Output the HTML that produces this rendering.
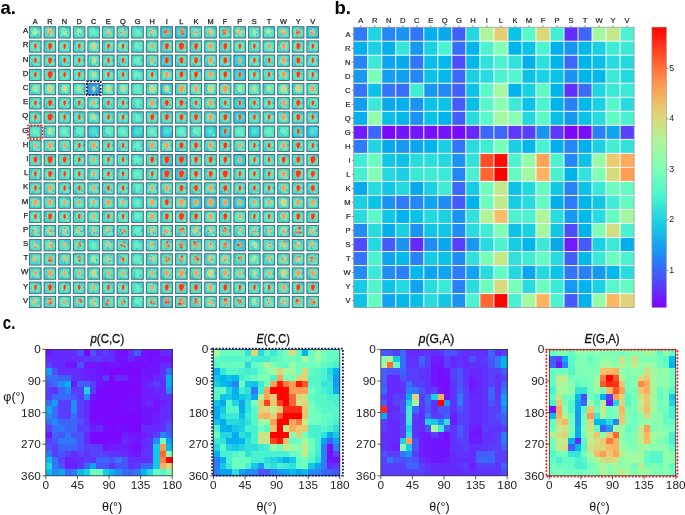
<!DOCTYPE html>
<html><head><meta charset="utf-8"><style>
html,body{margin:0;padding:0;background:#fff;width:685px;height:515px;overflow:hidden;font-family:"Liberation Sans",sans-serif;}
svg{display:block;will-change:transform;}
</style></head><body>
<svg width="685" height="515" viewBox="0 0 685 515">
<defs>
<radialGradient id="tg" cx="50%" cy="48%" r="62%">
<stop offset="0" stop-color="#78f2be"/><stop offset="0.45" stop-color="#60eac6"/><stop offset="0.78" stop-color="#48dcd2"/><stop offset="1" stop-color="#32c8e0"/></radialGradient>
<radialGradient id="tb" cx="50%" cy="48%" r="62%">
<stop offset="0" stop-color="#5ae6ca"/><stop offset="0.45" stop-color="#40d8d6"/><stop offset="0.75" stop-color="#2cc4e2"/><stop offset="1" stop-color="#20aaec"/></radialGradient>
<radialGradient id="tc" cx="50%" cy="48%" r="62%">
<stop offset="0" stop-color="#3cc0e8"/><stop offset="0.5" stop-color="#2aa0f0"/><stop offset="0.85" stop-color="#2490f0"/><stop offset="1" stop-color="#20a8ec"/></radialGradient>
<g id="s0"><ellipse cx="7.7" cy="1.9" rx="0.9" ry="1.0" fill="#22aaec" opacity="0.77"/><ellipse cx="3.3" cy="2.0" rx="0.8" ry="0.8" fill="#3ad0dc" opacity="0.60"/><ellipse cx="9.5" cy="2.3" rx="0.7" ry="1.2" fill="#22aaec" opacity="0.65"/><ellipse cx="5.2" cy="10.2" rx="0.5" ry="1.5" fill="#30c8e0" opacity="0.60"/><ellipse cx="2.2" cy="6.5" rx="0.7" ry="0.7" fill="#22aaec" opacity="0.65"/><ellipse cx="5.9" cy="9.7" rx="0.8" ry="0.8" fill="#28b8e8" opacity="0.69"/><ellipse cx="3.6" cy="6.5" rx="0.9" ry="1.5" fill="#84f4b6" opacity="0.55"/><ellipse cx="11.0" cy="2.3" rx="0.8" ry="1.4" fill="#28b8e8" opacity="0.78"/><ellipse cx="5.4" cy="10.1" rx="0.6" ry="1.2" fill="#30c8e0" opacity="0.57"/></g>
<g id="s1"><ellipse cx="9.2" cy="1.8" rx="0.6" ry="0.9" fill="#22aaec" opacity="0.47"/><ellipse cx="11.1" cy="8.8" rx="0.7" ry="1.0" fill="#30c8e0" opacity="0.46"/><ellipse cx="2.4" cy="1.7" rx="1.1" ry="0.7" fill="#28b8e8" opacity="0.59"/><ellipse cx="10.4" cy="5.8" rx="0.6" ry="1.0" fill="#30c8e0" opacity="0.76"/><ellipse cx="9.4" cy="9.1" rx="0.7" ry="1.0" fill="#30c8e0" opacity="0.69"/><ellipse cx="2.0" cy="2.6" rx="1.0" ry="0.6" fill="#3ad0dc" opacity="0.51"/><ellipse cx="9.8" cy="9.9" rx="1.0" ry="1.3" fill="#84f4b6" opacity="0.76"/><ellipse cx="9.0" cy="9.2" rx="1.1" ry="1.0" fill="#84f4b6" opacity="0.59"/><ellipse cx="3.1" cy="10.3" rx="0.9" ry="0.7" fill="#3ad0dc" opacity="0.47"/></g>
<g id="s2"><ellipse cx="1.2" cy="2.6" rx="0.6" ry="1.0" fill="#22aaec" opacity="0.47"/><ellipse cx="3.3" cy="4.7" rx="1.0" ry="1.6" fill="#3ad0dc" opacity="0.58"/><ellipse cx="2.4" cy="9.0" rx="1.3" ry="1.1" fill="#84f4b6" opacity="0.56"/><ellipse cx="2.6" cy="8.1" rx="1.1" ry="1.1" fill="#28b8e8" opacity="0.63"/><ellipse cx="3.3" cy="10.0" rx="0.8" ry="1.3" fill="#22aaec" opacity="0.72"/><ellipse cx="2.1" cy="9.0" rx="0.9" ry="1.5" fill="#30c8e0" opacity="0.72"/><ellipse cx="9.3" cy="10.3" rx="1.2" ry="1.4" fill="#84f4b6" opacity="0.71"/><ellipse cx="3.5" cy="6.0" rx="0.8" ry="0.6" fill="#22aaec" opacity="0.73"/><ellipse cx="9.3" cy="7.9" rx="0.8" ry="1.6" fill="#22aaec" opacity="0.53"/></g>
<g id="s3"><ellipse cx="3.5" cy="3.0" rx="0.7" ry="1.2" fill="#3ad0dc" opacity="0.74"/><ellipse cx="9.2" cy="2.0" rx="1.0" ry="1.5" fill="#28b8e8" opacity="0.62"/><ellipse cx="3.0" cy="8.5" rx="0.8" ry="1.4" fill="#84f4b6" opacity="0.61"/><ellipse cx="2.8" cy="10.3" rx="0.5" ry="1.2" fill="#84f4b6" opacity="0.73"/><ellipse cx="2.7" cy="8.8" rx="1.3" ry="1.3" fill="#30c8e0" opacity="0.50"/><ellipse cx="6.7" cy="1.4" rx="1.1" ry="1.3" fill="#22aaec" opacity="0.63"/><ellipse cx="10.5" cy="5.2" rx="1.2" ry="1.4" fill="#28b8e8" opacity="0.46"/><ellipse cx="3.3" cy="5.8" rx="1.1" ry="0.9" fill="#3ad0dc" opacity="0.60"/><ellipse cx="2.5" cy="9.6" rx="0.8" ry="1.1" fill="#3ad0dc" opacity="0.74"/></g>
<g id="s4"><ellipse cx="10.0" cy="2.4" rx="0.6" ry="1.1" fill="#84f4b6" opacity="0.72"/><ellipse cx="2.7" cy="2.5" rx="1.0" ry="0.7" fill="#22aaec" opacity="0.56"/><ellipse cx="9.0" cy="2.2" rx="0.9" ry="0.8" fill="#30c8e0" opacity="0.46"/><ellipse cx="2.2" cy="5.4" rx="0.5" ry="1.5" fill="#22aaec" opacity="0.61"/><ellipse cx="6.0" cy="9.9" rx="1.1" ry="1.5" fill="#30c8e0" opacity="0.77"/><ellipse cx="10.1" cy="3.1" rx="0.9" ry="1.0" fill="#84f4b6" opacity="0.60"/><ellipse cx="1.9" cy="3.4" rx="0.6" ry="1.3" fill="#22aaec" opacity="0.76"/><ellipse cx="2.7" cy="7.8" rx="1.0" ry="0.7" fill="#28b8e8" opacity="0.79"/><ellipse cx="3.4" cy="10.0" rx="0.8" ry="1.1" fill="#28b8e8" opacity="0.51"/></g>
<g id="s5"><ellipse cx="1.4" cy="6.3" rx="0.9" ry="0.6" fill="#30c8e0" opacity="0.63"/><ellipse cx="4.2" cy="10.0" rx="0.6" ry="1.5" fill="#28b8e8" opacity="0.79"/><ellipse cx="2.2" cy="3.6" rx="0.5" ry="1.4" fill="#30c8e0" opacity="0.71"/><ellipse cx="9.4" cy="9.0" rx="1.0" ry="1.5" fill="#84f4b6" opacity="0.50"/><ellipse cx="10.4" cy="6.4" rx="1.1" ry="0.7" fill="#22aaec" opacity="0.73"/><ellipse cx="3.0" cy="9.4" rx="0.7" ry="0.6" fill="#22aaec" opacity="0.73"/><ellipse cx="2.0" cy="9.1" rx="0.6" ry="1.5" fill="#84f4b6" opacity="0.45"/><ellipse cx="11.1" cy="5.0" rx="1.2" ry="1.2" fill="#22aaec" opacity="0.63"/><ellipse cx="3.6" cy="2.2" rx="0.6" ry="0.7" fill="#28b8e8" opacity="0.78"/></g>
<linearGradient id="cb" x1="0" y1="1" x2="0" y2="0">
<stop offset="0.0" stop-color="#8000ff"/>
<stop offset="0.1" stop-color="#4c4ffc"/>
<stop offset="0.2" stop-color="#1996f3"/>
<stop offset="0.3" stop-color="#19cee3"/>
<stop offset="0.4" stop-color="#4df3ce"/>
<stop offset="0.5" stop-color="#80ffb4"/>
<stop offset="0.6" stop-color="#b2f396"/>
<stop offset="0.7" stop-color="#e5ce74"/>
<stop offset="0.8" stop-color="#ff964f"/>
<stop offset="0.9" stop-color="#ff4f28"/>
<stop offset="1.0" stop-color="#ff0000"/>
</linearGradient></defs>
<rect width="685" height="515" fill="#fff"/>
<g>
<rect x="29.1" y="26.3" width="12.4" height="12.1" fill="url(#tg)"/>
<use href="#s0" x="29.1" y="26.3"/>
<ellipse cx="35.5" cy="32.05" rx="2.05" ry="3.5" fill="#b8ec98" opacity="0.55"/>
<ellipse cx="36.88" cy="33.49" rx="0.8" ry="0.96" fill="#e8cc7c"/>
<ellipse cx="35.55" cy="31.52" rx="0.95" ry="0.99" fill="#e8cc7c"/>
<ellipse cx="35.41" cy="32.52" rx="1" ry="1.08" fill="#b8ec98"/>
<ellipse cx="34.63" cy="33.48" rx="0.88" ry="0.96" fill="#b8ec98"/>
<circle cx="37.79" cy="35.14" r="0.6" fill="#2a78f0" opacity="0.8"/>
<circle cx="37.24" cy="34.62" r="0.6" fill="#2a78f0" opacity="0.8"/>
<rect x="43.7" y="26.3" width="12.4" height="12.1" fill="url(#tg)"/>
<use href="#s3" x="43.7" y="26.3"/>
<ellipse cx="50.1" cy="32.05" rx="2.75" ry="3.9" fill="#f0c078" opacity="0.55"/>
<ellipse cx="48.64" cy="34" rx="1.34" ry="0.96" fill="#ff9a5a"/>
<ellipse cx="50.08" cy="31.77" rx="1.27" ry="1.22" fill="#ff9a5a"/>
<ellipse cx="48.48" cy="29.41" rx="1.38" ry="1.05" fill="#f0c078"/>
<ellipse cx="51.15" cy="29.26" rx="1.15" ry="1.19" fill="#f0c078"/>
<circle cx="48.58" cy="34.9" r="0.6" fill="#2a78f0" opacity="0.8"/>
<circle cx="52.35" cy="29.05" r="0.6" fill="#2a78f0" opacity="0.8"/>
<rect x="58.3" y="26.3" width="12.4" height="12.1" fill="url(#tg)"/>
<use href="#s0" x="58.3" y="26.3"/>
<ellipse cx="64.7" cy="32.05" rx="2.05" ry="3.5" fill="#b8ec98" opacity="0.55"/>
<ellipse cx="66.52" cy="34.56" rx="0.65" ry="0.88" fill="#e8cc7c"/>
<ellipse cx="66.04" cy="33.37" rx="0.9" ry="0.99" fill="#e8cc7c"/>
<ellipse cx="65.12" cy="32.65" rx="0.87" ry="0.92" fill="#b8ec98"/>
<ellipse cx="64.42" cy="31.45" rx="0.92" ry="1.32" fill="#b8ec98"/>
<circle cx="67.22" cy="32.33" r="0.6" fill="#2a78f0" opacity="0.8"/>
<circle cx="64.39" cy="30.57" r="0.6" fill="#2a78f0" opacity="0.8"/>
<rect x="72.9" y="26.3" width="12.4" height="12.1" fill="url(#tg)"/>
<use href="#s3" x="72.9" y="26.3"/>
<ellipse cx="79.3" cy="32.05" rx="2.05" ry="3.5" fill="#b8ec98" opacity="0.55"/>
<ellipse cx="78.25" cy="32.3" rx="0.78" ry="1.13" fill="#e8cc7c"/>
<ellipse cx="79.8" cy="29.62" rx="0.63" ry="1.24" fill="#e8cc7c"/>
<ellipse cx="78.34" cy="30.56" rx="1.04" ry="1.07" fill="#b8ec98"/>
<ellipse cx="80.65" cy="31.92" rx="0.89" ry="0.91" fill="#b8ec98"/>
<circle cx="80.06" cy="34.41" r="0.6" fill="#2a78f0" opacity="0.8"/>
<circle cx="79.43" cy="33.59" r="0.6" fill="#2a78f0" opacity="0.8"/>
<rect x="87.5" y="26.3" width="12.4" height="12.1" fill="url(#tg)"/>
<use href="#s0" x="87.5" y="26.3"/>
<rect x="102.1" y="26.3" width="12.4" height="12.1" fill="url(#tg)"/>
<use href="#s3" x="102.1" y="26.3"/>
<ellipse cx="108.5" cy="32.05" rx="2.05" ry="3.5" fill="#f0c078" opacity="0.55"/>
<ellipse cx="108.99" cy="33.4" rx="0.95" ry="1.29" fill="#ff9a5a"/>
<ellipse cx="109.46" cy="34.42" rx="0.64" ry="1.06" fill="#ff9a5a"/>
<ellipse cx="110.27" cy="32.88" rx="1" ry="0.89" fill="#f0c078"/>
<ellipse cx="108.38" cy="30.63" rx="0.85" ry="1.12" fill="#f0c078"/>
<circle cx="105.77" cy="30.24" r="0.6" fill="#2a78f0" opacity="0.8"/>
<circle cx="107.27" cy="34.71" r="0.6" fill="#2a78f0" opacity="0.8"/>
<rect x="116.7" y="26.3" width="12.4" height="12.1" fill="url(#tg)"/>
<use href="#s0" x="116.7" y="26.3"/>
<ellipse cx="123.1" cy="32.05" rx="2.05" ry="3.5" fill="#f0c078" opacity="0.55"/>
<ellipse cx="124.27" cy="33.85" rx="0.83" ry="0.97" fill="#ff9a5a"/>
<ellipse cx="121.1" cy="32.96" rx="0.82" ry="1.2" fill="#ff9a5a"/>
<ellipse cx="122.59" cy="33.56" rx="0.74" ry="1.22" fill="#f0c078"/>
<ellipse cx="124.02" cy="31.57" rx="0.85" ry="1.17" fill="#f0c078"/>
<circle cx="121.38" cy="32.39" r="0.6" fill="#2a78f0" opacity="0.8"/>
<circle cx="124.81" cy="30.55" r="0.6" fill="#2a78f0" opacity="0.8"/>
<rect x="131.3" y="26.3" width="12.4" height="12.1" fill="url(#tg)"/>
<use href="#s3" x="131.3" y="26.3"/>
<rect x="145.9" y="26.3" width="12.4" height="12.1" fill="url(#tg)"/>
<use href="#s0" x="145.9" y="26.3"/>
<ellipse cx="152.3" cy="32.05" rx="2.05" ry="3.5" fill="#f0c078" opacity="0.55"/>
<ellipse cx="151.21" cy="34.64" rx="0.68" ry="1.18" fill="#ff9a5a"/>
<ellipse cx="150.64" cy="30.64" rx="1.04" ry="0.94" fill="#ff9a5a"/>
<ellipse cx="152.87" cy="31.82" rx="0.81" ry="1.08" fill="#f0c078"/>
<ellipse cx="151.07" cy="33.9" rx="0.66" ry="0.95" fill="#f0c078"/>
<circle cx="149.61" cy="30.56" r="0.6" fill="#2a78f0" opacity="0.8"/>
<circle cx="151.78" cy="34.62" r="0.6" fill="#2a78f0" opacity="0.8"/>
<rect x="160.5" y="26.3" width="12.4" height="12.1" fill="url(#tb)"/>
<use href="#s3" x="160.5" y="26.3"/>
<ellipse cx="166.9" cy="32.05" rx="2.75" ry="3.9" fill="#ff9050" opacity="0.55"/>
<ellipse cx="166.75" cy="31.34" rx="0.97" ry="1.26" fill="#ff3518"/>
<ellipse cx="164.93" cy="32.07" rx="1.42" ry="0.88" fill="#ff3518"/>
<ellipse cx="167.12" cy="32.7" rx="0.91" ry="1.02" fill="#ff9050"/>
<ellipse cx="167.71" cy="31.78" rx="1.32" ry="0.92" fill="#ff9050"/>
<circle cx="165.43" cy="29.56" r="0.6" fill="#2a78f0" opacity="0.8"/>
<circle cx="166.94" cy="34.76" r="0.6" fill="#2a78f0" opacity="0.8"/>
<rect x="175.1" y="26.3" width="12.4" height="12.1" fill="url(#tb)"/>
<use href="#s0" x="175.1" y="26.3"/>
<ellipse cx="181.5" cy="32.05" rx="2.75" ry="3.9" fill="#ff9050" opacity="0.55"/>
<ellipse cx="181.79" cy="31.65" rx="1.23" ry="0.94" fill="#ff3518"/>
<ellipse cx="182.75" cy="33.86" rx="1.27" ry="0.92" fill="#ff3518"/>
<ellipse cx="181.58" cy="31.09" rx="1.04" ry="1.3" fill="#ff9050"/>
<ellipse cx="183.49" cy="29.5" rx="1.4" ry="1.13" fill="#ff9050"/>
<circle cx="180.84" cy="30.67" r="0.6" fill="#2a78f0" opacity="0.8"/>
<circle cx="182.48" cy="31.77" r="0.6" fill="#2a78f0" opacity="0.8"/>
<rect x="189.7" y="26.3" width="12.4" height="12.1" fill="url(#tg)"/>
<use href="#s3" x="189.7" y="26.3"/>
<ellipse cx="196.1" cy="32.05" rx="2.05" ry="3.5" fill="#f0c078" opacity="0.55"/>
<ellipse cx="195.91" cy="32.38" rx="1.01" ry="1.06" fill="#ff9a5a"/>
<ellipse cx="196.13" cy="32.54" rx="0.7" ry="1.09" fill="#ff9a5a"/>
<ellipse cx="196.62" cy="33.69" rx="0.66" ry="0.99" fill="#f0c078"/>
<ellipse cx="194.46" cy="33.78" rx="0.91" ry="0.86" fill="#f0c078"/>
<circle cx="198.8" cy="35.02" r="0.6" fill="#2a78f0" opacity="0.8"/>
<circle cx="196.96" cy="32.79" r="0.6" fill="#2a78f0" opacity="0.8"/>
<rect x="204.3" y="26.3" width="12.4" height="12.1" fill="url(#tg)"/>
<use href="#s0" x="204.3" y="26.3"/>
<ellipse cx="210.7" cy="32.05" rx="2.75" ry="3.9" fill="#f0c078" opacity="0.55"/>
<ellipse cx="210.6" cy="32.93" rx="1.28" ry="0.91" fill="#ff9a5a"/>
<ellipse cx="208.74" cy="31.35" rx="1.05" ry="1.23" fill="#ff9a5a"/>
<ellipse cx="211.46" cy="32.62" rx="1.22" ry="1.16" fill="#f0c078"/>
<ellipse cx="209.28" cy="31.71" rx="0.98" ry="1.27" fill="#f0c078"/>
<circle cx="208.23" cy="34.09" r="0.6" fill="#2a78f0" opacity="0.8"/>
<circle cx="208.32" cy="33.25" r="0.6" fill="#2a78f0" opacity="0.8"/>
<rect x="218.9" y="26.3" width="12.4" height="12.1" fill="url(#tg)"/>
<use href="#s3" x="218.9" y="26.3"/>
<ellipse cx="225.3" cy="32.05" rx="2.75" ry="3.9" fill="#ff9050" opacity="0.55"/>
<ellipse cx="224.34" cy="33.09" rx="1.29" ry="1.25" fill="#ff3518"/>
<ellipse cx="224.04" cy="30.54" rx="0.98" ry="0.95" fill="#ff3518"/>
<ellipse cx="226.24" cy="29.98" rx="1.2" ry="0.94" fill="#ff9050"/>
<ellipse cx="224.48" cy="31.67" rx="1.38" ry="1.13" fill="#ff9050"/>
<circle cx="222.58" cy="30.62" r="0.6" fill="#2a78f0" opacity="0.8"/>
<circle cx="223.32" cy="34.43" r="0.6" fill="#2a78f0" opacity="0.8"/>
<rect x="233.5" y="26.3" width="12.4" height="12.1" fill="url(#tg)"/>
<use href="#s0" x="233.5" y="26.3"/>
<ellipse cx="239.9" cy="32.05" rx="2.75" ry="3.9" fill="#f0c078" opacity="0.55"/>
<ellipse cx="238.33" cy="33.18" rx="1.27" ry="1.29" fill="#ff9a5a"/>
<ellipse cx="238.98" cy="30.68" rx="1.32" ry="1.16" fill="#ff9a5a"/>
<ellipse cx="239.11" cy="33.08" rx="1.12" ry="1.21" fill="#f0c078"/>
<ellipse cx="238.37" cy="30.5" rx="1.42" ry="1.01" fill="#f0c078"/>
<circle cx="238.56" cy="34" r="0.6" fill="#2a78f0" opacity="0.8"/>
<circle cx="240.64" cy="29.81" r="0.6" fill="#2a78f0" opacity="0.8"/>
<rect x="248.1" y="26.3" width="12.4" height="12.1" fill="url(#tg)"/>
<use href="#s3" x="248.1" y="26.3"/>
<ellipse cx="254.5" cy="32.05" rx="2.05" ry="3.5" fill="#b8ec98" opacity="0.55"/>
<ellipse cx="256.36" cy="29.32" rx="0.93" ry="0.92" fill="#e8cc7c"/>
<ellipse cx="256.45" cy="29.34" rx="0.99" ry="1.17" fill="#e8cc7c"/>
<ellipse cx="255.93" cy="34.85" rx="0.72" ry="1" fill="#b8ec98"/>
<ellipse cx="255.33" cy="30.82" rx="0.73" ry="0.95" fill="#b8ec98"/>
<circle cx="256.5" cy="34.45" r="0.6" fill="#2a78f0" opacity="0.8"/>
<circle cx="256.17" cy="30.28" r="0.6" fill="#2a78f0" opacity="0.8"/>
<rect x="262.7" y="26.3" width="12.4" height="12.1" fill="url(#tg)"/>
<use href="#s0" x="262.7" y="26.3"/>
<ellipse cx="269.1" cy="32.05" rx="2.05" ry="3.5" fill="#b8ec98" opacity="0.55"/>
<ellipse cx="268.55" cy="31.94" rx="0.8" ry="1.05" fill="#e8cc7c"/>
<ellipse cx="268.74" cy="32.93" rx="0.73" ry="1.14" fill="#e8cc7c"/>
<ellipse cx="267.14" cy="30.94" rx="0.76" ry="0.91" fill="#b8ec98"/>
<ellipse cx="270.07" cy="30.99" rx="0.95" ry="1.3" fill="#b8ec98"/>
<circle cx="267.72" cy="34.57" r="0.6" fill="#2a78f0" opacity="0.8"/>
<circle cx="270.82" cy="33.12" r="0.6" fill="#2a78f0" opacity="0.8"/>
<rect x="277.3" y="26.3" width="12.4" height="12.1" fill="url(#tg)"/>
<use href="#s3" x="277.3" y="26.3"/>
<ellipse cx="283.7" cy="32.05" rx="2.75" ry="3.9" fill="#f0c078" opacity="0.55"/>
<ellipse cx="283.79" cy="33.77" rx="1.46" ry="0.98" fill="#ff9a5a"/>
<ellipse cx="284.76" cy="33.19" rx="1.28" ry="0.89" fill="#ff9a5a"/>
<ellipse cx="281.81" cy="31.4" rx="1.33" ry="0.96" fill="#f0c078"/>
<ellipse cx="283.71" cy="31.03" rx="1.39" ry="1.29" fill="#f0c078"/>
<circle cx="283.15" cy="35.24" r="0.6" fill="#2a78f0" opacity="0.8"/>
<circle cx="281.25" cy="34.05" r="0.6" fill="#2a78f0" opacity="0.8"/>
<rect x="291.9" y="26.3" width="12.4" height="12.1" fill="url(#tg)"/>
<use href="#s0" x="291.9" y="26.3"/>
<ellipse cx="298.3" cy="32.05" rx="2.75" ry="3.9" fill="#ff9050" opacity="0.55"/>
<ellipse cx="297.03" cy="32.95" rx="1.09" ry="0.94" fill="#ff3518"/>
<ellipse cx="298.26" cy="32.02" rx="1.17" ry="1.06" fill="#ff3518"/>
<ellipse cx="297.36" cy="30.67" rx="1.3" ry="1" fill="#ff9050"/>
<ellipse cx="299" cy="33.66" rx="1.4" ry="1.29" fill="#ff9050"/>
<circle cx="296.81" cy="30.37" r="0.6" fill="#2a78f0" opacity="0.8"/>
<circle cx="299.62" cy="32.53" r="0.6" fill="#2a78f0" opacity="0.8"/>
<rect x="306.5" y="26.3" width="12.4" height="12.1" fill="url(#tb)"/>
<use href="#s3" x="306.5" y="26.3"/>
<ellipse cx="312.9" cy="32.05" rx="2.75" ry="3.9" fill="#f0c078" opacity="0.55"/>
<ellipse cx="313.61" cy="33.65" rx="1.2" ry="1.09" fill="#ff9a5a"/>
<ellipse cx="312.47" cy="34.83" rx="1.06" ry="0.91" fill="#ff9a5a"/>
<ellipse cx="311.94" cy="30.71" rx="1.08" ry="0.97" fill="#f0c078"/>
<ellipse cx="311.33" cy="31.07" rx="1.07" ry="1.11" fill="#f0c078"/>
<circle cx="311.23" cy="29.3" r="0.6" fill="#2a78f0" opacity="0.8"/>
<circle cx="311.23" cy="32.32" r="0.6" fill="#2a78f0" opacity="0.8"/>
<rect x="29.1" y="40.49" width="12.4" height="12.1" fill="url(#tg)"/>
<use href="#s1" x="29.1" y="40.49"/>
<ellipse cx="35.5" cy="46.24" rx="1.85" ry="3.3" fill="#ff9050" opacity="0.7"/>
<ellipse cx="35.5" cy="45.59" rx="1.15" ry="1.95" fill="#ff3518"/>
<ellipse cx="35.3" cy="47.02" rx="0.8" ry="1.82" fill="#ff3518"/>
<rect x="43.7" y="40.49" width="12.4" height="12.1" fill="url(#tg)"/>
<use href="#s4" x="43.7" y="40.49"/>
<ellipse cx="50.1" cy="46.24" rx="2.55" ry="3.7" fill="#ff9050" opacity="0.7"/>
<ellipse cx="50.1" cy="45.49" rx="1.85" ry="2.25" fill="#ff3518"/>
<ellipse cx="49.9" cy="47.14" rx="1.29" ry="2.1" fill="#ff3518"/>
<rect x="58.3" y="40.49" width="12.4" height="12.1" fill="url(#tg)"/>
<use href="#s1" x="58.3" y="40.49"/>
<ellipse cx="64.7" cy="46.24" rx="1.85" ry="3.3" fill="#ff9050" opacity="0.7"/>
<ellipse cx="64.7" cy="45.59" rx="1.15" ry="1.95" fill="#ff3518"/>
<ellipse cx="64.5" cy="47.02" rx="0.8" ry="1.82" fill="#ff3518"/>
<rect x="72.9" y="40.49" width="12.4" height="12.1" fill="url(#tg)"/>
<use href="#s4" x="72.9" y="40.49"/>
<ellipse cx="79.3" cy="46.24" rx="1.85" ry="3.3" fill="#ff9050" opacity="0.7"/>
<ellipse cx="79.3" cy="45.59" rx="1.15" ry="1.95" fill="#ff3518"/>
<ellipse cx="79.1" cy="47.02" rx="0.8" ry="1.82" fill="#ff3518"/>
<rect x="87.5" y="40.49" width="12.4" height="12.1" fill="url(#tg)"/>
<use href="#s1" x="87.5" y="40.49"/>
<ellipse cx="93.9" cy="46.24" rx="2.55" ry="3.7" fill="#b8ec98" opacity="0.7"/>
<ellipse cx="93.9" cy="45.49" rx="1.85" ry="2.25" fill="#e8cc7c"/>
<ellipse cx="93.7" cy="47.14" rx="1.29" ry="2.1" fill="#e8cc7c"/>
<rect x="102.1" y="40.49" width="12.4" height="12.1" fill="url(#tg)"/>
<use href="#s4" x="102.1" y="40.49"/>
<ellipse cx="108.5" cy="46.24" rx="1.85" ry="3.3" fill="#ff9050" opacity="0.7"/>
<ellipse cx="108.5" cy="45.59" rx="1.15" ry="1.95" fill="#ff3518"/>
<ellipse cx="108.3" cy="47.02" rx="0.8" ry="1.82" fill="#ff3518"/>
<rect x="116.7" y="40.49" width="12.4" height="12.1" fill="url(#tg)"/>
<use href="#s1" x="116.7" y="40.49"/>
<ellipse cx="123.1" cy="46.24" rx="1.85" ry="3.3" fill="#ff9050" opacity="0.7"/>
<ellipse cx="123.1" cy="45.59" rx="1.15" ry="1.95" fill="#ff3518"/>
<ellipse cx="122.9" cy="47.02" rx="0.8" ry="1.82" fill="#ff3518"/>
<rect x="131.3" y="40.49" width="12.4" height="12.1" fill="url(#tg)"/>
<use href="#s4" x="131.3" y="40.49"/>
<rect x="145.9" y="40.49" width="12.4" height="12.1" fill="url(#tg)"/>
<use href="#s1" x="145.9" y="40.49"/>
<ellipse cx="152.3" cy="46.24" rx="1.85" ry="3.3" fill="#f0c078" opacity="0.7"/>
<ellipse cx="152.3" cy="45.59" rx="1.15" ry="1.95" fill="#ff9a5a"/>
<ellipse cx="152.1" cy="47.02" rx="0.8" ry="1.82" fill="#ff9a5a"/>
<rect x="160.5" y="40.49" width="12.4" height="12.1" fill="url(#tg)"/>
<use href="#s4" x="160.5" y="40.49"/>
<ellipse cx="166.9" cy="46.24" rx="2.55" ry="3.7" fill="#ff9050" opacity="0.7"/>
<ellipse cx="166.9" cy="45.49" rx="1.85" ry="2.25" fill="#ff3518"/>
<ellipse cx="166.7" cy="47.14" rx="1.29" ry="2.1" fill="#ff3518"/>
<rect x="175.1" y="40.49" width="12.4" height="12.1" fill="url(#tg)"/>
<use href="#s1" x="175.1" y="40.49"/>
<ellipse cx="181.5" cy="46.24" rx="3.15" ry="4.1" fill="#ff9050" opacity="0.7"/>
<ellipse cx="181.5" cy="45.39" rx="2.45" ry="2.55" fill="#ff3518"/>
<ellipse cx="181.3" cy="47.26" rx="1.72" ry="2.38" fill="#ff3518"/>
<rect x="189.7" y="40.49" width="12.4" height="12.1" fill="url(#tg)"/>
<use href="#s4" x="189.7" y="40.49"/>
<ellipse cx="196.1" cy="46.24" rx="2.55" ry="3.7" fill="#ff9050" opacity="0.7"/>
<ellipse cx="196.1" cy="45.49" rx="1.85" ry="2.25" fill="#ff3518"/>
<ellipse cx="195.9" cy="47.14" rx="1.29" ry="2.1" fill="#ff3518"/>
<rect x="204.3" y="40.49" width="12.4" height="12.1" fill="url(#tg)"/>
<use href="#s1" x="204.3" y="40.49"/>
<ellipse cx="210.7" cy="46.24" rx="2.55" ry="3.7" fill="#f0c078" opacity="0.7"/>
<ellipse cx="210.7" cy="45.49" rx="1.85" ry="2.25" fill="#ff9a5a"/>
<ellipse cx="210.5" cy="47.14" rx="1.29" ry="2.1" fill="#ff9a5a"/>
<rect x="218.9" y="40.49" width="12.4" height="12.1" fill="url(#tg)"/>
<use href="#s4" x="218.9" y="40.49"/>
<ellipse cx="225.3" cy="46.24" rx="2.55" ry="3.7" fill="#ff9050" opacity="0.7"/>
<ellipse cx="225.3" cy="45.49" rx="1.85" ry="2.25" fill="#ff3518"/>
<ellipse cx="225.1" cy="47.14" rx="1.29" ry="2.1" fill="#ff3518"/>
<rect x="233.5" y="40.49" width="12.4" height="12.1" fill="url(#tg)"/>
<use href="#s1" x="233.5" y="40.49"/>
<ellipse cx="239.9" cy="46.24" rx="1.85" ry="3.3" fill="#ff9050" opacity="0.7"/>
<ellipse cx="239.9" cy="45.59" rx="1.15" ry="1.95" fill="#ff3518"/>
<ellipse cx="239.7" cy="47.02" rx="0.8" ry="1.82" fill="#ff3518"/>
<rect x="248.1" y="40.49" width="12.4" height="12.1" fill="url(#tg)"/>
<use href="#s4" x="248.1" y="40.49"/>
<ellipse cx="254.5" cy="46.24" rx="1.85" ry="3.3" fill="#ff9050" opacity="0.7"/>
<ellipse cx="254.5" cy="45.59" rx="1.15" ry="1.95" fill="#ff3518"/>
<ellipse cx="254.3" cy="47.02" rx="0.8" ry="1.82" fill="#ff3518"/>
<rect x="262.7" y="40.49" width="12.4" height="12.1" fill="url(#tg)"/>
<use href="#s1" x="262.7" y="40.49"/>
<ellipse cx="269.1" cy="46.24" rx="1.85" ry="3.3" fill="#f0c078" opacity="0.7"/>
<ellipse cx="269.1" cy="45.59" rx="1.15" ry="1.95" fill="#ff9a5a"/>
<ellipse cx="268.9" cy="47.02" rx="0.8" ry="1.82" fill="#ff9a5a"/>
<rect x="277.3" y="40.49" width="12.4" height="12.1" fill="url(#tg)"/>
<use href="#s4" x="277.3" y="40.49"/>
<ellipse cx="283.7" cy="46.24" rx="2.55" ry="3.7" fill="#f0c078" opacity="0.7"/>
<ellipse cx="283.7" cy="45.49" rx="1.85" ry="2.25" fill="#ff9a5a"/>
<ellipse cx="283.5" cy="47.14" rx="1.29" ry="2.1" fill="#ff9a5a"/>
<rect x="291.9" y="40.49" width="12.4" height="12.1" fill="url(#tg)"/>
<use href="#s1" x="291.9" y="40.49"/>
<ellipse cx="298.3" cy="46.24" rx="2.55" ry="3.7" fill="#ff9050" opacity="0.7"/>
<ellipse cx="298.3" cy="45.49" rx="1.85" ry="2.25" fill="#ff3518"/>
<ellipse cx="298.1" cy="47.14" rx="1.29" ry="2.1" fill="#ff3518"/>
<rect x="306.5" y="40.49" width="12.4" height="12.1" fill="url(#tg)"/>
<use href="#s4" x="306.5" y="40.49"/>
<ellipse cx="312.9" cy="46.24" rx="1.85" ry="3.3" fill="#ff9050" opacity="0.7"/>
<ellipse cx="312.9" cy="45.59" rx="1.15" ry="1.95" fill="#ff3518"/>
<ellipse cx="312.7" cy="47.02" rx="0.8" ry="1.82" fill="#ff3518"/>
<rect x="29.1" y="54.68" width="12.4" height="12.1" fill="url(#tg)"/>
<use href="#s2" x="29.1" y="54.68"/>
<ellipse cx="35.5" cy="60.43" rx="1.85" ry="3.3" fill="#ff9050" opacity="0.7"/>
<ellipse cx="35.5" cy="59.78" rx="1.15" ry="1.95" fill="#ff3518"/>
<ellipse cx="35.3" cy="61.21" rx="0.8" ry="1.82" fill="#ff3518"/>
<rect x="43.7" y="54.68" width="12.4" height="12.1" fill="url(#tg)"/>
<use href="#s5" x="43.7" y="54.68"/>
<ellipse cx="50.1" cy="60.43" rx="2.55" ry="3.7" fill="#ff9050" opacity="0.7"/>
<ellipse cx="50.1" cy="59.68" rx="1.85" ry="2.25" fill="#ff3518"/>
<ellipse cx="49.9" cy="61.33" rx="1.29" ry="2.1" fill="#ff3518"/>
<rect x="58.3" y="54.68" width="12.4" height="12.1" fill="url(#tg)"/>
<use href="#s2" x="58.3" y="54.68"/>
<ellipse cx="64.7" cy="60.43" rx="1.85" ry="3.3" fill="#ff9050" opacity="0.7"/>
<ellipse cx="64.7" cy="59.78" rx="1.15" ry="1.95" fill="#ff3518"/>
<ellipse cx="64.5" cy="61.21" rx="0.8" ry="1.82" fill="#ff3518"/>
<rect x="72.9" y="54.68" width="12.4" height="12.1" fill="url(#tg)"/>
<use href="#s5" x="72.9" y="54.68"/>
<ellipse cx="79.3" cy="60.43" rx="1.85" ry="3.3" fill="#ff9050" opacity="0.7"/>
<ellipse cx="79.3" cy="59.78" rx="1.15" ry="1.95" fill="#ff3518"/>
<ellipse cx="79.1" cy="61.21" rx="0.8" ry="1.82" fill="#ff3518"/>
<rect x="87.5" y="54.68" width="12.4" height="12.1" fill="url(#tg)"/>
<use href="#s2" x="87.5" y="54.68"/>
<ellipse cx="93.9" cy="60.43" rx="1.85" ry="3.3" fill="#b8ec98" opacity="0.7"/>
<ellipse cx="93.9" cy="59.78" rx="1.15" ry="1.95" fill="#e8cc7c"/>
<ellipse cx="93.7" cy="61.21" rx="0.8" ry="1.82" fill="#e8cc7c"/>
<rect x="102.1" y="54.68" width="12.4" height="12.1" fill="url(#tg)"/>
<use href="#s5" x="102.1" y="54.68"/>
<ellipse cx="108.5" cy="60.43" rx="1.85" ry="3.3" fill="#ff9050" opacity="0.7"/>
<ellipse cx="108.5" cy="59.78" rx="1.15" ry="1.95" fill="#ff3518"/>
<ellipse cx="108.3" cy="61.21" rx="0.8" ry="1.82" fill="#ff3518"/>
<rect x="116.7" y="54.68" width="12.4" height="12.1" fill="url(#tg)"/>
<use href="#s2" x="116.7" y="54.68"/>
<ellipse cx="123.1" cy="60.43" rx="1.85" ry="3.3" fill="#ff9050" opacity="0.7"/>
<ellipse cx="123.1" cy="59.78" rx="1.15" ry="1.95" fill="#ff3518"/>
<ellipse cx="122.9" cy="61.21" rx="0.8" ry="1.82" fill="#ff3518"/>
<rect x="131.3" y="54.68" width="12.4" height="12.1" fill="url(#tg)"/>
<use href="#s5" x="131.3" y="54.68"/>
<rect x="145.9" y="54.68" width="12.4" height="12.1" fill="url(#tg)"/>
<use href="#s2" x="145.9" y="54.68"/>
<ellipse cx="152.3" cy="60.43" rx="1.85" ry="3.3" fill="#f0c078" opacity="0.7"/>
<ellipse cx="152.3" cy="59.78" rx="1.15" ry="1.95" fill="#ff9a5a"/>
<ellipse cx="152.1" cy="61.21" rx="0.8" ry="1.82" fill="#ff9a5a"/>
<rect x="160.5" y="54.68" width="12.4" height="12.1" fill="url(#tb)"/>
<use href="#s5" x="160.5" y="54.68"/>
<ellipse cx="166.9" cy="60.43" rx="2.55" ry="3.7" fill="#ff9050" opacity="0.7"/>
<ellipse cx="166.9" cy="59.68" rx="1.85" ry="2.25" fill="#ff3518"/>
<ellipse cx="166.7" cy="61.33" rx="1.29" ry="2.1" fill="#ff3518"/>
<rect x="175.1" y="54.68" width="12.4" height="12.1" fill="url(#tg)"/>
<use href="#s2" x="175.1" y="54.68"/>
<ellipse cx="181.5" cy="60.43" rx="2.55" ry="3.7" fill="#ff9050" opacity="0.7"/>
<ellipse cx="181.5" cy="59.68" rx="1.85" ry="2.25" fill="#ff3518"/>
<ellipse cx="181.3" cy="61.33" rx="1.29" ry="2.1" fill="#ff3518"/>
<rect x="189.7" y="54.68" width="12.4" height="12.1" fill="url(#tg)"/>
<use href="#s5" x="189.7" y="54.68"/>
<ellipse cx="196.1" cy="60.43" rx="2.55" ry="3.7" fill="#ff9050" opacity="0.7"/>
<ellipse cx="196.1" cy="59.68" rx="1.85" ry="2.25" fill="#ff3518"/>
<ellipse cx="195.9" cy="61.33" rx="1.29" ry="2.1" fill="#ff3518"/>
<rect x="204.3" y="54.68" width="12.4" height="12.1" fill="url(#tg)"/>
<use href="#s2" x="204.3" y="54.68"/>
<ellipse cx="210.7" cy="60.43" rx="2.55" ry="3.7" fill="#f0c078" opacity="0.7"/>
<ellipse cx="210.7" cy="59.68" rx="1.85" ry="2.25" fill="#ff9a5a"/>
<ellipse cx="210.5" cy="61.33" rx="1.29" ry="2.1" fill="#ff9a5a"/>
<rect x="218.9" y="54.68" width="12.4" height="12.1" fill="url(#tg)"/>
<use href="#s5" x="218.9" y="54.68"/>
<ellipse cx="225.3" cy="60.43" rx="2.55" ry="3.7" fill="#ff9050" opacity="0.7"/>
<ellipse cx="225.3" cy="59.68" rx="1.85" ry="2.25" fill="#ff3518"/>
<ellipse cx="225.1" cy="61.33" rx="1.29" ry="2.1" fill="#ff3518"/>
<rect x="233.5" y="54.68" width="12.4" height="12.1" fill="url(#tb)"/>
<use href="#s2" x="233.5" y="54.68"/>
<ellipse cx="239.9" cy="60.43" rx="1.85" ry="3.3" fill="#f0c078" opacity="0.7"/>
<ellipse cx="239.9" cy="59.78" rx="1.15" ry="1.95" fill="#ff9a5a"/>
<ellipse cx="239.7" cy="61.21" rx="0.8" ry="1.82" fill="#ff9a5a"/>
<rect x="248.1" y="54.68" width="12.4" height="12.1" fill="url(#tg)"/>
<use href="#s5" x="248.1" y="54.68"/>
<ellipse cx="254.5" cy="60.43" rx="1.85" ry="3.3" fill="#ff9050" opacity="0.7"/>
<ellipse cx="254.5" cy="59.78" rx="1.15" ry="1.95" fill="#ff3518"/>
<ellipse cx="254.3" cy="61.21" rx="0.8" ry="1.82" fill="#ff3518"/>
<rect x="262.7" y="54.68" width="12.4" height="12.1" fill="url(#tg)"/>
<use href="#s2" x="262.7" y="54.68"/>
<ellipse cx="269.1" cy="60.43" rx="1.85" ry="3.3" fill="#ff9050" opacity="0.7"/>
<ellipse cx="269.1" cy="59.78" rx="1.15" ry="1.95" fill="#ff3518"/>
<ellipse cx="268.9" cy="61.21" rx="0.8" ry="1.82" fill="#ff3518"/>
<rect x="277.3" y="54.68" width="12.4" height="12.1" fill="url(#tg)"/>
<use href="#s5" x="277.3" y="54.68"/>
<ellipse cx="283.7" cy="60.43" rx="2.55" ry="3.7" fill="#f0c078" opacity="0.7"/>
<ellipse cx="283.7" cy="59.68" rx="1.85" ry="2.25" fill="#ff9a5a"/>
<ellipse cx="283.5" cy="61.33" rx="1.29" ry="2.1" fill="#ff9a5a"/>
<rect x="291.9" y="54.68" width="12.4" height="12.1" fill="url(#tg)"/>
<use href="#s2" x="291.9" y="54.68"/>
<ellipse cx="298.3" cy="60.43" rx="2.55" ry="3.7" fill="#ff9050" opacity="0.7"/>
<ellipse cx="298.3" cy="59.68" rx="1.85" ry="2.25" fill="#ff3518"/>
<ellipse cx="298.1" cy="61.33" rx="1.29" ry="2.1" fill="#ff3518"/>
<rect x="306.5" y="54.68" width="12.4" height="12.1" fill="url(#tg)"/>
<use href="#s5" x="306.5" y="54.68"/>
<ellipse cx="312.9" cy="60.43" rx="1.85" ry="3.3" fill="#ff9050" opacity="0.7"/>
<ellipse cx="312.9" cy="59.78" rx="1.15" ry="1.95" fill="#ff3518"/>
<ellipse cx="312.7" cy="61.21" rx="0.8" ry="1.82" fill="#ff3518"/>
<rect x="29.1" y="68.87" width="12.4" height="12.1" fill="url(#tg)"/>
<use href="#s3" x="29.1" y="68.87"/>
<ellipse cx="35.5" cy="74.62" rx="1.85" ry="3.3" fill="#ff9050" opacity="0.7"/>
<ellipse cx="35.5" cy="73.97" rx="1.15" ry="1.95" fill="#ff3518"/>
<ellipse cx="35.3" cy="75.4" rx="0.8" ry="1.82" fill="#ff3518"/>
<rect x="43.7" y="68.87" width="12.4" height="12.1" fill="url(#tg)"/>
<use href="#s0" x="43.7" y="68.87"/>
<ellipse cx="50.1" cy="74.62" rx="3.15" ry="4.1" fill="#ff9050" opacity="0.7"/>
<ellipse cx="50.1" cy="73.77" rx="2.45" ry="2.55" fill="#ff3518"/>
<ellipse cx="49.9" cy="75.64" rx="1.72" ry="2.38" fill="#ff3518"/>
<rect x="58.3" y="68.87" width="12.4" height="12.1" fill="url(#tg)"/>
<use href="#s3" x="58.3" y="68.87"/>
<ellipse cx="64.7" cy="74.62" rx="1.85" ry="3.3" fill="#ff9050" opacity="0.7"/>
<ellipse cx="64.7" cy="73.97" rx="1.15" ry="1.95" fill="#ff3518"/>
<ellipse cx="64.5" cy="75.4" rx="0.8" ry="1.82" fill="#ff3518"/>
<rect x="72.9" y="68.87" width="12.4" height="12.1" fill="url(#tg)"/>
<use href="#s0" x="72.9" y="68.87"/>
<ellipse cx="79.3" cy="74.62" rx="1.85" ry="3.3" fill="#ff9050" opacity="0.7"/>
<ellipse cx="79.3" cy="73.97" rx="1.15" ry="1.95" fill="#ff3518"/>
<ellipse cx="79.1" cy="75.4" rx="0.8" ry="1.82" fill="#ff3518"/>
<rect x="87.5" y="68.87" width="12.4" height="12.1" fill="url(#tg)"/>
<use href="#s3" x="87.5" y="68.87"/>
<ellipse cx="93.9" cy="74.62" rx="1.85" ry="3.3" fill="#b8ec98" opacity="0.7"/>
<ellipse cx="93.9" cy="73.97" rx="1.15" ry="1.95" fill="#e8cc7c"/>
<ellipse cx="93.7" cy="75.4" rx="0.8" ry="1.82" fill="#e8cc7c"/>
<rect x="102.1" y="68.87" width="12.4" height="12.1" fill="url(#tg)"/>
<use href="#s0" x="102.1" y="68.87"/>
<ellipse cx="108.5" cy="74.62" rx="1.85" ry="3.3" fill="#ff9050" opacity="0.7"/>
<ellipse cx="108.5" cy="73.97" rx="1.15" ry="1.95" fill="#ff3518"/>
<ellipse cx="108.3" cy="75.4" rx="0.8" ry="1.82" fill="#ff3518"/>
<rect x="116.7" y="68.87" width="12.4" height="12.1" fill="url(#tg)"/>
<use href="#s3" x="116.7" y="68.87"/>
<ellipse cx="123.1" cy="74.62" rx="1.85" ry="3.3" fill="#ff9050" opacity="0.7"/>
<ellipse cx="123.1" cy="73.97" rx="1.15" ry="1.95" fill="#ff3518"/>
<ellipse cx="122.9" cy="75.4" rx="0.8" ry="1.82" fill="#ff3518"/>
<rect x="131.3" y="68.87" width="12.4" height="12.1" fill="url(#tg)"/>
<use href="#s0" x="131.3" y="68.87"/>
<rect x="145.9" y="68.87" width="12.4" height="12.1" fill="url(#tg)"/>
<use href="#s3" x="145.9" y="68.87"/>
<ellipse cx="152.3" cy="74.62" rx="1.85" ry="3.3" fill="#ff9050" opacity="0.7"/>
<ellipse cx="152.3" cy="73.97" rx="1.15" ry="1.95" fill="#ff3518"/>
<ellipse cx="152.1" cy="75.4" rx="0.8" ry="1.82" fill="#ff3518"/>
<rect x="160.5" y="68.87" width="12.4" height="12.1" fill="url(#tg)"/>
<use href="#s0" x="160.5" y="68.87"/>
<ellipse cx="166.9" cy="74.62" rx="2.55" ry="3.7" fill="#f0c078" opacity="0.7"/>
<ellipse cx="166.9" cy="73.87" rx="1.85" ry="2.25" fill="#ff9a5a"/>
<ellipse cx="166.7" cy="75.52" rx="1.29" ry="2.1" fill="#ff9a5a"/>
<rect x="175.1" y="68.87" width="12.4" height="12.1" fill="url(#tg)"/>
<use href="#s3" x="175.1" y="68.87"/>
<ellipse cx="181.5" cy="74.62" rx="2.55" ry="3.7" fill="#ff9050" opacity="0.7"/>
<ellipse cx="181.5" cy="73.87" rx="1.85" ry="2.25" fill="#ff3518"/>
<ellipse cx="181.3" cy="75.52" rx="1.29" ry="2.1" fill="#ff3518"/>
<rect x="189.7" y="68.87" width="12.4" height="12.1" fill="url(#tg)"/>
<use href="#s0" x="189.7" y="68.87"/>
<ellipse cx="196.1" cy="74.62" rx="2.55" ry="3.7" fill="#ff9050" opacity="0.7"/>
<ellipse cx="196.1" cy="73.87" rx="1.85" ry="2.25" fill="#ff3518"/>
<ellipse cx="195.9" cy="75.52" rx="1.29" ry="2.1" fill="#ff3518"/>
<rect x="204.3" y="68.87" width="12.4" height="12.1" fill="url(#tg)"/>
<use href="#s3" x="204.3" y="68.87"/>
<ellipse cx="210.7" cy="74.62" rx="2.55" ry="3.7" fill="#f0c078" opacity="0.7"/>
<ellipse cx="210.7" cy="73.87" rx="1.85" ry="2.25" fill="#ff9a5a"/>
<ellipse cx="210.5" cy="75.52" rx="1.29" ry="2.1" fill="#ff9a5a"/>
<rect x="218.9" y="68.87" width="12.4" height="12.1" fill="url(#tg)"/>
<use href="#s0" x="218.9" y="68.87"/>
<ellipse cx="225.3" cy="74.62" rx="2.55" ry="3.7" fill="#ff9050" opacity="0.7"/>
<ellipse cx="225.3" cy="73.87" rx="1.85" ry="2.25" fill="#ff3518"/>
<ellipse cx="225.1" cy="75.52" rx="1.29" ry="2.1" fill="#ff3518"/>
<rect x="233.5" y="68.87" width="12.4" height="12.1" fill="url(#tb)"/>
<use href="#s3" x="233.5" y="68.87"/>
<ellipse cx="239.9" cy="74.62" rx="1.85" ry="3.3" fill="#ff9050" opacity="0.7"/>
<ellipse cx="239.9" cy="73.97" rx="1.15" ry="1.95" fill="#ff3518"/>
<ellipse cx="239.7" cy="75.4" rx="0.8" ry="1.82" fill="#ff3518"/>
<rect x="248.1" y="68.87" width="12.4" height="12.1" fill="url(#tg)"/>
<use href="#s0" x="248.1" y="68.87"/>
<ellipse cx="254.5" cy="74.62" rx="1.85" ry="3.3" fill="#ff9050" opacity="0.7"/>
<ellipse cx="254.5" cy="73.97" rx="1.15" ry="1.95" fill="#ff3518"/>
<ellipse cx="254.3" cy="75.4" rx="0.8" ry="1.82" fill="#ff3518"/>
<rect x="262.7" y="68.87" width="12.4" height="12.1" fill="url(#tg)"/>
<use href="#s3" x="262.7" y="68.87"/>
<ellipse cx="269.1" cy="74.62" rx="1.85" ry="3.3" fill="#ff9050" opacity="0.7"/>
<ellipse cx="269.1" cy="73.97" rx="1.15" ry="1.95" fill="#ff3518"/>
<ellipse cx="268.9" cy="75.4" rx="0.8" ry="1.82" fill="#ff3518"/>
<rect x="277.3" y="68.87" width="12.4" height="12.1" fill="url(#tg)"/>
<use href="#s0" x="277.3" y="68.87"/>
<ellipse cx="283.7" cy="74.62" rx="2.55" ry="3.7" fill="#f0c078" opacity="0.7"/>
<ellipse cx="283.7" cy="73.87" rx="1.85" ry="2.25" fill="#ff9a5a"/>
<ellipse cx="283.5" cy="75.52" rx="1.29" ry="2.1" fill="#ff9a5a"/>
<rect x="291.9" y="68.87" width="12.4" height="12.1" fill="url(#tg)"/>
<use href="#s3" x="291.9" y="68.87"/>
<ellipse cx="298.3" cy="74.62" rx="2.55" ry="3.7" fill="#ff9050" opacity="0.7"/>
<ellipse cx="298.3" cy="73.87" rx="1.85" ry="2.25" fill="#ff3518"/>
<ellipse cx="298.1" cy="75.52" rx="1.29" ry="2.1" fill="#ff3518"/>
<rect x="306.5" y="68.87" width="12.4" height="12.1" fill="url(#tg)"/>
<use href="#s0" x="306.5" y="68.87"/>
<ellipse cx="312.9" cy="74.62" rx="1.85" ry="3.3" fill="#ff9050" opacity="0.7"/>
<ellipse cx="312.9" cy="73.97" rx="1.15" ry="1.95" fill="#ff3518"/>
<ellipse cx="312.7" cy="75.4" rx="0.8" ry="1.82" fill="#ff3518"/>
<rect x="29.1" y="83.06" width="12.4" height="12.1" fill="url(#tg)"/>
<use href="#s4" x="29.1" y="83.06"/>
<ellipse cx="35.5" cy="88.81" rx="1.85" ry="3.3" fill="#b8ec98" opacity="0.7"/>
<ellipse cx="35.5" cy="88.16" rx="1.15" ry="1.95" fill="#e8cc7c"/>
<ellipse cx="35.3" cy="89.59" rx="0.8" ry="1.82" fill="#e8cc7c"/>
<rect x="43.7" y="83.06" width="12.4" height="12.1" fill="url(#tg)"/>
<use href="#s1" x="43.7" y="83.06"/>
<ellipse cx="50.1" cy="88.81" rx="3.15" ry="4.1" fill="#b8ec98" opacity="0.7"/>
<ellipse cx="50.1" cy="87.96" rx="2.45" ry="2.55" fill="#e8cc7c"/>
<ellipse cx="49.9" cy="89.83" rx="1.72" ry="2.38" fill="#e8cc7c"/>
<rect x="58.3" y="83.06" width="12.4" height="12.1" fill="url(#tg)"/>
<use href="#s4" x="58.3" y="83.06"/>
<ellipse cx="64.7" cy="88.81" rx="2.55" ry="3.7" fill="#b8ec98" opacity="0.7"/>
<ellipse cx="64.7" cy="88.06" rx="1.85" ry="2.25" fill="#e8cc7c"/>
<ellipse cx="64.5" cy="89.71" rx="1.29" ry="2.1" fill="#e8cc7c"/>
<rect x="72.9" y="83.06" width="12.4" height="12.1" fill="url(#tg)"/>
<use href="#s1" x="72.9" y="83.06"/>
<ellipse cx="79.3" cy="88.81" rx="1.85" ry="3.3" fill="#b8ec98" opacity="0.7"/>
<ellipse cx="79.3" cy="88.16" rx="1.15" ry="1.95" fill="#e8cc7c"/>
<ellipse cx="79.1" cy="89.59" rx="0.8" ry="1.82" fill="#e8cc7c"/>
<rect x="87.5" y="83.06" width="12.4" height="12.1" fill="url(#tc)"/>
<use href="#s4" x="87.5" y="83.06"/>
<ellipse cx="93.9" cy="88.81" rx="1.6" ry="2.8" fill="#e0c878"/>
<rect x="102.1" y="83.06" width="12.4" height="12.1" fill="url(#tg)"/>
<use href="#s1" x="102.1" y="83.06"/>
<ellipse cx="108.5" cy="88.81" rx="2.55" ry="3.7" fill="#b8ec98" opacity="0.7"/>
<ellipse cx="108.5" cy="88.06" rx="1.85" ry="2.25" fill="#e8cc7c"/>
<ellipse cx="108.3" cy="89.71" rx="1.29" ry="2.1" fill="#e8cc7c"/>
<rect x="116.7" y="83.06" width="12.4" height="12.1" fill="url(#tg)"/>
<use href="#s4" x="116.7" y="83.06"/>
<ellipse cx="123.1" cy="88.81" rx="2.55" ry="3.7" fill="#b8ec98" opacity="0.7"/>
<ellipse cx="123.1" cy="88.06" rx="1.85" ry="2.25" fill="#e8cc7c"/>
<ellipse cx="122.9" cy="89.71" rx="1.29" ry="2.1" fill="#e8cc7c"/>
<rect x="131.3" y="83.06" width="12.4" height="12.1" fill="url(#tg)"/>
<use href="#s1" x="131.3" y="83.06"/>
<rect x="145.9" y="83.06" width="12.4" height="12.1" fill="url(#tg)"/>
<use href="#s4" x="145.9" y="83.06"/>
<ellipse cx="152.3" cy="88.81" rx="3.15" ry="4.1" fill="#b8ec98" opacity="0.7"/>
<ellipse cx="152.3" cy="87.96" rx="2.45" ry="2.55" fill="#e8cc7c"/>
<ellipse cx="152.1" cy="89.83" rx="1.72" ry="2.38" fill="#e8cc7c"/>
<rect x="160.5" y="83.06" width="12.4" height="12.1" fill="url(#tb)"/>
<use href="#s1" x="160.5" y="83.06"/>
<ellipse cx="166.9" cy="88.81" rx="2.55" ry="3.7" fill="#b8ec98" opacity="0.7"/>
<ellipse cx="166.9" cy="88.06" rx="1.85" ry="2.25" fill="#e8cc7c"/>
<ellipse cx="166.7" cy="89.71" rx="1.29" ry="2.1" fill="#e8cc7c"/>
<rect x="175.1" y="83.06" width="12.4" height="12.1" fill="url(#tg)"/>
<use href="#s4" x="175.1" y="83.06"/>
<ellipse cx="181.5" cy="88.81" rx="3.15" ry="4.1" fill="#f0c078" opacity="0.7"/>
<ellipse cx="181.5" cy="87.96" rx="2.45" ry="2.55" fill="#ff9a5a"/>
<ellipse cx="181.3" cy="89.83" rx="1.72" ry="2.38" fill="#ff9a5a"/>
<rect x="189.7" y="83.06" width="12.4" height="12.1" fill="url(#tg)"/>
<use href="#s1" x="189.7" y="83.06"/>
<ellipse cx="196.1" cy="88.81" rx="2.55" ry="3.7" fill="#f0c078" opacity="0.7"/>
<ellipse cx="196.1" cy="88.06" rx="1.85" ry="2.25" fill="#ff9a5a"/>
<ellipse cx="195.9" cy="89.71" rx="1.29" ry="2.1" fill="#ff9a5a"/>
<rect x="204.3" y="83.06" width="12.4" height="12.1" fill="url(#tg)"/>
<use href="#s4" x="204.3" y="83.06"/>
<ellipse cx="210.7" cy="88.81" rx="3.15" ry="4.1" fill="#b8ec98" opacity="0.7"/>
<ellipse cx="210.7" cy="87.96" rx="2.45" ry="2.55" fill="#e8cc7c"/>
<ellipse cx="210.5" cy="89.83" rx="1.72" ry="2.38" fill="#e8cc7c"/>
<rect x="218.9" y="83.06" width="12.4" height="12.1" fill="url(#tg)"/>
<use href="#s1" x="218.9" y="83.06"/>
<ellipse cx="225.3" cy="88.81" rx="3.15" ry="4.1" fill="#f0c078" opacity="0.7"/>
<ellipse cx="225.3" cy="87.96" rx="2.45" ry="2.55" fill="#ff9a5a"/>
<ellipse cx="225.1" cy="89.83" rx="1.72" ry="2.38" fill="#ff9a5a"/>
<rect x="233.5" y="83.06" width="12.4" height="12.1" fill="url(#tg)"/>
<use href="#s4" x="233.5" y="83.06"/>
<ellipse cx="239.9" cy="88.81" rx="1.85" ry="3.3" fill="#b8ec98" opacity="0.7"/>
<ellipse cx="239.9" cy="88.16" rx="1.15" ry="1.95" fill="#e8cc7c"/>
<ellipse cx="239.7" cy="89.59" rx="0.8" ry="1.82" fill="#e8cc7c"/>
<rect x="248.1" y="83.06" width="12.4" height="12.1" fill="url(#tg)"/>
<use href="#s1" x="248.1" y="83.06"/>
<ellipse cx="254.5" cy="88.81" rx="1.85" ry="3.3" fill="#b8ec98" opacity="0.7"/>
<ellipse cx="254.5" cy="88.16" rx="1.15" ry="1.95" fill="#e8cc7c"/>
<ellipse cx="254.3" cy="89.59" rx="0.8" ry="1.82" fill="#e8cc7c"/>
<rect x="262.7" y="83.06" width="12.4" height="12.1" fill="url(#tg)"/>
<use href="#s4" x="262.7" y="83.06"/>
<ellipse cx="269.1" cy="88.81" rx="1.85" ry="3.3" fill="#b8ec98" opacity="0.7"/>
<ellipse cx="269.1" cy="88.16" rx="1.15" ry="1.95" fill="#e8cc7c"/>
<ellipse cx="268.9" cy="89.59" rx="0.8" ry="1.82" fill="#e8cc7c"/>
<rect x="277.3" y="83.06" width="12.4" height="12.1" fill="url(#tg)"/>
<use href="#s1" x="277.3" y="83.06"/>
<ellipse cx="283.7" cy="88.81" rx="3.15" ry="4.1" fill="#b8ec98" opacity="0.7"/>
<ellipse cx="283.7" cy="87.96" rx="2.45" ry="2.55" fill="#e8cc7c"/>
<ellipse cx="283.5" cy="89.83" rx="1.72" ry="2.38" fill="#e8cc7c"/>
<rect x="291.9" y="83.06" width="12.4" height="12.1" fill="url(#tg)"/>
<use href="#s4" x="291.9" y="83.06"/>
<ellipse cx="298.3" cy="88.81" rx="3.15" ry="4.1" fill="#b8ec98" opacity="0.7"/>
<ellipse cx="298.3" cy="87.96" rx="2.45" ry="2.55" fill="#e8cc7c"/>
<ellipse cx="298.1" cy="89.83" rx="1.72" ry="2.38" fill="#e8cc7c"/>
<rect x="306.5" y="83.06" width="12.4" height="12.1" fill="url(#tg)"/>
<use href="#s1" x="306.5" y="83.06"/>
<ellipse cx="312.9" cy="88.81" rx="2.55" ry="3.7" fill="#f0c078" opacity="0.7"/>
<ellipse cx="312.9" cy="88.06" rx="1.85" ry="2.25" fill="#ff9a5a"/>
<ellipse cx="312.7" cy="89.71" rx="1.29" ry="2.1" fill="#ff9a5a"/>
<rect x="29.1" y="97.25" width="12.4" height="12.1" fill="url(#tg)"/>
<use href="#s5" x="29.1" y="97.25"/>
<ellipse cx="35.5" cy="103" rx="1.85" ry="3.3" fill="#ff9050" opacity="0.7"/>
<ellipse cx="35.5" cy="102.35" rx="1.15" ry="1.95" fill="#ff3518"/>
<ellipse cx="35.3" cy="103.78" rx="0.8" ry="1.82" fill="#ff3518"/>
<rect x="43.7" y="97.25" width="12.4" height="12.1" fill="url(#tg)"/>
<use href="#s2" x="43.7" y="97.25"/>
<ellipse cx="50.1" cy="103" rx="2.55" ry="3.7" fill="#ff9050" opacity="0.7"/>
<ellipse cx="50.1" cy="102.25" rx="1.85" ry="2.25" fill="#ff3518"/>
<ellipse cx="49.9" cy="103.9" rx="1.29" ry="2.1" fill="#ff3518"/>
<rect x="58.3" y="97.25" width="12.4" height="12.1" fill="url(#tg)"/>
<use href="#s5" x="58.3" y="97.25"/>
<ellipse cx="64.7" cy="103" rx="1.85" ry="3.3" fill="#ff9050" opacity="0.7"/>
<ellipse cx="64.7" cy="102.35" rx="1.15" ry="1.95" fill="#ff3518"/>
<ellipse cx="64.5" cy="103.78" rx="0.8" ry="1.82" fill="#ff3518"/>
<rect x="72.9" y="97.25" width="12.4" height="12.1" fill="url(#tg)"/>
<use href="#s2" x="72.9" y="97.25"/>
<ellipse cx="79.3" cy="103" rx="1.85" ry="3.3" fill="#ff9050" opacity="0.7"/>
<ellipse cx="79.3" cy="102.35" rx="1.15" ry="1.95" fill="#ff3518"/>
<ellipse cx="79.1" cy="103.78" rx="0.8" ry="1.82" fill="#ff3518"/>
<rect x="87.5" y="97.25" width="12.4" height="12.1" fill="url(#tg)"/>
<use href="#s5" x="87.5" y="97.25"/>
<ellipse cx="93.9" cy="103" rx="1.85" ry="3.3" fill="#f0c078" opacity="0.7"/>
<ellipse cx="93.9" cy="102.35" rx="1.15" ry="1.95" fill="#ff9a5a"/>
<ellipse cx="93.7" cy="103.78" rx="0.8" ry="1.82" fill="#ff9a5a"/>
<rect x="102.1" y="97.25" width="12.4" height="12.1" fill="url(#tg)"/>
<use href="#s2" x="102.1" y="97.25"/>
<ellipse cx="108.5" cy="103" rx="1.85" ry="3.3" fill="#ff9050" opacity="0.7"/>
<ellipse cx="108.5" cy="102.35" rx="1.15" ry="1.95" fill="#ff3518"/>
<ellipse cx="108.3" cy="103.78" rx="0.8" ry="1.82" fill="#ff3518"/>
<rect x="116.7" y="97.25" width="12.4" height="12.1" fill="url(#tg)"/>
<use href="#s5" x="116.7" y="97.25"/>
<ellipse cx="123.1" cy="103" rx="1.85" ry="3.3" fill="#ff9050" opacity="0.7"/>
<ellipse cx="123.1" cy="102.35" rx="1.15" ry="1.95" fill="#ff3518"/>
<ellipse cx="122.9" cy="103.78" rx="0.8" ry="1.82" fill="#ff3518"/>
<rect x="131.3" y="97.25" width="12.4" height="12.1" fill="url(#tg)"/>
<use href="#s2" x="131.3" y="97.25"/>
<rect x="145.9" y="97.25" width="12.4" height="12.1" fill="url(#tg)"/>
<use href="#s5" x="145.9" y="97.25"/>
<ellipse cx="152.3" cy="103" rx="2.55" ry="3.7" fill="#f0c078" opacity="0.7"/>
<ellipse cx="152.3" cy="102.25" rx="1.85" ry="2.25" fill="#ff9a5a"/>
<ellipse cx="152.1" cy="103.9" rx="1.29" ry="2.1" fill="#ff9a5a"/>
<rect x="160.5" y="97.25" width="12.4" height="12.1" fill="url(#tg)"/>
<use href="#s2" x="160.5" y="97.25"/>
<ellipse cx="166.9" cy="103" rx="2.55" ry="3.7" fill="#ff9050" opacity="0.7"/>
<ellipse cx="166.9" cy="102.25" rx="1.85" ry="2.25" fill="#ff3518"/>
<ellipse cx="166.7" cy="103.9" rx="1.29" ry="2.1" fill="#ff3518"/>
<rect x="175.1" y="97.25" width="12.4" height="12.1" fill="url(#tg)"/>
<use href="#s5" x="175.1" y="97.25"/>
<ellipse cx="181.5" cy="103" rx="2.55" ry="3.7" fill="#ff9050" opacity="0.7"/>
<ellipse cx="181.5" cy="102.25" rx="1.85" ry="2.25" fill="#ff3518"/>
<ellipse cx="181.3" cy="103.9" rx="1.29" ry="2.1" fill="#ff3518"/>
<rect x="189.7" y="97.25" width="12.4" height="12.1" fill="url(#tg)"/>
<use href="#s2" x="189.7" y="97.25"/>
<ellipse cx="196.1" cy="103" rx="1.85" ry="3.3" fill="#ff9050" opacity="0.7"/>
<ellipse cx="196.1" cy="102.35" rx="1.15" ry="1.95" fill="#ff3518"/>
<ellipse cx="195.9" cy="103.78" rx="0.8" ry="1.82" fill="#ff3518"/>
<rect x="204.3" y="97.25" width="12.4" height="12.1" fill="url(#tg)"/>
<use href="#s5" x="204.3" y="97.25"/>
<ellipse cx="210.7" cy="103" rx="2.55" ry="3.7" fill="#f0c078" opacity="0.7"/>
<ellipse cx="210.7" cy="102.25" rx="1.85" ry="2.25" fill="#ff9a5a"/>
<ellipse cx="210.5" cy="103.9" rx="1.29" ry="2.1" fill="#ff9a5a"/>
<rect x="218.9" y="97.25" width="12.4" height="12.1" fill="url(#tg)"/>
<use href="#s2" x="218.9" y="97.25"/>
<ellipse cx="225.3" cy="103" rx="1.85" ry="3.3" fill="#ff9050" opacity="0.7"/>
<ellipse cx="225.3" cy="102.35" rx="1.15" ry="1.95" fill="#ff3518"/>
<ellipse cx="225.1" cy="103.78" rx="0.8" ry="1.82" fill="#ff3518"/>
<rect x="233.5" y="97.25" width="12.4" height="12.1" fill="url(#tb)"/>
<use href="#s5" x="233.5" y="97.25"/>
<ellipse cx="239.9" cy="103" rx="1.85" ry="3.3" fill="#ff9050" opacity="0.7"/>
<ellipse cx="239.9" cy="102.35" rx="1.15" ry="1.95" fill="#ff3518"/>
<ellipse cx="239.7" cy="103.78" rx="0.8" ry="1.82" fill="#ff3518"/>
<rect x="248.1" y="97.25" width="12.4" height="12.1" fill="url(#tg)"/>
<use href="#s2" x="248.1" y="97.25"/>
<ellipse cx="254.5" cy="103" rx="1.85" ry="3.3" fill="#ff9050" opacity="0.7"/>
<ellipse cx="254.5" cy="102.35" rx="1.15" ry="1.95" fill="#ff3518"/>
<ellipse cx="254.3" cy="103.78" rx="0.8" ry="1.82" fill="#ff3518"/>
<rect x="262.7" y="97.25" width="12.4" height="12.1" fill="url(#tg)"/>
<use href="#s5" x="262.7" y="97.25"/>
<ellipse cx="269.1" cy="103" rx="1.85" ry="3.3" fill="#ff9050" opacity="0.7"/>
<ellipse cx="269.1" cy="102.35" rx="1.15" ry="1.95" fill="#ff3518"/>
<ellipse cx="268.9" cy="103.78" rx="0.8" ry="1.82" fill="#ff3518"/>
<rect x="277.3" y="97.25" width="12.4" height="12.1" fill="url(#tg)"/>
<use href="#s2" x="277.3" y="97.25"/>
<ellipse cx="283.7" cy="103" rx="2.55" ry="3.7" fill="#f0c078" opacity="0.7"/>
<ellipse cx="283.7" cy="102.25" rx="1.85" ry="2.25" fill="#ff9a5a"/>
<ellipse cx="283.5" cy="103.9" rx="1.29" ry="2.1" fill="#ff9a5a"/>
<rect x="291.9" y="97.25" width="12.4" height="12.1" fill="url(#tg)"/>
<use href="#s5" x="291.9" y="97.25"/>
<ellipse cx="298.3" cy="103" rx="2.55" ry="3.7" fill="#ff9050" opacity="0.7"/>
<ellipse cx="298.3" cy="102.25" rx="1.85" ry="2.25" fill="#ff3518"/>
<ellipse cx="298.1" cy="103.9" rx="1.29" ry="2.1" fill="#ff3518"/>
<rect x="306.5" y="97.25" width="12.4" height="12.1" fill="url(#tg)"/>
<use href="#s2" x="306.5" y="97.25"/>
<ellipse cx="312.9" cy="103" rx="1.85" ry="3.3" fill="#ff9050" opacity="0.7"/>
<ellipse cx="312.9" cy="102.35" rx="1.15" ry="1.95" fill="#ff3518"/>
<ellipse cx="312.7" cy="103.78" rx="0.8" ry="1.82" fill="#ff3518"/>
<rect x="29.1" y="111.44" width="12.4" height="12.1" fill="url(#tg)"/>
<use href="#s0" x="29.1" y="111.44"/>
<ellipse cx="35.5" cy="117.19" rx="1.85" ry="3.3" fill="#ff9050" opacity="0.7"/>
<ellipse cx="35.5" cy="116.54" rx="1.15" ry="1.95" fill="#ff3518"/>
<ellipse cx="35.3" cy="117.97" rx="0.8" ry="1.82" fill="#ff3518"/>
<rect x="43.7" y="111.44" width="12.4" height="12.1" fill="url(#tg)"/>
<use href="#s3" x="43.7" y="111.44"/>
<ellipse cx="50.1" cy="117.19" rx="3.15" ry="4.1" fill="#ff9050" opacity="0.7"/>
<ellipse cx="50.1" cy="116.34" rx="2.45" ry="2.55" fill="#ff3518"/>
<ellipse cx="49.9" cy="118.21" rx="1.72" ry="2.38" fill="#ff3518"/>
<rect x="58.3" y="111.44" width="12.4" height="12.1" fill="url(#tg)"/>
<use href="#s0" x="58.3" y="111.44"/>
<ellipse cx="64.7" cy="117.19" rx="1.85" ry="3.3" fill="#ff9050" opacity="0.7"/>
<ellipse cx="64.7" cy="116.54" rx="1.15" ry="1.95" fill="#ff3518"/>
<ellipse cx="64.5" cy="117.97" rx="0.8" ry="1.82" fill="#ff3518"/>
<rect x="72.9" y="111.44" width="12.4" height="12.1" fill="url(#tg)"/>
<use href="#s3" x="72.9" y="111.44"/>
<ellipse cx="79.3" cy="117.19" rx="1.85" ry="3.3" fill="#ff9050" opacity="0.7"/>
<ellipse cx="79.3" cy="116.54" rx="1.15" ry="1.95" fill="#ff3518"/>
<ellipse cx="79.1" cy="117.97" rx="0.8" ry="1.82" fill="#ff3518"/>
<rect x="87.5" y="111.44" width="12.4" height="12.1" fill="url(#tg)"/>
<use href="#s0" x="87.5" y="111.44"/>
<ellipse cx="93.9" cy="117.19" rx="1.85" ry="3.3" fill="#b8ec98" opacity="0.7"/>
<ellipse cx="93.9" cy="116.54" rx="1.15" ry="1.95" fill="#e8cc7c"/>
<ellipse cx="93.7" cy="117.97" rx="0.8" ry="1.82" fill="#e8cc7c"/>
<rect x="102.1" y="111.44" width="12.4" height="12.1" fill="url(#tg)"/>
<use href="#s3" x="102.1" y="111.44"/>
<ellipse cx="108.5" cy="117.19" rx="1.85" ry="3.3" fill="#ff9050" opacity="0.7"/>
<ellipse cx="108.5" cy="116.54" rx="1.15" ry="1.95" fill="#ff3518"/>
<ellipse cx="108.3" cy="117.97" rx="0.8" ry="1.82" fill="#ff3518"/>
<rect x="116.7" y="111.44" width="12.4" height="12.1" fill="url(#tg)"/>
<use href="#s0" x="116.7" y="111.44"/>
<ellipse cx="123.1" cy="117.19" rx="1.85" ry="3.3" fill="#ff9050" opacity="0.7"/>
<ellipse cx="123.1" cy="116.54" rx="1.15" ry="1.95" fill="#ff3518"/>
<ellipse cx="122.9" cy="117.97" rx="0.8" ry="1.82" fill="#ff3518"/>
<rect x="131.3" y="111.44" width="12.4" height="12.1" fill="url(#tg)"/>
<use href="#s3" x="131.3" y="111.44"/>
<rect x="145.9" y="111.44" width="12.4" height="12.1" fill="url(#tg)"/>
<use href="#s0" x="145.9" y="111.44"/>
<ellipse cx="152.3" cy="117.19" rx="2.55" ry="3.7" fill="#ff9050" opacity="0.7"/>
<ellipse cx="152.3" cy="116.44" rx="1.85" ry="2.25" fill="#ff3518"/>
<ellipse cx="152.1" cy="118.09" rx="1.29" ry="2.1" fill="#ff3518"/>
<rect x="160.5" y="111.44" width="12.4" height="12.1" fill="url(#tg)"/>
<use href="#s3" x="160.5" y="111.44"/>
<ellipse cx="166.9" cy="117.19" rx="2.55" ry="3.7" fill="#ff9050" opacity="0.7"/>
<ellipse cx="166.9" cy="116.44" rx="1.85" ry="2.25" fill="#ff3518"/>
<ellipse cx="166.7" cy="118.09" rx="1.29" ry="2.1" fill="#ff3518"/>
<rect x="175.1" y="111.44" width="12.4" height="12.1" fill="url(#tg)"/>
<use href="#s0" x="175.1" y="111.44"/>
<ellipse cx="181.5" cy="117.19" rx="2.55" ry="3.7" fill="#ff9050" opacity="0.7"/>
<ellipse cx="181.5" cy="116.44" rx="1.85" ry="2.25" fill="#ff3518"/>
<ellipse cx="181.3" cy="118.09" rx="1.29" ry="2.1" fill="#ff3518"/>
<rect x="189.7" y="111.44" width="12.4" height="12.1" fill="url(#tg)"/>
<use href="#s3" x="189.7" y="111.44"/>
<ellipse cx="196.1" cy="117.19" rx="2.55" ry="3.7" fill="#ff9050" opacity="0.7"/>
<ellipse cx="196.1" cy="116.44" rx="1.85" ry="2.25" fill="#ff3518"/>
<ellipse cx="195.9" cy="118.09" rx="1.29" ry="2.1" fill="#ff3518"/>
<rect x="204.3" y="111.44" width="12.4" height="12.1" fill="url(#tg)"/>
<use href="#s0" x="204.3" y="111.44"/>
<ellipse cx="210.7" cy="117.19" rx="2.55" ry="3.7" fill="#f0c078" opacity="0.7"/>
<ellipse cx="210.7" cy="116.44" rx="1.85" ry="2.25" fill="#ff9a5a"/>
<ellipse cx="210.5" cy="118.09" rx="1.29" ry="2.1" fill="#ff9a5a"/>
<rect x="218.9" y="111.44" width="12.4" height="12.1" fill="url(#tg)"/>
<use href="#s3" x="218.9" y="111.44"/>
<ellipse cx="225.3" cy="117.19" rx="2.55" ry="3.7" fill="#ff9050" opacity="0.7"/>
<ellipse cx="225.3" cy="116.44" rx="1.85" ry="2.25" fill="#ff3518"/>
<ellipse cx="225.1" cy="118.09" rx="1.29" ry="2.1" fill="#ff3518"/>
<rect x="233.5" y="111.44" width="12.4" height="12.1" fill="url(#tb)"/>
<use href="#s0" x="233.5" y="111.44"/>
<ellipse cx="239.9" cy="117.19" rx="1.85" ry="3.3" fill="#ff9050" opacity="0.7"/>
<ellipse cx="239.9" cy="116.54" rx="1.15" ry="1.95" fill="#ff3518"/>
<ellipse cx="239.7" cy="117.97" rx="0.8" ry="1.82" fill="#ff3518"/>
<rect x="248.1" y="111.44" width="12.4" height="12.1" fill="url(#tg)"/>
<use href="#s3" x="248.1" y="111.44"/>
<ellipse cx="254.5" cy="117.19" rx="1.85" ry="3.3" fill="#ff9050" opacity="0.7"/>
<ellipse cx="254.5" cy="116.54" rx="1.15" ry="1.95" fill="#ff3518"/>
<ellipse cx="254.3" cy="117.97" rx="0.8" ry="1.82" fill="#ff3518"/>
<rect x="262.7" y="111.44" width="12.4" height="12.1" fill="url(#tg)"/>
<use href="#s0" x="262.7" y="111.44"/>
<ellipse cx="269.1" cy="117.19" rx="1.85" ry="3.3" fill="#ff9050" opacity="0.7"/>
<ellipse cx="269.1" cy="116.54" rx="1.15" ry="1.95" fill="#ff3518"/>
<ellipse cx="268.9" cy="117.97" rx="0.8" ry="1.82" fill="#ff3518"/>
<rect x="277.3" y="111.44" width="12.4" height="12.1" fill="url(#tg)"/>
<use href="#s3" x="277.3" y="111.44"/>
<ellipse cx="283.7" cy="117.19" rx="2.55" ry="3.7" fill="#f0c078" opacity="0.7"/>
<ellipse cx="283.7" cy="116.44" rx="1.85" ry="2.25" fill="#ff9a5a"/>
<ellipse cx="283.5" cy="118.09" rx="1.29" ry="2.1" fill="#ff9a5a"/>
<rect x="291.9" y="111.44" width="12.4" height="12.1" fill="url(#tg)"/>
<use href="#s0" x="291.9" y="111.44"/>
<ellipse cx="298.3" cy="117.19" rx="2.55" ry="3.7" fill="#ff9050" opacity="0.7"/>
<ellipse cx="298.3" cy="116.44" rx="1.85" ry="2.25" fill="#ff3518"/>
<ellipse cx="298.1" cy="118.09" rx="1.29" ry="2.1" fill="#ff3518"/>
<rect x="306.5" y="111.44" width="12.4" height="12.1" fill="url(#tg)"/>
<use href="#s3" x="306.5" y="111.44"/>
<ellipse cx="312.9" cy="117.19" rx="1.85" ry="3.3" fill="#ff9050" opacity="0.7"/>
<ellipse cx="312.9" cy="116.54" rx="1.15" ry="1.95" fill="#ff3518"/>
<ellipse cx="312.7" cy="117.97" rx="0.8" ry="1.82" fill="#ff3518"/>
<rect x="29.1" y="125.63" width="12.4" height="12.1" fill="url(#tg)"/>
<use href="#s1" x="29.1" y="125.63"/>
<rect x="43.7" y="125.63" width="12.4" height="12.1" fill="url(#tg)"/>
<use href="#s4" x="43.7" y="125.63"/>
<ellipse cx="50.1" cy="131.38" rx="1.85" ry="3.3" fill="#b8ec98" opacity="0.7"/>
<ellipse cx="50.1" cy="130.73" rx="1.15" ry="1.95" fill="#e8cc7c"/>
<ellipse cx="49.9" cy="132.16" rx="0.8" ry="1.82" fill="#e8cc7c"/>
<rect x="58.3" y="125.63" width="12.4" height="12.1" fill="url(#tg)"/>
<use href="#s1" x="58.3" y="125.63"/>
<rect x="72.9" y="125.63" width="12.4" height="12.1" fill="url(#tg)"/>
<use href="#s4" x="72.9" y="125.63"/>
<rect x="87.5" y="125.63" width="12.4" height="12.1" fill="url(#tb)"/>
<use href="#s1" x="87.5" y="125.63"/>
<rect x="102.1" y="125.63" width="12.4" height="12.1" fill="url(#tg)"/>
<use href="#s4" x="102.1" y="125.63"/>
<rect x="116.7" y="125.63" width="12.4" height="12.1" fill="url(#tg)"/>
<use href="#s1" x="116.7" y="125.63"/>
<rect x="131.3" y="125.63" width="12.4" height="12.1" fill="url(#tb)"/>
<use href="#s4" x="131.3" y="125.63"/>
<rect x="145.9" y="125.63" width="12.4" height="12.1" fill="url(#tg)"/>
<use href="#s1" x="145.9" y="125.63"/>
<rect x="160.5" y="125.63" width="12.4" height="12.1" fill="url(#tb)"/>
<use href="#s4" x="160.5" y="125.63"/>
<rect x="175.1" y="125.63" width="12.4" height="12.1" fill="url(#tg)"/>
<use href="#s1" x="175.1" y="125.63"/>
<rect x="189.7" y="125.63" width="12.4" height="12.1" fill="url(#tg)"/>
<use href="#s4" x="189.7" y="125.63"/>
<rect x="204.3" y="125.63" width="12.4" height="12.1" fill="url(#tb)"/>
<use href="#s1" x="204.3" y="125.63"/>
<rect x="218.9" y="125.63" width="12.4" height="12.1" fill="url(#tb)"/>
<use href="#s4" x="218.9" y="125.63"/>
<ellipse cx="225.3" cy="131.38" rx="1.85" ry="3.3" fill="#ff9050" opacity="0.7"/>
<ellipse cx="225.3" cy="130.73" rx="1.15" ry="1.95" fill="#ff3518"/>
<ellipse cx="225.1" cy="132.16" rx="0.8" ry="1.82" fill="#ff3518"/>
<rect x="233.5" y="125.63" width="12.4" height="12.1" fill="url(#tg)"/>
<use href="#s1" x="233.5" y="125.63"/>
<rect x="248.1" y="125.63" width="12.4" height="12.1" fill="url(#tb)"/>
<use href="#s4" x="248.1" y="125.63"/>
<rect x="262.7" y="125.63" width="12.4" height="12.1" fill="url(#tg)"/>
<use href="#s1" x="262.7" y="125.63"/>
<rect x="277.3" y="125.63" width="12.4" height="12.1" fill="url(#tg)"/>
<use href="#s4" x="277.3" y="125.63"/>
<rect x="291.9" y="125.63" width="12.4" height="12.1" fill="url(#tb)"/>
<use href="#s1" x="291.9" y="125.63"/>
<ellipse cx="298.3" cy="131.38" rx="1.85" ry="3.3" fill="#ff9050" opacity="0.7"/>
<ellipse cx="298.3" cy="130.73" rx="1.15" ry="1.95" fill="#ff3518"/>
<ellipse cx="298.1" cy="132.16" rx="0.8" ry="1.82" fill="#ff3518"/>
<rect x="306.5" y="125.63" width="12.4" height="12.1" fill="url(#tb)"/>
<use href="#s4" x="306.5" y="125.63"/>
<rect x="29.1" y="139.82" width="12.4" height="12.1" fill="url(#tg)"/>
<use href="#s2" x="29.1" y="139.82"/>
<ellipse cx="35.5" cy="145.57" rx="1.85" ry="3.3" fill="#f0c078" opacity="0.7"/>
<ellipse cx="35.5" cy="144.92" rx="1.15" ry="1.95" fill="#ff9a5a"/>
<ellipse cx="35.3" cy="146.35" rx="0.8" ry="1.82" fill="#ff9a5a"/>
<rect x="43.7" y="139.82" width="12.4" height="12.1" fill="url(#tg)"/>
<use href="#s5" x="43.7" y="139.82"/>
<ellipse cx="50.1" cy="145.57" rx="2.55" ry="3.7" fill="#f0c078" opacity="0.7"/>
<ellipse cx="50.1" cy="144.82" rx="1.85" ry="2.25" fill="#ff9a5a"/>
<ellipse cx="49.9" cy="146.47" rx="1.29" ry="2.1" fill="#ff9a5a"/>
<rect x="58.3" y="139.82" width="12.4" height="12.1" fill="url(#tg)"/>
<use href="#s2" x="58.3" y="139.82"/>
<ellipse cx="64.7" cy="145.57" rx="1.85" ry="3.3" fill="#f0c078" opacity="0.7"/>
<ellipse cx="64.7" cy="144.92" rx="1.15" ry="1.95" fill="#ff9a5a"/>
<ellipse cx="64.5" cy="146.35" rx="0.8" ry="1.82" fill="#ff9a5a"/>
<rect x="72.9" y="139.82" width="12.4" height="12.1" fill="url(#tg)"/>
<use href="#s5" x="72.9" y="139.82"/>
<ellipse cx="79.3" cy="145.57" rx="1.85" ry="3.3" fill="#ff9050" opacity="0.7"/>
<ellipse cx="79.3" cy="144.92" rx="1.15" ry="1.95" fill="#ff3518"/>
<ellipse cx="79.1" cy="146.35" rx="0.8" ry="1.82" fill="#ff3518"/>
<rect x="87.5" y="139.82" width="12.4" height="12.1" fill="url(#tg)"/>
<use href="#s2" x="87.5" y="139.82"/>
<ellipse cx="93.9" cy="145.57" rx="2.55" ry="3.7" fill="#f0c078" opacity="0.7"/>
<ellipse cx="93.9" cy="144.82" rx="1.85" ry="2.25" fill="#ff9a5a"/>
<ellipse cx="93.7" cy="146.47" rx="1.29" ry="2.1" fill="#ff9a5a"/>
<rect x="102.1" y="139.82" width="12.4" height="12.1" fill="url(#tg)"/>
<use href="#s5" x="102.1" y="139.82"/>
<ellipse cx="108.5" cy="145.57" rx="1.85" ry="3.3" fill="#ff9050" opacity="0.7"/>
<ellipse cx="108.5" cy="144.92" rx="1.15" ry="1.95" fill="#ff3518"/>
<ellipse cx="108.3" cy="146.35" rx="0.8" ry="1.82" fill="#ff3518"/>
<rect x="116.7" y="139.82" width="12.4" height="12.1" fill="url(#tg)"/>
<use href="#s2" x="116.7" y="139.82"/>
<ellipse cx="123.1" cy="145.57" rx="1.85" ry="3.3" fill="#ff9050" opacity="0.7"/>
<ellipse cx="123.1" cy="144.92" rx="1.15" ry="1.95" fill="#ff3518"/>
<ellipse cx="122.9" cy="146.35" rx="0.8" ry="1.82" fill="#ff3518"/>
<rect x="131.3" y="139.82" width="12.4" height="12.1" fill="url(#tg)"/>
<use href="#s5" x="131.3" y="139.82"/>
<rect x="145.9" y="139.82" width="12.4" height="12.1" fill="url(#tg)"/>
<use href="#s2" x="145.9" y="139.82"/>
<ellipse cx="152.3" cy="145.57" rx="2.55" ry="3.7" fill="#f0c078" opacity="0.7"/>
<ellipse cx="152.3" cy="144.82" rx="1.85" ry="2.25" fill="#ff9a5a"/>
<ellipse cx="152.1" cy="146.47" rx="1.29" ry="2.1" fill="#ff9a5a"/>
<rect x="160.5" y="139.82" width="12.4" height="12.1" fill="url(#tg)"/>
<use href="#s5" x="160.5" y="139.82"/>
<ellipse cx="166.9" cy="145.57" rx="2.55" ry="3.7" fill="#f0c078" opacity="0.7"/>
<ellipse cx="166.9" cy="144.82" rx="1.85" ry="2.25" fill="#ff9a5a"/>
<ellipse cx="166.7" cy="146.47" rx="1.29" ry="2.1" fill="#ff9a5a"/>
<rect x="175.1" y="139.82" width="12.4" height="12.1" fill="url(#tg)"/>
<use href="#s2" x="175.1" y="139.82"/>
<ellipse cx="181.5" cy="145.57" rx="2.55" ry="3.7" fill="#ff9050" opacity="0.7"/>
<ellipse cx="181.5" cy="144.82" rx="1.85" ry="2.25" fill="#ff3518"/>
<ellipse cx="181.3" cy="146.47" rx="1.29" ry="2.1" fill="#ff3518"/>
<rect x="189.7" y="139.82" width="12.4" height="12.1" fill="url(#tg)"/>
<use href="#s5" x="189.7" y="139.82"/>
<ellipse cx="196.1" cy="145.57" rx="2.55" ry="3.7" fill="#ff9050" opacity="0.7"/>
<ellipse cx="196.1" cy="144.82" rx="1.85" ry="2.25" fill="#ff3518"/>
<ellipse cx="195.9" cy="146.47" rx="1.29" ry="2.1" fill="#ff3518"/>
<rect x="204.3" y="139.82" width="12.4" height="12.1" fill="url(#tg)"/>
<use href="#s2" x="204.3" y="139.82"/>
<ellipse cx="210.7" cy="145.57" rx="2.55" ry="3.7" fill="#f0c078" opacity="0.7"/>
<ellipse cx="210.7" cy="144.82" rx="1.85" ry="2.25" fill="#ff9a5a"/>
<ellipse cx="210.5" cy="146.47" rx="1.29" ry="2.1" fill="#ff9a5a"/>
<rect x="218.9" y="139.82" width="12.4" height="12.1" fill="url(#tg)"/>
<use href="#s5" x="218.9" y="139.82"/>
<ellipse cx="225.3" cy="145.57" rx="2.55" ry="3.7" fill="#ff9050" opacity="0.7"/>
<ellipse cx="225.3" cy="144.82" rx="1.85" ry="2.25" fill="#ff3518"/>
<ellipse cx="225.1" cy="146.47" rx="1.29" ry="2.1" fill="#ff3518"/>
<rect x="233.5" y="139.82" width="12.4" height="12.1" fill="url(#tg)"/>
<use href="#s2" x="233.5" y="139.82"/>
<ellipse cx="239.9" cy="145.57" rx="1.85" ry="3.3" fill="#f0c078" opacity="0.7"/>
<ellipse cx="239.9" cy="144.92" rx="1.15" ry="1.95" fill="#ff9a5a"/>
<ellipse cx="239.7" cy="146.35" rx="0.8" ry="1.82" fill="#ff9a5a"/>
<rect x="248.1" y="139.82" width="12.4" height="12.1" fill="url(#tg)"/>
<use href="#s5" x="248.1" y="139.82"/>
<ellipse cx="254.5" cy="145.57" rx="1.85" ry="3.3" fill="#ff9050" opacity="0.7"/>
<ellipse cx="254.5" cy="144.92" rx="1.15" ry="1.95" fill="#ff3518"/>
<ellipse cx="254.3" cy="146.35" rx="0.8" ry="1.82" fill="#ff3518"/>
<rect x="262.7" y="139.82" width="12.4" height="12.1" fill="url(#tg)"/>
<use href="#s2" x="262.7" y="139.82"/>
<ellipse cx="269.1" cy="145.57" rx="1.85" ry="3.3" fill="#ff9050" opacity="0.7"/>
<ellipse cx="269.1" cy="144.92" rx="1.15" ry="1.95" fill="#ff3518"/>
<ellipse cx="268.9" cy="146.35" rx="0.8" ry="1.82" fill="#ff3518"/>
<rect x="277.3" y="139.82" width="12.4" height="12.1" fill="url(#tg)"/>
<use href="#s5" x="277.3" y="139.82"/>
<ellipse cx="283.7" cy="145.57" rx="2.55" ry="3.7" fill="#f0c078" opacity="0.7"/>
<ellipse cx="283.7" cy="144.82" rx="1.85" ry="2.25" fill="#ff9a5a"/>
<ellipse cx="283.5" cy="146.47" rx="1.29" ry="2.1" fill="#ff9a5a"/>
<rect x="291.9" y="139.82" width="12.4" height="12.1" fill="url(#tg)"/>
<use href="#s2" x="291.9" y="139.82"/>
<ellipse cx="298.3" cy="145.57" rx="2.55" ry="3.7" fill="#ff9050" opacity="0.7"/>
<ellipse cx="298.3" cy="144.82" rx="1.85" ry="2.25" fill="#ff3518"/>
<ellipse cx="298.1" cy="146.47" rx="1.29" ry="2.1" fill="#ff3518"/>
<rect x="306.5" y="139.82" width="12.4" height="12.1" fill="url(#tg)"/>
<use href="#s5" x="306.5" y="139.82"/>
<ellipse cx="312.9" cy="145.57" rx="1.85" ry="3.3" fill="#ff9050" opacity="0.7"/>
<ellipse cx="312.9" cy="144.92" rx="1.15" ry="1.95" fill="#ff3518"/>
<ellipse cx="312.7" cy="146.35" rx="0.8" ry="1.82" fill="#ff3518"/>
<rect x="29.1" y="154.01" width="12.4" height="12.1" fill="url(#tg)"/>
<use href="#s3" x="29.1" y="154.01"/>
<ellipse cx="35.5" cy="159.76" rx="2.55" ry="3.7" fill="#ff9050" opacity="0.7"/>
<ellipse cx="35.5" cy="159.01" rx="1.85" ry="2.25" fill="#ff3518"/>
<ellipse cx="35.3" cy="160.66" rx="1.29" ry="2.1" fill="#ff3518"/>
<rect x="43.7" y="154.01" width="12.4" height="12.1" fill="url(#tg)"/>
<use href="#s0" x="43.7" y="154.01"/>
<ellipse cx="50.1" cy="159.76" rx="3.15" ry="4.1" fill="#ff9050" opacity="0.7"/>
<ellipse cx="50.1" cy="158.91" rx="2.45" ry="2.55" fill="#ff3518"/>
<ellipse cx="49.9" cy="160.78" rx="1.72" ry="2.38" fill="#ff3518"/>
<rect x="58.3" y="154.01" width="12.4" height="12.1" fill="url(#tg)"/>
<use href="#s3" x="58.3" y="154.01"/>
<ellipse cx="64.7" cy="159.76" rx="2.55" ry="3.7" fill="#ff9050" opacity="0.7"/>
<ellipse cx="64.7" cy="159.01" rx="1.85" ry="2.25" fill="#ff3518"/>
<ellipse cx="64.5" cy="160.66" rx="1.29" ry="2.1" fill="#ff3518"/>
<rect x="72.9" y="154.01" width="12.4" height="12.1" fill="url(#tg)"/>
<use href="#s0" x="72.9" y="154.01"/>
<ellipse cx="79.3" cy="159.76" rx="1.85" ry="3.3" fill="#ff9050" opacity="0.7"/>
<ellipse cx="79.3" cy="159.11" rx="1.15" ry="1.95" fill="#ff3518"/>
<ellipse cx="79.1" cy="160.54" rx="0.8" ry="1.82" fill="#ff3518"/>
<rect x="87.5" y="154.01" width="12.4" height="12.1" fill="url(#tg)"/>
<use href="#s3" x="87.5" y="154.01"/>
<ellipse cx="93.9" cy="159.76" rx="1.85" ry="3.3" fill="#f0c078" opacity="0.7"/>
<ellipse cx="93.9" cy="159.11" rx="1.15" ry="1.95" fill="#ff9a5a"/>
<ellipse cx="93.7" cy="160.54" rx="0.8" ry="1.82" fill="#ff9a5a"/>
<rect x="102.1" y="154.01" width="12.4" height="12.1" fill="url(#tg)"/>
<use href="#s0" x="102.1" y="154.01"/>
<ellipse cx="108.5" cy="159.76" rx="1.85" ry="3.3" fill="#ff9050" opacity="0.7"/>
<ellipse cx="108.5" cy="159.11" rx="1.15" ry="1.95" fill="#ff3518"/>
<ellipse cx="108.3" cy="160.54" rx="0.8" ry="1.82" fill="#ff3518"/>
<rect x="116.7" y="154.01" width="12.4" height="12.1" fill="url(#tg)"/>
<use href="#s3" x="116.7" y="154.01"/>
<ellipse cx="123.1" cy="159.76" rx="1.85" ry="3.3" fill="#ff9050" opacity="0.7"/>
<ellipse cx="123.1" cy="159.11" rx="1.15" ry="1.95" fill="#ff3518"/>
<ellipse cx="122.9" cy="160.54" rx="0.8" ry="1.82" fill="#ff3518"/>
<rect x="131.3" y="154.01" width="12.4" height="12.1" fill="url(#tg)"/>
<use href="#s0" x="131.3" y="154.01"/>
<rect x="145.9" y="154.01" width="12.4" height="12.1" fill="url(#tg)"/>
<use href="#s3" x="145.9" y="154.01"/>
<ellipse cx="152.3" cy="159.76" rx="2.55" ry="3.7" fill="#ff9050" opacity="0.7"/>
<ellipse cx="152.3" cy="159.01" rx="1.85" ry="2.25" fill="#ff3518"/>
<ellipse cx="152.1" cy="160.66" rx="1.29" ry="2.1" fill="#ff3518"/>
<rect x="160.5" y="154.01" width="12.4" height="12.1" fill="url(#tb)"/>
<use href="#s0" x="160.5" y="154.01"/>
<ellipse cx="166.9" cy="159.76" rx="3.15" ry="4.1" fill="#ff9050" opacity="0.7"/>
<ellipse cx="166.9" cy="158.91" rx="2.45" ry="2.55" fill="#ff3518"/>
<ellipse cx="166.7" cy="160.78" rx="1.72" ry="2.38" fill="#ff3518"/>
<rect x="175.1" y="154.01" width="12.4" height="12.1" fill="url(#tb)"/>
<use href="#s3" x="175.1" y="154.01"/>
<ellipse cx="181.5" cy="159.76" rx="3.15" ry="4.1" fill="#ff9050" opacity="0.7"/>
<ellipse cx="181.5" cy="158.91" rx="2.45" ry="2.55" fill="#ff3518"/>
<ellipse cx="181.3" cy="160.78" rx="1.72" ry="2.38" fill="#ff3518"/>
<rect x="189.7" y="154.01" width="12.4" height="12.1" fill="url(#tg)"/>
<use href="#s0" x="189.7" y="154.01"/>
<ellipse cx="196.1" cy="159.76" rx="2.55" ry="3.7" fill="#ff9050" opacity="0.7"/>
<ellipse cx="196.1" cy="159.01" rx="1.85" ry="2.25" fill="#ff3518"/>
<ellipse cx="195.9" cy="160.66" rx="1.29" ry="2.1" fill="#ff3518"/>
<rect x="204.3" y="154.01" width="12.4" height="12.1" fill="url(#tg)"/>
<use href="#s3" x="204.3" y="154.01"/>
<ellipse cx="210.7" cy="159.76" rx="2.55" ry="3.7" fill="#ff9050" opacity="0.7"/>
<ellipse cx="210.7" cy="159.01" rx="1.85" ry="2.25" fill="#ff3518"/>
<ellipse cx="210.5" cy="160.66" rx="1.29" ry="2.1" fill="#ff3518"/>
<rect x="218.9" y="154.01" width="12.4" height="12.1" fill="url(#tg)"/>
<use href="#s0" x="218.9" y="154.01"/>
<ellipse cx="225.3" cy="159.76" rx="2.55" ry="3.7" fill="#ff9050" opacity="0.7"/>
<ellipse cx="225.3" cy="159.01" rx="1.85" ry="2.25" fill="#ff3518"/>
<ellipse cx="225.1" cy="160.66" rx="1.29" ry="2.1" fill="#ff3518"/>
<rect x="233.5" y="154.01" width="12.4" height="12.1" fill="url(#tb)"/>
<use href="#s3" x="233.5" y="154.01"/>
<ellipse cx="239.9" cy="159.76" rx="1.85" ry="3.3" fill="#f0c078" opacity="0.7"/>
<ellipse cx="239.9" cy="159.11" rx="1.15" ry="1.95" fill="#ff9a5a"/>
<ellipse cx="239.7" cy="160.54" rx="0.8" ry="1.82" fill="#ff9a5a"/>
<rect x="248.1" y="154.01" width="12.4" height="12.1" fill="url(#tg)"/>
<use href="#s0" x="248.1" y="154.01"/>
<ellipse cx="254.5" cy="159.76" rx="1.85" ry="3.3" fill="#ff9050" opacity="0.7"/>
<ellipse cx="254.5" cy="159.11" rx="1.15" ry="1.95" fill="#ff3518"/>
<ellipse cx="254.3" cy="160.54" rx="0.8" ry="1.82" fill="#ff3518"/>
<rect x="262.7" y="154.01" width="12.4" height="12.1" fill="url(#tg)"/>
<use href="#s3" x="262.7" y="154.01"/>
<ellipse cx="269.1" cy="159.76" rx="1.85" ry="3.3" fill="#ff9050" opacity="0.7"/>
<ellipse cx="269.1" cy="159.11" rx="1.15" ry="1.95" fill="#ff3518"/>
<ellipse cx="268.9" cy="160.54" rx="0.8" ry="1.82" fill="#ff3518"/>
<rect x="277.3" y="154.01" width="12.4" height="12.1" fill="url(#tg)"/>
<use href="#s0" x="277.3" y="154.01"/>
<ellipse cx="283.7" cy="159.76" rx="2.55" ry="3.7" fill="#ff9050" opacity="0.7"/>
<ellipse cx="283.7" cy="159.01" rx="1.85" ry="2.25" fill="#ff3518"/>
<ellipse cx="283.5" cy="160.66" rx="1.29" ry="2.1" fill="#ff3518"/>
<rect x="291.9" y="154.01" width="12.4" height="12.1" fill="url(#tg)"/>
<use href="#s3" x="291.9" y="154.01"/>
<ellipse cx="298.3" cy="159.76" rx="2.55" ry="3.7" fill="#ff9050" opacity="0.7"/>
<ellipse cx="298.3" cy="159.01" rx="1.85" ry="2.25" fill="#ff3518"/>
<ellipse cx="298.1" cy="160.66" rx="1.29" ry="2.1" fill="#ff3518"/>
<rect x="306.5" y="154.01" width="12.4" height="12.1" fill="url(#tg)"/>
<use href="#s0" x="306.5" y="154.01"/>
<ellipse cx="312.9" cy="159.76" rx="3.15" ry="4.1" fill="#ff9050" opacity="0.7"/>
<ellipse cx="312.9" cy="158.91" rx="2.45" ry="2.55" fill="#ff3518"/>
<ellipse cx="312.7" cy="160.78" rx="1.72" ry="2.38" fill="#ff3518"/>
<rect x="29.1" y="168.2" width="12.4" height="12.1" fill="url(#tg)"/>
<use href="#s4" x="29.1" y="168.2"/>
<ellipse cx="35.5" cy="173.95" rx="1.85" ry="3.3" fill="#ff9050" opacity="0.7"/>
<ellipse cx="35.5" cy="173.3" rx="1.15" ry="1.95" fill="#ff3518"/>
<ellipse cx="35.3" cy="174.73" rx="0.8" ry="1.82" fill="#ff3518"/>
<rect x="43.7" y="168.2" width="12.4" height="12.1" fill="url(#tg)"/>
<use href="#s1" x="43.7" y="168.2"/>
<ellipse cx="50.1" cy="173.95" rx="2.55" ry="3.7" fill="#ff9050" opacity="0.7"/>
<ellipse cx="50.1" cy="173.2" rx="1.85" ry="2.25" fill="#ff3518"/>
<ellipse cx="49.9" cy="174.85" rx="1.29" ry="2.1" fill="#ff3518"/>
<rect x="58.3" y="168.2" width="12.4" height="12.1" fill="url(#tg)"/>
<use href="#s4" x="58.3" y="168.2"/>
<ellipse cx="64.7" cy="173.95" rx="1.85" ry="3.3" fill="#ff9050" opacity="0.7"/>
<ellipse cx="64.7" cy="173.3" rx="1.15" ry="1.95" fill="#ff3518"/>
<ellipse cx="64.5" cy="174.73" rx="0.8" ry="1.82" fill="#ff3518"/>
<rect x="72.9" y="168.2" width="12.4" height="12.1" fill="url(#tg)"/>
<use href="#s1" x="72.9" y="168.2"/>
<ellipse cx="79.3" cy="173.95" rx="1.85" ry="3.3" fill="#ff9050" opacity="0.7"/>
<ellipse cx="79.3" cy="173.3" rx="1.15" ry="1.95" fill="#ff3518"/>
<ellipse cx="79.1" cy="174.73" rx="0.8" ry="1.82" fill="#ff3518"/>
<rect x="87.5" y="168.2" width="12.4" height="12.1" fill="url(#tg)"/>
<use href="#s4" x="87.5" y="168.2"/>
<ellipse cx="93.9" cy="173.95" rx="1.85" ry="3.3" fill="#f0c078" opacity="0.7"/>
<ellipse cx="93.9" cy="173.3" rx="1.15" ry="1.95" fill="#ff9a5a"/>
<ellipse cx="93.7" cy="174.73" rx="0.8" ry="1.82" fill="#ff9a5a"/>
<rect x="102.1" y="168.2" width="12.4" height="12.1" fill="url(#tg)"/>
<use href="#s1" x="102.1" y="168.2"/>
<ellipse cx="108.5" cy="173.95" rx="1.85" ry="3.3" fill="#ff9050" opacity="0.7"/>
<ellipse cx="108.5" cy="173.3" rx="1.15" ry="1.95" fill="#ff3518"/>
<ellipse cx="108.3" cy="174.73" rx="0.8" ry="1.82" fill="#ff3518"/>
<rect x="116.7" y="168.2" width="12.4" height="12.1" fill="url(#tg)"/>
<use href="#s4" x="116.7" y="168.2"/>
<ellipse cx="123.1" cy="173.95" rx="1.85" ry="3.3" fill="#ff9050" opacity="0.7"/>
<ellipse cx="123.1" cy="173.3" rx="1.15" ry="1.95" fill="#ff3518"/>
<ellipse cx="122.9" cy="174.73" rx="0.8" ry="1.82" fill="#ff3518"/>
<rect x="131.3" y="168.2" width="12.4" height="12.1" fill="url(#tg)"/>
<use href="#s1" x="131.3" y="168.2"/>
<rect x="145.9" y="168.2" width="12.4" height="12.1" fill="url(#tg)"/>
<use href="#s4" x="145.9" y="168.2"/>
<ellipse cx="152.3" cy="173.95" rx="1.85" ry="3.3" fill="#ff9050" opacity="0.7"/>
<ellipse cx="152.3" cy="173.3" rx="1.15" ry="1.95" fill="#ff3518"/>
<ellipse cx="152.1" cy="174.73" rx="0.8" ry="1.82" fill="#ff3518"/>
<rect x="160.5" y="168.2" width="12.4" height="12.1" fill="url(#tb)"/>
<use href="#s1" x="160.5" y="168.2"/>
<ellipse cx="166.9" cy="173.95" rx="3.15" ry="4.1" fill="#ff9050" opacity="0.7"/>
<ellipse cx="166.9" cy="173.1" rx="2.45" ry="2.55" fill="#ff3518"/>
<ellipse cx="166.7" cy="174.97" rx="1.72" ry="2.38" fill="#ff3518"/>
<rect x="175.1" y="168.2" width="12.4" height="12.1" fill="url(#tb)"/>
<use href="#s4" x="175.1" y="168.2"/>
<ellipse cx="181.5" cy="173.95" rx="3.15" ry="4.1" fill="#ff9050" opacity="0.7"/>
<ellipse cx="181.5" cy="173.1" rx="2.45" ry="2.55" fill="#ff3518"/>
<ellipse cx="181.3" cy="174.97" rx="1.72" ry="2.38" fill="#ff3518"/>
<rect x="189.7" y="168.2" width="12.4" height="12.1" fill="url(#tg)"/>
<use href="#s1" x="189.7" y="168.2"/>
<ellipse cx="196.1" cy="173.95" rx="2.55" ry="3.7" fill="#ff9050" opacity="0.7"/>
<ellipse cx="196.1" cy="173.2" rx="1.85" ry="2.25" fill="#ff3518"/>
<ellipse cx="195.9" cy="174.85" rx="1.29" ry="2.1" fill="#ff3518"/>
<rect x="204.3" y="168.2" width="12.4" height="12.1" fill="url(#tg)"/>
<use href="#s4" x="204.3" y="168.2"/>
<ellipse cx="210.7" cy="173.95" rx="2.55" ry="3.7" fill="#ff9050" opacity="0.7"/>
<ellipse cx="210.7" cy="173.2" rx="1.85" ry="2.25" fill="#ff3518"/>
<ellipse cx="210.5" cy="174.85" rx="1.29" ry="2.1" fill="#ff3518"/>
<rect x="218.9" y="168.2" width="12.4" height="12.1" fill="url(#tg)"/>
<use href="#s1" x="218.9" y="168.2"/>
<ellipse cx="225.3" cy="173.95" rx="3.15" ry="4.1" fill="#ff9050" opacity="0.7"/>
<ellipse cx="225.3" cy="173.1" rx="2.45" ry="2.55" fill="#ff3518"/>
<ellipse cx="225.1" cy="174.97" rx="1.72" ry="2.38" fill="#ff3518"/>
<rect x="233.5" y="168.2" width="12.4" height="12.1" fill="url(#tg)"/>
<use href="#s4" x="233.5" y="168.2"/>
<ellipse cx="239.9" cy="173.95" rx="1.85" ry="3.3" fill="#ff9050" opacity="0.7"/>
<ellipse cx="239.9" cy="173.3" rx="1.15" ry="1.95" fill="#ff3518"/>
<ellipse cx="239.7" cy="174.73" rx="0.8" ry="1.82" fill="#ff3518"/>
<rect x="248.1" y="168.2" width="12.4" height="12.1" fill="url(#tg)"/>
<use href="#s1" x="248.1" y="168.2"/>
<ellipse cx="254.5" cy="173.95" rx="1.85" ry="3.3" fill="#ff9050" opacity="0.7"/>
<ellipse cx="254.5" cy="173.3" rx="1.15" ry="1.95" fill="#ff3518"/>
<ellipse cx="254.3" cy="174.73" rx="0.8" ry="1.82" fill="#ff3518"/>
<rect x="262.7" y="168.2" width="12.4" height="12.1" fill="url(#tg)"/>
<use href="#s4" x="262.7" y="168.2"/>
<ellipse cx="269.1" cy="173.95" rx="1.85" ry="3.3" fill="#ff9050" opacity="0.7"/>
<ellipse cx="269.1" cy="173.3" rx="1.15" ry="1.95" fill="#ff3518"/>
<ellipse cx="268.9" cy="174.73" rx="0.8" ry="1.82" fill="#ff3518"/>
<rect x="277.3" y="168.2" width="12.4" height="12.1" fill="url(#tg)"/>
<use href="#s1" x="277.3" y="168.2"/>
<ellipse cx="283.7" cy="173.95" rx="2.55" ry="3.7" fill="#f0c078" opacity="0.7"/>
<ellipse cx="283.7" cy="173.2" rx="1.85" ry="2.25" fill="#ff9a5a"/>
<ellipse cx="283.5" cy="174.85" rx="1.29" ry="2.1" fill="#ff9a5a"/>
<rect x="291.9" y="168.2" width="12.4" height="12.1" fill="url(#tg)"/>
<use href="#s4" x="291.9" y="168.2"/>
<ellipse cx="298.3" cy="173.95" rx="3.15" ry="4.1" fill="#ff9050" opacity="0.7"/>
<ellipse cx="298.3" cy="173.1" rx="2.45" ry="2.55" fill="#ff3518"/>
<ellipse cx="298.1" cy="174.97" rx="1.72" ry="2.38" fill="#ff3518"/>
<rect x="306.5" y="168.2" width="12.4" height="12.1" fill="url(#tg)"/>
<use href="#s1" x="306.5" y="168.2"/>
<ellipse cx="312.9" cy="173.95" rx="2.55" ry="3.7" fill="#ff9050" opacity="0.7"/>
<ellipse cx="312.9" cy="173.2" rx="1.85" ry="2.25" fill="#ff3518"/>
<ellipse cx="312.7" cy="174.85" rx="1.29" ry="2.1" fill="#ff3518"/>
<rect x="29.1" y="182.39" width="12.4" height="12.1" fill="url(#tg)"/>
<use href="#s5" x="29.1" y="182.39"/>
<ellipse cx="35.5" cy="188.14" rx="1.85" ry="3.3" fill="#ff9050" opacity="0.7"/>
<ellipse cx="35.5" cy="187.49" rx="1.15" ry="1.95" fill="#ff3518"/>
<ellipse cx="35.3" cy="188.92" rx="0.8" ry="1.82" fill="#ff3518"/>
<rect x="43.7" y="182.39" width="12.4" height="12.1" fill="url(#tg)"/>
<use href="#s2" x="43.7" y="182.39"/>
<ellipse cx="50.1" cy="188.14" rx="2.55" ry="3.7" fill="#f0c078" opacity="0.7"/>
<ellipse cx="50.1" cy="187.39" rx="1.85" ry="2.25" fill="#ff9a5a"/>
<ellipse cx="49.9" cy="189.04" rx="1.29" ry="2.1" fill="#ff9a5a"/>
<rect x="58.3" y="182.39" width="12.4" height="12.1" fill="url(#tg)"/>
<use href="#s5" x="58.3" y="182.39"/>
<ellipse cx="64.7" cy="188.14" rx="1.85" ry="3.3" fill="#ff9050" opacity="0.7"/>
<ellipse cx="64.7" cy="187.49" rx="1.15" ry="1.95" fill="#ff3518"/>
<ellipse cx="64.5" cy="188.92" rx="0.8" ry="1.82" fill="#ff3518"/>
<rect x="72.9" y="182.39" width="12.4" height="12.1" fill="url(#tg)"/>
<use href="#s2" x="72.9" y="182.39"/>
<ellipse cx="79.3" cy="188.14" rx="1.85" ry="3.3" fill="#ff9050" opacity="0.7"/>
<ellipse cx="79.3" cy="187.49" rx="1.15" ry="1.95" fill="#ff3518"/>
<ellipse cx="79.1" cy="188.92" rx="0.8" ry="1.82" fill="#ff3518"/>
<rect x="87.5" y="182.39" width="12.4" height="12.1" fill="url(#tg)"/>
<use href="#s5" x="87.5" y="182.39"/>
<ellipse cx="93.9" cy="188.14" rx="1.85" ry="3.3" fill="#f0c078" opacity="0.7"/>
<ellipse cx="93.9" cy="187.49" rx="1.15" ry="1.95" fill="#ff9a5a"/>
<ellipse cx="93.7" cy="188.92" rx="0.8" ry="1.82" fill="#ff9a5a"/>
<rect x="102.1" y="182.39" width="12.4" height="12.1" fill="url(#tg)"/>
<use href="#s2" x="102.1" y="182.39"/>
<ellipse cx="108.5" cy="188.14" rx="1.85" ry="3.3" fill="#ff9050" opacity="0.7"/>
<ellipse cx="108.5" cy="187.49" rx="1.15" ry="1.95" fill="#ff3518"/>
<ellipse cx="108.3" cy="188.92" rx="0.8" ry="1.82" fill="#ff3518"/>
<rect x="116.7" y="182.39" width="12.4" height="12.1" fill="url(#tg)"/>
<use href="#s5" x="116.7" y="182.39"/>
<ellipse cx="123.1" cy="188.14" rx="1.85" ry="3.3" fill="#ff9050" opacity="0.7"/>
<ellipse cx="123.1" cy="187.49" rx="1.15" ry="1.95" fill="#ff3518"/>
<ellipse cx="122.9" cy="188.92" rx="0.8" ry="1.82" fill="#ff3518"/>
<rect x="131.3" y="182.39" width="12.4" height="12.1" fill="url(#tg)"/>
<use href="#s2" x="131.3" y="182.39"/>
<rect x="145.9" y="182.39" width="12.4" height="12.1" fill="url(#tg)"/>
<use href="#s5" x="145.9" y="182.39"/>
<ellipse cx="152.3" cy="188.14" rx="1.85" ry="3.3" fill="#f0c078" opacity="0.7"/>
<ellipse cx="152.3" cy="187.49" rx="1.15" ry="1.95" fill="#ff9a5a"/>
<ellipse cx="152.1" cy="188.92" rx="0.8" ry="1.82" fill="#ff9a5a"/>
<rect x="160.5" y="182.39" width="12.4" height="12.1" fill="url(#tg)"/>
<use href="#s2" x="160.5" y="182.39"/>
<ellipse cx="166.9" cy="188.14" rx="2.55" ry="3.7" fill="#f0c078" opacity="0.7"/>
<ellipse cx="166.9" cy="187.39" rx="1.85" ry="2.25" fill="#ff9a5a"/>
<ellipse cx="166.7" cy="189.04" rx="1.29" ry="2.1" fill="#ff9a5a"/>
<rect x="175.1" y="182.39" width="12.4" height="12.1" fill="url(#tg)"/>
<use href="#s5" x="175.1" y="182.39"/>
<ellipse cx="181.5" cy="188.14" rx="2.55" ry="3.7" fill="#ff9050" opacity="0.7"/>
<ellipse cx="181.5" cy="187.39" rx="1.85" ry="2.25" fill="#ff3518"/>
<ellipse cx="181.3" cy="189.04" rx="1.29" ry="2.1" fill="#ff3518"/>
<rect x="189.7" y="182.39" width="12.4" height="12.1" fill="url(#tg)"/>
<use href="#s2" x="189.7" y="182.39"/>
<ellipse cx="196.1" cy="188.14" rx="2.55" ry="3.7" fill="#ff9050" opacity="0.7"/>
<ellipse cx="196.1" cy="187.39" rx="1.85" ry="2.25" fill="#ff3518"/>
<ellipse cx="195.9" cy="189.04" rx="1.29" ry="2.1" fill="#ff3518"/>
<rect x="204.3" y="182.39" width="12.4" height="12.1" fill="url(#tg)"/>
<use href="#s5" x="204.3" y="182.39"/>
<ellipse cx="210.7" cy="188.14" rx="2.55" ry="3.7" fill="#f0c078" opacity="0.7"/>
<ellipse cx="210.7" cy="187.39" rx="1.85" ry="2.25" fill="#ff9a5a"/>
<ellipse cx="210.5" cy="189.04" rx="1.29" ry="2.1" fill="#ff9a5a"/>
<rect x="218.9" y="182.39" width="12.4" height="12.1" fill="url(#tg)"/>
<use href="#s2" x="218.9" y="182.39"/>
<ellipse cx="225.3" cy="188.14" rx="2.55" ry="3.7" fill="#ff9050" opacity="0.7"/>
<ellipse cx="225.3" cy="187.39" rx="1.85" ry="2.25" fill="#ff3518"/>
<ellipse cx="225.1" cy="189.04" rx="1.29" ry="2.1" fill="#ff3518"/>
<rect x="233.5" y="182.39" width="12.4" height="12.1" fill="url(#tg)"/>
<use href="#s5" x="233.5" y="182.39"/>
<ellipse cx="239.9" cy="188.14" rx="1.85" ry="3.3" fill="#ff9050" opacity="0.7"/>
<ellipse cx="239.9" cy="187.49" rx="1.15" ry="1.95" fill="#ff3518"/>
<ellipse cx="239.7" cy="188.92" rx="0.8" ry="1.82" fill="#ff3518"/>
<rect x="248.1" y="182.39" width="12.4" height="12.1" fill="url(#tg)"/>
<use href="#s2" x="248.1" y="182.39"/>
<ellipse cx="254.5" cy="188.14" rx="1.85" ry="3.3" fill="#ff9050" opacity="0.7"/>
<ellipse cx="254.5" cy="187.49" rx="1.15" ry="1.95" fill="#ff3518"/>
<ellipse cx="254.3" cy="188.92" rx="0.8" ry="1.82" fill="#ff3518"/>
<rect x="262.7" y="182.39" width="12.4" height="12.1" fill="url(#tg)"/>
<use href="#s5" x="262.7" y="182.39"/>
<ellipse cx="269.1" cy="188.14" rx="1.85" ry="3.3" fill="#ff9050" opacity="0.7"/>
<ellipse cx="269.1" cy="187.49" rx="1.15" ry="1.95" fill="#ff3518"/>
<ellipse cx="268.9" cy="188.92" rx="0.8" ry="1.82" fill="#ff3518"/>
<rect x="277.3" y="182.39" width="12.4" height="12.1" fill="url(#tg)"/>
<use href="#s2" x="277.3" y="182.39"/>
<ellipse cx="283.7" cy="188.14" rx="2.55" ry="3.7" fill="#f0c078" opacity="0.7"/>
<ellipse cx="283.7" cy="187.39" rx="1.85" ry="2.25" fill="#ff9a5a"/>
<ellipse cx="283.5" cy="189.04" rx="1.29" ry="2.1" fill="#ff9a5a"/>
<rect x="291.9" y="182.39" width="12.4" height="12.1" fill="url(#tg)"/>
<use href="#s5" x="291.9" y="182.39"/>
<ellipse cx="298.3" cy="188.14" rx="2.55" ry="3.7" fill="#ff9050" opacity="0.7"/>
<ellipse cx="298.3" cy="187.39" rx="1.85" ry="2.25" fill="#ff3518"/>
<ellipse cx="298.1" cy="189.04" rx="1.29" ry="2.1" fill="#ff3518"/>
<rect x="306.5" y="182.39" width="12.4" height="12.1" fill="url(#tg)"/>
<use href="#s2" x="306.5" y="182.39"/>
<ellipse cx="312.9" cy="188.14" rx="2.55" ry="3.7" fill="#ff9050" opacity="0.7"/>
<ellipse cx="312.9" cy="187.39" rx="1.85" ry="2.25" fill="#ff3518"/>
<ellipse cx="312.7" cy="189.04" rx="1.29" ry="2.1" fill="#ff3518"/>
<rect x="29.1" y="196.58" width="12.4" height="12.1" fill="url(#tg)"/>
<use href="#s0" x="29.1" y="196.58"/>
<ellipse cx="35.5" cy="202.33" rx="2.55" ry="3.7" fill="#f0c078" opacity="0.7"/>
<ellipse cx="35.5" cy="201.58" rx="1.85" ry="2.25" fill="#ff9a5a"/>
<ellipse cx="35.3" cy="203.23" rx="1.29" ry="2.1" fill="#ff9a5a"/>
<rect x="43.7" y="196.58" width="12.4" height="12.1" fill="url(#tg)"/>
<use href="#s3" x="43.7" y="196.58"/>
<ellipse cx="50.1" cy="202.33" rx="2.55" ry="3.7" fill="#f0c078" opacity="0.7"/>
<ellipse cx="50.1" cy="201.58" rx="1.85" ry="2.25" fill="#ff9a5a"/>
<ellipse cx="49.9" cy="203.23" rx="1.29" ry="2.1" fill="#ff9a5a"/>
<rect x="58.3" y="196.58" width="12.4" height="12.1" fill="url(#tg)"/>
<use href="#s0" x="58.3" y="196.58"/>
<ellipse cx="64.7" cy="202.33" rx="1.85" ry="3.3" fill="#f0c078" opacity="0.7"/>
<ellipse cx="64.7" cy="201.68" rx="1.15" ry="1.95" fill="#ff9a5a"/>
<ellipse cx="64.5" cy="203.11" rx="0.8" ry="1.82" fill="#ff9a5a"/>
<rect x="72.9" y="196.58" width="12.4" height="12.1" fill="url(#tg)"/>
<use href="#s3" x="72.9" y="196.58"/>
<ellipse cx="79.3" cy="202.33" rx="1.85" ry="3.3" fill="#f0c078" opacity="0.7"/>
<ellipse cx="79.3" cy="201.68" rx="1.15" ry="1.95" fill="#ff9a5a"/>
<ellipse cx="79.1" cy="203.11" rx="0.8" ry="1.82" fill="#ff9a5a"/>
<rect x="87.5" y="196.58" width="12.4" height="12.1" fill="url(#tg)"/>
<use href="#s0" x="87.5" y="196.58"/>
<ellipse cx="93.9" cy="202.33" rx="1.85" ry="3.3" fill="#f0c078" opacity="0.7"/>
<ellipse cx="93.9" cy="201.68" rx="1.15" ry="1.95" fill="#ff9a5a"/>
<ellipse cx="93.7" cy="203.11" rx="0.8" ry="1.82" fill="#ff9a5a"/>
<rect x="102.1" y="196.58" width="12.4" height="12.1" fill="url(#tg)"/>
<use href="#s3" x="102.1" y="196.58"/>
<ellipse cx="108.5" cy="202.33" rx="2.55" ry="3.7" fill="#f0c078" opacity="0.7"/>
<ellipse cx="108.5" cy="201.58" rx="1.85" ry="2.25" fill="#ff9a5a"/>
<ellipse cx="108.3" cy="203.23" rx="1.29" ry="2.1" fill="#ff9a5a"/>
<rect x="116.7" y="196.58" width="12.4" height="12.1" fill="url(#tg)"/>
<use href="#s0" x="116.7" y="196.58"/>
<ellipse cx="123.1" cy="202.33" rx="1.85" ry="3.3" fill="#f0c078" opacity="0.7"/>
<ellipse cx="123.1" cy="201.68" rx="1.15" ry="1.95" fill="#ff9a5a"/>
<ellipse cx="122.9" cy="203.11" rx="0.8" ry="1.82" fill="#ff9a5a"/>
<rect x="131.3" y="196.58" width="12.4" height="12.1" fill="url(#tg)"/>
<use href="#s3" x="131.3" y="196.58"/>
<rect x="145.9" y="196.58" width="12.4" height="12.1" fill="url(#tg)"/>
<use href="#s0" x="145.9" y="196.58"/>
<ellipse cx="152.3" cy="202.33" rx="2.55" ry="3.7" fill="#f0c078" opacity="0.7"/>
<ellipse cx="152.3" cy="201.58" rx="1.85" ry="2.25" fill="#ff9a5a"/>
<ellipse cx="152.1" cy="203.23" rx="1.29" ry="2.1" fill="#ff9a5a"/>
<rect x="160.5" y="196.58" width="12.4" height="12.1" fill="url(#tg)"/>
<use href="#s3" x="160.5" y="196.58"/>
<ellipse cx="166.9" cy="202.33" rx="2.55" ry="3.7" fill="#ff9050" opacity="0.7"/>
<ellipse cx="166.9" cy="201.58" rx="1.85" ry="2.25" fill="#ff3518"/>
<ellipse cx="166.7" cy="203.23" rx="1.29" ry="2.1" fill="#ff3518"/>
<rect x="175.1" y="196.58" width="12.4" height="12.1" fill="url(#tg)"/>
<use href="#s0" x="175.1" y="196.58"/>
<ellipse cx="181.5" cy="202.33" rx="3.15" ry="4.1" fill="#f0c078" opacity="0.7"/>
<ellipse cx="181.5" cy="201.48" rx="2.45" ry="2.55" fill="#ff9a5a"/>
<ellipse cx="181.3" cy="203.35" rx="1.72" ry="2.38" fill="#ff9a5a"/>
<rect x="189.7" y="196.58" width="12.4" height="12.1" fill="url(#tb)"/>
<use href="#s3" x="189.7" y="196.58"/>
<ellipse cx="196.1" cy="202.33" rx="2.55" ry="3.7" fill="#f0c078" opacity="0.7"/>
<ellipse cx="196.1" cy="201.58" rx="1.85" ry="2.25" fill="#ff9a5a"/>
<ellipse cx="195.9" cy="203.23" rx="1.29" ry="2.1" fill="#ff9a5a"/>
<rect x="204.3" y="196.58" width="12.4" height="12.1" fill="url(#tb)"/>
<use href="#s0" x="204.3" y="196.58"/>
<ellipse cx="210.7" cy="202.33" rx="3.15" ry="4.1" fill="#f0c078" opacity="0.7"/>
<ellipse cx="210.7" cy="201.48" rx="2.45" ry="2.55" fill="#ff9a5a"/>
<ellipse cx="210.5" cy="203.35" rx="1.72" ry="2.38" fill="#ff9a5a"/>
<rect x="218.9" y="196.58" width="12.4" height="12.1" fill="url(#tb)"/>
<use href="#s3" x="218.9" y="196.58"/>
<ellipse cx="225.3" cy="202.33" rx="2.55" ry="3.7" fill="#f0c078" opacity="0.7"/>
<ellipse cx="225.3" cy="201.58" rx="1.85" ry="2.25" fill="#ff9a5a"/>
<ellipse cx="225.1" cy="203.23" rx="1.29" ry="2.1" fill="#ff9a5a"/>
<rect x="233.5" y="196.58" width="12.4" height="12.1" fill="url(#tb)"/>
<use href="#s0" x="233.5" y="196.58"/>
<ellipse cx="239.9" cy="202.33" rx="1.85" ry="3.3" fill="#f0c078" opacity="0.7"/>
<ellipse cx="239.9" cy="201.68" rx="1.15" ry="1.95" fill="#ff9a5a"/>
<ellipse cx="239.7" cy="203.11" rx="0.8" ry="1.82" fill="#ff9a5a"/>
<rect x="248.1" y="196.58" width="12.4" height="12.1" fill="url(#tg)"/>
<use href="#s3" x="248.1" y="196.58"/>
<ellipse cx="254.5" cy="202.33" rx="1.85" ry="3.3" fill="#f0c078" opacity="0.7"/>
<ellipse cx="254.5" cy="201.68" rx="1.15" ry="1.95" fill="#ff9a5a"/>
<ellipse cx="254.3" cy="203.11" rx="0.8" ry="1.82" fill="#ff9a5a"/>
<rect x="262.7" y="196.58" width="12.4" height="12.1" fill="url(#tg)"/>
<use href="#s0" x="262.7" y="196.58"/>
<ellipse cx="269.1" cy="202.33" rx="1.85" ry="3.3" fill="#f0c078" opacity="0.7"/>
<ellipse cx="269.1" cy="201.68" rx="1.15" ry="1.95" fill="#ff9a5a"/>
<ellipse cx="268.9" cy="203.11" rx="0.8" ry="1.82" fill="#ff9a5a"/>
<rect x="277.3" y="196.58" width="12.4" height="12.1" fill="url(#tg)"/>
<use href="#s3" x="277.3" y="196.58"/>
<ellipse cx="283.7" cy="202.33" rx="3.15" ry="4.1" fill="#b8ec98" opacity="0.7"/>
<ellipse cx="283.7" cy="201.48" rx="2.45" ry="2.55" fill="#e8cc7c"/>
<ellipse cx="283.5" cy="203.35" rx="1.72" ry="2.38" fill="#e8cc7c"/>
<rect x="291.9" y="196.58" width="12.4" height="12.1" fill="url(#tg)"/>
<use href="#s0" x="291.9" y="196.58"/>
<ellipse cx="298.3" cy="202.33" rx="2.55" ry="3.7" fill="#f0c078" opacity="0.7"/>
<ellipse cx="298.3" cy="201.58" rx="1.85" ry="2.25" fill="#ff9a5a"/>
<ellipse cx="298.1" cy="203.23" rx="1.29" ry="2.1" fill="#ff9a5a"/>
<rect x="306.5" y="196.58" width="12.4" height="12.1" fill="url(#tg)"/>
<use href="#s3" x="306.5" y="196.58"/>
<ellipse cx="312.9" cy="202.33" rx="2.55" ry="3.7" fill="#f0c078" opacity="0.7"/>
<ellipse cx="312.9" cy="201.58" rx="1.85" ry="2.25" fill="#ff9a5a"/>
<ellipse cx="312.7" cy="203.23" rx="1.29" ry="2.1" fill="#ff9a5a"/>
<rect x="29.1" y="210.77" width="12.4" height="12.1" fill="url(#tg)"/>
<use href="#s1" x="29.1" y="210.77"/>
<ellipse cx="35.5" cy="216.52" rx="1.85" ry="3.3" fill="#ff9050" opacity="0.7"/>
<ellipse cx="35.5" cy="215.87" rx="1.15" ry="1.95" fill="#ff3518"/>
<ellipse cx="35.3" cy="217.3" rx="0.8" ry="1.82" fill="#ff3518"/>
<rect x="43.7" y="210.77" width="12.4" height="12.1" fill="url(#tg)"/>
<use href="#s4" x="43.7" y="210.77"/>
<ellipse cx="50.1" cy="216.52" rx="2.55" ry="3.7" fill="#ff9050" opacity="0.7"/>
<ellipse cx="50.1" cy="215.77" rx="1.85" ry="2.25" fill="#ff3518"/>
<ellipse cx="49.9" cy="217.42" rx="1.29" ry="2.1" fill="#ff3518"/>
<rect x="58.3" y="210.77" width="12.4" height="12.1" fill="url(#tg)"/>
<use href="#s1" x="58.3" y="210.77"/>
<ellipse cx="64.7" cy="216.52" rx="1.85" ry="3.3" fill="#ff9050" opacity="0.7"/>
<ellipse cx="64.7" cy="215.87" rx="1.15" ry="1.95" fill="#ff3518"/>
<ellipse cx="64.5" cy="217.3" rx="0.8" ry="1.82" fill="#ff3518"/>
<rect x="72.9" y="210.77" width="12.4" height="12.1" fill="url(#tg)"/>
<use href="#s4" x="72.9" y="210.77"/>
<ellipse cx="79.3" cy="216.52" rx="1.85" ry="3.3" fill="#ff9050" opacity="0.7"/>
<ellipse cx="79.3" cy="215.87" rx="1.15" ry="1.95" fill="#ff3518"/>
<ellipse cx="79.1" cy="217.3" rx="0.8" ry="1.82" fill="#ff3518"/>
<rect x="87.5" y="210.77" width="12.4" height="12.1" fill="url(#tg)"/>
<use href="#s1" x="87.5" y="210.77"/>
<ellipse cx="93.9" cy="216.52" rx="1.85" ry="3.3" fill="#f0c078" opacity="0.7"/>
<ellipse cx="93.9" cy="215.87" rx="1.15" ry="1.95" fill="#ff9a5a"/>
<ellipse cx="93.7" cy="217.3" rx="0.8" ry="1.82" fill="#ff9a5a"/>
<rect x="102.1" y="210.77" width="12.4" height="12.1" fill="url(#tg)"/>
<use href="#s4" x="102.1" y="210.77"/>
<ellipse cx="108.5" cy="216.52" rx="1.85" ry="3.3" fill="#ff9050" opacity="0.7"/>
<ellipse cx="108.5" cy="215.87" rx="1.15" ry="1.95" fill="#ff3518"/>
<ellipse cx="108.3" cy="217.3" rx="0.8" ry="1.82" fill="#ff3518"/>
<rect x="116.7" y="210.77" width="12.4" height="12.1" fill="url(#tg)"/>
<use href="#s1" x="116.7" y="210.77"/>
<ellipse cx="123.1" cy="216.52" rx="1.85" ry="3.3" fill="#ff9050" opacity="0.7"/>
<ellipse cx="123.1" cy="215.87" rx="1.15" ry="1.95" fill="#ff3518"/>
<ellipse cx="122.9" cy="217.3" rx="0.8" ry="1.82" fill="#ff3518"/>
<rect x="131.3" y="210.77" width="12.4" height="12.1" fill="url(#tg)"/>
<use href="#s4" x="131.3" y="210.77"/>
<rect x="145.9" y="210.77" width="12.4" height="12.1" fill="url(#tg)"/>
<use href="#s1" x="145.9" y="210.77"/>
<ellipse cx="152.3" cy="216.52" rx="2.55" ry="3.7" fill="#f0c078" opacity="0.7"/>
<ellipse cx="152.3" cy="215.77" rx="1.85" ry="2.25" fill="#ff9a5a"/>
<ellipse cx="152.1" cy="217.42" rx="1.29" ry="2.1" fill="#ff9a5a"/>
<rect x="160.5" y="210.77" width="12.4" height="12.1" fill="url(#tg)"/>
<use href="#s4" x="160.5" y="210.77"/>
<ellipse cx="166.9" cy="216.52" rx="2.55" ry="3.7" fill="#ff9050" opacity="0.7"/>
<ellipse cx="166.9" cy="215.77" rx="1.85" ry="2.25" fill="#ff3518"/>
<ellipse cx="166.7" cy="217.42" rx="1.29" ry="2.1" fill="#ff3518"/>
<rect x="175.1" y="210.77" width="12.4" height="12.1" fill="url(#tg)"/>
<use href="#s1" x="175.1" y="210.77"/>
<ellipse cx="181.5" cy="216.52" rx="3.15" ry="4.1" fill="#ff9050" opacity="0.7"/>
<ellipse cx="181.5" cy="215.67" rx="2.45" ry="2.55" fill="#ff3518"/>
<ellipse cx="181.3" cy="217.54" rx="1.72" ry="2.38" fill="#ff3518"/>
<rect x="189.7" y="210.77" width="12.4" height="12.1" fill="url(#tg)"/>
<use href="#s4" x="189.7" y="210.77"/>
<ellipse cx="196.1" cy="216.52" rx="2.55" ry="3.7" fill="#ff9050" opacity="0.7"/>
<ellipse cx="196.1" cy="215.77" rx="1.85" ry="2.25" fill="#ff3518"/>
<ellipse cx="195.9" cy="217.42" rx="1.29" ry="2.1" fill="#ff3518"/>
<rect x="204.3" y="210.77" width="12.4" height="12.1" fill="url(#tg)"/>
<use href="#s1" x="204.3" y="210.77"/>
<ellipse cx="210.7" cy="216.52" rx="2.55" ry="3.7" fill="#f0c078" opacity="0.7"/>
<ellipse cx="210.7" cy="215.77" rx="1.85" ry="2.25" fill="#ff9a5a"/>
<ellipse cx="210.5" cy="217.42" rx="1.29" ry="2.1" fill="#ff9a5a"/>
<rect x="218.9" y="210.77" width="12.4" height="12.1" fill="url(#tg)"/>
<use href="#s4" x="218.9" y="210.77"/>
<ellipse cx="225.3" cy="216.52" rx="2.55" ry="3.7" fill="#ff9050" opacity="0.7"/>
<ellipse cx="225.3" cy="215.77" rx="1.85" ry="2.25" fill="#ff3518"/>
<ellipse cx="225.1" cy="217.42" rx="1.29" ry="2.1" fill="#ff3518"/>
<rect x="233.5" y="210.77" width="12.4" height="12.1" fill="url(#tg)"/>
<use href="#s1" x="233.5" y="210.77"/>
<ellipse cx="239.9" cy="216.52" rx="1.85" ry="3.3" fill="#f0c078" opacity="0.7"/>
<ellipse cx="239.9" cy="215.87" rx="1.15" ry="1.95" fill="#ff9a5a"/>
<ellipse cx="239.7" cy="217.3" rx="0.8" ry="1.82" fill="#ff9a5a"/>
<rect x="248.1" y="210.77" width="12.4" height="12.1" fill="url(#tg)"/>
<use href="#s4" x="248.1" y="210.77"/>
<ellipse cx="254.5" cy="216.52" rx="1.85" ry="3.3" fill="#ff9050" opacity="0.7"/>
<ellipse cx="254.5" cy="215.87" rx="1.15" ry="1.95" fill="#ff3518"/>
<ellipse cx="254.3" cy="217.3" rx="0.8" ry="1.82" fill="#ff3518"/>
<rect x="262.7" y="210.77" width="12.4" height="12.1" fill="url(#tg)"/>
<use href="#s1" x="262.7" y="210.77"/>
<ellipse cx="269.1" cy="216.52" rx="1.85" ry="3.3" fill="#ff9050" opacity="0.7"/>
<ellipse cx="269.1" cy="215.87" rx="1.15" ry="1.95" fill="#ff3518"/>
<ellipse cx="268.9" cy="217.3" rx="0.8" ry="1.82" fill="#ff3518"/>
<rect x="277.3" y="210.77" width="12.4" height="12.1" fill="url(#tg)"/>
<use href="#s4" x="277.3" y="210.77"/>
<ellipse cx="283.7" cy="216.52" rx="2.55" ry="3.7" fill="#f0c078" opacity="0.7"/>
<ellipse cx="283.7" cy="215.77" rx="1.85" ry="2.25" fill="#ff9a5a"/>
<ellipse cx="283.5" cy="217.42" rx="1.29" ry="2.1" fill="#ff9a5a"/>
<rect x="291.9" y="210.77" width="12.4" height="12.1" fill="url(#tg)"/>
<use href="#s1" x="291.9" y="210.77"/>
<ellipse cx="298.3" cy="216.52" rx="2.55" ry="3.7" fill="#ff9050" opacity="0.7"/>
<ellipse cx="298.3" cy="215.77" rx="1.85" ry="2.25" fill="#ff3518"/>
<ellipse cx="298.1" cy="217.42" rx="1.29" ry="2.1" fill="#ff3518"/>
<rect x="306.5" y="210.77" width="12.4" height="12.1" fill="url(#tg)"/>
<use href="#s4" x="306.5" y="210.77"/>
<ellipse cx="312.9" cy="216.52" rx="2.55" ry="3.7" fill="#ff9050" opacity="0.7"/>
<ellipse cx="312.9" cy="215.77" rx="1.85" ry="2.25" fill="#ff3518"/>
<ellipse cx="312.7" cy="217.42" rx="1.29" ry="2.1" fill="#ff3518"/>
<rect x="29.1" y="224.96" width="12.4" height="12.1" fill="url(#tg)"/>
<use href="#s2" x="29.1" y="224.96"/>
<ellipse cx="35.5" cy="230.71" rx="2.05" ry="3.5" fill="#f0c078" opacity="0.55"/>
<ellipse cx="34.16" cy="231.01" rx="0.98" ry="1.24" fill="#ff9a5a"/>
<ellipse cx="34.44" cy="232.28" rx="0.94" ry="1.12" fill="#ff9a5a"/>
<ellipse cx="35.19" cy="231.41" rx="0.65" ry="1.15" fill="#f0c078"/>
<ellipse cx="34.46" cy="231.23" rx="0.79" ry="0.95" fill="#f0c078"/>
<circle cx="33.83" cy="230.59" r="0.6" fill="#2a78f0" opacity="0.8"/>
<circle cx="38.25" cy="228.42" r="0.6" fill="#2a78f0" opacity="0.8"/>
<rect x="43.7" y="224.96" width="12.4" height="12.1" fill="url(#tg)"/>
<use href="#s5" x="43.7" y="224.96"/>
<ellipse cx="50.1" cy="230.71" rx="2.75" ry="3.9" fill="#f0c078" opacity="0.55"/>
<ellipse cx="51.03" cy="230.38" rx="0.91" ry="0.92" fill="#ff9a5a"/>
<ellipse cx="49.8" cy="231.1" rx="0.99" ry="0.97" fill="#ff9a5a"/>
<ellipse cx="50.05" cy="232.89" rx="1.1" ry="0.97" fill="#f0c078"/>
<ellipse cx="51.43" cy="232.72" rx="0.95" ry="0.95" fill="#f0c078"/>
<circle cx="51.63" cy="230.89" r="0.6" fill="#2a78f0" opacity="0.8"/>
<circle cx="50.92" cy="230.27" r="0.6" fill="#2a78f0" opacity="0.8"/>
<rect x="58.3" y="224.96" width="12.4" height="12.1" fill="url(#tg)"/>
<use href="#s2" x="58.3" y="224.96"/>
<ellipse cx="64.7" cy="230.71" rx="2.05" ry="3.5" fill="#f0c078" opacity="0.55"/>
<ellipse cx="65.17" cy="228.04" rx="0.64" ry="1.01" fill="#ff9a5a"/>
<ellipse cx="65.78" cy="232.66" rx="0.73" ry="0.96" fill="#ff9a5a"/>
<ellipse cx="65.04" cy="231.68" rx="0.67" ry="0.92" fill="#f0c078"/>
<ellipse cx="63.47" cy="232.61" rx="0.98" ry="1.04" fill="#f0c078"/>
<circle cx="67.48" cy="231.57" r="0.6" fill="#2a78f0" opacity="0.8"/>
<circle cx="64.46" cy="228.58" r="0.6" fill="#2a78f0" opacity="0.8"/>
<rect x="72.9" y="224.96" width="12.4" height="12.1" fill="url(#tg)"/>
<use href="#s5" x="72.9" y="224.96"/>
<ellipse cx="79.3" cy="230.71" rx="2.05" ry="3.5" fill="#f0c078" opacity="0.55"/>
<ellipse cx="78.57" cy="228.68" rx="0.93" ry="1.03" fill="#ff9a5a"/>
<ellipse cx="78.53" cy="229.56" rx="0.9" ry="1.24" fill="#ff9a5a"/>
<ellipse cx="77.92" cy="231.44" rx="1.03" ry="1.11" fill="#f0c078"/>
<ellipse cx="79.42" cy="228.1" rx="0.65" ry="1.24" fill="#f0c078"/>
<circle cx="80.64" cy="230.95" r="0.6" fill="#2a78f0" opacity="0.8"/>
<circle cx="81.56" cy="231.67" r="0.6" fill="#2a78f0" opacity="0.8"/>
<rect x="87.5" y="224.96" width="12.4" height="12.1" fill="url(#tg)"/>
<use href="#s2" x="87.5" y="224.96"/>
<ellipse cx="93.9" cy="230.71" rx="2.05" ry="3.5" fill="#f0c078" opacity="0.55"/>
<ellipse cx="95.02" cy="228.78" rx="0.74" ry="1.14" fill="#ff9a5a"/>
<ellipse cx="95.37" cy="232.3" rx="0.7" ry="0.87" fill="#ff9a5a"/>
<ellipse cx="94.83" cy="232.82" rx="0.67" ry="0.98" fill="#f0c078"/>
<ellipse cx="93.63" cy="230.7" rx="0.65" ry="1.03" fill="#f0c078"/>
<circle cx="94.34" cy="233.37" r="0.6" fill="#2a78f0" opacity="0.8"/>
<circle cx="94.01" cy="232.44" r="0.6" fill="#2a78f0" opacity="0.8"/>
<rect x="102.1" y="224.96" width="12.4" height="12.1" fill="url(#tg)"/>
<use href="#s5" x="102.1" y="224.96"/>
<ellipse cx="108.5" cy="230.71" rx="2.05" ry="3.5" fill="#f0c078" opacity="0.55"/>
<ellipse cx="108.19" cy="229.26" rx="0.72" ry="1.23" fill="#ff9a5a"/>
<ellipse cx="107.3" cy="229.78" rx="0.74" ry="0.85" fill="#ff9a5a"/>
<ellipse cx="106.74" cy="229.6" rx="0.75" ry="1.2" fill="#f0c078"/>
<ellipse cx="107.02" cy="228.48" rx="1" ry="1.29" fill="#f0c078"/>
<circle cx="107.79" cy="232.38" r="0.6" fill="#2a78f0" opacity="0.8"/>
<circle cx="109.35" cy="231.66" r="0.6" fill="#2a78f0" opacity="0.8"/>
<rect x="116.7" y="224.96" width="12.4" height="12.1" fill="url(#tg)"/>
<use href="#s2" x="116.7" y="224.96"/>
<ellipse cx="123.1" cy="230.71" rx="2.05" ry="3.5" fill="#ff9050" opacity="0.55"/>
<ellipse cx="124.82" cy="230.89" rx="0.82" ry="1.07" fill="#ff3518"/>
<ellipse cx="122.36" cy="233.26" rx="0.65" ry="1.28" fill="#ff3518"/>
<ellipse cx="123.74" cy="231.59" rx="0.99" ry="1.03" fill="#ff9050"/>
<ellipse cx="123.92" cy="230.95" rx="0.81" ry="1.16" fill="#ff9050"/>
<circle cx="120.85" cy="230.56" r="0.6" fill="#2a78f0" opacity="0.8"/>
<circle cx="120.37" cy="229.65" r="0.6" fill="#2a78f0" opacity="0.8"/>
<rect x="131.3" y="224.96" width="12.4" height="12.1" fill="url(#tg)"/>
<use href="#s5" x="131.3" y="224.96"/>
<rect x="145.9" y="224.96" width="12.4" height="12.1" fill="url(#tg)"/>
<use href="#s2" x="145.9" y="224.96"/>
<ellipse cx="152.3" cy="230.71" rx="2.75" ry="3.9" fill="#f0c078" opacity="0.55"/>
<ellipse cx="152.24" cy="228.54" rx="1.09" ry="0.89" fill="#ff9a5a"/>
<ellipse cx="152.85" cy="230.88" rx="1" ry="0.94" fill="#ff9a5a"/>
<ellipse cx="153.16" cy="233.21" rx="1.08" ry="0.85" fill="#f0c078"/>
<ellipse cx="151.66" cy="231.08" rx="1.36" ry="0.99" fill="#f0c078"/>
<circle cx="153.59" cy="232.53" r="0.6" fill="#2a78f0" opacity="0.8"/>
<circle cx="153.56" cy="233.13" r="0.6" fill="#2a78f0" opacity="0.8"/>
<rect x="160.5" y="224.96" width="12.4" height="12.1" fill="url(#tg)"/>
<use href="#s5" x="160.5" y="224.96"/>
<ellipse cx="166.9" cy="230.71" rx="2.75" ry="3.9" fill="#f0c078" opacity="0.55"/>
<ellipse cx="165.05" cy="231.68" rx="1.22" ry="1.08" fill="#ff9a5a"/>
<ellipse cx="166.98" cy="231.66" rx="1.44" ry="1.1" fill="#ff9a5a"/>
<ellipse cx="166.27" cy="233.39" rx="1.11" ry="1.23" fill="#f0c078"/>
<ellipse cx="168.6" cy="232.33" rx="1.27" ry="1.07" fill="#f0c078"/>
<circle cx="165.22" cy="230.32" r="0.6" fill="#2a78f0" opacity="0.8"/>
<circle cx="166.28" cy="232.56" r="0.6" fill="#2a78f0" opacity="0.8"/>
<rect x="175.1" y="224.96" width="12.4" height="12.1" fill="url(#tg)"/>
<use href="#s2" x="175.1" y="224.96"/>
<ellipse cx="181.5" cy="230.71" rx="2.75" ry="3.9" fill="#ff9050" opacity="0.55"/>
<ellipse cx="180.68" cy="229.88" rx="1.37" ry="1.1" fill="#ff3518"/>
<ellipse cx="182.41" cy="229.04" rx="1.34" ry="1.23" fill="#ff3518"/>
<ellipse cx="181.2" cy="228.6" rx="1.07" ry="1.2" fill="#ff9050"/>
<ellipse cx="181.06" cy="230.64" rx="0.93" ry="1.25" fill="#ff9050"/>
<circle cx="180.53" cy="232.99" r="0.6" fill="#2a78f0" opacity="0.8"/>
<circle cx="179.19" cy="233.88" r="0.6" fill="#2a78f0" opacity="0.8"/>
<rect x="189.7" y="224.96" width="12.4" height="12.1" fill="url(#tg)"/>
<use href="#s5" x="189.7" y="224.96"/>
<ellipse cx="196.1" cy="230.71" rx="2.75" ry="3.9" fill="#f0c078" opacity="0.55"/>
<ellipse cx="197.16" cy="231.45" rx="1.17" ry="0.92" fill="#ff9a5a"/>
<ellipse cx="195.13" cy="228.32" rx="1.42" ry="0.89" fill="#ff9a5a"/>
<ellipse cx="197.1" cy="229.23" rx="0.96" ry="1.18" fill="#f0c078"/>
<ellipse cx="197.16" cy="231.66" rx="0.92" ry="1.16" fill="#f0c078"/>
<circle cx="198.74" cy="229.84" r="0.6" fill="#2a78f0" opacity="0.8"/>
<circle cx="197.28" cy="233.13" r="0.6" fill="#2a78f0" opacity="0.8"/>
<rect x="204.3" y="224.96" width="12.4" height="12.1" fill="url(#tg)"/>
<use href="#s2" x="204.3" y="224.96"/>
<ellipse cx="210.7" cy="230.71" rx="2.05" ry="3.5" fill="#f0c078" opacity="0.55"/>
<ellipse cx="212" cy="228.07" rx="0.89" ry="1.28" fill="#ff9a5a"/>
<ellipse cx="209.26" cy="228.65" rx="0.77" ry="1.07" fill="#ff9a5a"/>
<ellipse cx="209.35" cy="229.02" rx="0.92" ry="1.12" fill="#f0c078"/>
<ellipse cx="210.38" cy="231.26" rx="0.89" ry="1.12" fill="#f0c078"/>
<circle cx="210.12" cy="233.49" r="0.6" fill="#2a78f0" opacity="0.8"/>
<circle cx="208.62" cy="231.37" r="0.6" fill="#2a78f0" opacity="0.8"/>
<rect x="218.9" y="224.96" width="12.4" height="12.1" fill="url(#tg)"/>
<use href="#s5" x="218.9" y="224.96"/>
<ellipse cx="225.3" cy="230.71" rx="2.75" ry="3.9" fill="#ff9050" opacity="0.55"/>
<ellipse cx="225.13" cy="228.48" rx="1.15" ry="0.99" fill="#ff3518"/>
<ellipse cx="224.43" cy="230.12" rx="1.24" ry="1.29" fill="#ff3518"/>
<ellipse cx="225.41" cy="229.54" rx="0.91" ry="0.92" fill="#ff9050"/>
<ellipse cx="224.36" cy="229.94" rx="1.16" ry="1.14" fill="#ff9050"/>
<circle cx="222.73" cy="230.97" r="0.6" fill="#2a78f0" opacity="0.8"/>
<circle cx="225.98" cy="229.8" r="0.6" fill="#2a78f0" opacity="0.8"/>
<rect x="233.5" y="224.96" width="12.4" height="12.1" fill="url(#tg)"/>
<use href="#s2" x="233.5" y="224.96"/>
<ellipse cx="239.9" cy="230.71" rx="2.05" ry="3.5" fill="#f0c078" opacity="0.55"/>
<ellipse cx="241.28" cy="231.66" rx="0.66" ry="0.88" fill="#ff9a5a"/>
<ellipse cx="240.88" cy="229.21" rx="0.94" ry="1.27" fill="#ff9a5a"/>
<ellipse cx="239.29" cy="228.27" rx="0.78" ry="1.22" fill="#f0c078"/>
<ellipse cx="240.59" cy="229.37" rx="0.63" ry="1.14" fill="#f0c078"/>
<circle cx="238.8" cy="229.86" r="0.6" fill="#2a78f0" opacity="0.8"/>
<circle cx="239.78" cy="227.51" r="0.6" fill="#2a78f0" opacity="0.8"/>
<rect x="248.1" y="224.96" width="12.4" height="12.1" fill="url(#tg)"/>
<use href="#s5" x="248.1" y="224.96"/>
<ellipse cx="254.5" cy="230.71" rx="2.05" ry="3.5" fill="#f0c078" opacity="0.55"/>
<ellipse cx="255.91" cy="232.77" rx="0.9" ry="1.15" fill="#ff9a5a"/>
<ellipse cx="253.78" cy="231.72" rx="0.95" ry="0.93" fill="#ff9a5a"/>
<ellipse cx="256.15" cy="233.35" rx="0.72" ry="1.03" fill="#f0c078"/>
<ellipse cx="255.08" cy="229.35" rx="0.72" ry="1.04" fill="#f0c078"/>
<circle cx="254.95" cy="231.18" r="0.6" fill="#2a78f0" opacity="0.8"/>
<circle cx="252.75" cy="231.77" r="0.6" fill="#2a78f0" opacity="0.8"/>
<rect x="262.7" y="224.96" width="12.4" height="12.1" fill="url(#tg)"/>
<use href="#s2" x="262.7" y="224.96"/>
<ellipse cx="269.1" cy="230.71" rx="2.05" ry="3.5" fill="#f0c078" opacity="0.55"/>
<ellipse cx="267.48" cy="231.91" rx="0.81" ry="1.29" fill="#ff9a5a"/>
<ellipse cx="269.49" cy="230.04" rx="0.87" ry="0.88" fill="#ff9a5a"/>
<ellipse cx="270.22" cy="228.18" rx="1.04" ry="1.04" fill="#f0c078"/>
<ellipse cx="270.94" cy="231.43" rx="0.67" ry="0.93" fill="#f0c078"/>
<circle cx="266.6" cy="228.56" r="0.6" fill="#2a78f0" opacity="0.8"/>
<circle cx="270.84" cy="228.74" r="0.6" fill="#2a78f0" opacity="0.8"/>
<rect x="277.3" y="224.96" width="12.4" height="12.1" fill="url(#tg)"/>
<use href="#s5" x="277.3" y="224.96"/>
<ellipse cx="283.7" cy="230.71" rx="2.75" ry="3.9" fill="#f0c078" opacity="0.55"/>
<ellipse cx="282.95" cy="231.89" rx="1.3" ry="0.88" fill="#ff9a5a"/>
<ellipse cx="284.59" cy="231.43" rx="1.42" ry="1.28" fill="#ff9a5a"/>
<ellipse cx="284.58" cy="229.68" rx="1.15" ry="1.31" fill="#f0c078"/>
<ellipse cx="285.24" cy="232.08" rx="1.29" ry="1.23" fill="#f0c078"/>
<circle cx="283.56" cy="231.12" r="0.6" fill="#2a78f0" opacity="0.8"/>
<circle cx="285.92" cy="232.26" r="0.6" fill="#2a78f0" opacity="0.8"/>
<rect x="291.9" y="224.96" width="12.4" height="12.1" fill="url(#tg)"/>
<use href="#s2" x="291.9" y="224.96"/>
<ellipse cx="298.3" cy="230.71" rx="2.75" ry="3.9" fill="#ff9050" opacity="0.55"/>
<ellipse cx="299.42" cy="228.01" rx="1.27" ry="1.17" fill="#ff3518"/>
<ellipse cx="299.98" cy="232.51" rx="1.1" ry="0.92" fill="#ff3518"/>
<ellipse cx="296.64" cy="232.69" rx="1.39" ry="1.28" fill="#ff9050"/>
<ellipse cx="296.93" cy="231.96" rx="1.03" ry="1.06" fill="#ff9050"/>
<circle cx="297.23" cy="232.39" r="0.6" fill="#2a78f0" opacity="0.8"/>
<circle cx="300.84" cy="228.19" r="0.6" fill="#2a78f0" opacity="0.8"/>
<rect x="306.5" y="224.96" width="12.4" height="12.1" fill="url(#tg)"/>
<use href="#s5" x="306.5" y="224.96"/>
<ellipse cx="312.9" cy="230.71" rx="2.75" ry="3.9" fill="#f0c078" opacity="0.55"/>
<ellipse cx="313.19" cy="232.7" rx="0.9" ry="0.92" fill="#ff9a5a"/>
<ellipse cx="310.94" cy="230.57" rx="0.9" ry="1.01" fill="#ff9a5a"/>
<ellipse cx="311.48" cy="231.98" rx="1.05" ry="1.22" fill="#f0c078"/>
<ellipse cx="314.59" cy="231.86" rx="0.93" ry="1.17" fill="#f0c078"/>
<circle cx="311.86" cy="227.99" r="0.6" fill="#2a78f0" opacity="0.8"/>
<circle cx="315.68" cy="231.12" r="0.6" fill="#2a78f0" opacity="0.8"/>
<rect x="29.1" y="239.15" width="12.4" height="12.1" fill="url(#tg)"/>
<use href="#s3" x="29.1" y="239.15"/>
<ellipse cx="35.5" cy="244.9" rx="2.05" ry="3.5" fill="#f0c078" opacity="0.55"/>
<ellipse cx="34.74" cy="246.64" rx="0.76" ry="1" fill="#ff9a5a"/>
<ellipse cx="36.57" cy="247.41" rx="0.97" ry="1.22" fill="#ff9a5a"/>
<ellipse cx="36.55" cy="247.06" rx="0.78" ry="0.91" fill="#f0c078"/>
<ellipse cx="34.61" cy="242.53" rx="0.83" ry="0.96" fill="#f0c078"/>
<circle cx="35.23" cy="247.56" r="0.6" fill="#2a78f0" opacity="0.8"/>
<circle cx="36.42" cy="242.86" r="0.6" fill="#2a78f0" opacity="0.8"/>
<rect x="43.7" y="239.15" width="12.4" height="12.1" fill="url(#tg)"/>
<use href="#s0" x="43.7" y="239.15"/>
<ellipse cx="50.1" cy="244.9" rx="2.75" ry="3.9" fill="#f0c078" opacity="0.55"/>
<ellipse cx="50.66" cy="244.48" rx="0.92" ry="1.13" fill="#ff9a5a"/>
<ellipse cx="51.68" cy="246.25" rx="1.37" ry="0.99" fill="#ff9a5a"/>
<ellipse cx="50.86" cy="243.56" rx="0.89" ry="0.96" fill="#f0c078"/>
<ellipse cx="49.55" cy="243.45" rx="1.22" ry="0.93" fill="#f0c078"/>
<circle cx="52.43" cy="244.76" r="0.6" fill="#2a78f0" opacity="0.8"/>
<circle cx="52.56" cy="248.03" r="0.6" fill="#2a78f0" opacity="0.8"/>
<rect x="58.3" y="239.15" width="12.4" height="12.1" fill="url(#tg)"/>
<use href="#s3" x="58.3" y="239.15"/>
<ellipse cx="64.7" cy="244.9" rx="2.05" ry="3.5" fill="#f0c078" opacity="0.55"/>
<ellipse cx="63.38" cy="245.43" rx="0.73" ry="1.05" fill="#ff9a5a"/>
<ellipse cx="66.14" cy="245.17" rx="0.87" ry="1.29" fill="#ff9a5a"/>
<ellipse cx="63.93" cy="245.96" rx="0.82" ry="0.94" fill="#f0c078"/>
<ellipse cx="64.46" cy="244.95" rx="0.7" ry="1.02" fill="#f0c078"/>
<circle cx="67.28" cy="242.71" r="0.6" fill="#2a78f0" opacity="0.8"/>
<circle cx="64.12" cy="247.81" r="0.6" fill="#2a78f0" opacity="0.8"/>
<rect x="72.9" y="239.15" width="12.4" height="12.1" fill="url(#tg)"/>
<use href="#s0" x="72.9" y="239.15"/>
<ellipse cx="79.3" cy="244.9" rx="2.05" ry="3.5" fill="#ff9050" opacity="0.55"/>
<ellipse cx="79.16" cy="242.82" rx="0.7" ry="0.89" fill="#ff3518"/>
<ellipse cx="80.22" cy="245.36" rx="0.91" ry="0.94" fill="#ff3518"/>
<ellipse cx="81.27" cy="242.67" rx="0.81" ry="0.92" fill="#ff9050"/>
<ellipse cx="79.84" cy="243.56" rx="0.74" ry="0.96" fill="#ff9050"/>
<circle cx="78.01" cy="247.03" r="0.6" fill="#2a78f0" opacity="0.8"/>
<circle cx="80.02" cy="244" r="0.6" fill="#2a78f0" opacity="0.8"/>
<rect x="87.5" y="239.15" width="12.4" height="12.1" fill="url(#tg)"/>
<use href="#s3" x="87.5" y="239.15"/>
<rect x="102.1" y="239.15" width="12.4" height="12.1" fill="url(#tg)"/>
<use href="#s0" x="102.1" y="239.15"/>
<ellipse cx="108.5" cy="244.9" rx="2.05" ry="3.5" fill="#f0c078" opacity="0.55"/>
<ellipse cx="106.98" cy="242.54" rx="0.86" ry="1.08" fill="#ff9a5a"/>
<ellipse cx="107.95" cy="246.11" rx="0.69" ry="1.02" fill="#ff9a5a"/>
<ellipse cx="109.6" cy="242.18" rx="1.03" ry="1.03" fill="#f0c078"/>
<ellipse cx="107.85" cy="242.53" rx="0.81" ry="0.9" fill="#f0c078"/>
<circle cx="107.95" cy="247.63" r="0.6" fill="#2a78f0" opacity="0.8"/>
<circle cx="110.54" cy="241.86" r="0.6" fill="#2a78f0" opacity="0.8"/>
<rect x="116.7" y="239.15" width="12.4" height="12.1" fill="url(#tg)"/>
<use href="#s3" x="116.7" y="239.15"/>
<ellipse cx="123.1" cy="244.9" rx="2.05" ry="3.5" fill="#ff9050" opacity="0.55"/>
<ellipse cx="121.82" cy="245.34" rx="1.01" ry="0.89" fill="#ff3518"/>
<ellipse cx="124.54" cy="246.59" rx="0.88" ry="1.03" fill="#ff3518"/>
<ellipse cx="123.15" cy="242.36" rx="0.98" ry="1.21" fill="#ff9050"/>
<ellipse cx="124.19" cy="244.39" rx="0.92" ry="1.02" fill="#ff9050"/>
<circle cx="120.4" cy="245.08" r="0.6" fill="#2a78f0" opacity="0.8"/>
<circle cx="124.53" cy="242.4" r="0.6" fill="#2a78f0" opacity="0.8"/>
<rect x="131.3" y="239.15" width="12.4" height="12.1" fill="url(#tg)"/>
<use href="#s0" x="131.3" y="239.15"/>
<rect x="145.9" y="239.15" width="12.4" height="12.1" fill="url(#tg)"/>
<use href="#s3" x="145.9" y="239.15"/>
<ellipse cx="152.3" cy="244.9" rx="2.05" ry="3.5" fill="#f0c078" opacity="0.55"/>
<ellipse cx="151.53" cy="245.07" rx="0.7" ry="1.02" fill="#ff9a5a"/>
<ellipse cx="154.19" cy="243.5" rx="1.02" ry="1.23" fill="#ff9a5a"/>
<ellipse cx="150.44" cy="245.14" rx="0.64" ry="0.9" fill="#f0c078"/>
<ellipse cx="151.8" cy="242.68" rx="0.9" ry="1.26" fill="#f0c078"/>
<circle cx="154.55" cy="246.62" r="0.6" fill="#2a78f0" opacity="0.8"/>
<circle cx="153.14" cy="244.4" r="0.6" fill="#2a78f0" opacity="0.8"/>
<rect x="160.5" y="239.15" width="12.4" height="12.1" fill="url(#tg)"/>
<use href="#s0" x="160.5" y="239.15"/>
<ellipse cx="166.9" cy="244.9" rx="2.75" ry="3.9" fill="#ff9050" opacity="0.55"/>
<ellipse cx="168.42" cy="246.24" rx="0.97" ry="0.88" fill="#ff3518"/>
<ellipse cx="167.39" cy="242.21" rx="1.06" ry="1.12" fill="#ff3518"/>
<ellipse cx="168.29" cy="242.27" rx="0.94" ry="1.12" fill="#ff9050"/>
<ellipse cx="168.88" cy="243.41" rx="0.91" ry="0.97" fill="#ff9050"/>
<circle cx="167.33" cy="242.16" r="0.6" fill="#2a78f0" opacity="0.8"/>
<circle cx="166.44" cy="243.98" r="0.6" fill="#2a78f0" opacity="0.8"/>
<rect x="175.1" y="239.15" width="12.4" height="12.1" fill="url(#tg)"/>
<use href="#s3" x="175.1" y="239.15"/>
<ellipse cx="181.5" cy="244.9" rx="2.75" ry="3.9" fill="#ff9050" opacity="0.55"/>
<ellipse cx="181.09" cy="244.27" rx="1.29" ry="0.9" fill="#ff3518"/>
<ellipse cx="181.25" cy="247.38" rx="0.96" ry="1.28" fill="#ff3518"/>
<ellipse cx="181.01" cy="243.5" rx="1.32" ry="1.04" fill="#ff9050"/>
<ellipse cx="181.13" cy="242.22" rx="0.92" ry="1.25" fill="#ff9050"/>
<circle cx="179.89" cy="245.42" r="0.6" fill="#2a78f0" opacity="0.8"/>
<circle cx="182.07" cy="245.74" r="0.6" fill="#2a78f0" opacity="0.8"/>
<rect x="189.7" y="239.15" width="12.4" height="12.1" fill="url(#tg)"/>
<use href="#s0" x="189.7" y="239.15"/>
<ellipse cx="196.1" cy="244.9" rx="2.75" ry="3.9" fill="#ff9050" opacity="0.55"/>
<ellipse cx="194.83" cy="244.3" rx="1.45" ry="0.86" fill="#ff3518"/>
<ellipse cx="194.39" cy="242.13" rx="1.17" ry="1.07" fill="#ff3518"/>
<ellipse cx="194.24" cy="243.98" rx="1.19" ry="0.96" fill="#ff9050"/>
<ellipse cx="196.56" cy="243.79" rx="1.43" ry="0.94" fill="#ff9050"/>
<circle cx="194.64" cy="243.08" r="0.6" fill="#2a78f0" opacity="0.8"/>
<circle cx="196.69" cy="241.97" r="0.6" fill="#2a78f0" opacity="0.8"/>
<rect x="204.3" y="239.15" width="12.4" height="12.1" fill="url(#tg)"/>
<use href="#s3" x="204.3" y="239.15"/>
<ellipse cx="210.7" cy="244.9" rx="2.75" ry="3.9" fill="#f0c078" opacity="0.55"/>
<ellipse cx="210.59" cy="242.96" rx="1.25" ry="0.92" fill="#ff9a5a"/>
<ellipse cx="210.04" cy="246.32" rx="1.25" ry="0.9" fill="#ff9a5a"/>
<ellipse cx="210.7" cy="246.04" rx="1.46" ry="1.04" fill="#f0c078"/>
<ellipse cx="209.55" cy="244.07" rx="1.2" ry="1.3" fill="#f0c078"/>
<circle cx="210.25" cy="243.62" r="0.6" fill="#2a78f0" opacity="0.8"/>
<circle cx="210.73" cy="244.62" r="0.6" fill="#2a78f0" opacity="0.8"/>
<rect x="218.9" y="239.15" width="12.4" height="12.1" fill="url(#tg)"/>
<use href="#s0" x="218.9" y="239.15"/>
<ellipse cx="225.3" cy="244.9" rx="2.75" ry="3.9" fill="#ff9050" opacity="0.55"/>
<ellipse cx="225.48" cy="243.77" rx="0.95" ry="1" fill="#ff3518"/>
<ellipse cx="225.53" cy="246.35" rx="1.12" ry="1.23" fill="#ff3518"/>
<ellipse cx="225.91" cy="246.15" rx="1.37" ry="1.1" fill="#ff9050"/>
<ellipse cx="224.67" cy="245.58" rx="1.09" ry="0.97" fill="#ff9050"/>
<circle cx="222.96" cy="247.58" r="0.6" fill="#2a78f0" opacity="0.8"/>
<circle cx="223.94" cy="244.37" r="0.6" fill="#2a78f0" opacity="0.8"/>
<rect x="233.5" y="239.15" width="12.4" height="12.1" fill="url(#tb)"/>
<use href="#s3" x="233.5" y="239.15"/>
<ellipse cx="239.9" cy="244.9" rx="2.05" ry="3.5" fill="#ff9050" opacity="0.55"/>
<ellipse cx="237.9" cy="245.15" rx="0.75" ry="1.1" fill="#ff3518"/>
<ellipse cx="238.64" cy="245.05" rx="0.99" ry="1.06" fill="#ff3518"/>
<ellipse cx="241.28" cy="245.51" rx="0.91" ry="1.16" fill="#ff9050"/>
<ellipse cx="241" cy="242.6" rx="0.87" ry="1.05" fill="#ff9050"/>
<circle cx="242.12" cy="243.51" r="0.6" fill="#2a78f0" opacity="0.8"/>
<circle cx="241.63" cy="247.33" r="0.6" fill="#2a78f0" opacity="0.8"/>
<rect x="248.1" y="239.15" width="12.4" height="12.1" fill="url(#tg)"/>
<use href="#s0" x="248.1" y="239.15"/>
<ellipse cx="254.5" cy="244.9" rx="2.05" ry="3.5" fill="#b8ec98" opacity="0.55"/>
<ellipse cx="255.73" cy="246.19" rx="0.76" ry="1.09" fill="#e8cc7c"/>
<ellipse cx="256.24" cy="245.6" rx="0.77" ry="1.03" fill="#e8cc7c"/>
<ellipse cx="252.61" cy="246.78" rx="0.8" ry="1.27" fill="#b8ec98"/>
<ellipse cx="253.67" cy="243.52" rx="1.01" ry="1.31" fill="#b8ec98"/>
<circle cx="252.29" cy="247.65" r="0.6" fill="#2a78f0" opacity="0.8"/>
<circle cx="252.94" cy="246.39" r="0.6" fill="#2a78f0" opacity="0.8"/>
<rect x="262.7" y="239.15" width="12.4" height="12.1" fill="url(#tg)"/>
<use href="#s3" x="262.7" y="239.15"/>
<ellipse cx="269.1" cy="244.9" rx="2.05" ry="3.5" fill="#f0c078" opacity="0.55"/>
<ellipse cx="268.02" cy="243.15" rx="0.82" ry="1.16" fill="#ff9a5a"/>
<ellipse cx="270.47" cy="246.13" rx="0.99" ry="0.88" fill="#ff9a5a"/>
<ellipse cx="267.48" cy="244.48" rx="0.65" ry="1.24" fill="#f0c078"/>
<ellipse cx="269.25" cy="247.56" rx="0.94" ry="1.3" fill="#f0c078"/>
<circle cx="269.54" cy="246.51" r="0.6" fill="#2a78f0" opacity="0.8"/>
<circle cx="269.76" cy="243.43" r="0.6" fill="#2a78f0" opacity="0.8"/>
<rect x="277.3" y="239.15" width="12.4" height="12.1" fill="url(#tg)"/>
<use href="#s0" x="277.3" y="239.15"/>
<ellipse cx="283.7" cy="244.9" rx="2.75" ry="3.9" fill="#f0c078" opacity="0.55"/>
<ellipse cx="283.29" cy="242.23" rx="1.41" ry="1.11" fill="#ff9a5a"/>
<ellipse cx="285.31" cy="242.82" rx="1.32" ry="0.94" fill="#ff9a5a"/>
<ellipse cx="283.69" cy="245.68" rx="0.9" ry="0.87" fill="#f0c078"/>
<ellipse cx="283.66" cy="246.43" rx="0.93" ry="1.19" fill="#f0c078"/>
<circle cx="282.01" cy="247.24" r="0.6" fill="#2a78f0" opacity="0.8"/>
<circle cx="283.98" cy="241.77" r="0.6" fill="#2a78f0" opacity="0.8"/>
<rect x="291.9" y="239.15" width="12.4" height="12.1" fill="url(#tg)"/>
<use href="#s3" x="291.9" y="239.15"/>
<ellipse cx="298.3" cy="244.9" rx="2.75" ry="3.9" fill="#f0c078" opacity="0.55"/>
<ellipse cx="297.11" cy="246.22" rx="1.03" ry="1.18" fill="#ff9a5a"/>
<ellipse cx="296.87" cy="245.47" rx="1.23" ry="0.99" fill="#ff9a5a"/>
<ellipse cx="297.09" cy="246.35" rx="0.98" ry="0.89" fill="#f0c078"/>
<ellipse cx="297.71" cy="242.2" rx="1.23" ry="1.2" fill="#f0c078"/>
<circle cx="295.96" cy="242.93" r="0.6" fill="#2a78f0" opacity="0.8"/>
<circle cx="299.84" cy="246.2" r="0.6" fill="#2a78f0" opacity="0.8"/>
<rect x="306.5" y="239.15" width="12.4" height="12.1" fill="url(#tg)"/>
<use href="#s0" x="306.5" y="239.15"/>
<ellipse cx="312.9" cy="244.9" rx="2.05" ry="3.5" fill="#f0c078" opacity="0.55"/>
<ellipse cx="311.9" cy="246.46" rx="0.89" ry="1.29" fill="#ff9a5a"/>
<ellipse cx="311.04" cy="242.4" rx="0.78" ry="1.28" fill="#ff9a5a"/>
<ellipse cx="314.66" cy="245.23" rx="0.69" ry="0.91" fill="#f0c078"/>
<ellipse cx="313.11" cy="243.17" rx="0.9" ry="0.93" fill="#f0c078"/>
<circle cx="311.45" cy="246.86" r="0.6" fill="#2a78f0" opacity="0.8"/>
<circle cx="313.87" cy="245.33" r="0.6" fill="#2a78f0" opacity="0.8"/>
<rect x="29.1" y="253.34" width="12.4" height="12.1" fill="url(#tg)"/>
<use href="#s4" x="29.1" y="253.34"/>
<ellipse cx="35.5" cy="259.09" rx="2.05" ry="3.5" fill="#f0c078" opacity="0.55"/>
<ellipse cx="33.56" cy="259.3" rx="0.93" ry="1.2" fill="#ff9a5a"/>
<ellipse cx="35.69" cy="260.91" rx="0.8" ry="1.04" fill="#ff9a5a"/>
<ellipse cx="33.93" cy="259.61" rx="0.74" ry="1.21" fill="#f0c078"/>
<ellipse cx="34.79" cy="256.54" rx="1.01" ry="0.95" fill="#f0c078"/>
<circle cx="37.11" cy="259.58" r="0.6" fill="#2a78f0" opacity="0.8"/>
<circle cx="37.17" cy="262.18" r="0.6" fill="#2a78f0" opacity="0.8"/>
<rect x="43.7" y="253.34" width="12.4" height="12.1" fill="url(#tg)"/>
<use href="#s1" x="43.7" y="253.34"/>
<ellipse cx="50.1" cy="259.09" rx="2.75" ry="3.9" fill="#ff9050" opacity="0.55"/>
<ellipse cx="49.67" cy="260.6" rx="1.38" ry="1.22" fill="#ff3518"/>
<ellipse cx="51.01" cy="260.97" rx="1.46" ry="0.97" fill="#ff3518"/>
<ellipse cx="51.32" cy="257.93" rx="1.36" ry="1.09" fill="#ff9050"/>
<ellipse cx="50.58" cy="261.53" rx="1.17" ry="0.98" fill="#ff9050"/>
<circle cx="48.6" cy="260.5" r="0.6" fill="#2a78f0" opacity="0.8"/>
<circle cx="49.25" cy="258.28" r="0.6" fill="#2a78f0" opacity="0.8"/>
<rect x="58.3" y="253.34" width="12.4" height="12.1" fill="url(#tg)"/>
<use href="#s4" x="58.3" y="253.34"/>
<ellipse cx="64.7" cy="259.09" rx="2.05" ry="3.5" fill="#f0c078" opacity="0.55"/>
<ellipse cx="65.93" cy="258.02" rx="0.9" ry="0.86" fill="#ff9a5a"/>
<ellipse cx="64.33" cy="259.73" rx="0.91" ry="1.22" fill="#ff9a5a"/>
<ellipse cx="64.77" cy="259.24" rx="0.71" ry="1.01" fill="#f0c078"/>
<ellipse cx="66.53" cy="258.5" rx="0.76" ry="0.97" fill="#f0c078"/>
<circle cx="64.54" cy="261.88" r="0.6" fill="#2a78f0" opacity="0.8"/>
<circle cx="62.21" cy="260.88" r="0.6" fill="#2a78f0" opacity="0.8"/>
<rect x="72.9" y="253.34" width="12.4" height="12.1" fill="url(#tg)"/>
<use href="#s1" x="72.9" y="253.34"/>
<ellipse cx="79.3" cy="259.09" rx="2.05" ry="3.5" fill="#ff9050" opacity="0.55"/>
<ellipse cx="79.37" cy="256.59" rx="1.02" ry="0.84" fill="#ff3518"/>
<ellipse cx="79.64" cy="260.69" rx="0.77" ry="0.94" fill="#ff3518"/>
<ellipse cx="81.06" cy="258.38" rx="0.87" ry="0.87" fill="#ff9050"/>
<ellipse cx="79" cy="256.72" rx="0.64" ry="1.09" fill="#ff9050"/>
<circle cx="77.69" cy="257.36" r="0.6" fill="#2a78f0" opacity="0.8"/>
<circle cx="79.8" cy="259.62" r="0.6" fill="#2a78f0" opacity="0.8"/>
<rect x="87.5" y="253.34" width="12.4" height="12.1" fill="url(#tg)"/>
<use href="#s4" x="87.5" y="253.34"/>
<ellipse cx="93.9" cy="259.09" rx="2.05" ry="3.5" fill="#b8ec98" opacity="0.55"/>
<ellipse cx="92" cy="260.65" rx="0.82" ry="0.94" fill="#e8cc7c"/>
<ellipse cx="93.11" cy="259.38" rx="0.78" ry="1.3" fill="#e8cc7c"/>
<ellipse cx="92.94" cy="257.52" rx="0.88" ry="1.2" fill="#b8ec98"/>
<ellipse cx="95.74" cy="261.35" rx="0.8" ry="0.96" fill="#b8ec98"/>
<circle cx="96.49" cy="259.96" r="0.6" fill="#2a78f0" opacity="0.8"/>
<circle cx="96.43" cy="260.14" r="0.6" fill="#2a78f0" opacity="0.8"/>
<rect x="102.1" y="253.34" width="12.4" height="12.1" fill="url(#tg)"/>
<use href="#s1" x="102.1" y="253.34"/>
<ellipse cx="108.5" cy="259.09" rx="2.05" ry="3.5" fill="#f0c078" opacity="0.55"/>
<ellipse cx="107.04" cy="258.59" rx="0.72" ry="1.27" fill="#ff9a5a"/>
<ellipse cx="108.85" cy="261.47" rx="0.92" ry="1.19" fill="#ff9a5a"/>
<ellipse cx="109.24" cy="260.17" rx="0.75" ry="0.98" fill="#f0c078"/>
<ellipse cx="107.87" cy="258.05" rx="0.8" ry="1.15" fill="#f0c078"/>
<circle cx="109.57" cy="260.58" r="0.6" fill="#2a78f0" opacity="0.8"/>
<circle cx="109.69" cy="257.47" r="0.6" fill="#2a78f0" opacity="0.8"/>
<rect x="116.7" y="253.34" width="12.4" height="12.1" fill="url(#tg)"/>
<use href="#s4" x="116.7" y="253.34"/>
<ellipse cx="123.1" cy="259.09" rx="2.05" ry="3.5" fill="#ff9050" opacity="0.55"/>
<ellipse cx="123.16" cy="258.75" rx="0.94" ry="0.93" fill="#ff3518"/>
<ellipse cx="123.14" cy="260.53" rx="0.72" ry="1.31" fill="#ff3518"/>
<ellipse cx="121.26" cy="259.72" rx="0.85" ry="0.95" fill="#ff9050"/>
<ellipse cx="123.01" cy="261.64" rx="1" ry="0.99" fill="#ff9050"/>
<circle cx="120.8" cy="257.64" r="0.6" fill="#2a78f0" opacity="0.8"/>
<circle cx="121.31" cy="256.85" r="0.6" fill="#2a78f0" opacity="0.8"/>
<rect x="131.3" y="253.34" width="12.4" height="12.1" fill="url(#tg)"/>
<use href="#s1" x="131.3" y="253.34"/>
<rect x="145.9" y="253.34" width="12.4" height="12.1" fill="url(#tg)"/>
<use href="#s4" x="145.9" y="253.34"/>
<ellipse cx="152.3" cy="259.09" rx="2.05" ry="3.5" fill="#f0c078" opacity="0.55"/>
<ellipse cx="151.02" cy="259.66" rx="0.85" ry="0.93" fill="#ff9a5a"/>
<ellipse cx="151.59" cy="260.47" rx="0.8" ry="0.95" fill="#ff9a5a"/>
<ellipse cx="153.99" cy="256.48" rx="0.78" ry="1.24" fill="#f0c078"/>
<ellipse cx="152.78" cy="260.34" rx="0.64" ry="0.86" fill="#f0c078"/>
<circle cx="151.36" cy="256.53" r="0.6" fill="#2a78f0" opacity="0.8"/>
<circle cx="150.34" cy="261.36" r="0.6" fill="#2a78f0" opacity="0.8"/>
<rect x="160.5" y="253.34" width="12.4" height="12.1" fill="url(#tg)"/>
<use href="#s1" x="160.5" y="253.34"/>
<ellipse cx="166.9" cy="259.09" rx="2.75" ry="3.9" fill="#ff9050" opacity="0.55"/>
<ellipse cx="168.78" cy="258.73" rx="1.04" ry="0.92" fill="#ff3518"/>
<ellipse cx="167.06" cy="260.74" rx="1.24" ry="1.29" fill="#ff3518"/>
<ellipse cx="167.46" cy="259.09" rx="0.93" ry="1.25" fill="#ff9050"/>
<ellipse cx="167.37" cy="261.07" rx="1.25" ry="0.92" fill="#ff9050"/>
<circle cx="164.35" cy="257.23" r="0.6" fill="#2a78f0" opacity="0.8"/>
<circle cx="166.2" cy="257.1" r="0.6" fill="#2a78f0" opacity="0.8"/>
<rect x="175.1" y="253.34" width="12.4" height="12.1" fill="url(#tg)"/>
<use href="#s4" x="175.1" y="253.34"/>
<ellipse cx="181.5" cy="259.09" rx="2.75" ry="3.9" fill="#ff9050" opacity="0.55"/>
<ellipse cx="180.67" cy="259.85" rx="0.96" ry="1.29" fill="#ff3518"/>
<ellipse cx="182.07" cy="256.6" rx="0.9" ry="1.32" fill="#ff3518"/>
<ellipse cx="180.77" cy="259.46" rx="1.17" ry="0.98" fill="#ff9050"/>
<ellipse cx="180.42" cy="260.12" rx="1.3" ry="1.18" fill="#ff9050"/>
<circle cx="180.21" cy="261.37" r="0.6" fill="#2a78f0" opacity="0.8"/>
<circle cx="181.96" cy="260.81" r="0.6" fill="#2a78f0" opacity="0.8"/>
<rect x="189.7" y="253.34" width="12.4" height="12.1" fill="url(#tg)"/>
<use href="#s1" x="189.7" y="253.34"/>
<ellipse cx="196.1" cy="259.09" rx="2.75" ry="3.9" fill="#ff9050" opacity="0.55"/>
<ellipse cx="197.88" cy="259.46" rx="1.05" ry="1.13" fill="#ff3518"/>
<ellipse cx="196.86" cy="257.8" rx="1.3" ry="1.31" fill="#ff3518"/>
<ellipse cx="197.36" cy="256.94" rx="1.24" ry="1.29" fill="#ff9050"/>
<ellipse cx="195.15" cy="256.69" rx="0.91" ry="0.94" fill="#ff9050"/>
<circle cx="193.84" cy="259.62" r="0.6" fill="#2a78f0" opacity="0.8"/>
<circle cx="195.73" cy="256.69" r="0.6" fill="#2a78f0" opacity="0.8"/>
<rect x="204.3" y="253.34" width="12.4" height="12.1" fill="url(#tg)"/>
<use href="#s4" x="204.3" y="253.34"/>
<ellipse cx="210.7" cy="259.09" rx="2.75" ry="3.9" fill="#f0c078" opacity="0.55"/>
<ellipse cx="209.3" cy="260.81" rx="0.99" ry="1.28" fill="#ff9a5a"/>
<ellipse cx="208.79" cy="256.58" rx="1.42" ry="1.09" fill="#ff9a5a"/>
<ellipse cx="209.27" cy="256.49" rx="1.18" ry="1.25" fill="#f0c078"/>
<ellipse cx="209.28" cy="259.87" rx="1.15" ry="1.04" fill="#f0c078"/>
<circle cx="212.61" cy="259.03" r="0.6" fill="#2a78f0" opacity="0.8"/>
<circle cx="211.49" cy="259.95" r="0.6" fill="#2a78f0" opacity="0.8"/>
<rect x="218.9" y="253.34" width="12.4" height="12.1" fill="url(#tg)"/>
<use href="#s1" x="218.9" y="253.34"/>
<ellipse cx="225.3" cy="259.09" rx="2.75" ry="3.9" fill="#f0c078" opacity="0.55"/>
<ellipse cx="224.65" cy="256.65" rx="1.11" ry="1.13" fill="#ff9a5a"/>
<ellipse cx="223.93" cy="261.25" rx="1.33" ry="1" fill="#ff9a5a"/>
<ellipse cx="223.83" cy="258.09" rx="1.48" ry="1.31" fill="#f0c078"/>
<ellipse cx="226.52" cy="257.29" rx="1.36" ry="0.9" fill="#f0c078"/>
<circle cx="225.75" cy="259.3" r="0.6" fill="#2a78f0" opacity="0.8"/>
<circle cx="224.51" cy="260.03" r="0.6" fill="#2a78f0" opacity="0.8"/>
<rect x="233.5" y="253.34" width="12.4" height="12.1" fill="url(#tg)"/>
<use href="#s4" x="233.5" y="253.34"/>
<ellipse cx="239.9" cy="259.09" rx="2.05" ry="3.5" fill="#ff9050" opacity="0.55"/>
<ellipse cx="238.71" cy="257.67" rx="0.92" ry="0.95" fill="#ff3518"/>
<ellipse cx="240.2" cy="257.69" rx="0.7" ry="0.93" fill="#ff3518"/>
<ellipse cx="241.71" cy="257.09" rx="0.94" ry="1.16" fill="#ff9050"/>
<ellipse cx="239.99" cy="258.77" rx="0.9" ry="1.21" fill="#ff9050"/>
<circle cx="239.31" cy="258.82" r="0.6" fill="#2a78f0" opacity="0.8"/>
<circle cx="241.92" cy="260.32" r="0.6" fill="#2a78f0" opacity="0.8"/>
<rect x="248.1" y="253.34" width="12.4" height="12.1" fill="url(#tg)"/>
<use href="#s1" x="248.1" y="253.34"/>
<ellipse cx="254.5" cy="259.09" rx="2.05" ry="3.5" fill="#b8ec98" opacity="0.55"/>
<ellipse cx="253.91" cy="260.43" rx="0.84" ry="0.97" fill="#e8cc7c"/>
<ellipse cx="252.6" cy="261.04" rx="0.92" ry="1.09" fill="#e8cc7c"/>
<ellipse cx="253.15" cy="258.46" rx="0.71" ry="0.93" fill="#b8ec98"/>
<ellipse cx="255.81" cy="256.81" rx="0.81" ry="1.32" fill="#b8ec98"/>
<circle cx="254.81" cy="262.2" r="0.6" fill="#2a78f0" opacity="0.8"/>
<circle cx="255.98" cy="260.49" r="0.6" fill="#2a78f0" opacity="0.8"/>
<rect x="262.7" y="253.34" width="12.4" height="12.1" fill="url(#tg)"/>
<use href="#s4" x="262.7" y="253.34"/>
<ellipse cx="269.1" cy="259.09" rx="2.05" ry="3.5" fill="#f0c078" opacity="0.55"/>
<ellipse cx="269.35" cy="257.05" rx="0.86" ry="0.92" fill="#ff9a5a"/>
<ellipse cx="268.36" cy="258.13" rx="0.81" ry="1.18" fill="#ff9a5a"/>
<ellipse cx="270.81" cy="257.34" rx="0.82" ry="1.03" fill="#f0c078"/>
<ellipse cx="268.98" cy="259.54" rx="0.85" ry="1.17" fill="#f0c078"/>
<circle cx="271.76" cy="259.67" r="0.6" fill="#2a78f0" opacity="0.8"/>
<circle cx="267.57" cy="260.43" r="0.6" fill="#2a78f0" opacity="0.8"/>
<rect x="277.3" y="253.34" width="12.4" height="12.1" fill="url(#tg)"/>
<use href="#s1" x="277.3" y="253.34"/>
<ellipse cx="283.7" cy="259.09" rx="2.75" ry="3.9" fill="#f0c078" opacity="0.55"/>
<ellipse cx="285.07" cy="260.09" rx="1.03" ry="1.22" fill="#ff9a5a"/>
<ellipse cx="282.68" cy="259.98" rx="1.41" ry="0.94" fill="#ff9a5a"/>
<ellipse cx="284.59" cy="260.03" rx="1.44" ry="0.92" fill="#f0c078"/>
<ellipse cx="285.18" cy="259.29" rx="1.2" ry="0.98" fill="#f0c078"/>
<circle cx="281.91" cy="257.67" r="0.6" fill="#2a78f0" opacity="0.8"/>
<circle cx="282.68" cy="259.39" r="0.6" fill="#2a78f0" opacity="0.8"/>
<rect x="291.9" y="253.34" width="12.4" height="12.1" fill="url(#tg)"/>
<use href="#s4" x="291.9" y="253.34"/>
<ellipse cx="298.3" cy="259.09" rx="2.75" ry="3.9" fill="#f0c078" opacity="0.55"/>
<ellipse cx="299.07" cy="256.74" rx="1.44" ry="1.11" fill="#ff9a5a"/>
<ellipse cx="296.74" cy="258.37" rx="1.31" ry="1.2" fill="#ff9a5a"/>
<ellipse cx="296.99" cy="260.63" rx="1.31" ry="1.01" fill="#f0c078"/>
<ellipse cx="298.57" cy="258.99" rx="1.27" ry="1.16" fill="#f0c078"/>
<circle cx="300.2" cy="256.56" r="0.6" fill="#2a78f0" opacity="0.8"/>
<circle cx="297.54" cy="256.91" r="0.6" fill="#2a78f0" opacity="0.8"/>
<rect x="306.5" y="253.34" width="12.4" height="12.1" fill="url(#tg)"/>
<use href="#s1" x="306.5" y="253.34"/>
<ellipse cx="312.9" cy="259.09" rx="2.05" ry="3.5" fill="#ff9050" opacity="0.55"/>
<ellipse cx="311.1" cy="257.95" rx="0.87" ry="1.09" fill="#ff3518"/>
<ellipse cx="311.29" cy="260.64" rx="1.02" ry="0.84" fill="#ff3518"/>
<ellipse cx="311.51" cy="259.44" rx="0.66" ry="1.29" fill="#ff9050"/>
<ellipse cx="312.77" cy="257.07" rx="0.97" ry="1.14" fill="#ff9050"/>
<circle cx="312.53" cy="258.4" r="0.6" fill="#2a78f0" opacity="0.8"/>
<circle cx="315.16" cy="257.7" r="0.6" fill="#2a78f0" opacity="0.8"/>
<rect x="29.1" y="267.53" width="12.4" height="12.1" fill="url(#tg)"/>
<use href="#s5" x="29.1" y="267.53"/>
<ellipse cx="35.5" cy="273.28" rx="1.85" ry="3.3" fill="#f0c078" opacity="0.7"/>
<ellipse cx="35.5" cy="272.63" rx="1.15" ry="1.95" fill="#ff9a5a"/>
<ellipse cx="35.3" cy="274.06" rx="0.8" ry="1.82" fill="#ff9a5a"/>
<rect x="43.7" y="267.53" width="12.4" height="12.1" fill="url(#tg)"/>
<use href="#s2" x="43.7" y="267.53"/>
<ellipse cx="50.1" cy="273.28" rx="2.55" ry="3.7" fill="#f0c078" opacity="0.7"/>
<ellipse cx="50.1" cy="272.53" rx="1.85" ry="2.25" fill="#ff9a5a"/>
<ellipse cx="49.9" cy="274.18" rx="1.29" ry="2.1" fill="#ff9a5a"/>
<rect x="58.3" y="267.53" width="12.4" height="12.1" fill="url(#tg)"/>
<use href="#s5" x="58.3" y="267.53"/>
<ellipse cx="64.7" cy="273.28" rx="1.85" ry="3.3" fill="#f0c078" opacity="0.7"/>
<ellipse cx="64.7" cy="272.63" rx="1.15" ry="1.95" fill="#ff9a5a"/>
<ellipse cx="64.5" cy="274.06" rx="0.8" ry="1.82" fill="#ff9a5a"/>
<rect x="72.9" y="267.53" width="12.4" height="12.1" fill="url(#tg)"/>
<use href="#s2" x="72.9" y="267.53"/>
<ellipse cx="79.3" cy="273.28" rx="1.85" ry="3.3" fill="#f0c078" opacity="0.7"/>
<ellipse cx="79.3" cy="272.63" rx="1.15" ry="1.95" fill="#ff9a5a"/>
<ellipse cx="79.1" cy="274.06" rx="0.8" ry="1.82" fill="#ff9a5a"/>
<rect x="87.5" y="267.53" width="12.4" height="12.1" fill="url(#tg)"/>
<use href="#s5" x="87.5" y="267.53"/>
<ellipse cx="93.9" cy="273.28" rx="2.55" ry="3.7" fill="#b8ec98" opacity="0.7"/>
<ellipse cx="93.9" cy="272.53" rx="1.85" ry="2.25" fill="#e8cc7c"/>
<ellipse cx="93.7" cy="274.18" rx="1.29" ry="2.1" fill="#e8cc7c"/>
<rect x="102.1" y="267.53" width="12.4" height="12.1" fill="url(#tg)"/>
<use href="#s2" x="102.1" y="267.53"/>
<ellipse cx="108.5" cy="273.28" rx="1.85" ry="3.3" fill="#f0c078" opacity="0.7"/>
<ellipse cx="108.5" cy="272.63" rx="1.15" ry="1.95" fill="#ff9a5a"/>
<ellipse cx="108.3" cy="274.06" rx="0.8" ry="1.82" fill="#ff9a5a"/>
<rect x="116.7" y="267.53" width="12.4" height="12.1" fill="url(#tg)"/>
<use href="#s5" x="116.7" y="267.53"/>
<ellipse cx="123.1" cy="273.28" rx="1.85" ry="3.3" fill="#f0c078" opacity="0.7"/>
<ellipse cx="123.1" cy="272.63" rx="1.15" ry="1.95" fill="#ff9a5a"/>
<ellipse cx="122.9" cy="274.06" rx="0.8" ry="1.82" fill="#ff9a5a"/>
<rect x="131.3" y="267.53" width="12.4" height="12.1" fill="url(#tg)"/>
<use href="#s2" x="131.3" y="267.53"/>
<rect x="145.9" y="267.53" width="12.4" height="12.1" fill="url(#tg)"/>
<use href="#s5" x="145.9" y="267.53"/>
<ellipse cx="152.3" cy="273.28" rx="1.85" ry="3.3" fill="#f0c078" opacity="0.7"/>
<ellipse cx="152.3" cy="272.63" rx="1.15" ry="1.95" fill="#ff9a5a"/>
<ellipse cx="152.1" cy="274.06" rx="0.8" ry="1.82" fill="#ff9a5a"/>
<rect x="160.5" y="267.53" width="12.4" height="12.1" fill="url(#tg)"/>
<use href="#s2" x="160.5" y="267.53"/>
<ellipse cx="166.9" cy="273.28" rx="2.55" ry="3.7" fill="#f0c078" opacity="0.7"/>
<ellipse cx="166.9" cy="272.53" rx="1.85" ry="2.25" fill="#ff9a5a"/>
<ellipse cx="166.7" cy="274.18" rx="1.29" ry="2.1" fill="#ff9a5a"/>
<rect x="175.1" y="267.53" width="12.4" height="12.1" fill="url(#tg)"/>
<use href="#s5" x="175.1" y="267.53"/>
<ellipse cx="181.5" cy="273.28" rx="3.15" ry="4.1" fill="#f0c078" opacity="0.7"/>
<ellipse cx="181.5" cy="272.43" rx="2.45" ry="2.55" fill="#ff9a5a"/>
<ellipse cx="181.3" cy="274.3" rx="1.72" ry="2.38" fill="#ff9a5a"/>
<rect x="189.7" y="267.53" width="12.4" height="12.1" fill="url(#tg)"/>
<use href="#s2" x="189.7" y="267.53"/>
<ellipse cx="196.1" cy="273.28" rx="2.55" ry="3.7" fill="#f0c078" opacity="0.7"/>
<ellipse cx="196.1" cy="272.53" rx="1.85" ry="2.25" fill="#ff9a5a"/>
<ellipse cx="195.9" cy="274.18" rx="1.29" ry="2.1" fill="#ff9a5a"/>
<rect x="204.3" y="267.53" width="12.4" height="12.1" fill="url(#tg)"/>
<use href="#s5" x="204.3" y="267.53"/>
<ellipse cx="210.7" cy="273.28" rx="3.15" ry="4.1" fill="#b8ec98" opacity="0.7"/>
<ellipse cx="210.7" cy="272.43" rx="2.45" ry="2.55" fill="#e8cc7c"/>
<ellipse cx="210.5" cy="274.3" rx="1.72" ry="2.38" fill="#e8cc7c"/>
<rect x="218.9" y="267.53" width="12.4" height="12.1" fill="url(#tg)"/>
<use href="#s2" x="218.9" y="267.53"/>
<ellipse cx="225.3" cy="273.28" rx="2.55" ry="3.7" fill="#f0c078" opacity="0.7"/>
<ellipse cx="225.3" cy="272.53" rx="1.85" ry="2.25" fill="#ff9a5a"/>
<ellipse cx="225.1" cy="274.18" rx="1.29" ry="2.1" fill="#ff9a5a"/>
<rect x="233.5" y="267.53" width="12.4" height="12.1" fill="url(#tg)"/>
<use href="#s5" x="233.5" y="267.53"/>
<ellipse cx="239.9" cy="273.28" rx="1.85" ry="3.3" fill="#f0c078" opacity="0.7"/>
<ellipse cx="239.9" cy="272.63" rx="1.15" ry="1.95" fill="#ff9a5a"/>
<ellipse cx="239.7" cy="274.06" rx="0.8" ry="1.82" fill="#ff9a5a"/>
<rect x="248.1" y="267.53" width="12.4" height="12.1" fill="url(#tg)"/>
<use href="#s2" x="248.1" y="267.53"/>
<ellipse cx="254.5" cy="273.28" rx="1.85" ry="3.3" fill="#b8ec98" opacity="0.7"/>
<ellipse cx="254.5" cy="272.63" rx="1.15" ry="1.95" fill="#e8cc7c"/>
<ellipse cx="254.3" cy="274.06" rx="0.8" ry="1.82" fill="#e8cc7c"/>
<rect x="262.7" y="267.53" width="12.4" height="12.1" fill="url(#tg)"/>
<use href="#s5" x="262.7" y="267.53"/>
<ellipse cx="269.1" cy="273.28" rx="1.85" ry="3.3" fill="#f0c078" opacity="0.7"/>
<ellipse cx="269.1" cy="272.63" rx="1.15" ry="1.95" fill="#ff9a5a"/>
<ellipse cx="268.9" cy="274.06" rx="0.8" ry="1.82" fill="#ff9a5a"/>
<rect x="277.3" y="267.53" width="12.4" height="12.1" fill="url(#tg)"/>
<use href="#s2" x="277.3" y="267.53"/>
<ellipse cx="283.7" cy="273.28" rx="3.15" ry="4.1" fill="#b8ec98" opacity="0.7"/>
<ellipse cx="283.7" cy="272.43" rx="2.45" ry="2.55" fill="#e8cc7c"/>
<ellipse cx="283.5" cy="274.3" rx="1.72" ry="2.38" fill="#e8cc7c"/>
<rect x="291.9" y="267.53" width="12.4" height="12.1" fill="url(#tg)"/>
<use href="#s5" x="291.9" y="267.53"/>
<ellipse cx="298.3" cy="273.28" rx="2.55" ry="3.7" fill="#f0c078" opacity="0.7"/>
<ellipse cx="298.3" cy="272.53" rx="1.85" ry="2.25" fill="#ff9a5a"/>
<ellipse cx="298.1" cy="274.18" rx="1.29" ry="2.1" fill="#ff9a5a"/>
<rect x="306.5" y="267.53" width="12.4" height="12.1" fill="url(#tg)"/>
<use href="#s2" x="306.5" y="267.53"/>
<ellipse cx="312.9" cy="273.28" rx="2.55" ry="3.7" fill="#f0c078" opacity="0.7"/>
<ellipse cx="312.9" cy="272.53" rx="1.85" ry="2.25" fill="#ff9a5a"/>
<ellipse cx="312.7" cy="274.18" rx="1.29" ry="2.1" fill="#ff9a5a"/>
<rect x="29.1" y="281.72" width="12.4" height="12.1" fill="url(#tg)"/>
<use href="#s0" x="29.1" y="281.72"/>
<ellipse cx="35.5" cy="287.47" rx="1.85" ry="3.3" fill="#ff9050" opacity="0.7"/>
<ellipse cx="35.5" cy="286.82" rx="1.15" ry="1.95" fill="#ff3518"/>
<ellipse cx="35.3" cy="288.25" rx="0.8" ry="1.82" fill="#ff3518"/>
<rect x="43.7" y="281.72" width="12.4" height="12.1" fill="url(#tg)"/>
<use href="#s3" x="43.7" y="281.72"/>
<ellipse cx="50.1" cy="287.47" rx="2.55" ry="3.7" fill="#ff9050" opacity="0.7"/>
<ellipse cx="50.1" cy="286.72" rx="1.85" ry="2.25" fill="#ff3518"/>
<ellipse cx="49.9" cy="288.37" rx="1.29" ry="2.1" fill="#ff3518"/>
<rect x="58.3" y="281.72" width="12.4" height="12.1" fill="url(#tg)"/>
<use href="#s0" x="58.3" y="281.72"/>
<ellipse cx="64.7" cy="287.47" rx="1.85" ry="3.3" fill="#ff9050" opacity="0.7"/>
<ellipse cx="64.7" cy="286.82" rx="1.15" ry="1.95" fill="#ff3518"/>
<ellipse cx="64.5" cy="288.25" rx="0.8" ry="1.82" fill="#ff3518"/>
<rect x="72.9" y="281.72" width="12.4" height="12.1" fill="url(#tg)"/>
<use href="#s3" x="72.9" y="281.72"/>
<ellipse cx="79.3" cy="287.47" rx="1.85" ry="3.3" fill="#ff9050" opacity="0.7"/>
<ellipse cx="79.3" cy="286.82" rx="1.15" ry="1.95" fill="#ff3518"/>
<ellipse cx="79.1" cy="288.25" rx="0.8" ry="1.82" fill="#ff3518"/>
<rect x="87.5" y="281.72" width="12.4" height="12.1" fill="url(#tg)"/>
<use href="#s0" x="87.5" y="281.72"/>
<ellipse cx="93.9" cy="287.47" rx="1.85" ry="3.3" fill="#f0c078" opacity="0.7"/>
<ellipse cx="93.9" cy="286.82" rx="1.15" ry="1.95" fill="#ff9a5a"/>
<ellipse cx="93.7" cy="288.25" rx="0.8" ry="1.82" fill="#ff9a5a"/>
<rect x="102.1" y="281.72" width="12.4" height="12.1" fill="url(#tg)"/>
<use href="#s3" x="102.1" y="281.72"/>
<ellipse cx="108.5" cy="287.47" rx="1.85" ry="3.3" fill="#ff9050" opacity="0.7"/>
<ellipse cx="108.5" cy="286.82" rx="1.15" ry="1.95" fill="#ff3518"/>
<ellipse cx="108.3" cy="288.25" rx="0.8" ry="1.82" fill="#ff3518"/>
<rect x="116.7" y="281.72" width="12.4" height="12.1" fill="url(#tg)"/>
<use href="#s0" x="116.7" y="281.72"/>
<ellipse cx="123.1" cy="287.47" rx="1.85" ry="3.3" fill="#ff9050" opacity="0.7"/>
<ellipse cx="123.1" cy="286.82" rx="1.15" ry="1.95" fill="#ff3518"/>
<ellipse cx="122.9" cy="288.25" rx="0.8" ry="1.82" fill="#ff3518"/>
<rect x="131.3" y="281.72" width="12.4" height="12.1" fill="url(#tg)"/>
<use href="#s3" x="131.3" y="281.72"/>
<rect x="145.9" y="281.72" width="12.4" height="12.1" fill="url(#tg)"/>
<use href="#s0" x="145.9" y="281.72"/>
<ellipse cx="152.3" cy="287.47" rx="1.85" ry="3.3" fill="#f0c078" opacity="0.7"/>
<ellipse cx="152.3" cy="286.82" rx="1.15" ry="1.95" fill="#ff9a5a"/>
<ellipse cx="152.1" cy="288.25" rx="0.8" ry="1.82" fill="#ff9a5a"/>
<rect x="160.5" y="281.72" width="12.4" height="12.1" fill="url(#tg)"/>
<use href="#s3" x="160.5" y="281.72"/>
<ellipse cx="166.9" cy="287.47" rx="2.55" ry="3.7" fill="#ff9050" opacity="0.7"/>
<ellipse cx="166.9" cy="286.72" rx="1.85" ry="2.25" fill="#ff3518"/>
<ellipse cx="166.7" cy="288.37" rx="1.29" ry="2.1" fill="#ff3518"/>
<rect x="175.1" y="281.72" width="12.4" height="12.1" fill="url(#tg)"/>
<use href="#s0" x="175.1" y="281.72"/>
<ellipse cx="181.5" cy="287.47" rx="3.15" ry="4.1" fill="#ff9050" opacity="0.7"/>
<ellipse cx="181.5" cy="286.62" rx="2.45" ry="2.55" fill="#ff3518"/>
<ellipse cx="181.3" cy="288.49" rx="1.72" ry="2.38" fill="#ff3518"/>
<rect x="189.7" y="281.72" width="12.4" height="12.1" fill="url(#tg)"/>
<use href="#s3" x="189.7" y="281.72"/>
<ellipse cx="196.1" cy="287.47" rx="2.55" ry="3.7" fill="#ff9050" opacity="0.7"/>
<ellipse cx="196.1" cy="286.72" rx="1.85" ry="2.25" fill="#ff3518"/>
<ellipse cx="195.9" cy="288.37" rx="1.29" ry="2.1" fill="#ff3518"/>
<rect x="204.3" y="281.72" width="12.4" height="12.1" fill="url(#tg)"/>
<use href="#s0" x="204.3" y="281.72"/>
<ellipse cx="210.7" cy="287.47" rx="2.55" ry="3.7" fill="#f0c078" opacity="0.7"/>
<ellipse cx="210.7" cy="286.72" rx="1.85" ry="2.25" fill="#ff9a5a"/>
<ellipse cx="210.5" cy="288.37" rx="1.29" ry="2.1" fill="#ff9a5a"/>
<rect x="218.9" y="281.72" width="12.4" height="12.1" fill="url(#tg)"/>
<use href="#s3" x="218.9" y="281.72"/>
<ellipse cx="225.3" cy="287.47" rx="2.55" ry="3.7" fill="#ff9050" opacity="0.7"/>
<ellipse cx="225.3" cy="286.72" rx="1.85" ry="2.25" fill="#ff3518"/>
<ellipse cx="225.1" cy="288.37" rx="1.29" ry="2.1" fill="#ff3518"/>
<rect x="233.5" y="281.72" width="12.4" height="12.1" fill="url(#tg)"/>
<use href="#s0" x="233.5" y="281.72"/>
<ellipse cx="239.9" cy="287.47" rx="1.85" ry="3.3" fill="#ff9050" opacity="0.7"/>
<ellipse cx="239.9" cy="286.82" rx="1.15" ry="1.95" fill="#ff3518"/>
<ellipse cx="239.7" cy="288.25" rx="0.8" ry="1.82" fill="#ff3518"/>
<rect x="248.1" y="281.72" width="12.4" height="12.1" fill="url(#tg)"/>
<use href="#s3" x="248.1" y="281.72"/>
<ellipse cx="254.5" cy="287.47" rx="1.85" ry="3.3" fill="#ff9050" opacity="0.7"/>
<ellipse cx="254.5" cy="286.82" rx="1.15" ry="1.95" fill="#ff3518"/>
<ellipse cx="254.3" cy="288.25" rx="0.8" ry="1.82" fill="#ff3518"/>
<rect x="262.7" y="281.72" width="12.4" height="12.1" fill="url(#tg)"/>
<use href="#s0" x="262.7" y="281.72"/>
<ellipse cx="269.1" cy="287.47" rx="1.85" ry="3.3" fill="#ff9050" opacity="0.7"/>
<ellipse cx="269.1" cy="286.82" rx="1.15" ry="1.95" fill="#ff3518"/>
<ellipse cx="268.9" cy="288.25" rx="0.8" ry="1.82" fill="#ff3518"/>
<rect x="277.3" y="281.72" width="12.4" height="12.1" fill="url(#tg)"/>
<use href="#s3" x="277.3" y="281.72"/>
<ellipse cx="283.7" cy="287.47" rx="2.55" ry="3.7" fill="#f0c078" opacity="0.7"/>
<ellipse cx="283.7" cy="286.72" rx="1.85" ry="2.25" fill="#ff9a5a"/>
<ellipse cx="283.5" cy="288.37" rx="1.29" ry="2.1" fill="#ff9a5a"/>
<rect x="291.9" y="281.72" width="12.4" height="12.1" fill="url(#tg)"/>
<use href="#s0" x="291.9" y="281.72"/>
<ellipse cx="298.3" cy="287.47" rx="2.55" ry="3.7" fill="#ff9050" opacity="0.7"/>
<ellipse cx="298.3" cy="286.72" rx="1.85" ry="2.25" fill="#ff3518"/>
<ellipse cx="298.1" cy="288.37" rx="1.29" ry="2.1" fill="#ff3518"/>
<rect x="306.5" y="281.72" width="12.4" height="12.1" fill="url(#tg)"/>
<use href="#s3" x="306.5" y="281.72"/>
<ellipse cx="312.9" cy="287.47" rx="2.55" ry="3.7" fill="#ff9050" opacity="0.7"/>
<ellipse cx="312.9" cy="286.72" rx="1.85" ry="2.25" fill="#ff3518"/>
<ellipse cx="312.7" cy="288.37" rx="1.29" ry="2.1" fill="#ff3518"/>
<rect x="29.1" y="295.91" width="12.4" height="12.1" fill="url(#tg)"/>
<use href="#s1" x="29.1" y="295.91"/>
<ellipse cx="35.5" cy="301.66" rx="2.05" ry="3.5" fill="#f0c078" opacity="0.55"/>
<ellipse cx="33.68" cy="299.6" rx="0.71" ry="1.23" fill="#ff9a5a"/>
<ellipse cx="35.47" cy="303.71" rx="0.92" ry="1.31" fill="#ff9a5a"/>
<ellipse cx="33.99" cy="300.76" rx="0.73" ry="1.26" fill="#f0c078"/>
<ellipse cx="33.63" cy="301.88" rx="0.9" ry="1.02" fill="#f0c078"/>
<circle cx="38.12" cy="303.88" r="0.6" fill="#2a78f0" opacity="0.8"/>
<circle cx="38.09" cy="302.5" r="0.6" fill="#2a78f0" opacity="0.8"/>
<rect x="43.7" y="295.91" width="12.4" height="12.1" fill="url(#tg)"/>
<use href="#s4" x="43.7" y="295.91"/>
<ellipse cx="50.1" cy="301.66" rx="2.75" ry="3.9" fill="#ff9050" opacity="0.55"/>
<ellipse cx="50.2" cy="299.43" rx="1.08" ry="1.15" fill="#ff3518"/>
<ellipse cx="50.8" cy="302.83" rx="1.11" ry="1.14" fill="#ff3518"/>
<ellipse cx="50.36" cy="300.56" rx="1.44" ry="1.08" fill="#ff9050"/>
<ellipse cx="48.7" cy="303.4" rx="1.19" ry="0.97" fill="#ff9050"/>
<circle cx="48.33" cy="298.54" r="0.6" fill="#2a78f0" opacity="0.8"/>
<circle cx="49.15" cy="304.44" r="0.6" fill="#2a78f0" opacity="0.8"/>
<rect x="58.3" y="295.91" width="12.4" height="12.1" fill="url(#tg)"/>
<use href="#s1" x="58.3" y="295.91"/>
<ellipse cx="64.7" cy="301.66" rx="2.05" ry="3.5" fill="#f0c078" opacity="0.55"/>
<ellipse cx="62.82" cy="301.63" rx="0.95" ry="0.94" fill="#ff9a5a"/>
<ellipse cx="63.19" cy="302.4" rx="0.85" ry="0.98" fill="#ff9a5a"/>
<ellipse cx="65.17" cy="302.48" rx="0.73" ry="1.11" fill="#f0c078"/>
<ellipse cx="65.1" cy="301.03" rx="0.94" ry="0.97" fill="#f0c078"/>
<circle cx="66.17" cy="300.72" r="0.6" fill="#2a78f0" opacity="0.8"/>
<circle cx="64.97" cy="302.81" r="0.6" fill="#2a78f0" opacity="0.8"/>
<rect x="72.9" y="295.91" width="12.4" height="12.1" fill="url(#tg)"/>
<use href="#s4" x="72.9" y="295.91"/>
<ellipse cx="79.3" cy="301.66" rx="2.05" ry="3.5" fill="#ff9050" opacity="0.55"/>
<ellipse cx="80.07" cy="299.88" rx="0.75" ry="1.26" fill="#ff3518"/>
<ellipse cx="81.26" cy="301.39" rx="0.95" ry="1.28" fill="#ff3518"/>
<ellipse cx="80.15" cy="301.33" rx="0.63" ry="0.93" fill="#ff9050"/>
<ellipse cx="78.76" cy="299.3" rx="0.96" ry="1.27" fill="#ff9050"/>
<circle cx="78.49" cy="299.67" r="0.6" fill="#2a78f0" opacity="0.8"/>
<circle cx="80.73" cy="301" r="0.6" fill="#2a78f0" opacity="0.8"/>
<rect x="87.5" y="295.91" width="12.4" height="12.1" fill="url(#tg)"/>
<use href="#s1" x="87.5" y="295.91"/>
<ellipse cx="93.9" cy="301.66" rx="2.05" ry="3.5" fill="#f0c078" opacity="0.55"/>
<ellipse cx="93.83" cy="299.59" rx="0.89" ry="0.92" fill="#ff9a5a"/>
<ellipse cx="93.12" cy="304.22" rx="0.68" ry="1.28" fill="#ff9a5a"/>
<ellipse cx="94.75" cy="304.39" rx="0.93" ry="1.14" fill="#f0c078"/>
<ellipse cx="94.1" cy="299.12" rx="0.8" ry="0.87" fill="#f0c078"/>
<circle cx="91.98" cy="298.53" r="0.6" fill="#2a78f0" opacity="0.8"/>
<circle cx="95.09" cy="301.33" r="0.6" fill="#2a78f0" opacity="0.8"/>
<rect x="102.1" y="295.91" width="12.4" height="12.1" fill="url(#tg)"/>
<use href="#s4" x="102.1" y="295.91"/>
<ellipse cx="108.5" cy="301.66" rx="2.05" ry="3.5" fill="#ff9050" opacity="0.55"/>
<ellipse cx="106.92" cy="302.66" rx="0.62" ry="1.23" fill="#ff3518"/>
<ellipse cx="106.67" cy="304.32" rx="0.93" ry="1.23" fill="#ff3518"/>
<ellipse cx="107.82" cy="301.76" rx="0.7" ry="0.99" fill="#ff9050"/>
<ellipse cx="106.69" cy="300.6" rx="0.79" ry="1.32" fill="#ff9050"/>
<circle cx="108.54" cy="300.31" r="0.6" fill="#2a78f0" opacity="0.8"/>
<circle cx="107.25" cy="300.21" r="0.6" fill="#2a78f0" opacity="0.8"/>
<rect x="116.7" y="295.91" width="12.4" height="12.1" fill="url(#tg)"/>
<use href="#s1" x="116.7" y="295.91"/>
<ellipse cx="123.1" cy="301.66" rx="2.05" ry="3.5" fill="#ff9050" opacity="0.55"/>
<ellipse cx="121.96" cy="303.93" rx="0.76" ry="1.24" fill="#ff3518"/>
<ellipse cx="124.4" cy="302.06" rx="0.96" ry="0.98" fill="#ff3518"/>
<ellipse cx="122.04" cy="303.63" rx="0.69" ry="0.98" fill="#ff9050"/>
<ellipse cx="121.3" cy="300.52" rx="0.88" ry="0.88" fill="#ff9050"/>
<circle cx="124.1" cy="299.93" r="0.6" fill="#2a78f0" opacity="0.8"/>
<circle cx="124.95" cy="301.45" r="0.6" fill="#2a78f0" opacity="0.8"/>
<rect x="131.3" y="295.91" width="12.4" height="12.1" fill="url(#tg)"/>
<use href="#s4" x="131.3" y="295.91"/>
<rect x="145.9" y="295.91" width="12.4" height="12.1" fill="url(#tg)"/>
<use href="#s1" x="145.9" y="295.91"/>
<ellipse cx="152.3" cy="301.66" rx="2.05" ry="3.5" fill="#ff9050" opacity="0.55"/>
<ellipse cx="151.14" cy="302.49" rx="0.86" ry="1.25" fill="#ff3518"/>
<ellipse cx="153.96" cy="303.66" rx="0.72" ry="1.1" fill="#ff3518"/>
<ellipse cx="153.16" cy="302.21" rx="1" ry="0.92" fill="#ff9050"/>
<ellipse cx="151.19" cy="299.36" rx="0.97" ry="1.27" fill="#ff9050"/>
<circle cx="153.26" cy="303.6" r="0.6" fill="#2a78f0" opacity="0.8"/>
<circle cx="150.58" cy="301.3" r="0.6" fill="#2a78f0" opacity="0.8"/>
<rect x="160.5" y="295.91" width="12.4" height="12.1" fill="url(#tb)"/>
<use href="#s4" x="160.5" y="295.91"/>
<ellipse cx="166.9" cy="301.66" rx="3.35" ry="4.3" fill="#ff9050" opacity="0.55"/>
<ellipse cx="165.98" cy="302.54" rx="1.31" ry="0.98" fill="#ff3518"/>
<ellipse cx="168.3" cy="302.19" rx="1.49" ry="0.85" fill="#ff3518"/>
<ellipse cx="165.71" cy="299.02" rx="1.65" ry="1.24" fill="#ff9050"/>
<ellipse cx="167.07" cy="300.43" rx="1.63" ry="1.24" fill="#ff9050"/>
<circle cx="168.43" cy="302.81" r="0.6" fill="#2a78f0" opacity="0.8"/>
<circle cx="166.21" cy="300.7" r="0.6" fill="#2a78f0" opacity="0.8"/>
<rect x="175.1" y="295.91" width="12.4" height="12.1" fill="url(#tg)"/>
<use href="#s1" x="175.1" y="295.91"/>
<ellipse cx="181.5" cy="301.66" rx="3.35" ry="4.3" fill="#ff9050" opacity="0.55"/>
<ellipse cx="179.75" cy="303.95" rx="1.75" ry="1.15" fill="#ff3518"/>
<ellipse cx="180.4" cy="300.04" rx="1.58" ry="0.96" fill="#ff3518"/>
<ellipse cx="183.45" cy="302.02" rx="1.2" ry="0.96" fill="#ff9050"/>
<ellipse cx="180.05" cy="300.43" rx="1.87" ry="0.96" fill="#ff9050"/>
<circle cx="180.75" cy="302.31" r="0.6" fill="#2a78f0" opacity="0.8"/>
<circle cx="183.89" cy="303.57" r="0.6" fill="#2a78f0" opacity="0.8"/>
<rect x="189.7" y="295.91" width="12.4" height="12.1" fill="url(#tg)"/>
<use href="#s4" x="189.7" y="295.91"/>
<ellipse cx="196.1" cy="301.66" rx="2.75" ry="3.9" fill="#ff9050" opacity="0.55"/>
<ellipse cx="195.5" cy="301.67" rx="1.04" ry="0.93" fill="#ff3518"/>
<ellipse cx="195.71" cy="299.39" rx="0.94" ry="1.29" fill="#ff3518"/>
<ellipse cx="197.6" cy="303.19" rx="1.01" ry="1.19" fill="#ff9050"/>
<ellipse cx="194.86" cy="302.62" rx="0.96" ry="0.84" fill="#ff9050"/>
<circle cx="194.83" cy="303.14" r="0.6" fill="#2a78f0" opacity="0.8"/>
<circle cx="196.72" cy="302.09" r="0.6" fill="#2a78f0" opacity="0.8"/>
<rect x="204.3" y="295.91" width="12.4" height="12.1" fill="url(#tg)"/>
<use href="#s1" x="204.3" y="295.91"/>
<ellipse cx="210.7" cy="301.66" rx="2.75" ry="3.9" fill="#f0c078" opacity="0.55"/>
<ellipse cx="208.89" cy="302.06" rx="1.27" ry="0.87" fill="#ff9a5a"/>
<ellipse cx="212.3" cy="302.67" rx="0.98" ry="1.27" fill="#ff9a5a"/>
<ellipse cx="210.67" cy="304.05" rx="1.46" ry="0.88" fill="#f0c078"/>
<ellipse cx="210.93" cy="303.7" rx="0.94" ry="1.05" fill="#f0c078"/>
<circle cx="211.27" cy="300.01" r="0.6" fill="#2a78f0" opacity="0.8"/>
<circle cx="213.45" cy="300.66" r="0.6" fill="#2a78f0" opacity="0.8"/>
<rect x="218.9" y="295.91" width="12.4" height="12.1" fill="url(#tg)"/>
<use href="#s4" x="218.9" y="295.91"/>
<ellipse cx="225.3" cy="301.66" rx="2.75" ry="3.9" fill="#ff9050" opacity="0.55"/>
<ellipse cx="225.31" cy="299.74" rx="1.06" ry="1.26" fill="#ff3518"/>
<ellipse cx="225.5" cy="299.69" rx="1.44" ry="1.08" fill="#ff3518"/>
<ellipse cx="226.6" cy="300.88" rx="1.36" ry="1.15" fill="#ff9050"/>
<ellipse cx="226.25" cy="303.8" rx="1.36" ry="1.06" fill="#ff9050"/>
<circle cx="226.16" cy="300.62" r="0.6" fill="#2a78f0" opacity="0.8"/>
<circle cx="224.2" cy="299.83" r="0.6" fill="#2a78f0" opacity="0.8"/>
<rect x="233.5" y="295.91" width="12.4" height="12.1" fill="url(#tg)"/>
<use href="#s1" x="233.5" y="295.91"/>
<ellipse cx="239.9" cy="301.66" rx="2.05" ry="3.5" fill="#ff9050" opacity="0.55"/>
<ellipse cx="237.93" cy="300.22" rx="0.76" ry="1.18" fill="#ff3518"/>
<ellipse cx="240.3" cy="301.56" rx="0.9" ry="1.27" fill="#ff3518"/>
<ellipse cx="238" cy="301.66" rx="0.74" ry="1" fill="#ff9050"/>
<ellipse cx="241.47" cy="299.84" rx="0.69" ry="0.89" fill="#ff9050"/>
<circle cx="242.24" cy="304.15" r="0.6" fill="#2a78f0" opacity="0.8"/>
<circle cx="239.03" cy="303.57" r="0.6" fill="#2a78f0" opacity="0.8"/>
<rect x="248.1" y="295.91" width="12.4" height="12.1" fill="url(#tg)"/>
<use href="#s4" x="248.1" y="295.91"/>
<ellipse cx="254.5" cy="301.66" rx="2.05" ry="3.5" fill="#b8ec98" opacity="0.55"/>
<ellipse cx="254.56" cy="300.69" rx="0.79" ry="1.12" fill="#e8cc7c"/>
<ellipse cx="256.36" cy="303.16" rx="0.69" ry="1.24" fill="#e8cc7c"/>
<ellipse cx="256.39" cy="301.61" rx="0.69" ry="1.19" fill="#b8ec98"/>
<ellipse cx="253.1" cy="299.56" rx="0.86" ry="0.93" fill="#b8ec98"/>
<circle cx="257.2" cy="300.3" r="0.6" fill="#2a78f0" opacity="0.8"/>
<circle cx="256.47" cy="302.16" r="0.6" fill="#2a78f0" opacity="0.8"/>
<rect x="262.7" y="295.91" width="12.4" height="12.1" fill="url(#tg)"/>
<use href="#s1" x="262.7" y="295.91"/>
<ellipse cx="269.1" cy="301.66" rx="2.05" ry="3.5" fill="#f0c078" opacity="0.55"/>
<ellipse cx="267.29" cy="303.99" rx="1.04" ry="0.88" fill="#ff9a5a"/>
<ellipse cx="269.87" cy="299.81" rx="0.94" ry="1.17" fill="#ff9a5a"/>
<ellipse cx="267.41" cy="303.28" rx="0.68" ry="1.16" fill="#f0c078"/>
<ellipse cx="269.41" cy="299.07" rx="0.81" ry="0.89" fill="#f0c078"/>
<circle cx="267.55" cy="300.39" r="0.6" fill="#2a78f0" opacity="0.8"/>
<circle cx="268.66" cy="303.17" r="0.6" fill="#2a78f0" opacity="0.8"/>
<rect x="277.3" y="295.91" width="12.4" height="12.1" fill="url(#tg)"/>
<use href="#s4" x="277.3" y="295.91"/>
<ellipse cx="283.7" cy="301.66" rx="2.75" ry="3.9" fill="#f0c078" opacity="0.55"/>
<ellipse cx="282.62" cy="303.75" rx="1.29" ry="0.92" fill="#ff9a5a"/>
<ellipse cx="281.76" cy="302.86" rx="1.38" ry="0.9" fill="#ff9a5a"/>
<ellipse cx="284.99" cy="301.77" rx="1.08" ry="1.25" fill="#f0c078"/>
<ellipse cx="284.43" cy="299.19" rx="1.42" ry="1.19" fill="#f0c078"/>
<circle cx="283.34" cy="300.39" r="0.6" fill="#2a78f0" opacity="0.8"/>
<circle cx="286.08" cy="301.52" r="0.6" fill="#2a78f0" opacity="0.8"/>
<rect x="291.9" y="295.91" width="12.4" height="12.1" fill="url(#tg)"/>
<use href="#s1" x="291.9" y="295.91"/>
<ellipse cx="298.3" cy="301.66" rx="2.75" ry="3.9" fill="#ff9050" opacity="0.55"/>
<ellipse cx="296.59" cy="299.96" rx="1.05" ry="0.99" fill="#ff3518"/>
<ellipse cx="297.59" cy="300.73" rx="1.02" ry="1.04" fill="#ff3518"/>
<ellipse cx="299.61" cy="300.53" rx="1.12" ry="1.01" fill="#ff9050"/>
<ellipse cx="296.72" cy="302.96" rx="1.21" ry="1.13" fill="#ff9050"/>
<circle cx="295.85" cy="301.9" r="0.6" fill="#2a78f0" opacity="0.8"/>
<circle cx="296.45" cy="301.3" r="0.6" fill="#2a78f0" opacity="0.8"/>
<rect x="306.5" y="295.91" width="12.4" height="12.1" fill="url(#tg)"/>
<use href="#s4" x="306.5" y="295.91"/>
<ellipse cx="312.9" cy="301.66" rx="2.75" ry="3.9" fill="#ff9050" opacity="0.55"/>
<ellipse cx="312.25" cy="303.77" rx="0.94" ry="0.93" fill="#ff3518"/>
<ellipse cx="314.03" cy="302.37" rx="1.18" ry="1.13" fill="#ff3518"/>
<ellipse cx="311.79" cy="299.93" rx="1.32" ry="1.03" fill="#ff9050"/>
<ellipse cx="311.97" cy="303.5" rx="1.44" ry="1.07" fill="#ff9050"/>
<circle cx="311.71" cy="300.86" r="0.6" fill="#2a78f0" opacity="0.8"/>
<circle cx="310.57" cy="298.82" r="0.6" fill="#2a78f0" opacity="0.8"/>
</g>
<g fill="none" stroke="#566464" stroke-width="0.85"><rect x="29.52" y="26.72" width="11.56" height="11.26"/><rect x="44.12" y="26.72" width="11.56" height="11.26"/><rect x="58.72" y="26.72" width="11.56" height="11.26"/><rect x="73.32" y="26.72" width="11.56" height="11.26"/><rect x="87.92" y="26.72" width="11.56" height="11.26"/><rect x="102.52" y="26.72" width="11.56" height="11.26"/><rect x="117.12" y="26.72" width="11.56" height="11.26"/><rect x="131.72" y="26.72" width="11.56" height="11.26"/><rect x="146.32" y="26.72" width="11.56" height="11.26"/><rect x="160.92" y="26.72" width="11.56" height="11.26"/><rect x="175.52" y="26.72" width="11.56" height="11.26"/><rect x="190.12" y="26.72" width="11.56" height="11.26"/><rect x="204.72" y="26.72" width="11.56" height="11.26"/><rect x="219.32" y="26.72" width="11.56" height="11.26"/><rect x="233.92" y="26.72" width="11.56" height="11.26"/><rect x="248.52" y="26.72" width="11.56" height="11.26"/><rect x="263.12" y="26.72" width="11.56" height="11.26"/><rect x="277.72" y="26.72" width="11.56" height="11.26"/><rect x="292.32" y="26.72" width="11.56" height="11.26"/><rect x="306.92" y="26.72" width="11.56" height="11.26"/><rect x="29.52" y="40.91" width="11.56" height="11.26"/><rect x="44.12" y="40.91" width="11.56" height="11.26"/><rect x="58.72" y="40.91" width="11.56" height="11.26"/><rect x="73.32" y="40.91" width="11.56" height="11.26"/><rect x="87.92" y="40.91" width="11.56" height="11.26"/><rect x="102.52" y="40.91" width="11.56" height="11.26"/><rect x="117.12" y="40.91" width="11.56" height="11.26"/><rect x="131.72" y="40.91" width="11.56" height="11.26"/><rect x="146.32" y="40.91" width="11.56" height="11.26"/><rect x="160.92" y="40.91" width="11.56" height="11.26"/><rect x="175.52" y="40.91" width="11.56" height="11.26"/><rect x="190.12" y="40.91" width="11.56" height="11.26"/><rect x="204.72" y="40.91" width="11.56" height="11.26"/><rect x="219.32" y="40.91" width="11.56" height="11.26"/><rect x="233.92" y="40.91" width="11.56" height="11.26"/><rect x="248.52" y="40.91" width="11.56" height="11.26"/><rect x="263.12" y="40.91" width="11.56" height="11.26"/><rect x="277.72" y="40.91" width="11.56" height="11.26"/><rect x="292.32" y="40.91" width="11.56" height="11.26"/><rect x="306.92" y="40.91" width="11.56" height="11.26"/><rect x="29.52" y="55.1" width="11.56" height="11.26"/><rect x="44.12" y="55.1" width="11.56" height="11.26"/><rect x="58.72" y="55.1" width="11.56" height="11.26"/><rect x="73.32" y="55.1" width="11.56" height="11.26"/><rect x="87.92" y="55.1" width="11.56" height="11.26"/><rect x="102.52" y="55.1" width="11.56" height="11.26"/><rect x="117.12" y="55.1" width="11.56" height="11.26"/><rect x="131.72" y="55.1" width="11.56" height="11.26"/><rect x="146.32" y="55.1" width="11.56" height="11.26"/><rect x="160.92" y="55.1" width="11.56" height="11.26"/><rect x="175.52" y="55.1" width="11.56" height="11.26"/><rect x="190.12" y="55.1" width="11.56" height="11.26"/><rect x="204.72" y="55.1" width="11.56" height="11.26"/><rect x="219.32" y="55.1" width="11.56" height="11.26"/><rect x="233.92" y="55.1" width="11.56" height="11.26"/><rect x="248.52" y="55.1" width="11.56" height="11.26"/><rect x="263.12" y="55.1" width="11.56" height="11.26"/><rect x="277.72" y="55.1" width="11.56" height="11.26"/><rect x="292.32" y="55.1" width="11.56" height="11.26"/><rect x="306.92" y="55.1" width="11.56" height="11.26"/><rect x="29.52" y="69.29" width="11.56" height="11.26"/><rect x="44.12" y="69.29" width="11.56" height="11.26"/><rect x="58.72" y="69.29" width="11.56" height="11.26"/><rect x="73.32" y="69.29" width="11.56" height="11.26"/><rect x="87.92" y="69.29" width="11.56" height="11.26"/><rect x="102.52" y="69.29" width="11.56" height="11.26"/><rect x="117.12" y="69.29" width="11.56" height="11.26"/><rect x="131.72" y="69.29" width="11.56" height="11.26"/><rect x="146.32" y="69.29" width="11.56" height="11.26"/><rect x="160.92" y="69.29" width="11.56" height="11.26"/><rect x="175.52" y="69.29" width="11.56" height="11.26"/><rect x="190.12" y="69.29" width="11.56" height="11.26"/><rect x="204.72" y="69.29" width="11.56" height="11.26"/><rect x="219.32" y="69.29" width="11.56" height="11.26"/><rect x="233.92" y="69.29" width="11.56" height="11.26"/><rect x="248.52" y="69.29" width="11.56" height="11.26"/><rect x="263.12" y="69.29" width="11.56" height="11.26"/><rect x="277.72" y="69.29" width="11.56" height="11.26"/><rect x="292.32" y="69.29" width="11.56" height="11.26"/><rect x="306.92" y="69.29" width="11.56" height="11.26"/><rect x="29.52" y="83.48" width="11.56" height="11.26"/><rect x="44.12" y="83.48" width="11.56" height="11.26"/><rect x="58.72" y="83.48" width="11.56" height="11.26"/><rect x="73.32" y="83.48" width="11.56" height="11.26"/><rect x="87.92" y="83.48" width="11.56" height="11.26"/><rect x="102.52" y="83.48" width="11.56" height="11.26"/><rect x="117.12" y="83.48" width="11.56" height="11.26"/><rect x="131.72" y="83.48" width="11.56" height="11.26"/><rect x="146.32" y="83.48" width="11.56" height="11.26"/><rect x="160.92" y="83.48" width="11.56" height="11.26"/><rect x="175.52" y="83.48" width="11.56" height="11.26"/><rect x="190.12" y="83.48" width="11.56" height="11.26"/><rect x="204.72" y="83.48" width="11.56" height="11.26"/><rect x="219.32" y="83.48" width="11.56" height="11.26"/><rect x="233.92" y="83.48" width="11.56" height="11.26"/><rect x="248.52" y="83.48" width="11.56" height="11.26"/><rect x="263.12" y="83.48" width="11.56" height="11.26"/><rect x="277.72" y="83.48" width="11.56" height="11.26"/><rect x="292.32" y="83.48" width="11.56" height="11.26"/><rect x="306.92" y="83.48" width="11.56" height="11.26"/><rect x="29.52" y="97.67" width="11.56" height="11.26"/><rect x="44.12" y="97.67" width="11.56" height="11.26"/><rect x="58.72" y="97.67" width="11.56" height="11.26"/><rect x="73.32" y="97.67" width="11.56" height="11.26"/><rect x="87.92" y="97.67" width="11.56" height="11.26"/><rect x="102.52" y="97.67" width="11.56" height="11.26"/><rect x="117.12" y="97.67" width="11.56" height="11.26"/><rect x="131.72" y="97.67" width="11.56" height="11.26"/><rect x="146.32" y="97.67" width="11.56" height="11.26"/><rect x="160.92" y="97.67" width="11.56" height="11.26"/><rect x="175.52" y="97.67" width="11.56" height="11.26"/><rect x="190.12" y="97.67" width="11.56" height="11.26"/><rect x="204.72" y="97.67" width="11.56" height="11.26"/><rect x="219.32" y="97.67" width="11.56" height="11.26"/><rect x="233.92" y="97.67" width="11.56" height="11.26"/><rect x="248.52" y="97.67" width="11.56" height="11.26"/><rect x="263.12" y="97.67" width="11.56" height="11.26"/><rect x="277.72" y="97.67" width="11.56" height="11.26"/><rect x="292.32" y="97.67" width="11.56" height="11.26"/><rect x="306.92" y="97.67" width="11.56" height="11.26"/><rect x="29.52" y="111.86" width="11.56" height="11.26"/><rect x="44.12" y="111.86" width="11.56" height="11.26"/><rect x="58.72" y="111.86" width="11.56" height="11.26"/><rect x="73.32" y="111.86" width="11.56" height="11.26"/><rect x="87.92" y="111.86" width="11.56" height="11.26"/><rect x="102.52" y="111.86" width="11.56" height="11.26"/><rect x="117.12" y="111.86" width="11.56" height="11.26"/><rect x="131.72" y="111.86" width="11.56" height="11.26"/><rect x="146.32" y="111.86" width="11.56" height="11.26"/><rect x="160.92" y="111.86" width="11.56" height="11.26"/><rect x="175.52" y="111.86" width="11.56" height="11.26"/><rect x="190.12" y="111.86" width="11.56" height="11.26"/><rect x="204.72" y="111.86" width="11.56" height="11.26"/><rect x="219.32" y="111.86" width="11.56" height="11.26"/><rect x="233.92" y="111.86" width="11.56" height="11.26"/><rect x="248.52" y="111.86" width="11.56" height="11.26"/><rect x="263.12" y="111.86" width="11.56" height="11.26"/><rect x="277.72" y="111.86" width="11.56" height="11.26"/><rect x="292.32" y="111.86" width="11.56" height="11.26"/><rect x="306.92" y="111.86" width="11.56" height="11.26"/><rect x="29.52" y="126.05" width="11.56" height="11.26"/><rect x="44.12" y="126.05" width="11.56" height="11.26"/><rect x="58.72" y="126.05" width="11.56" height="11.26"/><rect x="73.32" y="126.05" width="11.56" height="11.26"/><rect x="87.92" y="126.05" width="11.56" height="11.26"/><rect x="102.52" y="126.05" width="11.56" height="11.26"/><rect x="117.12" y="126.05" width="11.56" height="11.26"/><rect x="131.72" y="126.05" width="11.56" height="11.26"/><rect x="146.32" y="126.05" width="11.56" height="11.26"/><rect x="160.92" y="126.05" width="11.56" height="11.26"/><rect x="175.52" y="126.05" width="11.56" height="11.26"/><rect x="190.12" y="126.05" width="11.56" height="11.26"/><rect x="204.72" y="126.05" width="11.56" height="11.26"/><rect x="219.32" y="126.05" width="11.56" height="11.26"/><rect x="233.92" y="126.05" width="11.56" height="11.26"/><rect x="248.52" y="126.05" width="11.56" height="11.26"/><rect x="263.12" y="126.05" width="11.56" height="11.26"/><rect x="277.72" y="126.05" width="11.56" height="11.26"/><rect x="292.32" y="126.05" width="11.56" height="11.26"/><rect x="306.92" y="126.05" width="11.56" height="11.26"/><rect x="29.52" y="140.24" width="11.56" height="11.26"/><rect x="44.12" y="140.24" width="11.56" height="11.26"/><rect x="58.72" y="140.24" width="11.56" height="11.26"/><rect x="73.32" y="140.24" width="11.56" height="11.26"/><rect x="87.92" y="140.24" width="11.56" height="11.26"/><rect x="102.52" y="140.24" width="11.56" height="11.26"/><rect x="117.12" y="140.24" width="11.56" height="11.26"/><rect x="131.72" y="140.24" width="11.56" height="11.26"/><rect x="146.32" y="140.24" width="11.56" height="11.26"/><rect x="160.92" y="140.24" width="11.56" height="11.26"/><rect x="175.52" y="140.24" width="11.56" height="11.26"/><rect x="190.12" y="140.24" width="11.56" height="11.26"/><rect x="204.72" y="140.24" width="11.56" height="11.26"/><rect x="219.32" y="140.24" width="11.56" height="11.26"/><rect x="233.92" y="140.24" width="11.56" height="11.26"/><rect x="248.52" y="140.24" width="11.56" height="11.26"/><rect x="263.12" y="140.24" width="11.56" height="11.26"/><rect x="277.72" y="140.24" width="11.56" height="11.26"/><rect x="292.32" y="140.24" width="11.56" height="11.26"/><rect x="306.92" y="140.24" width="11.56" height="11.26"/><rect x="29.52" y="154.43" width="11.56" height="11.26"/><rect x="44.12" y="154.43" width="11.56" height="11.26"/><rect x="58.72" y="154.43" width="11.56" height="11.26"/><rect x="73.32" y="154.43" width="11.56" height="11.26"/><rect x="87.92" y="154.43" width="11.56" height="11.26"/><rect x="102.52" y="154.43" width="11.56" height="11.26"/><rect x="117.12" y="154.43" width="11.56" height="11.26"/><rect x="131.72" y="154.43" width="11.56" height="11.26"/><rect x="146.32" y="154.43" width="11.56" height="11.26"/><rect x="160.92" y="154.43" width="11.56" height="11.26"/><rect x="175.52" y="154.43" width="11.56" height="11.26"/><rect x="190.12" y="154.43" width="11.56" height="11.26"/><rect x="204.72" y="154.43" width="11.56" height="11.26"/><rect x="219.32" y="154.43" width="11.56" height="11.26"/><rect x="233.92" y="154.43" width="11.56" height="11.26"/><rect x="248.52" y="154.43" width="11.56" height="11.26"/><rect x="263.12" y="154.43" width="11.56" height="11.26"/><rect x="277.72" y="154.43" width="11.56" height="11.26"/><rect x="292.32" y="154.43" width="11.56" height="11.26"/><rect x="306.92" y="154.43" width="11.56" height="11.26"/><rect x="29.52" y="168.62" width="11.56" height="11.26"/><rect x="44.12" y="168.62" width="11.56" height="11.26"/><rect x="58.72" y="168.62" width="11.56" height="11.26"/><rect x="73.32" y="168.62" width="11.56" height="11.26"/><rect x="87.92" y="168.62" width="11.56" height="11.26"/><rect x="102.52" y="168.62" width="11.56" height="11.26"/><rect x="117.12" y="168.62" width="11.56" height="11.26"/><rect x="131.72" y="168.62" width="11.56" height="11.26"/><rect x="146.32" y="168.62" width="11.56" height="11.26"/><rect x="160.92" y="168.62" width="11.56" height="11.26"/><rect x="175.52" y="168.62" width="11.56" height="11.26"/><rect x="190.12" y="168.62" width="11.56" height="11.26"/><rect x="204.72" y="168.62" width="11.56" height="11.26"/><rect x="219.32" y="168.62" width="11.56" height="11.26"/><rect x="233.92" y="168.62" width="11.56" height="11.26"/><rect x="248.52" y="168.62" width="11.56" height="11.26"/><rect x="263.12" y="168.62" width="11.56" height="11.26"/><rect x="277.72" y="168.62" width="11.56" height="11.26"/><rect x="292.32" y="168.62" width="11.56" height="11.26"/><rect x="306.92" y="168.62" width="11.56" height="11.26"/><rect x="29.52" y="182.81" width="11.56" height="11.26"/><rect x="44.12" y="182.81" width="11.56" height="11.26"/><rect x="58.72" y="182.81" width="11.56" height="11.26"/><rect x="73.32" y="182.81" width="11.56" height="11.26"/><rect x="87.92" y="182.81" width="11.56" height="11.26"/><rect x="102.52" y="182.81" width="11.56" height="11.26"/><rect x="117.12" y="182.81" width="11.56" height="11.26"/><rect x="131.72" y="182.81" width="11.56" height="11.26"/><rect x="146.32" y="182.81" width="11.56" height="11.26"/><rect x="160.92" y="182.81" width="11.56" height="11.26"/><rect x="175.52" y="182.81" width="11.56" height="11.26"/><rect x="190.12" y="182.81" width="11.56" height="11.26"/><rect x="204.72" y="182.81" width="11.56" height="11.26"/><rect x="219.32" y="182.81" width="11.56" height="11.26"/><rect x="233.92" y="182.81" width="11.56" height="11.26"/><rect x="248.52" y="182.81" width="11.56" height="11.26"/><rect x="263.12" y="182.81" width="11.56" height="11.26"/><rect x="277.72" y="182.81" width="11.56" height="11.26"/><rect x="292.32" y="182.81" width="11.56" height="11.26"/><rect x="306.92" y="182.81" width="11.56" height="11.26"/><rect x="29.52" y="197" width="11.56" height="11.26"/><rect x="44.12" y="197" width="11.56" height="11.26"/><rect x="58.72" y="197" width="11.56" height="11.26"/><rect x="73.32" y="197" width="11.56" height="11.26"/><rect x="87.92" y="197" width="11.56" height="11.26"/><rect x="102.52" y="197" width="11.56" height="11.26"/><rect x="117.12" y="197" width="11.56" height="11.26"/><rect x="131.72" y="197" width="11.56" height="11.26"/><rect x="146.32" y="197" width="11.56" height="11.26"/><rect x="160.92" y="197" width="11.56" height="11.26"/><rect x="175.52" y="197" width="11.56" height="11.26"/><rect x="190.12" y="197" width="11.56" height="11.26"/><rect x="204.72" y="197" width="11.56" height="11.26"/><rect x="219.32" y="197" width="11.56" height="11.26"/><rect x="233.92" y="197" width="11.56" height="11.26"/><rect x="248.52" y="197" width="11.56" height="11.26"/><rect x="263.12" y="197" width="11.56" height="11.26"/><rect x="277.72" y="197" width="11.56" height="11.26"/><rect x="292.32" y="197" width="11.56" height="11.26"/><rect x="306.92" y="197" width="11.56" height="11.26"/><rect x="29.52" y="211.19" width="11.56" height="11.26"/><rect x="44.12" y="211.19" width="11.56" height="11.26"/><rect x="58.72" y="211.19" width="11.56" height="11.26"/><rect x="73.32" y="211.19" width="11.56" height="11.26"/><rect x="87.92" y="211.19" width="11.56" height="11.26"/><rect x="102.52" y="211.19" width="11.56" height="11.26"/><rect x="117.12" y="211.19" width="11.56" height="11.26"/><rect x="131.72" y="211.19" width="11.56" height="11.26"/><rect x="146.32" y="211.19" width="11.56" height="11.26"/><rect x="160.92" y="211.19" width="11.56" height="11.26"/><rect x="175.52" y="211.19" width="11.56" height="11.26"/><rect x="190.12" y="211.19" width="11.56" height="11.26"/><rect x="204.72" y="211.19" width="11.56" height="11.26"/><rect x="219.32" y="211.19" width="11.56" height="11.26"/><rect x="233.92" y="211.19" width="11.56" height="11.26"/><rect x="248.52" y="211.19" width="11.56" height="11.26"/><rect x="263.12" y="211.19" width="11.56" height="11.26"/><rect x="277.72" y="211.19" width="11.56" height="11.26"/><rect x="292.32" y="211.19" width="11.56" height="11.26"/><rect x="306.92" y="211.19" width="11.56" height="11.26"/><rect x="29.52" y="225.38" width="11.56" height="11.26"/><rect x="44.12" y="225.38" width="11.56" height="11.26"/><rect x="58.72" y="225.38" width="11.56" height="11.26"/><rect x="73.32" y="225.38" width="11.56" height="11.26"/><rect x="87.92" y="225.38" width="11.56" height="11.26"/><rect x="102.52" y="225.38" width="11.56" height="11.26"/><rect x="117.12" y="225.38" width="11.56" height="11.26"/><rect x="131.72" y="225.38" width="11.56" height="11.26"/><rect x="146.32" y="225.38" width="11.56" height="11.26"/><rect x="160.92" y="225.38" width="11.56" height="11.26"/><rect x="175.52" y="225.38" width="11.56" height="11.26"/><rect x="190.12" y="225.38" width="11.56" height="11.26"/><rect x="204.72" y="225.38" width="11.56" height="11.26"/><rect x="219.32" y="225.38" width="11.56" height="11.26"/><rect x="233.92" y="225.38" width="11.56" height="11.26"/><rect x="248.52" y="225.38" width="11.56" height="11.26"/><rect x="263.12" y="225.38" width="11.56" height="11.26"/><rect x="277.72" y="225.38" width="11.56" height="11.26"/><rect x="292.32" y="225.38" width="11.56" height="11.26"/><rect x="306.92" y="225.38" width="11.56" height="11.26"/><rect x="29.52" y="239.57" width="11.56" height="11.26"/><rect x="44.12" y="239.57" width="11.56" height="11.26"/><rect x="58.72" y="239.57" width="11.56" height="11.26"/><rect x="73.32" y="239.57" width="11.56" height="11.26"/><rect x="87.92" y="239.57" width="11.56" height="11.26"/><rect x="102.52" y="239.57" width="11.56" height="11.26"/><rect x="117.12" y="239.57" width="11.56" height="11.26"/><rect x="131.72" y="239.57" width="11.56" height="11.26"/><rect x="146.32" y="239.57" width="11.56" height="11.26"/><rect x="160.92" y="239.57" width="11.56" height="11.26"/><rect x="175.52" y="239.57" width="11.56" height="11.26"/><rect x="190.12" y="239.57" width="11.56" height="11.26"/><rect x="204.72" y="239.57" width="11.56" height="11.26"/><rect x="219.32" y="239.57" width="11.56" height="11.26"/><rect x="233.92" y="239.57" width="11.56" height="11.26"/><rect x="248.52" y="239.57" width="11.56" height="11.26"/><rect x="263.12" y="239.57" width="11.56" height="11.26"/><rect x="277.72" y="239.57" width="11.56" height="11.26"/><rect x="292.32" y="239.57" width="11.56" height="11.26"/><rect x="306.92" y="239.57" width="11.56" height="11.26"/><rect x="29.52" y="253.76" width="11.56" height="11.26"/><rect x="44.12" y="253.76" width="11.56" height="11.26"/><rect x="58.72" y="253.76" width="11.56" height="11.26"/><rect x="73.32" y="253.76" width="11.56" height="11.26"/><rect x="87.92" y="253.76" width="11.56" height="11.26"/><rect x="102.52" y="253.76" width="11.56" height="11.26"/><rect x="117.12" y="253.76" width="11.56" height="11.26"/><rect x="131.72" y="253.76" width="11.56" height="11.26"/><rect x="146.32" y="253.76" width="11.56" height="11.26"/><rect x="160.92" y="253.76" width="11.56" height="11.26"/><rect x="175.52" y="253.76" width="11.56" height="11.26"/><rect x="190.12" y="253.76" width="11.56" height="11.26"/><rect x="204.72" y="253.76" width="11.56" height="11.26"/><rect x="219.32" y="253.76" width="11.56" height="11.26"/><rect x="233.92" y="253.76" width="11.56" height="11.26"/><rect x="248.52" y="253.76" width="11.56" height="11.26"/><rect x="263.12" y="253.76" width="11.56" height="11.26"/><rect x="277.72" y="253.76" width="11.56" height="11.26"/><rect x="292.32" y="253.76" width="11.56" height="11.26"/><rect x="306.92" y="253.76" width="11.56" height="11.26"/><rect x="29.52" y="267.95" width="11.56" height="11.26"/><rect x="44.12" y="267.95" width="11.56" height="11.26"/><rect x="58.72" y="267.95" width="11.56" height="11.26"/><rect x="73.32" y="267.95" width="11.56" height="11.26"/><rect x="87.92" y="267.95" width="11.56" height="11.26"/><rect x="102.52" y="267.95" width="11.56" height="11.26"/><rect x="117.12" y="267.95" width="11.56" height="11.26"/><rect x="131.72" y="267.95" width="11.56" height="11.26"/><rect x="146.32" y="267.95" width="11.56" height="11.26"/><rect x="160.92" y="267.95" width="11.56" height="11.26"/><rect x="175.52" y="267.95" width="11.56" height="11.26"/><rect x="190.12" y="267.95" width="11.56" height="11.26"/><rect x="204.72" y="267.95" width="11.56" height="11.26"/><rect x="219.32" y="267.95" width="11.56" height="11.26"/><rect x="233.92" y="267.95" width="11.56" height="11.26"/><rect x="248.52" y="267.95" width="11.56" height="11.26"/><rect x="263.12" y="267.95" width="11.56" height="11.26"/><rect x="277.72" y="267.95" width="11.56" height="11.26"/><rect x="292.32" y="267.95" width="11.56" height="11.26"/><rect x="306.92" y="267.95" width="11.56" height="11.26"/><rect x="29.52" y="282.14" width="11.56" height="11.26"/><rect x="44.12" y="282.14" width="11.56" height="11.26"/><rect x="58.72" y="282.14" width="11.56" height="11.26"/><rect x="73.32" y="282.14" width="11.56" height="11.26"/><rect x="87.92" y="282.14" width="11.56" height="11.26"/><rect x="102.52" y="282.14" width="11.56" height="11.26"/><rect x="117.12" y="282.14" width="11.56" height="11.26"/><rect x="131.72" y="282.14" width="11.56" height="11.26"/><rect x="146.32" y="282.14" width="11.56" height="11.26"/><rect x="160.92" y="282.14" width="11.56" height="11.26"/><rect x="175.52" y="282.14" width="11.56" height="11.26"/><rect x="190.12" y="282.14" width="11.56" height="11.26"/><rect x="204.72" y="282.14" width="11.56" height="11.26"/><rect x="219.32" y="282.14" width="11.56" height="11.26"/><rect x="233.92" y="282.14" width="11.56" height="11.26"/><rect x="248.52" y="282.14" width="11.56" height="11.26"/><rect x="263.12" y="282.14" width="11.56" height="11.26"/><rect x="277.72" y="282.14" width="11.56" height="11.26"/><rect x="292.32" y="282.14" width="11.56" height="11.26"/><rect x="306.92" y="282.14" width="11.56" height="11.26"/><rect x="29.52" y="296.33" width="11.56" height="11.26"/><rect x="44.12" y="296.33" width="11.56" height="11.26"/><rect x="58.72" y="296.33" width="11.56" height="11.26"/><rect x="73.32" y="296.33" width="11.56" height="11.26"/><rect x="87.92" y="296.33" width="11.56" height="11.26"/><rect x="102.52" y="296.33" width="11.56" height="11.26"/><rect x="117.12" y="296.33" width="11.56" height="11.26"/><rect x="131.72" y="296.33" width="11.56" height="11.26"/><rect x="146.32" y="296.33" width="11.56" height="11.26"/><rect x="160.92" y="296.33" width="11.56" height="11.26"/><rect x="175.52" y="296.33" width="11.56" height="11.26"/><rect x="190.12" y="296.33" width="11.56" height="11.26"/><rect x="204.72" y="296.33" width="11.56" height="11.26"/><rect x="219.32" y="296.33" width="11.56" height="11.26"/><rect x="233.92" y="296.33" width="11.56" height="11.26"/><rect x="248.52" y="296.33" width="11.56" height="11.26"/><rect x="263.12" y="296.33" width="11.56" height="11.26"/><rect x="277.72" y="296.33" width="11.56" height="11.26"/><rect x="292.32" y="296.33" width="11.56" height="11.26"/><rect x="306.92" y="296.33" width="11.56" height="11.26"/></g>
<g font-family="Liberation Sans" font-size="7.4" fill="#222" stroke="#222" stroke-width="0.25" text-anchor="middle">
<text x="35.3" y="23.9">A</text>
<text x="49.9" y="23.9">R</text>
<text x="64.5" y="23.9">N</text>
<text x="79.1" y="23.9">D</text>
<text x="93.7" y="23.9">C</text>
<text x="108.3" y="23.9">E</text>
<text x="122.9" y="23.9">Q</text>
<text x="137.5" y="23.9">G</text>
<text x="152.1" y="23.9">H</text>
<text x="166.7" y="23.9">I</text>
<text x="181.3" y="23.9">L</text>
<text x="195.9" y="23.9">K</text>
<text x="210.5" y="23.9">M</text>
<text x="225.1" y="23.9">F</text>
<text x="239.7" y="23.9">P</text>
<text x="254.3" y="23.9">S</text>
<text x="268.9" y="23.9">T</text>
<text x="283.5" y="23.9">W</text>
<text x="298.1" y="23.9">Y</text>
<text x="312.7" y="23.9">V</text>
</g>
<g font-family="Liberation Sans" font-size="7.8" fill="#222" stroke="#222" stroke-width="0.25" text-anchor="end">
<text x="28.3" y="33.25">A</text>
<text x="28.3" y="47.44">R</text>
<text x="28.3" y="61.63">N</text>
<text x="28.3" y="75.82">D</text>
<text x="28.3" y="90.01">C</text>
<text x="28.3" y="104.2">E</text>
<text x="28.3" y="118.39">Q</text>
<text x="28.3" y="132.58">G</text>
<text x="28.3" y="146.77">H</text>
<text x="28.3" y="160.96">I</text>
<text x="28.3" y="175.15">L</text>
<text x="28.3" y="189.34">K</text>
<text x="28.3" y="203.53">M</text>
<text x="28.3" y="217.72">F</text>
<text x="28.3" y="231.91">P</text>
<text x="28.3" y="246.1">S</text>
<text x="28.3" y="260.29">T</text>
<text x="28.3" y="274.48">W</text>
<text x="28.3" y="288.67">Y</text>
<text x="28.3" y="302.86">V</text>
</g>
<rect x="86.9" y="81.3" width="13.8" height="13.5" fill="none" stroke="#0d1a5c" stroke-width="1.8" stroke-dasharray="1.8 1.6"/>
<rect x="28.1" y="125.4" width="14.3" height="13.5" fill="none" stroke="#ff1010" stroke-width="1.8" stroke-dasharray="0.1 3.2" stroke-linecap="round"/>
<g>
<rect x="353.7" y="27.2" width="14.1" height="14.1" fill="#2e7af7"/>
<rect x="367.72" y="27.2" width="14.1" height="14.1" fill="#20d4e1"/>
<rect x="381.74" y="27.2" width="14.1" height="14.1" fill="#2587f5"/>
<rect x="395.76" y="27.2" width="14.1" height="14.1" fill="#1c93f3"/>
<rect x="409.78" y="27.2" width="14.1" height="14.1" fill="#3374f8"/>
<rect x="423.8" y="27.2" width="14.1" height="14.1" fill="#05afed"/>
<rect x="437.82" y="27.2" width="14.1" height="14.1" fill="#0aa9ee"/>
<rect x="451.84" y="27.2" width="14.1" height="14.1" fill="#4160fa"/>
<rect x="465.86" y="27.2" width="14.1" height="14.1" fill="#24d8df"/>
<rect x="479.88" y="27.2" width="14.1" height="14.1" fill="#aef599"/>
<rect x="493.9" y="27.2" width="14.1" height="14.1" fill="#e5cf74"/>
<rect x="507.92" y="27.2" width="14.1" height="14.1" fill="#0dc2e7"/>
<rect x="521.94" y="27.2" width="14.1" height="14.1" fill="#5bf9c7"/>
<rect x="535.96" y="27.2" width="14.1" height="14.1" fill="#dbd77b"/>
<rect x="549.98" y="27.2" width="14.1" height="14.1" fill="#44eed2"/>
<rect x="564" y="27.2" width="14.1" height="14.1" fill="#6130fe"/>
<rect x="578.02" y="27.2" width="14.1" height="14.1" fill="#3c67fa"/>
<rect x="592.04" y="27.2" width="14.1" height="14.1" fill="#a4f89f"/>
<rect x="606.06" y="27.2" width="14.1" height="14.1" fill="#c4e88a"/>
<rect x="620.08" y="27.2" width="14.1" height="14.1" fill="#4df3ce"/>
<rect x="353.7" y="41.22" width="14.1" height="14.1" fill="#05afed"/>
<rect x="367.72" y="41.22" width="14.1" height="14.1" fill="#1bd0e3"/>
<rect x="381.74" y="41.22" width="14.1" height="14.1" fill="#05afed"/>
<rect x="395.76" y="41.22" width="14.1" height="14.1" fill="#36e6d8"/>
<rect x="409.78" y="41.22" width="14.1" height="14.1" fill="#1799f2"/>
<rect x="423.8" y="41.22" width="14.1" height="14.1" fill="#1bd0e3"/>
<rect x="437.82" y="41.22" width="14.1" height="14.1" fill="#4df3ce"/>
<rect x="451.84" y="41.22" width="14.1" height="14.1" fill="#376df9"/>
<rect x="465.86" y="41.22" width="14.1" height="14.1" fill="#01b4ec"/>
<rect x="479.88" y="41.22" width="14.1" height="14.1" fill="#4df3ce"/>
<rect x="493.9" y="41.22" width="14.1" height="14.1" fill="#84ffb2"/>
<rect x="507.92" y="41.22" width="14.1" height="14.1" fill="#01b4ec"/>
<rect x="521.94" y="41.22" width="14.1" height="14.1" fill="#0dc2e7"/>
<rect x="535.96" y="41.22" width="14.1" height="14.1" fill="#4df3ce"/>
<rect x="549.98" y="41.22" width="14.1" height="14.1" fill="#05afed"/>
<rect x="564" y="41.22" width="14.1" height="14.1" fill="#1c93f3"/>
<rect x="578.02" y="41.22" width="14.1" height="14.1" fill="#04b9ea"/>
<rect x="592.04" y="41.22" width="14.1" height="14.1" fill="#1bd0e3"/>
<rect x="606.06" y="41.22" width="14.1" height="14.1" fill="#40ecd4"/>
<rect x="620.08" y="41.22" width="14.1" height="14.1" fill="#3be9d6"/>
<rect x="353.7" y="55.24" width="14.1" height="14.1" fill="#2587f5"/>
<rect x="367.72" y="55.24" width="14.1" height="14.1" fill="#3be9d6"/>
<rect x="381.74" y="55.24" width="14.1" height="14.1" fill="#0ea4f0"/>
<rect x="395.76" y="55.24" width="14.1" height="14.1" fill="#0aa9ee"/>
<rect x="409.78" y="55.24" width="14.1" height="14.1" fill="#3374f8"/>
<rect x="423.8" y="55.24" width="14.1" height="14.1" fill="#09bee9"/>
<rect x="437.82" y="55.24" width="14.1" height="14.1" fill="#04b9ea"/>
<rect x="451.84" y="55.24" width="14.1" height="14.1" fill="#4e4cfc"/>
<rect x="465.86" y="55.24" width="14.1" height="14.1" fill="#04b9ea"/>
<rect x="479.88" y="55.24" width="14.1" height="14.1" fill="#32e2da"/>
<rect x="493.9" y="55.24" width="14.1" height="14.1" fill="#4df3ce"/>
<rect x="507.92" y="55.24" width="14.1" height="14.1" fill="#32e2da"/>
<rect x="521.94" y="55.24" width="14.1" height="14.1" fill="#05afed"/>
<rect x="535.96" y="55.24" width="14.1" height="14.1" fill="#2ddfdc"/>
<rect x="549.98" y="55.24" width="14.1" height="14.1" fill="#01b4ec"/>
<rect x="564" y="55.24" width="14.1" height="14.1" fill="#3c67fa"/>
<rect x="578.02" y="55.24" width="14.1" height="14.1" fill="#01b4ec"/>
<rect x="592.04" y="55.24" width="14.1" height="14.1" fill="#09bee9"/>
<rect x="606.06" y="55.24" width="14.1" height="14.1" fill="#29dbde"/>
<rect x="620.08" y="55.24" width="14.1" height="14.1" fill="#24d8df"/>
<rect x="353.7" y="69.26" width="14.1" height="14.1" fill="#1799f2"/>
<rect x="367.72" y="69.26" width="14.1" height="14.1" fill="#7bffb7"/>
<rect x="381.74" y="69.26" width="14.1" height="14.1" fill="#139ef1"/>
<rect x="395.76" y="69.26" width="14.1" height="14.1" fill="#139ef1"/>
<rect x="409.78" y="69.26" width="14.1" height="14.1" fill="#2587f5"/>
<rect x="423.8" y="69.26" width="14.1" height="14.1" fill="#0dc2e7"/>
<rect x="437.82" y="69.26" width="14.1" height="14.1" fill="#04b9ea"/>
<rect x="451.84" y="69.26" width="14.1" height="14.1" fill="#3c67fa"/>
<rect x="465.86" y="69.26" width="14.1" height="14.1" fill="#1bd0e3"/>
<rect x="479.88" y="69.26" width="14.1" height="14.1" fill="#29dbde"/>
<rect x="493.9" y="69.26" width="14.1" height="14.1" fill="#4df3ce"/>
<rect x="507.92" y="69.26" width="14.1" height="14.1" fill="#52f5cc"/>
<rect x="521.94" y="69.26" width="14.1" height="14.1" fill="#0dc2e7"/>
<rect x="535.96" y="69.26" width="14.1" height="14.1" fill="#1bd0e3"/>
<rect x="549.98" y="69.26" width="14.1" height="14.1" fill="#0dc2e7"/>
<rect x="564" y="69.26" width="14.1" height="14.1" fill="#1c93f3"/>
<rect x="578.02" y="69.26" width="14.1" height="14.1" fill="#01b4ec"/>
<rect x="592.04" y="69.26" width="14.1" height="14.1" fill="#04b9ea"/>
<rect x="606.06" y="69.26" width="14.1" height="14.1" fill="#3be9d6"/>
<rect x="620.08" y="69.26" width="14.1" height="14.1" fill="#24d8df"/>
<rect x="353.7" y="83.28" width="14.1" height="14.1" fill="#3374f8"/>
<rect x="367.72" y="83.28" width="14.1" height="14.1" fill="#0dc2e7"/>
<rect x="381.74" y="83.28" width="14.1" height="14.1" fill="#3374f8"/>
<rect x="395.76" y="83.28" width="14.1" height="14.1" fill="#376df9"/>
<rect x="409.78" y="83.28" width="14.1" height="14.1" fill="#44eed2"/>
<rect x="423.8" y="83.28" width="14.1" height="14.1" fill="#1799f2"/>
<rect x="437.82" y="83.28" width="14.1" height="14.1" fill="#2587f5"/>
<rect x="451.84" y="83.28" width="14.1" height="14.1" fill="#4160fa"/>
<rect x="465.86" y="83.28" width="14.1" height="14.1" fill="#0dc2e7"/>
<rect x="479.88" y="83.28" width="14.1" height="14.1" fill="#5bf9c7"/>
<rect x="493.9" y="83.28" width="14.1" height="14.1" fill="#a4f89f"/>
<rect x="507.92" y="83.28" width="14.1" height="14.1" fill="#01b4ec"/>
<rect x="521.94" y="83.28" width="14.1" height="14.1" fill="#1bd0e3"/>
<rect x="535.96" y="83.28" width="14.1" height="14.1" fill="#60fac5"/>
<rect x="549.98" y="83.28" width="14.1" height="14.1" fill="#01b4ec"/>
<rect x="564" y="83.28" width="14.1" height="14.1" fill="#6130fe"/>
<rect x="578.02" y="83.28" width="14.1" height="14.1" fill="#376df9"/>
<rect x="592.04" y="83.28" width="14.1" height="14.1" fill="#20d4e1"/>
<rect x="606.06" y="83.28" width="14.1" height="14.1" fill="#3be9d6"/>
<rect x="620.08" y="83.28" width="14.1" height="14.1" fill="#3be9d6"/>
<rect x="353.7" y="97.3" width="14.1" height="14.1" fill="#139ef1"/>
<rect x="367.72" y="97.3" width="14.1" height="14.1" fill="#3be9d6"/>
<rect x="381.74" y="97.3" width="14.1" height="14.1" fill="#0aa9ee"/>
<rect x="395.76" y="97.3" width="14.1" height="14.1" fill="#05afed"/>
<rect x="409.78" y="97.3" width="14.1" height="14.1" fill="#1c93f3"/>
<rect x="423.8" y="97.3" width="14.1" height="14.1" fill="#0dc2e7"/>
<rect x="437.82" y="97.3" width="14.1" height="14.1" fill="#0dc2e7"/>
<rect x="451.84" y="97.3" width="14.1" height="14.1" fill="#455afb"/>
<rect x="465.86" y="97.3" width="14.1" height="14.1" fill="#09bee9"/>
<rect x="479.88" y="97.3" width="14.1" height="14.1" fill="#57f7ca"/>
<rect x="493.9" y="97.3" width="14.1" height="14.1" fill="#89ffaf"/>
<rect x="507.92" y="97.3" width="14.1" height="14.1" fill="#3be9d6"/>
<rect x="521.94" y="97.3" width="14.1" height="14.1" fill="#0dc2e7"/>
<rect x="535.96" y="97.3" width="14.1" height="14.1" fill="#4df3ce"/>
<rect x="549.98" y="97.3" width="14.1" height="14.1" fill="#01b4ec"/>
<rect x="564" y="97.3" width="14.1" height="14.1" fill="#2a81f6"/>
<rect x="578.02" y="97.3" width="14.1" height="14.1" fill="#04b9ea"/>
<rect x="592.04" y="97.3" width="14.1" height="14.1" fill="#1bd0e3"/>
<rect x="606.06" y="97.3" width="14.1" height="14.1" fill="#57f7ca"/>
<rect x="620.08" y="97.3" width="14.1" height="14.1" fill="#29dbde"/>
<rect x="353.7" y="111.32" width="14.1" height="14.1" fill="#05afed"/>
<rect x="367.72" y="111.32" width="14.1" height="14.1" fill="#92fdaa"/>
<rect x="381.74" y="111.32" width="14.1" height="14.1" fill="#09bee9"/>
<rect x="395.76" y="111.32" width="14.1" height="14.1" fill="#04b9ea"/>
<rect x="409.78" y="111.32" width="14.1" height="14.1" fill="#1c93f3"/>
<rect x="423.8" y="111.32" width="14.1" height="14.1" fill="#0dc2e7"/>
<rect x="437.82" y="111.32" width="14.1" height="14.1" fill="#01b4ec"/>
<rect x="451.84" y="111.32" width="14.1" height="14.1" fill="#4160fa"/>
<rect x="465.86" y="111.32" width="14.1" height="14.1" fill="#29dbde"/>
<rect x="479.88" y="111.32" width="14.1" height="14.1" fill="#5bf9c7"/>
<rect x="493.9" y="111.32" width="14.1" height="14.1" fill="#a4f89f"/>
<rect x="507.92" y="111.32" width="14.1" height="14.1" fill="#89ffaf"/>
<rect x="521.94" y="111.32" width="14.1" height="14.1" fill="#24d8df"/>
<rect x="535.96" y="111.32" width="14.1" height="14.1" fill="#5bf9c7"/>
<rect x="549.98" y="111.32" width="14.1" height="14.1" fill="#09bee9"/>
<rect x="564" y="111.32" width="14.1" height="14.1" fill="#1799f2"/>
<rect x="578.02" y="111.32" width="14.1" height="14.1" fill="#0dc2e7"/>
<rect x="592.04" y="111.32" width="14.1" height="14.1" fill="#29dbde"/>
<rect x="606.06" y="111.32" width="14.1" height="14.1" fill="#60fac5"/>
<rect x="620.08" y="111.32" width="14.1" height="14.1" fill="#49f1d0"/>
<rect x="353.7" y="125.34" width="14.1" height="14.1" fill="#6e1bff"/>
<rect x="367.72" y="125.34" width="14.1" height="14.1" fill="#3c67fa"/>
<rect x="381.74" y="125.34" width="14.1" height="14.1" fill="#7c05ff"/>
<rect x="395.76" y="125.34" width="14.1" height="14.1" fill="#7314ff"/>
<rect x="409.78" y="125.34" width="14.1" height="14.1" fill="#7116ff"/>
<rect x="423.8" y="125.34" width="14.1" height="14.1" fill="#7511ff"/>
<rect x="437.82" y="125.34" width="14.1" height="14.1" fill="#7314ff"/>
<rect x="451.84" y="125.34" width="14.1" height="14.1" fill="#7909ff"/>
<rect x="465.86" y="125.34" width="14.1" height="14.1" fill="#6529fe"/>
<rect x="479.88" y="125.34" width="14.1" height="14.1" fill="#3c67fa"/>
<rect x="493.9" y="125.34" width="14.1" height="14.1" fill="#3c67fa"/>
<rect x="507.92" y="125.34" width="14.1" height="14.1" fill="#5c37fd"/>
<rect x="521.94" y="125.34" width="14.1" height="14.1" fill="#583efd"/>
<rect x="535.96" y="125.34" width="14.1" height="14.1" fill="#1c93f3"/>
<rect x="549.98" y="125.34" width="14.1" height="14.1" fill="#5c37fd"/>
<rect x="564" y="125.34" width="14.1" height="14.1" fill="#7c05ff"/>
<rect x="578.02" y="125.34" width="14.1" height="14.1" fill="#770eff"/>
<rect x="592.04" y="125.34" width="14.1" height="14.1" fill="#2a81f6"/>
<rect x="606.06" y="125.34" width="14.1" height="14.1" fill="#0ea4f0"/>
<rect x="620.08" y="125.34" width="14.1" height="14.1" fill="#5641fd"/>
<rect x="353.7" y="139.36" width="14.1" height="14.1" fill="#2e7af7"/>
<rect x="367.72" y="139.36" width="14.1" height="14.1" fill="#20d4e1"/>
<rect x="381.74" y="139.36" width="14.1" height="14.1" fill="#0aa9ee"/>
<rect x="395.76" y="139.36" width="14.1" height="14.1" fill="#1799f2"/>
<rect x="409.78" y="139.36" width="14.1" height="14.1" fill="#0ea4f0"/>
<rect x="423.8" y="139.36" width="14.1" height="14.1" fill="#01b4ec"/>
<rect x="437.82" y="139.36" width="14.1" height="14.1" fill="#1bd0e3"/>
<rect x="451.84" y="139.36" width="14.1" height="14.1" fill="#3374f8"/>
<rect x="465.86" y="139.36" width="14.1" height="14.1" fill="#29dbde"/>
<rect x="479.88" y="139.36" width="14.1" height="14.1" fill="#40ecd4"/>
<rect x="493.9" y="139.36" width="14.1" height="14.1" fill="#77ffb9"/>
<rect x="507.92" y="139.36" width="14.1" height="14.1" fill="#1bd0e3"/>
<rect x="521.94" y="139.36" width="14.1" height="14.1" fill="#04b9ea"/>
<rect x="535.96" y="139.36" width="14.1" height="14.1" fill="#49f1d0"/>
<rect x="549.98" y="139.36" width="14.1" height="14.1" fill="#05afed"/>
<rect x="564" y="139.36" width="14.1" height="14.1" fill="#2587f5"/>
<rect x="578.02" y="139.36" width="14.1" height="14.1" fill="#05afed"/>
<rect x="592.04" y="139.36" width="14.1" height="14.1" fill="#1bd0e3"/>
<rect x="606.06" y="139.36" width="14.1" height="14.1" fill="#44eed2"/>
<rect x="620.08" y="139.36" width="14.1" height="14.1" fill="#32e2da"/>
<rect x="353.7" y="153.38" width="14.1" height="14.1" fill="#40ecd4"/>
<rect x="367.72" y="153.38" width="14.1" height="14.1" fill="#69fdc0"/>
<rect x="381.74" y="153.38" width="14.1" height="14.1" fill="#12c7e6"/>
<rect x="395.76" y="153.38" width="14.1" height="14.1" fill="#0dc2e7"/>
<rect x="409.78" y="153.38" width="14.1" height="14.1" fill="#29dbde"/>
<rect x="423.8" y="153.38" width="14.1" height="14.1" fill="#2ddfdc"/>
<rect x="437.82" y="153.38" width="14.1" height="14.1" fill="#24d8df"/>
<rect x="451.84" y="153.38" width="14.1" height="14.1" fill="#1c93f3"/>
<rect x="465.86" y="153.38" width="14.1" height="14.1" fill="#32e2da"/>
<rect x="479.88" y="153.38" width="14.1" height="14.1" fill="#ff4b26"/>
<rect x="493.9" y="153.38" width="14.1" height="14.1" fill="#ff0c06"/>
<rect x="507.92" y="153.38" width="14.1" height="14.1" fill="#4df3ce"/>
<rect x="521.94" y="153.38" width="14.1" height="14.1" fill="#97fca7"/>
<rect x="535.96" y="153.38" width="14.1" height="14.1" fill="#ffa357"/>
<rect x="549.98" y="153.38" width="14.1" height="14.1" fill="#4df3ce"/>
<rect x="564" y="153.38" width="14.1" height="14.1" fill="#2587f5"/>
<rect x="578.02" y="153.38" width="14.1" height="14.1" fill="#0dc2e7"/>
<rect x="592.04" y="153.38" width="14.1" height="14.1" fill="#97fca7"/>
<rect x="606.06" y="153.38" width="14.1" height="14.1" fill="#e9cb71"/>
<rect x="620.08" y="153.38" width="14.1" height="14.1" fill="#ffa95a"/>
<rect x="353.7" y="167.4" width="14.1" height="14.1" fill="#49f1d0"/>
<rect x="367.72" y="167.4" width="14.1" height="14.1" fill="#80ffb4"/>
<rect x="381.74" y="167.4" width="14.1" height="14.1" fill="#24d8df"/>
<rect x="395.76" y="167.4" width="14.1" height="14.1" fill="#1bd0e3"/>
<rect x="409.78" y="167.4" width="14.1" height="14.1" fill="#3be9d6"/>
<rect x="423.8" y="167.4" width="14.1" height="14.1" fill="#40ecd4"/>
<rect x="437.82" y="167.4" width="14.1" height="14.1" fill="#3be9d6"/>
<rect x="451.84" y="167.4" width="14.1" height="14.1" fill="#2587f5"/>
<rect x="465.86" y="167.4" width="14.1" height="14.1" fill="#49f1d0"/>
<rect x="479.88" y="167.4" width="14.1" height="14.1" fill="#ff6634"/>
<rect x="493.9" y="167.4" width="14.1" height="14.1" fill="#ff0101"/>
<rect x="507.92" y="167.4" width="14.1" height="14.1" fill="#64fbc3"/>
<rect x="521.94" y="167.4" width="14.1" height="14.1" fill="#a4f89f"/>
<rect x="535.96" y="167.4" width="14.1" height="14.1" fill="#ffb361"/>
<rect x="549.98" y="167.4" width="14.1" height="14.1" fill="#49f1d0"/>
<rect x="564" y="167.4" width="14.1" height="14.1" fill="#01b4ec"/>
<rect x="578.02" y="167.4" width="14.1" height="14.1" fill="#32e2da"/>
<rect x="592.04" y="167.4" width="14.1" height="14.1" fill="#80ffb4"/>
<rect x="606.06" y="167.4" width="14.1" height="14.1" fill="#d7db7e"/>
<rect x="620.08" y="167.4" width="14.1" height="14.1" fill="#ff9e53"/>
<rect x="353.7" y="181.42" width="14.1" height="14.1" fill="#0aa9ee"/>
<rect x="367.72" y="181.42" width="14.1" height="14.1" fill="#29dbde"/>
<rect x="381.74" y="181.42" width="14.1" height="14.1" fill="#12c7e6"/>
<rect x="395.76" y="181.42" width="14.1" height="14.1" fill="#24d8df"/>
<rect x="409.78" y="181.42" width="14.1" height="14.1" fill="#0aa9ee"/>
<rect x="423.8" y="181.42" width="14.1" height="14.1" fill="#1bd0e3"/>
<rect x="437.82" y="181.42" width="14.1" height="14.1" fill="#40ecd4"/>
<rect x="451.84" y="181.42" width="14.1" height="14.1" fill="#3c67fa"/>
<rect x="465.86" y="181.42" width="14.1" height="14.1" fill="#16cbe4"/>
<rect x="479.88" y="181.42" width="14.1" height="14.1" fill="#6dfdbe"/>
<rect x="493.9" y="181.42" width="14.1" height="14.1" fill="#c0eb8d"/>
<rect x="507.92" y="181.42" width="14.1" height="14.1" fill="#0dc2e7"/>
<rect x="521.94" y="181.42" width="14.1" height="14.1" fill="#24d8df"/>
<rect x="535.96" y="181.42" width="14.1" height="14.1" fill="#64fbc3"/>
<rect x="549.98" y="181.42" width="14.1" height="14.1" fill="#12c7e6"/>
<rect x="564" y="181.42" width="14.1" height="14.1" fill="#2a81f6"/>
<rect x="578.02" y="181.42" width="14.1" height="14.1" fill="#0dc2e7"/>
<rect x="592.04" y="181.42" width="14.1" height="14.1" fill="#3be9d6"/>
<rect x="606.06" y="181.42" width="14.1" height="14.1" fill="#6dfdbe"/>
<rect x="620.08" y="181.42" width="14.1" height="14.1" fill="#64fbc3"/>
<rect x="353.7" y="195.44" width="14.1" height="14.1" fill="#1bd0e3"/>
<rect x="367.72" y="195.44" width="14.1" height="14.1" fill="#0dc2e7"/>
<rect x="381.74" y="195.44" width="14.1" height="14.1" fill="#1c93f3"/>
<rect x="395.76" y="195.44" width="14.1" height="14.1" fill="#2e7af7"/>
<rect x="409.78" y="195.44" width="14.1" height="14.1" fill="#2587f5"/>
<rect x="423.8" y="195.44" width="14.1" height="14.1" fill="#0ea4f0"/>
<rect x="437.82" y="195.44" width="14.1" height="14.1" fill="#218df4"/>
<rect x="451.84" y="195.44" width="14.1" height="14.1" fill="#455afb"/>
<rect x="465.86" y="195.44" width="14.1" height="14.1" fill="#01b4ec"/>
<rect x="479.88" y="195.44" width="14.1" height="14.1" fill="#6dfdbe"/>
<rect x="493.9" y="195.44" width="14.1" height="14.1" fill="#c0eb8d"/>
<rect x="507.92" y="195.44" width="14.1" height="14.1" fill="#16cbe4"/>
<rect x="521.94" y="195.44" width="14.1" height="14.1" fill="#29dbde"/>
<rect x="535.96" y="195.44" width="14.1" height="14.1" fill="#64fbc3"/>
<rect x="549.98" y="195.44" width="14.1" height="14.1" fill="#05afed"/>
<rect x="564" y="195.44" width="14.1" height="14.1" fill="#2e7af7"/>
<rect x="578.02" y="195.44" width="14.1" height="14.1" fill="#01b4ec"/>
<rect x="592.04" y="195.44" width="14.1" height="14.1" fill="#12c7e6"/>
<rect x="606.06" y="195.44" width="14.1" height="14.1" fill="#40ecd4"/>
<rect x="620.08" y="195.44" width="14.1" height="14.1" fill="#64fbc3"/>
<rect x="353.7" y="209.46" width="14.1" height="14.1" fill="#29dbde"/>
<rect x="367.72" y="209.46" width="14.1" height="14.1" fill="#5bf9c7"/>
<rect x="381.74" y="209.46" width="14.1" height="14.1" fill="#12c7e6"/>
<rect x="395.76" y="209.46" width="14.1" height="14.1" fill="#01b4ec"/>
<rect x="409.78" y="209.46" width="14.1" height="14.1" fill="#0dc2e7"/>
<rect x="423.8" y="209.46" width="14.1" height="14.1" fill="#24d8df"/>
<rect x="437.82" y="209.46" width="14.1" height="14.1" fill="#1bd0e3"/>
<rect x="451.84" y="209.46" width="14.1" height="14.1" fill="#1c93f3"/>
<rect x="465.86" y="209.46" width="14.1" height="14.1" fill="#32e2da"/>
<rect x="479.88" y="209.46" width="14.1" height="14.1" fill="#b2f396"/>
<rect x="493.9" y="209.46" width="14.1" height="14.1" fill="#f7bd67"/>
<rect x="507.92" y="209.46" width="14.1" height="14.1" fill="#4df3ce"/>
<rect x="521.94" y="209.46" width="14.1" height="14.1" fill="#4df3ce"/>
<rect x="535.96" y="209.46" width="14.1" height="14.1" fill="#aef599"/>
<rect x="549.98" y="209.46" width="14.1" height="14.1" fill="#29dbde"/>
<rect x="564" y="209.46" width="14.1" height="14.1" fill="#1799f2"/>
<rect x="578.02" y="209.46" width="14.1" height="14.1" fill="#04b9ea"/>
<rect x="592.04" y="209.46" width="14.1" height="14.1" fill="#29dbde"/>
<rect x="606.06" y="209.46" width="14.1" height="14.1" fill="#64fbc3"/>
<rect x="620.08" y="209.46" width="14.1" height="14.1" fill="#a4f89f"/>
<rect x="353.7" y="223.48" width="14.1" height="14.1" fill="#218df4"/>
<rect x="367.72" y="223.48" width="14.1" height="14.1" fill="#29dbde"/>
<rect x="381.74" y="223.48" width="14.1" height="14.1" fill="#05afed"/>
<rect x="395.76" y="223.48" width="14.1" height="14.1" fill="#1bd0e3"/>
<rect x="409.78" y="223.48" width="14.1" height="14.1" fill="#1c93f3"/>
<rect x="423.8" y="223.48" width="14.1" height="14.1" fill="#12c7e6"/>
<rect x="437.82" y="223.48" width="14.1" height="14.1" fill="#12c7e6"/>
<rect x="451.84" y="223.48" width="14.1" height="14.1" fill="#218df4"/>
<rect x="465.86" y="223.48" width="14.1" height="14.1" fill="#29dbde"/>
<rect x="479.88" y="223.48" width="14.1" height="14.1" fill="#40ecd4"/>
<rect x="493.9" y="223.48" width="14.1" height="14.1" fill="#80ffb4"/>
<rect x="507.92" y="223.48" width="14.1" height="14.1" fill="#0dc2e7"/>
<rect x="521.94" y="223.48" width="14.1" height="14.1" fill="#1bd0e3"/>
<rect x="535.96" y="223.48" width="14.1" height="14.1" fill="#a4f89f"/>
<rect x="549.98" y="223.48" width="14.1" height="14.1" fill="#12c7e6"/>
<rect x="564" y="223.48" width="14.1" height="14.1" fill="#4e4cfc"/>
<rect x="578.02" y="223.48" width="14.1" height="14.1" fill="#01b4ec"/>
<rect x="592.04" y="223.48" width="14.1" height="14.1" fill="#80ffb4"/>
<rect x="606.06" y="223.48" width="14.1" height="14.1" fill="#d2df81"/>
<rect x="620.08" y="223.48" width="14.1" height="14.1" fill="#49f1d0"/>
<rect x="353.7" y="237.5" width="14.1" height="14.1" fill="#4e4cfc"/>
<rect x="367.72" y="237.5" width="14.1" height="14.1" fill="#24d8df"/>
<rect x="381.74" y="237.5" width="14.1" height="14.1" fill="#455afb"/>
<rect x="395.76" y="237.5" width="14.1" height="14.1" fill="#1c93f3"/>
<rect x="409.78" y="237.5" width="14.1" height="14.1" fill="#6529fe"/>
<rect x="423.8" y="237.5" width="14.1" height="14.1" fill="#218df4"/>
<rect x="437.82" y="237.5" width="14.1" height="14.1" fill="#0aa9ee"/>
<rect x="451.84" y="237.5" width="14.1" height="14.1" fill="#583efd"/>
<rect x="465.86" y="237.5" width="14.1" height="14.1" fill="#1799f2"/>
<rect x="479.88" y="237.5" width="14.1" height="14.1" fill="#29dbde"/>
<rect x="493.9" y="237.5" width="14.1" height="14.1" fill="#4df3ce"/>
<rect x="507.92" y="237.5" width="14.1" height="14.1" fill="#16cbe4"/>
<rect x="521.94" y="237.5" width="14.1" height="14.1" fill="#01b4ec"/>
<rect x="535.96" y="237.5" width="14.1" height="14.1" fill="#3be9d6"/>
<rect x="549.98" y="237.5" width="14.1" height="14.1" fill="#0aa9ee"/>
<rect x="564" y="237.5" width="14.1" height="14.1" fill="#6e1bff"/>
<rect x="578.02" y="237.5" width="14.1" height="14.1" fill="#455afb"/>
<rect x="592.04" y="237.5" width="14.1" height="14.1" fill="#1bd0e3"/>
<rect x="606.06" y="237.5" width="14.1" height="14.1" fill="#3be9d6"/>
<rect x="620.08" y="237.5" width="14.1" height="14.1" fill="#05afed"/>
<rect x="353.7" y="251.52" width="14.1" height="14.1" fill="#3374f8"/>
<rect x="367.72" y="251.52" width="14.1" height="14.1" fill="#4df3ce"/>
<rect x="381.74" y="251.52" width="14.1" height="14.1" fill="#0ea4f0"/>
<rect x="395.76" y="251.52" width="14.1" height="14.1" fill="#04b9ea"/>
<rect x="409.78" y="251.52" width="14.1" height="14.1" fill="#2a81f6"/>
<rect x="423.8" y="251.52" width="14.1" height="14.1" fill="#16cbe4"/>
<rect x="437.82" y="251.52" width="14.1" height="14.1" fill="#0dc2e7"/>
<rect x="451.84" y="251.52" width="14.1" height="14.1" fill="#218df4"/>
<rect x="465.86" y="251.52" width="14.1" height="14.1" fill="#32e2da"/>
<rect x="479.88" y="251.52" width="14.1" height="14.1" fill="#77ffb9"/>
<rect x="493.9" y="251.52" width="14.1" height="14.1" fill="#c4e88a"/>
<rect x="507.92" y="251.52" width="14.1" height="14.1" fill="#32e2da"/>
<rect x="521.94" y="251.52" width="14.1" height="14.1" fill="#40ecd4"/>
<rect x="535.96" y="251.52" width="14.1" height="14.1" fill="#64fbc3"/>
<rect x="549.98" y="251.52" width="14.1" height="14.1" fill="#29dbde"/>
<rect x="564" y="251.52" width="14.1" height="14.1" fill="#4160fa"/>
<rect x="578.02" y="251.52" width="14.1" height="14.1" fill="#04b9ea"/>
<rect x="592.04" y="251.52" width="14.1" height="14.1" fill="#3be9d6"/>
<rect x="606.06" y="251.52" width="14.1" height="14.1" fill="#6dfdbe"/>
<rect x="620.08" y="251.52" width="14.1" height="14.1" fill="#4df3ce"/>
<rect x="353.7" y="265.54" width="14.1" height="14.1" fill="#218df4"/>
<rect x="367.72" y="265.54" width="14.1" height="14.1" fill="#3be9d6"/>
<rect x="381.74" y="265.54" width="14.1" height="14.1" fill="#218df4"/>
<rect x="395.76" y="265.54" width="14.1" height="14.1" fill="#2a81f6"/>
<rect x="409.78" y="265.54" width="14.1" height="14.1" fill="#04b9ea"/>
<rect x="423.8" y="265.54" width="14.1" height="14.1" fill="#0ea4f0"/>
<rect x="437.82" y="265.54" width="14.1" height="14.1" fill="#0ea4f0"/>
<rect x="451.84" y="265.54" width="14.1" height="14.1" fill="#2e7af7"/>
<rect x="465.86" y="265.54" width="14.1" height="14.1" fill="#0ea4f0"/>
<rect x="479.88" y="265.54" width="14.1" height="14.1" fill="#29dbde"/>
<rect x="493.9" y="265.54" width="14.1" height="14.1" fill="#64fbc3"/>
<rect x="507.92" y="265.54" width="14.1" height="14.1" fill="#24d8df"/>
<rect x="521.94" y="265.54" width="14.1" height="14.1" fill="#0ea4f0"/>
<rect x="535.96" y="265.54" width="14.1" height="14.1" fill="#24d8df"/>
<rect x="549.98" y="265.54" width="14.1" height="14.1" fill="#0dc2e7"/>
<rect x="564" y="265.54" width="14.1" height="14.1" fill="#3374f8"/>
<rect x="578.02" y="265.54" width="14.1" height="14.1" fill="#2a81f6"/>
<rect x="592.04" y="265.54" width="14.1" height="14.1" fill="#1799f2"/>
<rect x="606.06" y="265.54" width="14.1" height="14.1" fill="#04b9ea"/>
<rect x="620.08" y="265.54" width="14.1" height="14.1" fill="#29dbde"/>
<rect x="353.7" y="279.56" width="14.1" height="14.1" fill="#16cbe4"/>
<rect x="367.72" y="279.56" width="14.1" height="14.1" fill="#52f5cc"/>
<rect x="381.74" y="279.56" width="14.1" height="14.1" fill="#0dc2e7"/>
<rect x="395.76" y="279.56" width="14.1" height="14.1" fill="#24d8df"/>
<rect x="409.78" y="279.56" width="14.1" height="14.1" fill="#0ea4f0"/>
<rect x="423.8" y="279.56" width="14.1" height="14.1" fill="#29dbde"/>
<rect x="437.82" y="279.56" width="14.1" height="14.1" fill="#3be9d6"/>
<rect x="451.84" y="279.56" width="14.1" height="14.1" fill="#2a81f6"/>
<rect x="465.86" y="279.56" width="14.1" height="14.1" fill="#29dbde"/>
<rect x="479.88" y="279.56" width="14.1" height="14.1" fill="#6dfdbe"/>
<rect x="493.9" y="279.56" width="14.1" height="14.1" fill="#d7db7e"/>
<rect x="507.92" y="279.56" width="14.1" height="14.1" fill="#77ffb9"/>
<rect x="521.94" y="279.56" width="14.1" height="14.1" fill="#29dbde"/>
<rect x="535.96" y="279.56" width="14.1" height="14.1" fill="#6dfdbe"/>
<rect x="549.98" y="279.56" width="14.1" height="14.1" fill="#3be9d6"/>
<rect x="564" y="279.56" width="14.1" height="14.1" fill="#1799f2"/>
<rect x="578.02" y="279.56" width="14.1" height="14.1" fill="#01b4ec"/>
<rect x="592.04" y="279.56" width="14.1" height="14.1" fill="#1bd0e3"/>
<rect x="606.06" y="279.56" width="14.1" height="14.1" fill="#57f7ca"/>
<rect x="620.08" y="279.56" width="14.1" height="14.1" fill="#64fbc3"/>
<rect x="353.7" y="293.58" width="14.1" height="14.1" fill="#0dc2e7"/>
<rect x="367.72" y="293.58" width="14.1" height="14.1" fill="#64fbc3"/>
<rect x="381.74" y="293.58" width="14.1" height="14.1" fill="#0ea4f0"/>
<rect x="395.76" y="293.58" width="14.1" height="14.1" fill="#04b9ea"/>
<rect x="409.78" y="293.58" width="14.1" height="14.1" fill="#09bee9"/>
<rect x="423.8" y="293.58" width="14.1" height="14.1" fill="#29dbde"/>
<rect x="437.82" y="293.58" width="14.1" height="14.1" fill="#12c7e6"/>
<rect x="451.84" y="293.58" width="14.1" height="14.1" fill="#1c93f3"/>
<rect x="465.86" y="293.58" width="14.1" height="14.1" fill="#4df3ce"/>
<rect x="479.88" y="293.58" width="14.1" height="14.1" fill="#ff6634"/>
<rect x="493.9" y="293.58" width="14.1" height="14.1" fill="#ff0402"/>
<rect x="507.92" y="293.58" width="14.1" height="14.1" fill="#49f1d0"/>
<rect x="521.94" y="293.58" width="14.1" height="14.1" fill="#a4f89f"/>
<rect x="535.96" y="293.58" width="14.1" height="14.1" fill="#ffb361"/>
<rect x="549.98" y="293.58" width="14.1" height="14.1" fill="#4df3ce"/>
<rect x="564" y="293.58" width="14.1" height="14.1" fill="#455afb"/>
<rect x="578.02" y="293.58" width="14.1" height="14.1" fill="#05afed"/>
<rect x="592.04" y="293.58" width="14.1" height="14.1" fill="#97fca7"/>
<rect x="606.06" y="293.58" width="14.1" height="14.1" fill="#fbb864"/>
<rect x="620.08" y="293.58" width="14.1" height="14.1" fill="#e0d378"/>
</g>
<g stroke="#fff" stroke-width="1" opacity="0.95">
<line x1="367.72" y1="27.2" x2="367.72" y2="307.6"/>
<line x1="353.7" y1="41.22" x2="634.1" y2="41.22"/>
<line x1="381.74" y1="27.2" x2="381.74" y2="307.6"/>
<line x1="353.7" y1="55.24" x2="634.1" y2="55.24"/>
<line x1="395.76" y1="27.2" x2="395.76" y2="307.6"/>
<line x1="353.7" y1="69.26" x2="634.1" y2="69.26"/>
<line x1="409.78" y1="27.2" x2="409.78" y2="307.6"/>
<line x1="353.7" y1="83.28" x2="634.1" y2="83.28"/>
<line x1="423.8" y1="27.2" x2="423.8" y2="307.6"/>
<line x1="353.7" y1="97.3" x2="634.1" y2="97.3"/>
<line x1="437.82" y1="27.2" x2="437.82" y2="307.6"/>
<line x1="353.7" y1="111.32" x2="634.1" y2="111.32"/>
<line x1="451.84" y1="27.2" x2="451.84" y2="307.6"/>
<line x1="353.7" y1="125.34" x2="634.1" y2="125.34"/>
<line x1="465.86" y1="27.2" x2="465.86" y2="307.6"/>
<line x1="353.7" y1="139.36" x2="634.1" y2="139.36"/>
<line x1="479.88" y1="27.2" x2="479.88" y2="307.6"/>
<line x1="353.7" y1="153.38" x2="634.1" y2="153.38"/>
<line x1="493.9" y1="27.2" x2="493.9" y2="307.6"/>
<line x1="353.7" y1="167.4" x2="634.1" y2="167.4"/>
<line x1="507.92" y1="27.2" x2="507.92" y2="307.6"/>
<line x1="353.7" y1="181.42" x2="634.1" y2="181.42"/>
<line x1="521.94" y1="27.2" x2="521.94" y2="307.6"/>
<line x1="353.7" y1="195.44" x2="634.1" y2="195.44"/>
<line x1="535.96" y1="27.2" x2="535.96" y2="307.6"/>
<line x1="353.7" y1="209.46" x2="634.1" y2="209.46"/>
<line x1="549.98" y1="27.2" x2="549.98" y2="307.6"/>
<line x1="353.7" y1="223.48" x2="634.1" y2="223.48"/>
<line x1="564" y1="27.2" x2="564" y2="307.6"/>
<line x1="353.7" y1="237.5" x2="634.1" y2="237.5"/>
<line x1="578.02" y1="27.2" x2="578.02" y2="307.6"/>
<line x1="353.7" y1="251.52" x2="634.1" y2="251.52"/>
<line x1="592.04" y1="27.2" x2="592.04" y2="307.6"/>
<line x1="353.7" y1="265.54" x2="634.1" y2="265.54"/>
<line x1="606.06" y1="27.2" x2="606.06" y2="307.6"/>
<line x1="353.7" y1="279.56" x2="634.1" y2="279.56"/>
<line x1="620.08" y1="27.2" x2="620.08" y2="307.6"/>
<line x1="353.7" y1="293.58" x2="634.1" y2="293.58"/>
</g>
<rect x="353.7" y="27.2" width="280.4" height="280.4" fill="none" stroke="#999" stroke-width="0.7"/>
<g stroke="#555" stroke-width="0.6">
<line x1="360.71" y1="25.2" x2="360.71" y2="27.2"/>
<line x1="351.7" y1="34.21" x2="353.7" y2="34.21"/>
<line x1="374.73" y1="25.2" x2="374.73" y2="27.2"/>
<line x1="351.7" y1="48.23" x2="353.7" y2="48.23"/>
<line x1="388.75" y1="25.2" x2="388.75" y2="27.2"/>
<line x1="351.7" y1="62.25" x2="353.7" y2="62.25"/>
<line x1="402.77" y1="25.2" x2="402.77" y2="27.2"/>
<line x1="351.7" y1="76.27" x2="353.7" y2="76.27"/>
<line x1="416.79" y1="25.2" x2="416.79" y2="27.2"/>
<line x1="351.7" y1="90.29" x2="353.7" y2="90.29"/>
<line x1="430.81" y1="25.2" x2="430.81" y2="27.2"/>
<line x1="351.7" y1="104.31" x2="353.7" y2="104.31"/>
<line x1="444.83" y1="25.2" x2="444.83" y2="27.2"/>
<line x1="351.7" y1="118.33" x2="353.7" y2="118.33"/>
<line x1="458.85" y1="25.2" x2="458.85" y2="27.2"/>
<line x1="351.7" y1="132.35" x2="353.7" y2="132.35"/>
<line x1="472.87" y1="25.2" x2="472.87" y2="27.2"/>
<line x1="351.7" y1="146.37" x2="353.7" y2="146.37"/>
<line x1="486.89" y1="25.2" x2="486.89" y2="27.2"/>
<line x1="351.7" y1="160.39" x2="353.7" y2="160.39"/>
<line x1="500.91" y1="25.2" x2="500.91" y2="27.2"/>
<line x1="351.7" y1="174.41" x2="353.7" y2="174.41"/>
<line x1="514.93" y1="25.2" x2="514.93" y2="27.2"/>
<line x1="351.7" y1="188.43" x2="353.7" y2="188.43"/>
<line x1="528.95" y1="25.2" x2="528.95" y2="27.2"/>
<line x1="351.7" y1="202.45" x2="353.7" y2="202.45"/>
<line x1="542.97" y1="25.2" x2="542.97" y2="27.2"/>
<line x1="351.7" y1="216.47" x2="353.7" y2="216.47"/>
<line x1="556.99" y1="25.2" x2="556.99" y2="27.2"/>
<line x1="351.7" y1="230.49" x2="353.7" y2="230.49"/>
<line x1="571.01" y1="25.2" x2="571.01" y2="27.2"/>
<line x1="351.7" y1="244.51" x2="353.7" y2="244.51"/>
<line x1="585.03" y1="25.2" x2="585.03" y2="27.2"/>
<line x1="351.7" y1="258.53" x2="353.7" y2="258.53"/>
<line x1="599.05" y1="25.2" x2="599.05" y2="27.2"/>
<line x1="351.7" y1="272.55" x2="353.7" y2="272.55"/>
<line x1="613.07" y1="25.2" x2="613.07" y2="27.2"/>
<line x1="351.7" y1="286.57" x2="353.7" y2="286.57"/>
<line x1="627.09" y1="25.2" x2="627.09" y2="27.2"/>
<line x1="351.7" y1="300.59" x2="353.7" y2="300.59"/>
</g>
<g font-family="Liberation Sans" font-size="7.6" fill="#222" stroke="#222" stroke-width="0.2" text-anchor="middle">
<text x="360.71" y="22.9">A</text>
<text x="374.73" y="22.9">R</text>
<text x="388.75" y="22.9">N</text>
<text x="402.77" y="22.9">D</text>
<text x="416.79" y="22.9">C</text>
<text x="430.81" y="22.9">E</text>
<text x="444.83" y="22.9">Q</text>
<text x="458.85" y="22.9">G</text>
<text x="472.87" y="22.9">H</text>
<text x="486.89" y="22.9">I</text>
<text x="500.91" y="22.9">L</text>
<text x="514.93" y="22.9">K</text>
<text x="528.95" y="22.9">M</text>
<text x="542.97" y="22.9">F</text>
<text x="556.99" y="22.9">P</text>
<text x="571.01" y="22.9">S</text>
<text x="585.03" y="22.9">T</text>
<text x="599.05" y="22.9">W</text>
<text x="613.07" y="22.9">Y</text>
<text x="627.09" y="22.9">V</text>
</g>
<g font-family="Liberation Sans" font-size="7.6" fill="#222" stroke="#222" stroke-width="0.2" text-anchor="end">
<text x="350.6" y="36.81">A</text>
<text x="350.6" y="50.83">R</text>
<text x="350.6" y="64.85">N</text>
<text x="350.6" y="78.87">D</text>
<text x="350.6" y="92.89">C</text>
<text x="350.6" y="106.91">E</text>
<text x="350.6" y="120.93">Q</text>
<text x="350.6" y="134.95">G</text>
<text x="350.6" y="148.97">H</text>
<text x="350.6" y="162.99">I</text>
<text x="350.6" y="177.01">L</text>
<text x="350.6" y="191.03">K</text>
<text x="350.6" y="205.05">M</text>
<text x="350.6" y="219.07">F</text>
<text x="350.6" y="233.09">P</text>
<text x="350.6" y="247.11">S</text>
<text x="350.6" y="261.13">T</text>
<text x="350.6" y="275.15">W</text>
<text x="350.6" y="289.17">Y</text>
<text x="350.6" y="303.19">V</text>
</g>
<rect x="651.9" y="27.1" width="14.6" height="280.4" fill="url(#cb)" stroke="#999" stroke-width="0.6"/>
<g font-family="Liberation Sans" font-size="8.8" fill="#222">
<line x1="666.5" y1="270.4" x2="668.5" y2="270.4" stroke="#555" stroke-width="0.6"/>
<text x="669.2" y="272.6">1</text>
<line x1="666.5" y1="219.9" x2="668.5" y2="219.9" stroke="#555" stroke-width="0.6"/>
<text x="669.2" y="222.1">2</text>
<line x1="666.5" y1="169.4" x2="668.5" y2="169.4" stroke="#555" stroke-width="0.6"/>
<text x="669.2" y="171.6">3</text>
<line x1="666.5" y1="118.9" x2="668.5" y2="118.9" stroke="#555" stroke-width="0.6"/>
<text x="669.2" y="121.1">4</text>
<line x1="666.5" y1="68.4" x2="668.5" y2="68.4" stroke="#555" stroke-width="0.6"/>
<text x="669.2" y="70.6">5</text>
</g>
<g shape-rendering="crispEdges">
<rect x="45.8" y="349.4" width="6.72" height="6.72" fill="#7215ff"/>
<rect x="52.12" y="349.4" width="6.72" height="6.72" fill="#652afe"/>
<rect x="58.44" y="349.4" width="6.72" height="6.72" fill="#652afe"/>
<rect x="64.76" y="349.4" width="6.72" height="6.72" fill="#652afe"/>
<rect x="71.08" y="349.4" width="6.72" height="6.72" fill="#652afe"/>
<rect x="77.4" y="349.4" width="6.72" height="6.72" fill="#4a53fc"/>
<rect x="83.72" y="349.4" width="6.72" height="6.72" fill="#8000ff"/>
<rect x="90.04" y="349.4" width="6.72" height="6.72" fill="#4a53fc"/>
<rect x="96.36" y="349.4" width="6.72" height="6.72" fill="#652afe"/>
<rect x="102.68" y="349.4" width="6.72" height="6.72" fill="#573ffd"/>
<rect x="109" y="349.4" width="6.72" height="6.72" fill="#652afe"/>
<rect x="115.32" y="349.4" width="6.72" height="6.72" fill="#7215ff"/>
<rect x="121.64" y="349.4" width="6.72" height="6.72" fill="#770dff"/>
<rect x="127.96" y="349.4" width="6.72" height="6.72" fill="#652afe"/>
<rect x="134.28" y="349.4" width="6.72" height="6.72" fill="#425ffa"/>
<rect x="140.6" y="349.4" width="6.72" height="6.72" fill="#7215ff"/>
<rect x="146.92" y="349.4" width="6.72" height="6.72" fill="#770dff"/>
<rect x="153.24" y="349.4" width="6.72" height="6.72" fill="#770dff"/>
<rect x="159.56" y="349.4" width="6.72" height="6.72" fill="#652afe"/>
<rect x="165.88" y="349.4" width="6.72" height="6.72" fill="#652afe"/>
<rect x="45.8" y="355.72" width="6.72" height="6.72" fill="#652afe"/>
<rect x="52.12" y="355.72" width="6.72" height="6.72" fill="#652afe"/>
<rect x="58.44" y="355.72" width="6.72" height="6.72" fill="#652afe"/>
<rect x="64.76" y="355.72" width="6.72" height="6.72" fill="#652afe"/>
<rect x="71.08" y="355.72" width="6.72" height="6.72" fill="#652afe"/>
<rect x="77.4" y="355.72" width="6.72" height="6.72" fill="#652afe"/>
<rect x="83.72" y="355.72" width="6.72" height="6.72" fill="#5d36fe"/>
<rect x="90.04" y="355.72" width="6.72" height="6.72" fill="#5d36fe"/>
<rect x="96.36" y="355.72" width="6.72" height="6.72" fill="#573ffd"/>
<rect x="102.68" y="355.72" width="6.72" height="6.72" fill="#652afe"/>
<rect x="109" y="355.72" width="6.72" height="6.72" fill="#5f32fe"/>
<rect x="115.32" y="355.72" width="6.72" height="6.72" fill="#7215ff"/>
<rect x="121.64" y="355.72" width="6.72" height="6.72" fill="#7215ff"/>
<rect x="127.96" y="355.72" width="6.72" height="6.72" fill="#652afe"/>
<rect x="134.28" y="355.72" width="6.72" height="6.72" fill="#7215ff"/>
<rect x="140.6" y="355.72" width="6.72" height="6.72" fill="#7215ff"/>
<rect x="146.92" y="355.72" width="6.72" height="6.72" fill="#770dff"/>
<rect x="153.24" y="355.72" width="6.72" height="6.72" fill="#7215ff"/>
<rect x="159.56" y="355.72" width="6.72" height="6.72" fill="#7215ff"/>
<rect x="165.88" y="355.72" width="6.72" height="6.72" fill="#7215ff"/>
<rect x="45.8" y="362.04" width="6.72" height="6.72" fill="#573ffd"/>
<rect x="52.12" y="362.04" width="6.72" height="6.72" fill="#652afe"/>
<rect x="58.44" y="362.04" width="6.72" height="6.72" fill="#652afe"/>
<rect x="64.76" y="362.04" width="6.72" height="6.72" fill="#7215ff"/>
<rect x="71.08" y="362.04" width="6.72" height="6.72" fill="#7215ff"/>
<rect x="77.4" y="362.04" width="6.72" height="6.72" fill="#4a53fc"/>
<rect x="83.72" y="362.04" width="6.72" height="6.72" fill="#7215ff"/>
<rect x="90.04" y="362.04" width="6.72" height="6.72" fill="#7215ff"/>
<rect x="96.36" y="362.04" width="6.72" height="6.72" fill="#7215ff"/>
<rect x="102.68" y="362.04" width="6.72" height="6.72" fill="#770dff"/>
<rect x="109" y="362.04" width="6.72" height="6.72" fill="#7215ff"/>
<rect x="115.32" y="362.04" width="6.72" height="6.72" fill="#7215ff"/>
<rect x="121.64" y="362.04" width="6.72" height="6.72" fill="#770dff"/>
<rect x="127.96" y="362.04" width="6.72" height="6.72" fill="#770dff"/>
<rect x="134.28" y="362.04" width="6.72" height="6.72" fill="#770dff"/>
<rect x="140.6" y="362.04" width="6.72" height="6.72" fill="#770dff"/>
<rect x="146.92" y="362.04" width="6.72" height="6.72" fill="#7215ff"/>
<rect x="153.24" y="362.04" width="6.72" height="6.72" fill="#7215ff"/>
<rect x="159.56" y="362.04" width="6.72" height="6.72" fill="#652afe"/>
<rect x="165.88" y="362.04" width="6.72" height="6.72" fill="#652afe"/>
<rect x="45.8" y="368.36" width="6.72" height="6.72" fill="#149df1"/>
<rect x="52.12" y="368.36" width="6.72" height="6.72" fill="#4a53fc"/>
<rect x="58.44" y="368.36" width="6.72" height="6.72" fill="#652afe"/>
<rect x="64.76" y="368.36" width="6.72" height="6.72" fill="#652afe"/>
<rect x="71.08" y="368.36" width="6.72" height="6.72" fill="#652afe"/>
<rect x="77.4" y="368.36" width="6.72" height="6.72" fill="#652afe"/>
<rect x="83.72" y="368.36" width="6.72" height="6.72" fill="#6d1dff"/>
<rect x="90.04" y="368.36" width="6.72" height="6.72" fill="#6d1dff"/>
<rect x="96.36" y="368.36" width="6.72" height="6.72" fill="#7215ff"/>
<rect x="102.68" y="368.36" width="6.72" height="6.72" fill="#770dff"/>
<rect x="109" y="368.36" width="6.72" height="6.72" fill="#7a08ff"/>
<rect x="115.32" y="368.36" width="6.72" height="6.72" fill="#7a08ff"/>
<rect x="121.64" y="368.36" width="6.72" height="6.72" fill="#7a08ff"/>
<rect x="127.96" y="368.36" width="6.72" height="6.72" fill="#7a08ff"/>
<rect x="134.28" y="368.36" width="6.72" height="6.72" fill="#7a08ff"/>
<rect x="140.6" y="368.36" width="6.72" height="6.72" fill="#7215ff"/>
<rect x="146.92" y="368.36" width="6.72" height="6.72" fill="#7215ff"/>
<rect x="153.24" y="368.36" width="6.72" height="6.72" fill="#7215ff"/>
<rect x="159.56" y="368.36" width="6.72" height="6.72" fill="#5f32fe"/>
<rect x="165.88" y="368.36" width="6.72" height="6.72" fill="#376ef9"/>
<rect x="45.8" y="374.68" width="6.72" height="6.72" fill="#376ef9"/>
<rect x="52.12" y="374.68" width="6.72" height="6.72" fill="#376ef9"/>
<rect x="58.44" y="374.68" width="6.72" height="6.72" fill="#3c66fa"/>
<rect x="64.76" y="374.68" width="6.72" height="6.72" fill="#3c66fa"/>
<rect x="71.08" y="374.68" width="6.72" height="6.72" fill="#5f32fe"/>
<rect x="77.4" y="374.68" width="6.72" height="6.72" fill="#652afe"/>
<rect x="83.72" y="374.68" width="6.72" height="6.72" fill="#6a22fe"/>
<rect x="90.04" y="374.68" width="6.72" height="6.72" fill="#6d1dff"/>
<rect x="96.36" y="374.68" width="6.72" height="6.72" fill="#7215ff"/>
<rect x="102.68" y="374.68" width="6.72" height="6.72" fill="#573ffd"/>
<rect x="109" y="374.68" width="6.72" height="6.72" fill="#770dff"/>
<rect x="115.32" y="374.68" width="6.72" height="6.72" fill="#652afe"/>
<rect x="121.64" y="374.68" width="6.72" height="6.72" fill="#652afe"/>
<rect x="127.96" y="374.68" width="6.72" height="6.72" fill="#770dff"/>
<rect x="134.28" y="374.68" width="6.72" height="6.72" fill="#7a08ff"/>
<rect x="140.6" y="374.68" width="6.72" height="6.72" fill="#6d1dff"/>
<rect x="146.92" y="374.68" width="6.72" height="6.72" fill="#7215ff"/>
<rect x="153.24" y="374.68" width="6.72" height="6.72" fill="#652afe"/>
<rect x="159.56" y="374.68" width="6.72" height="6.72" fill="#5d36fe"/>
<rect x="165.88" y="374.68" width="6.72" height="6.72" fill="#07adee"/>
<rect x="45.8" y="381" width="6.72" height="6.72" fill="#4a53fc"/>
<rect x="52.12" y="381" width="6.72" height="6.72" fill="#376ef9"/>
<rect x="58.44" y="381" width="6.72" height="6.72" fill="#228bf4"/>
<rect x="64.76" y="381" width="6.72" height="6.72" fill="#01b3ec"/>
<rect x="71.08" y="381" width="6.72" height="6.72" fill="#7215ff"/>
<rect x="77.4" y="381" width="6.72" height="6.72" fill="#425ffa"/>
<rect x="83.72" y="381" width="6.72" height="6.72" fill="#425ffa"/>
<rect x="90.04" y="381" width="6.72" height="6.72" fill="#573ffd"/>
<rect x="96.36" y="381" width="6.72" height="6.72" fill="#7215ff"/>
<rect x="102.68" y="381" width="6.72" height="6.72" fill="#770dff"/>
<rect x="109" y="381" width="6.72" height="6.72" fill="#7a08ff"/>
<rect x="115.32" y="381" width="6.72" height="6.72" fill="#7a08ff"/>
<rect x="121.64" y="381" width="6.72" height="6.72" fill="#7a08ff"/>
<rect x="127.96" y="381" width="6.72" height="6.72" fill="#7a08ff"/>
<rect x="134.28" y="381" width="6.72" height="6.72" fill="#7a08ff"/>
<rect x="140.6" y="381" width="6.72" height="6.72" fill="#6d1dff"/>
<rect x="146.92" y="381" width="6.72" height="6.72" fill="#652afe"/>
<rect x="153.24" y="381" width="6.72" height="6.72" fill="#573ffd"/>
<rect x="159.56" y="381" width="6.72" height="6.72" fill="#652afe"/>
<rect x="165.88" y="381" width="6.72" height="6.72" fill="#07adee"/>
<rect x="45.8" y="387.32" width="6.72" height="6.72" fill="#573ffd"/>
<rect x="52.12" y="387.32" width="6.72" height="6.72" fill="#5f32fe"/>
<rect x="58.44" y="387.32" width="6.72" height="6.72" fill="#3c66fa"/>
<rect x="64.76" y="387.32" width="6.72" height="6.72" fill="#2784f6"/>
<rect x="71.08" y="387.32" width="6.72" height="6.72" fill="#573ffd"/>
<rect x="77.4" y="387.32" width="6.72" height="6.72" fill="#573ffd"/>
<rect x="83.72" y="387.32" width="6.72" height="6.72" fill="#22d5e0"/>
<rect x="90.04" y="387.32" width="6.72" height="6.72" fill="#573ffd"/>
<rect x="96.36" y="387.32" width="6.72" height="6.72" fill="#770dff"/>
<rect x="102.68" y="387.32" width="6.72" height="6.72" fill="#7a08ff"/>
<rect x="109" y="387.32" width="6.72" height="6.72" fill="#7a08ff"/>
<rect x="115.32" y="387.32" width="6.72" height="6.72" fill="#7a08ff"/>
<rect x="121.64" y="387.32" width="6.72" height="6.72" fill="#7a08ff"/>
<rect x="127.96" y="387.32" width="6.72" height="6.72" fill="#7a08ff"/>
<rect x="134.28" y="387.32" width="6.72" height="6.72" fill="#7a08ff"/>
<rect x="140.6" y="387.32" width="6.72" height="6.72" fill="#6d1dff"/>
<rect x="146.92" y="387.32" width="6.72" height="6.72" fill="#6d1dff"/>
<rect x="153.24" y="387.32" width="6.72" height="6.72" fill="#652afe"/>
<rect x="159.56" y="387.32" width="6.72" height="6.72" fill="#652afe"/>
<rect x="165.88" y="387.32" width="6.72" height="6.72" fill="#228bf4"/>
<rect x="45.8" y="393.64" width="6.72" height="6.72" fill="#573ffd"/>
<rect x="52.12" y="393.64" width="6.72" height="6.72" fill="#3c66fa"/>
<rect x="58.44" y="393.64" width="6.72" height="6.72" fill="#3c66fa"/>
<rect x="64.76" y="393.64" width="6.72" height="6.72" fill="#3c66fa"/>
<rect x="71.08" y="393.64" width="6.72" height="6.72" fill="#4a53fc"/>
<rect x="77.4" y="393.64" width="6.72" height="6.72" fill="#573ffd"/>
<rect x="83.72" y="393.64" width="6.72" height="6.72" fill="#228bf4"/>
<rect x="90.04" y="393.64" width="6.72" height="6.72" fill="#7215ff"/>
<rect x="96.36" y="393.64" width="6.72" height="6.72" fill="#7a08ff"/>
<rect x="102.68" y="393.64" width="6.72" height="6.72" fill="#7a08ff"/>
<rect x="109" y="393.64" width="6.72" height="6.72" fill="#7a08ff"/>
<rect x="115.32" y="393.64" width="6.72" height="6.72" fill="#7a08ff"/>
<rect x="121.64" y="393.64" width="6.72" height="6.72" fill="#7a08ff"/>
<rect x="127.96" y="393.64" width="6.72" height="6.72" fill="#770dff"/>
<rect x="134.28" y="393.64" width="6.72" height="6.72" fill="#770dff"/>
<rect x="140.6" y="393.64" width="6.72" height="6.72" fill="#6d1dff"/>
<rect x="146.92" y="393.64" width="6.72" height="6.72" fill="#6d1dff"/>
<rect x="153.24" y="393.64" width="6.72" height="6.72" fill="#6d1dff"/>
<rect x="159.56" y="393.64" width="6.72" height="6.72" fill="#652afe"/>
<rect x="165.88" y="393.64" width="6.72" height="6.72" fill="#5f32fe"/>
<rect x="45.8" y="399.96" width="6.72" height="6.72" fill="#376ef9"/>
<rect x="52.12" y="399.96" width="6.72" height="6.72" fill="#149df1"/>
<rect x="58.44" y="399.96" width="6.72" height="6.72" fill="#573ffd"/>
<rect x="64.76" y="399.96" width="6.72" height="6.72" fill="#573ffd"/>
<rect x="71.08" y="399.96" width="6.72" height="6.72" fill="#228bf4"/>
<rect x="77.4" y="399.96" width="6.72" height="6.72" fill="#573ffd"/>
<rect x="83.72" y="399.96" width="6.72" height="6.72" fill="#652afe"/>
<rect x="90.04" y="399.96" width="6.72" height="6.72" fill="#770dff"/>
<rect x="96.36" y="399.96" width="6.72" height="6.72" fill="#7a08ff"/>
<rect x="102.68" y="399.96" width="6.72" height="6.72" fill="#7a08ff"/>
<rect x="109" y="399.96" width="6.72" height="6.72" fill="#7a08ff"/>
<rect x="115.32" y="399.96" width="6.72" height="6.72" fill="#7a08ff"/>
<rect x="121.64" y="399.96" width="6.72" height="6.72" fill="#770dff"/>
<rect x="127.96" y="399.96" width="6.72" height="6.72" fill="#770dff"/>
<rect x="134.28" y="399.96" width="6.72" height="6.72" fill="#770dff"/>
<rect x="140.6" y="399.96" width="6.72" height="6.72" fill="#6d1dff"/>
<rect x="146.92" y="399.96" width="6.72" height="6.72" fill="#652afe"/>
<rect x="153.24" y="399.96" width="6.72" height="6.72" fill="#7215ff"/>
<rect x="159.56" y="399.96" width="6.72" height="6.72" fill="#6d1dff"/>
<rect x="165.88" y="399.96" width="6.72" height="6.72" fill="#652afe"/>
<rect x="45.8" y="406.28" width="6.72" height="6.72" fill="#07adee"/>
<rect x="52.12" y="406.28" width="6.72" height="6.72" fill="#376ef9"/>
<rect x="58.44" y="406.28" width="6.72" height="6.72" fill="#573ffd"/>
<rect x="64.76" y="406.28" width="6.72" height="6.72" fill="#573ffd"/>
<rect x="71.08" y="406.28" width="6.72" height="6.72" fill="#228bf4"/>
<rect x="77.4" y="406.28" width="6.72" height="6.72" fill="#573ffd"/>
<rect x="83.72" y="406.28" width="6.72" height="6.72" fill="#652afe"/>
<rect x="90.04" y="406.28" width="6.72" height="6.72" fill="#770dff"/>
<rect x="96.36" y="406.28" width="6.72" height="6.72" fill="#7a08ff"/>
<rect x="102.68" y="406.28" width="6.72" height="6.72" fill="#7a08ff"/>
<rect x="109" y="406.28" width="6.72" height="6.72" fill="#7a08ff"/>
<rect x="115.32" y="406.28" width="6.72" height="6.72" fill="#7a08ff"/>
<rect x="121.64" y="406.28" width="6.72" height="6.72" fill="#770dff"/>
<rect x="127.96" y="406.28" width="6.72" height="6.72" fill="#770dff"/>
<rect x="134.28" y="406.28" width="6.72" height="6.72" fill="#770dff"/>
<rect x="140.6" y="406.28" width="6.72" height="6.72" fill="#7215ff"/>
<rect x="146.92" y="406.28" width="6.72" height="6.72" fill="#7215ff"/>
<rect x="153.24" y="406.28" width="6.72" height="6.72" fill="#7215ff"/>
<rect x="159.56" y="406.28" width="6.72" height="6.72" fill="#652afe"/>
<rect x="165.88" y="406.28" width="6.72" height="6.72" fill="#5f32fe"/>
<rect x="45.8" y="412.6" width="6.72" height="6.72" fill="#228bf4"/>
<rect x="52.12" y="412.6" width="6.72" height="6.72" fill="#376ef9"/>
<rect x="58.44" y="412.6" width="6.72" height="6.72" fill="#573ffd"/>
<rect x="64.76" y="412.6" width="6.72" height="6.72" fill="#573ffd"/>
<rect x="71.08" y="412.6" width="6.72" height="6.72" fill="#376ef9"/>
<rect x="77.4" y="412.6" width="6.72" height="6.72" fill="#573ffd"/>
<rect x="83.72" y="412.6" width="6.72" height="6.72" fill="#652afe"/>
<rect x="90.04" y="412.6" width="6.72" height="6.72" fill="#7a08ff"/>
<rect x="96.36" y="412.6" width="6.72" height="6.72" fill="#7a08ff"/>
<rect x="102.68" y="412.6" width="6.72" height="6.72" fill="#7a08ff"/>
<rect x="109" y="412.6" width="6.72" height="6.72" fill="#7a08ff"/>
<rect x="115.32" y="412.6" width="6.72" height="6.72" fill="#7a08ff"/>
<rect x="121.64" y="412.6" width="6.72" height="6.72" fill="#7a08ff"/>
<rect x="127.96" y="412.6" width="6.72" height="6.72" fill="#7a08ff"/>
<rect x="134.28" y="412.6" width="6.72" height="6.72" fill="#7a08ff"/>
<rect x="140.6" y="412.6" width="6.72" height="6.72" fill="#7215ff"/>
<rect x="146.92" y="412.6" width="6.72" height="6.72" fill="#7215ff"/>
<rect x="153.24" y="412.6" width="6.72" height="6.72" fill="#6d1dff"/>
<rect x="159.56" y="412.6" width="6.72" height="6.72" fill="#652afe"/>
<rect x="165.88" y="412.6" width="6.72" height="6.72" fill="#652afe"/>
<rect x="45.8" y="418.92" width="6.72" height="6.72" fill="#376ef9"/>
<rect x="52.12" y="418.92" width="6.72" height="6.72" fill="#228bf4"/>
<rect x="58.44" y="418.92" width="6.72" height="6.72" fill="#3c66fa"/>
<rect x="64.76" y="418.92" width="6.72" height="6.72" fill="#3c66fa"/>
<rect x="71.08" y="418.92" width="6.72" height="6.72" fill="#3c66fa"/>
<rect x="77.4" y="418.92" width="6.72" height="6.72" fill="#4a53fc"/>
<rect x="83.72" y="418.92" width="6.72" height="6.72" fill="#5f32fe"/>
<rect x="90.04" y="418.92" width="6.72" height="6.72" fill="#770dff"/>
<rect x="96.36" y="418.92" width="6.72" height="6.72" fill="#770dff"/>
<rect x="102.68" y="418.92" width="6.72" height="6.72" fill="#7a08ff"/>
<rect x="109" y="418.92" width="6.72" height="6.72" fill="#7a08ff"/>
<rect x="115.32" y="418.92" width="6.72" height="6.72" fill="#7a08ff"/>
<rect x="121.64" y="418.92" width="6.72" height="6.72" fill="#7a08ff"/>
<rect x="127.96" y="418.92" width="6.72" height="6.72" fill="#7a08ff"/>
<rect x="134.28" y="418.92" width="6.72" height="6.72" fill="#7a08ff"/>
<rect x="140.6" y="418.92" width="6.72" height="6.72" fill="#7215ff"/>
<rect x="146.92" y="418.92" width="6.72" height="6.72" fill="#7215ff"/>
<rect x="153.24" y="418.92" width="6.72" height="6.72" fill="#6d1dff"/>
<rect x="159.56" y="418.92" width="6.72" height="6.72" fill="#652afe"/>
<rect x="165.88" y="418.92" width="6.72" height="6.72" fill="#573ffd"/>
<rect x="45.8" y="425.24" width="6.72" height="6.72" fill="#573ffd"/>
<rect x="52.12" y="425.24" width="6.72" height="6.72" fill="#376ef9"/>
<rect x="58.44" y="425.24" width="6.72" height="6.72" fill="#2f79f7"/>
<rect x="64.76" y="425.24" width="6.72" height="6.72" fill="#3c66fa"/>
<rect x="71.08" y="425.24" width="6.72" height="6.72" fill="#3c66fa"/>
<rect x="77.4" y="425.24" width="6.72" height="6.72" fill="#573ffd"/>
<rect x="83.72" y="425.24" width="6.72" height="6.72" fill="#573ffd"/>
<rect x="90.04" y="425.24" width="6.72" height="6.72" fill="#6d1dff"/>
<rect x="96.36" y="425.24" width="6.72" height="6.72" fill="#652afe"/>
<rect x="102.68" y="425.24" width="6.72" height="6.72" fill="#770dff"/>
<rect x="109" y="425.24" width="6.72" height="6.72" fill="#7a08ff"/>
<rect x="115.32" y="425.24" width="6.72" height="6.72" fill="#770dff"/>
<rect x="121.64" y="425.24" width="6.72" height="6.72" fill="#770dff"/>
<rect x="127.96" y="425.24" width="6.72" height="6.72" fill="#7a08ff"/>
<rect x="134.28" y="425.24" width="6.72" height="6.72" fill="#7a08ff"/>
<rect x="140.6" y="425.24" width="6.72" height="6.72" fill="#652afe"/>
<rect x="146.92" y="425.24" width="6.72" height="6.72" fill="#652afe"/>
<rect x="153.24" y="425.24" width="6.72" height="6.72" fill="#652afe"/>
<rect x="159.56" y="425.24" width="6.72" height="6.72" fill="#5f32fe"/>
<rect x="165.88" y="425.24" width="6.72" height="6.72" fill="#4a53fc"/>
<rect x="45.8" y="431.56" width="6.72" height="6.72" fill="#7215ff"/>
<rect x="52.12" y="431.56" width="6.72" height="6.72" fill="#3c66fa"/>
<rect x="58.44" y="431.56" width="6.72" height="6.72" fill="#4a53fc"/>
<rect x="64.76" y="431.56" width="6.72" height="6.72" fill="#2f79f7"/>
<rect x="71.08" y="431.56" width="6.72" height="6.72" fill="#4a53fc"/>
<rect x="77.4" y="431.56" width="6.72" height="6.72" fill="#4a53fc"/>
<rect x="83.72" y="431.56" width="6.72" height="6.72" fill="#652afe"/>
<rect x="90.04" y="431.56" width="6.72" height="6.72" fill="#7a08ff"/>
<rect x="96.36" y="431.56" width="6.72" height="6.72" fill="#7a08ff"/>
<rect x="102.68" y="431.56" width="6.72" height="6.72" fill="#7a08ff"/>
<rect x="109" y="431.56" width="6.72" height="6.72" fill="#7a08ff"/>
<rect x="115.32" y="431.56" width="6.72" height="6.72" fill="#7a08ff"/>
<rect x="121.64" y="431.56" width="6.72" height="6.72" fill="#6d1dff"/>
<rect x="127.96" y="431.56" width="6.72" height="6.72" fill="#7215ff"/>
<rect x="134.28" y="431.56" width="6.72" height="6.72" fill="#7215ff"/>
<rect x="140.6" y="431.56" width="6.72" height="6.72" fill="#6d1dff"/>
<rect x="146.92" y="431.56" width="6.72" height="6.72" fill="#652afe"/>
<rect x="153.24" y="431.56" width="6.72" height="6.72" fill="#573ffd"/>
<rect x="159.56" y="431.56" width="6.72" height="6.72" fill="#228bf4"/>
<rect x="165.88" y="431.56" width="6.72" height="6.72" fill="#3c66fa"/>
<rect x="45.8" y="437.88" width="6.72" height="6.72" fill="#573ffd"/>
<rect x="52.12" y="437.88" width="6.72" height="6.72" fill="#4a53fc"/>
<rect x="58.44" y="437.88" width="6.72" height="6.72" fill="#2f79f7"/>
<rect x="64.76" y="437.88" width="6.72" height="6.72" fill="#2f79f7"/>
<rect x="71.08" y="437.88" width="6.72" height="6.72" fill="#2f79f7"/>
<rect x="77.4" y="437.88" width="6.72" height="6.72" fill="#4a53fc"/>
<rect x="83.72" y="437.88" width="6.72" height="6.72" fill="#652afe"/>
<rect x="90.04" y="437.88" width="6.72" height="6.72" fill="#7a08ff"/>
<rect x="96.36" y="437.88" width="6.72" height="6.72" fill="#7a08ff"/>
<rect x="102.68" y="437.88" width="6.72" height="6.72" fill="#7a08ff"/>
<rect x="109" y="437.88" width="6.72" height="6.72" fill="#770dff"/>
<rect x="115.32" y="437.88" width="6.72" height="6.72" fill="#770dff"/>
<rect x="121.64" y="437.88" width="6.72" height="6.72" fill="#652afe"/>
<rect x="127.96" y="437.88" width="6.72" height="6.72" fill="#6d1dff"/>
<rect x="134.28" y="437.88" width="6.72" height="6.72" fill="#7215ff"/>
<rect x="140.6" y="437.88" width="6.72" height="6.72" fill="#652afe"/>
<rect x="146.92" y="437.88" width="6.72" height="6.72" fill="#5f32fe"/>
<rect x="153.24" y="437.88" width="6.72" height="6.72" fill="#228bf4"/>
<rect x="159.56" y="437.88" width="6.72" height="6.72" fill="#72febc"/>
<rect x="165.88" y="437.88" width="6.72" height="6.72" fill="#149df1"/>
<rect x="45.8" y="444.2" width="6.72" height="6.72" fill="#4a53fc"/>
<rect x="52.12" y="444.2" width="6.72" height="6.72" fill="#573ffd"/>
<rect x="58.44" y="444.2" width="6.72" height="6.72" fill="#3c66fa"/>
<rect x="64.76" y="444.2" width="6.72" height="6.72" fill="#3c66fa"/>
<rect x="71.08" y="444.2" width="6.72" height="6.72" fill="#3c66fa"/>
<rect x="77.4" y="444.2" width="6.72" height="6.72" fill="#4a53fc"/>
<rect x="83.72" y="444.2" width="6.72" height="6.72" fill="#573ffd"/>
<rect x="90.04" y="444.2" width="6.72" height="6.72" fill="#573ffd"/>
<rect x="96.36" y="444.2" width="6.72" height="6.72" fill="#573ffd"/>
<rect x="102.68" y="444.2" width="6.72" height="6.72" fill="#7215ff"/>
<rect x="109" y="444.2" width="6.72" height="6.72" fill="#6d1dff"/>
<rect x="115.32" y="444.2" width="6.72" height="6.72" fill="#6d1dff"/>
<rect x="121.64" y="444.2" width="6.72" height="6.72" fill="#6d1dff"/>
<rect x="127.96" y="444.2" width="6.72" height="6.72" fill="#7215ff"/>
<rect x="134.28" y="444.2" width="6.72" height="6.72" fill="#770dff"/>
<rect x="140.6" y="444.2" width="6.72" height="6.72" fill="#652afe"/>
<rect x="146.92" y="444.2" width="6.72" height="6.72" fill="#5f32fe"/>
<rect x="153.24" y="444.2" width="6.72" height="6.72" fill="#14c9e5"/>
<rect x="159.56" y="444.2" width="6.72" height="6.72" fill="#ff964f"/>
<rect x="165.88" y="444.2" width="6.72" height="6.72" fill="#07bcea"/>
<rect x="45.8" y="450.52" width="6.72" height="6.72" fill="#2f79f7"/>
<rect x="52.12" y="450.52" width="6.72" height="6.72" fill="#573ffd"/>
<rect x="58.44" y="450.52" width="6.72" height="6.72" fill="#4a53fc"/>
<rect x="64.76" y="450.52" width="6.72" height="6.72" fill="#573ffd"/>
<rect x="71.08" y="450.52" width="6.72" height="6.72" fill="#652afe"/>
<rect x="77.4" y="450.52" width="6.72" height="6.72" fill="#573ffd"/>
<rect x="83.72" y="450.52" width="6.72" height="6.72" fill="#5f32fe"/>
<rect x="90.04" y="450.52" width="6.72" height="6.72" fill="#573ffd"/>
<rect x="96.36" y="450.52" width="6.72" height="6.72" fill="#573ffd"/>
<rect x="102.68" y="450.52" width="6.72" height="6.72" fill="#573ffd"/>
<rect x="109" y="450.52" width="6.72" height="6.72" fill="#5f32fe"/>
<rect x="115.32" y="450.52" width="6.72" height="6.72" fill="#5f32fe"/>
<rect x="121.64" y="450.52" width="6.72" height="6.72" fill="#652afe"/>
<rect x="127.96" y="450.52" width="6.72" height="6.72" fill="#6d1dff"/>
<rect x="134.28" y="450.52" width="6.72" height="6.72" fill="#7215ff"/>
<rect x="140.6" y="450.52" width="6.72" height="6.72" fill="#5f32fe"/>
<rect x="146.92" y="450.52" width="6.72" height="6.72" fill="#5f32fe"/>
<rect x="153.24" y="450.52" width="6.72" height="6.72" fill="#14c9e5"/>
<rect x="159.56" y="450.52" width="6.72" height="6.72" fill="#ff6634"/>
<rect x="165.88" y="450.52" width="6.72" height="6.72" fill="#80ffb4"/>
<rect x="45.8" y="456.84" width="6.72" height="6.72" fill="#07bcea"/>
<rect x="52.12" y="456.84" width="6.72" height="6.72" fill="#2f79f7"/>
<rect x="58.44" y="456.84" width="6.72" height="6.72" fill="#573ffd"/>
<rect x="64.76" y="456.84" width="6.72" height="6.72" fill="#6d1dff"/>
<rect x="71.08" y="456.84" width="6.72" height="6.72" fill="#652afe"/>
<rect x="77.4" y="456.84" width="6.72" height="6.72" fill="#652afe"/>
<rect x="83.72" y="456.84" width="6.72" height="6.72" fill="#573ffd"/>
<rect x="90.04" y="456.84" width="6.72" height="6.72" fill="#5f32fe"/>
<rect x="96.36" y="456.84" width="6.72" height="6.72" fill="#3c66fa"/>
<rect x="102.68" y="456.84" width="6.72" height="6.72" fill="#3c66fa"/>
<rect x="109" y="456.84" width="6.72" height="6.72" fill="#4a53fc"/>
<rect x="115.32" y="456.84" width="6.72" height="6.72" fill="#2f79f7"/>
<rect x="121.64" y="456.84" width="6.72" height="6.72" fill="#4a53fc"/>
<rect x="127.96" y="456.84" width="6.72" height="6.72" fill="#5f32fe"/>
<rect x="134.28" y="456.84" width="6.72" height="6.72" fill="#652afe"/>
<rect x="140.6" y="456.84" width="6.72" height="6.72" fill="#652afe"/>
<rect x="146.92" y="456.84" width="6.72" height="6.72" fill="#5f32fe"/>
<rect x="153.24" y="456.84" width="6.72" height="6.72" fill="#14c9e5"/>
<rect x="159.56" y="456.84" width="6.72" height="6.72" fill="#ff8143"/>
<rect x="165.88" y="456.84" width="6.72" height="6.72" fill="#ff0000"/>
<rect x="45.8" y="463.16" width="6.72" height="6.72" fill="#22d5e0"/>
<rect x="52.12" y="463.16" width="6.72" height="6.72" fill="#2f79f7"/>
<rect x="58.44" y="463.16" width="6.72" height="6.72" fill="#4a53fc"/>
<rect x="64.76" y="463.16" width="6.72" height="6.72" fill="#6d1dff"/>
<rect x="71.08" y="463.16" width="6.72" height="6.72" fill="#6d1dff"/>
<rect x="77.4" y="463.16" width="6.72" height="6.72" fill="#5f32fe"/>
<rect x="83.72" y="463.16" width="6.72" height="6.72" fill="#3c66fa"/>
<rect x="90.04" y="463.16" width="6.72" height="6.72" fill="#0ca6ef"/>
<rect x="96.36" y="463.16" width="6.72" height="6.72" fill="#4a53fc"/>
<rect x="102.68" y="463.16" width="6.72" height="6.72" fill="#4a53fc"/>
<rect x="109" y="463.16" width="6.72" height="6.72" fill="#5f32fe"/>
<rect x="115.32" y="463.16" width="6.72" height="6.72" fill="#4a53fc"/>
<rect x="121.64" y="463.16" width="6.72" height="6.72" fill="#4a53fc"/>
<rect x="127.96" y="463.16" width="6.72" height="6.72" fill="#5f32fe"/>
<rect x="134.28" y="463.16" width="6.72" height="6.72" fill="#573ffd"/>
<rect x="140.6" y="463.16" width="6.72" height="6.72" fill="#3c66fa"/>
<rect x="146.92" y="463.16" width="6.72" height="6.72" fill="#3c66fa"/>
<rect x="153.24" y="463.16" width="6.72" height="6.72" fill="#14c9e5"/>
<rect x="159.56" y="463.16" width="6.72" height="6.72" fill="#ffad5d"/>
<rect x="165.88" y="463.16" width="6.72" height="6.72" fill="#ddd579"/>
<rect x="45.8" y="469.48" width="6.72" height="6.72" fill="#07bcea"/>
<rect x="52.12" y="469.48" width="6.72" height="6.72" fill="#228bf4"/>
<rect x="58.44" y="469.48" width="6.72" height="6.72" fill="#0ca6ef"/>
<rect x="64.76" y="469.48" width="6.72" height="6.72" fill="#3c66fa"/>
<rect x="71.08" y="469.48" width="6.72" height="6.72" fill="#2f79f7"/>
<rect x="77.4" y="469.48" width="6.72" height="6.72" fill="#07bcea"/>
<rect x="83.72" y="469.48" width="6.72" height="6.72" fill="#1cd1e2"/>
<rect x="90.04" y="469.48" width="6.72" height="6.72" fill="#6dfdbe"/>
<rect x="96.36" y="469.48" width="6.72" height="6.72" fill="#6dfdbe"/>
<rect x="102.68" y="469.48" width="6.72" height="6.72" fill="#14c9e5"/>
<rect x="109" y="469.48" width="6.72" height="6.72" fill="#01b6eb"/>
<rect x="115.32" y="469.48" width="6.72" height="6.72" fill="#228bf4"/>
<rect x="121.64" y="469.48" width="6.72" height="6.72" fill="#376ef9"/>
<rect x="127.96" y="469.48" width="6.72" height="6.72" fill="#3c66fa"/>
<rect x="134.28" y="469.48" width="6.72" height="6.72" fill="#2f79f7"/>
<rect x="140.6" y="469.48" width="6.72" height="6.72" fill="#01b6eb"/>
<rect x="146.92" y="469.48" width="6.72" height="6.72" fill="#22d5e0"/>
<rect x="153.24" y="469.48" width="6.72" height="6.72" fill="#65fcc3"/>
<rect x="159.56" y="469.48" width="6.72" height="6.72" fill="#57f7c9"/>
<rect x="165.88" y="469.48" width="6.72" height="6.72" fill="#80ffb4"/>
</g>
<rect x="45.8" y="349.4" width="126.4" height="126.4" fill="none" stroke="#333" stroke-width="0.8"/>
<g stroke="#333" stroke-width="0.8">
<line x1="42.3" y1="349.4" x2="45.8" y2="349.4"/>
<line x1="45.8" y1="475.8" x2="45.8" y2="479.3"/>
<line x1="42.3" y1="381" x2="45.8" y2="381"/>
<line x1="77.4" y1="475.8" x2="77.4" y2="479.3"/>
<line x1="42.3" y1="412.6" x2="45.8" y2="412.6"/>
<line x1="109" y1="475.8" x2="109" y2="479.3"/>
<line x1="42.3" y1="444.2" x2="45.8" y2="444.2"/>
<line x1="140.6" y1="475.8" x2="140.6" y2="479.3"/>
<line x1="42.3" y1="475.8" x2="45.8" y2="475.8"/>
<line x1="172.2" y1="475.8" x2="172.2" y2="479.3"/>
</g>
<g font-family="Liberation Sans" font-size="11.8" fill="#222" text-anchor="end">
<text x="40.8" y="353.4">0</text>
<text x="40.8" y="385">90</text>
<text x="40.8" y="416.6">180</text>
<text x="40.8" y="448.2">270</text>
<text x="40.8" y="479.8">360</text>
</g>
<g font-family="Liberation Sans" font-size="11.8" fill="#222" text-anchor="middle">
<text x="45.8" y="488.7">0</text>
<text x="77.4" y="488.7">45</text>
<text x="109" y="488.7">90</text>
<text x="140.6" y="488.7">135</text>
<text x="172.2" y="488.7">180</text>
</g>
<text x="90.5" y="342.5" font-family="Liberation Sans" font-size="12.6" fill="#111" stroke="#111" stroke-width="0.3" textLength="33.7" lengthAdjust="spacingAndGlyphs"><tspan font-style="italic">p</tspan>(C,C)</text>
<text x="102.0" y="511.2" font-family="Liberation Sans" font-size="12.5" fill="#111">θ(°)</text>
<g shape-rendering="crispEdges">
<rect x="213.4" y="349.4" width="6.72" height="6.72" fill="#a8f79d"/>
<rect x="219.72" y="349.4" width="6.72" height="6.72" fill="#6afdc0"/>
<rect x="226.04" y="349.4" width="6.72" height="6.72" fill="#6afdc0"/>
<rect x="232.36" y="349.4" width="6.72" height="6.72" fill="#6afdc0"/>
<rect x="238.68" y="349.4" width="6.72" height="6.72" fill="#6afdc0"/>
<rect x="245" y="349.4" width="6.72" height="6.72" fill="#2fe0db"/>
<rect x="251.32" y="349.4" width="6.72" height="6.72" fill="#ddd579"/>
<rect x="257.64" y="349.4" width="6.72" height="6.72" fill="#27dade"/>
<rect x="263.96" y="349.4" width="6.72" height="6.72" fill="#5df9c7"/>
<rect x="270.28" y="349.4" width="6.72" height="6.72" fill="#3cead5"/>
<rect x="276.6" y="349.4" width="6.72" height="6.72" fill="#5ffac5"/>
<rect x="282.92" y="349.4" width="6.72" height="6.72" fill="#7affb7"/>
<rect x="289.24" y="349.4" width="6.72" height="6.72" fill="#d8da7d"/>
<rect x="295.56" y="349.4" width="6.72" height="6.72" fill="#5ffac5"/>
<rect x="301.88" y="349.4" width="6.72" height="6.72" fill="#01b3ec"/>
<rect x="308.2" y="349.4" width="6.72" height="6.72" fill="#6afdc0"/>
<rect x="314.52" y="349.4" width="6.72" height="6.72" fill="#9afca5"/>
<rect x="320.84" y="349.4" width="6.72" height="6.72" fill="#7affb7"/>
<rect x="327.16" y="349.4" width="6.72" height="6.72" fill="#65fcc3"/>
<rect x="333.48" y="349.4" width="6.72" height="6.72" fill="#65fcc3"/>
<rect x="213.4" y="355.72" width="6.72" height="6.72" fill="#65fcc3"/>
<rect x="219.72" y="355.72" width="6.72" height="6.72" fill="#57f7c9"/>
<rect x="226.04" y="355.72" width="6.72" height="6.72" fill="#57f7c9"/>
<rect x="232.36" y="355.72" width="6.72" height="6.72" fill="#57f7c9"/>
<rect x="238.68" y="355.72" width="6.72" height="6.72" fill="#57f7c9"/>
<rect x="245" y="355.72" width="6.72" height="6.72" fill="#57f7c9"/>
<rect x="251.32" y="355.72" width="6.72" height="6.72" fill="#42edd3"/>
<rect x="257.64" y="355.72" width="6.72" height="6.72" fill="#42edd3"/>
<rect x="263.96" y="355.72" width="6.72" height="6.72" fill="#42edd3"/>
<rect x="270.28" y="355.72" width="6.72" height="6.72" fill="#57f7c9"/>
<rect x="276.6" y="355.72" width="6.72" height="6.72" fill="#5ffac5"/>
<rect x="282.92" y="355.72" width="6.72" height="6.72" fill="#72febc"/>
<rect x="289.24" y="355.72" width="6.72" height="6.72" fill="#72febc"/>
<rect x="295.56" y="355.72" width="6.72" height="6.72" fill="#65fcc3"/>
<rect x="301.88" y="355.72" width="6.72" height="6.72" fill="#a8f79d"/>
<rect x="308.2" y="355.72" width="6.72" height="6.72" fill="#72febc"/>
<rect x="314.52" y="355.72" width="6.72" height="6.72" fill="#9afca5"/>
<rect x="320.84" y="355.72" width="6.72" height="6.72" fill="#72febc"/>
<rect x="327.16" y="355.72" width="6.72" height="6.72" fill="#6afdc0"/>
<rect x="333.48" y="355.72" width="6.72" height="6.72" fill="#65fcc3"/>
<rect x="213.4" y="362.04" width="6.72" height="6.72" fill="#57f7c9"/>
<rect x="219.72" y="362.04" width="6.72" height="6.72" fill="#6afdc0"/>
<rect x="226.04" y="362.04" width="6.72" height="6.72" fill="#65fcc3"/>
<rect x="232.36" y="362.04" width="6.72" height="6.72" fill="#6afdc0"/>
<rect x="238.68" y="362.04" width="6.72" height="6.72" fill="#6afdc0"/>
<rect x="245" y="362.04" width="6.72" height="6.72" fill="#27dade"/>
<rect x="251.32" y="362.04" width="6.72" height="6.72" fill="#65fcc3"/>
<rect x="257.64" y="362.04" width="6.72" height="6.72" fill="#72febc"/>
<rect x="263.96" y="362.04" width="6.72" height="6.72" fill="#b5f194"/>
<rect x="270.28" y="362.04" width="6.72" height="6.72" fill="#80ffb4"/>
<rect x="276.6" y="362.04" width="6.72" height="6.72" fill="#65fcc3"/>
<rect x="282.92" y="362.04" width="6.72" height="6.72" fill="#65fcc3"/>
<rect x="289.24" y="362.04" width="6.72" height="6.72" fill="#9afca5"/>
<rect x="295.56" y="362.04" width="6.72" height="6.72" fill="#72febc"/>
<rect x="301.88" y="362.04" width="6.72" height="6.72" fill="#72febc"/>
<rect x="308.2" y="362.04" width="6.72" height="6.72" fill="#72febc"/>
<rect x="314.52" y="362.04" width="6.72" height="6.72" fill="#72febc"/>
<rect x="320.84" y="362.04" width="6.72" height="6.72" fill="#65fcc3"/>
<rect x="327.16" y="362.04" width="6.72" height="6.72" fill="#57f7c9"/>
<rect x="333.48" y="362.04" width="6.72" height="6.72" fill="#4af1d0"/>
<rect x="213.4" y="368.36" width="6.72" height="6.72" fill="#07adee"/>
<rect x="219.72" y="368.36" width="6.72" height="6.72" fill="#37e6d8"/>
<rect x="226.04" y="368.36" width="6.72" height="6.72" fill="#57f7c9"/>
<rect x="232.36" y="368.36" width="6.72" height="6.72" fill="#57f7c9"/>
<rect x="238.68" y="368.36" width="6.72" height="6.72" fill="#4af1d0"/>
<rect x="245" y="368.36" width="6.72" height="6.72" fill="#42edd3"/>
<rect x="251.32" y="368.36" width="6.72" height="6.72" fill="#4af1d0"/>
<rect x="257.64" y="368.36" width="6.72" height="6.72" fill="#6afdc0"/>
<rect x="263.96" y="368.36" width="6.72" height="6.72" fill="#80ffb4"/>
<rect x="270.28" y="368.36" width="6.72" height="6.72" fill="#a8f79d"/>
<rect x="276.6" y="368.36" width="6.72" height="6.72" fill="#ddd579"/>
<rect x="282.92" y="368.36" width="6.72" height="6.72" fill="#a8f79d"/>
<rect x="289.24" y="368.36" width="6.72" height="6.72" fill="#9afca5"/>
<rect x="295.56" y="368.36" width="6.72" height="6.72" fill="#72febc"/>
<rect x="301.88" y="368.36" width="6.72" height="6.72" fill="#ddd579"/>
<rect x="308.2" y="368.36" width="6.72" height="6.72" fill="#65fcc3"/>
<rect x="314.52" y="368.36" width="6.72" height="6.72" fill="#57f7c9"/>
<rect x="320.84" y="368.36" width="6.72" height="6.72" fill="#4af1d0"/>
<rect x="327.16" y="368.36" width="6.72" height="6.72" fill="#27dade"/>
<rect x="333.48" y="368.36" width="6.72" height="6.72" fill="#01b6eb"/>
<rect x="213.4" y="374.68" width="6.72" height="6.72" fill="#0fc4e7"/>
<rect x="219.72" y="374.68" width="6.72" height="6.72" fill="#01b6eb"/>
<rect x="226.04" y="374.68" width="6.72" height="6.72" fill="#0fc4e7"/>
<rect x="232.36" y="374.68" width="6.72" height="6.72" fill="#07bcea"/>
<rect x="238.68" y="374.68" width="6.72" height="6.72" fill="#42edd3"/>
<rect x="245" y="374.68" width="6.72" height="6.72" fill="#57f7c9"/>
<rect x="251.32" y="374.68" width="6.72" height="6.72" fill="#6afdc0"/>
<rect x="257.64" y="374.68" width="6.72" height="6.72" fill="#80ffb4"/>
<rect x="263.96" y="374.68" width="6.72" height="6.72" fill="#80ffb4"/>
<rect x="270.28" y="374.68" width="6.72" height="6.72" fill="#4ff4cd"/>
<rect x="276.6" y="374.68" width="6.72" height="6.72" fill="#ffa357"/>
<rect x="282.92" y="374.68" width="6.72" height="6.72" fill="#72febc"/>
<rect x="289.24" y="374.68" width="6.72" height="6.72" fill="#7affb7"/>
<rect x="295.56" y="374.68" width="6.72" height="6.72" fill="#ddd579"/>
<rect x="301.88" y="374.68" width="6.72" height="6.72" fill="#ddd579"/>
<rect x="308.2" y="374.68" width="6.72" height="6.72" fill="#57f7c9"/>
<rect x="314.52" y="374.68" width="6.72" height="6.72" fill="#57f7c9"/>
<rect x="320.84" y="374.68" width="6.72" height="6.72" fill="#4af1d0"/>
<rect x="327.16" y="374.68" width="6.72" height="6.72" fill="#2fe0db"/>
<rect x="333.48" y="374.68" width="6.72" height="6.72" fill="#1a96f3"/>
<rect x="213.4" y="381" width="6.72" height="6.72" fill="#19cee3"/>
<rect x="219.72" y="381" width="6.72" height="6.72" fill="#07bcea"/>
<rect x="226.04" y="381" width="6.72" height="6.72" fill="#07adee"/>
<rect x="232.36" y="381" width="6.72" height="6.72" fill="#2a81f6"/>
<rect x="238.68" y="381" width="6.72" height="6.72" fill="#6afdc0"/>
<rect x="245" y="381" width="6.72" height="6.72" fill="#14c9e5"/>
<rect x="251.32" y="381" width="6.72" height="6.72" fill="#0fc4e7"/>
<rect x="257.64" y="381" width="6.72" height="6.72" fill="#3cead5"/>
<rect x="263.96" y="381" width="6.72" height="6.72" fill="#72febc"/>
<rect x="270.28" y="381" width="6.72" height="6.72" fill="#ffa357"/>
<rect x="276.6" y="381" width="6.72" height="6.72" fill="#ff150b"/>
<rect x="282.92" y="381" width="6.72" height="6.72" fill="#ff793f"/>
<rect x="289.24" y="381" width="6.72" height="6.72" fill="#ff9d53"/>
<rect x="295.56" y="381" width="6.72" height="6.72" fill="#ff150b"/>
<rect x="301.88" y="381" width="6.72" height="6.72" fill="#ff532a"/>
<rect x="308.2" y="381" width="6.72" height="6.72" fill="#57f7c9"/>
<rect x="314.52" y="381" width="6.72" height="6.72" fill="#57f7c9"/>
<rect x="320.84" y="381" width="6.72" height="6.72" fill="#37e6d8"/>
<rect x="327.16" y="381" width="6.72" height="6.72" fill="#3cead5"/>
<rect x="333.48" y="381" width="6.72" height="6.72" fill="#1a96f3"/>
<rect x="213.4" y="387.32" width="6.72" height="6.72" fill="#57f7c9"/>
<rect x="219.72" y="387.32" width="6.72" height="6.72" fill="#65fcc3"/>
<rect x="226.04" y="387.32" width="6.72" height="6.72" fill="#22d5e0"/>
<rect x="232.36" y="387.32" width="6.72" height="6.72" fill="#07adee"/>
<rect x="238.68" y="387.32" width="6.72" height="6.72" fill="#42edd3"/>
<rect x="245" y="387.32" width="6.72" height="6.72" fill="#2fe0db"/>
<rect x="251.32" y="387.32" width="6.72" height="6.72" fill="#2f79f7"/>
<rect x="257.64" y="387.32" width="6.72" height="6.72" fill="#42edd3"/>
<rect x="263.96" y="387.32" width="6.72" height="6.72" fill="#ffa357"/>
<rect x="270.28" y="387.32" width="6.72" height="6.72" fill="#ff0000"/>
<rect x="276.6" y="387.32" width="6.72" height="6.72" fill="#ff0000"/>
<rect x="282.92" y="387.32" width="6.72" height="6.72" fill="#ff0804"/>
<rect x="289.24" y="387.32" width="6.72" height="6.72" fill="#ff9d53"/>
<rect x="295.56" y="387.32" width="6.72" height="6.72" fill="#ff9d53"/>
<rect x="301.88" y="387.32" width="6.72" height="6.72" fill="#ff9d53"/>
<rect x="308.2" y="387.32" width="6.72" height="6.72" fill="#72febc"/>
<rect x="314.52" y="387.32" width="6.72" height="6.72" fill="#57f7c9"/>
<rect x="320.84" y="387.32" width="6.72" height="6.72" fill="#4af1d0"/>
<rect x="327.16" y="387.32" width="6.72" height="6.72" fill="#3cead5"/>
<rect x="333.48" y="387.32" width="6.72" height="6.72" fill="#07adee"/>
<rect x="213.4" y="393.64" width="6.72" height="6.72" fill="#57f7c9"/>
<rect x="219.72" y="393.64" width="6.72" height="6.72" fill="#0fc4e7"/>
<rect x="226.04" y="393.64" width="6.72" height="6.72" fill="#14c9e5"/>
<rect x="232.36" y="393.64" width="6.72" height="6.72" fill="#01b6eb"/>
<rect x="238.68" y="393.64" width="6.72" height="6.72" fill="#14c9e5"/>
<rect x="245" y="393.64" width="6.72" height="6.72" fill="#22d5e0"/>
<rect x="251.32" y="393.64" width="6.72" height="6.72" fill="#0fa3f0"/>
<rect x="257.64" y="393.64" width="6.72" height="6.72" fill="#c3ea8b"/>
<rect x="263.96" y="393.64" width="6.72" height="6.72" fill="#ffa357"/>
<rect x="270.28" y="393.64" width="6.72" height="6.72" fill="#ebc970"/>
<rect x="276.6" y="393.64" width="6.72" height="6.72" fill="#ff0000"/>
<rect x="282.92" y="393.64" width="6.72" height="6.72" fill="#ff0804"/>
<rect x="289.24" y="393.64" width="6.72" height="6.72" fill="#ff6634"/>
<rect x="295.56" y="393.64" width="6.72" height="6.72" fill="#ddd579"/>
<rect x="301.88" y="393.64" width="6.72" height="6.72" fill="#d0e083"/>
<rect x="308.2" y="393.64" width="6.72" height="6.72" fill="#5ffac5"/>
<rect x="314.52" y="393.64" width="6.72" height="6.72" fill="#57f7c9"/>
<rect x="320.84" y="393.64" width="6.72" height="6.72" fill="#57f7c9"/>
<rect x="327.16" y="393.64" width="6.72" height="6.72" fill="#4af1d0"/>
<rect x="333.48" y="393.64" width="6.72" height="6.72" fill="#4af1d0"/>
<rect x="213.4" y="399.96" width="6.72" height="6.72" fill="#0fc4e7"/>
<rect x="219.72" y="399.96" width="6.72" height="6.72" fill="#0fa3f0"/>
<rect x="226.04" y="399.96" width="6.72" height="6.72" fill="#57f7c9"/>
<rect x="232.36" y="399.96" width="6.72" height="6.72" fill="#22d5e0"/>
<rect x="238.68" y="399.96" width="6.72" height="6.72" fill="#0fa3f0"/>
<rect x="245" y="399.96" width="6.72" height="6.72" fill="#2fe0db"/>
<rect x="251.32" y="399.96" width="6.72" height="6.72" fill="#77ffb9"/>
<rect x="257.64" y="399.96" width="6.72" height="6.72" fill="#ebc970"/>
<rect x="263.96" y="399.96" width="6.72" height="6.72" fill="#ff3f20"/>
<rect x="270.28" y="399.96" width="6.72" height="6.72" fill="#ebc970"/>
<rect x="276.6" y="399.96" width="6.72" height="6.72" fill="#ff3f20"/>
<rect x="282.92" y="399.96" width="6.72" height="6.72" fill="#ff0000"/>
<rect x="289.24" y="399.96" width="6.72" height="6.72" fill="#ff6634"/>
<rect x="295.56" y="399.96" width="6.72" height="6.72" fill="#d0e083"/>
<rect x="301.88" y="399.96" width="6.72" height="6.72" fill="#ddd579"/>
<rect x="308.2" y="399.96" width="6.72" height="6.72" fill="#72febc"/>
<rect x="314.52" y="399.96" width="6.72" height="6.72" fill="#57f7c9"/>
<rect x="320.84" y="399.96" width="6.72" height="6.72" fill="#57f7c9"/>
<rect x="327.16" y="399.96" width="6.72" height="6.72" fill="#57f7c9"/>
<rect x="333.48" y="399.96" width="6.72" height="6.72" fill="#4af1d0"/>
<rect x="213.4" y="406.28" width="6.72" height="6.72" fill="#07adee"/>
<rect x="219.72" y="406.28" width="6.72" height="6.72" fill="#14c9e5"/>
<rect x="226.04" y="406.28" width="6.72" height="6.72" fill="#57f7c9"/>
<rect x="232.36" y="406.28" width="6.72" height="6.72" fill="#57f7c9"/>
<rect x="238.68" y="406.28" width="6.72" height="6.72" fill="#07adee"/>
<rect x="245" y="406.28" width="6.72" height="6.72" fill="#2fe0db"/>
<rect x="251.32" y="406.28" width="6.72" height="6.72" fill="#57f7c9"/>
<rect x="257.64" y="406.28" width="6.72" height="6.72" fill="#ddd579"/>
<rect x="263.96" y="406.28" width="6.72" height="6.72" fill="#ddd579"/>
<rect x="270.28" y="406.28" width="6.72" height="6.72" fill="#c3ea8b"/>
<rect x="276.6" y="406.28" width="6.72" height="6.72" fill="#ebc970"/>
<rect x="282.92" y="406.28" width="6.72" height="6.72" fill="#ff2a15"/>
<rect x="289.24" y="406.28" width="6.72" height="6.72" fill="#ff2a15"/>
<rect x="295.56" y="406.28" width="6.72" height="6.72" fill="#ff2a15"/>
<rect x="301.88" y="406.28" width="6.72" height="6.72" fill="#ebc970"/>
<rect x="308.2" y="406.28" width="6.72" height="6.72" fill="#7affb7"/>
<rect x="314.52" y="406.28" width="6.72" height="6.72" fill="#65fcc3"/>
<rect x="320.84" y="406.28" width="6.72" height="6.72" fill="#57f7c9"/>
<rect x="327.16" y="406.28" width="6.72" height="6.72" fill="#57f7c9"/>
<rect x="333.48" y="406.28" width="6.72" height="6.72" fill="#57f7c9"/>
<rect x="213.4" y="412.6" width="6.72" height="6.72" fill="#0ca6ef"/>
<rect x="219.72" y="412.6" width="6.72" height="6.72" fill="#27dade"/>
<rect x="226.04" y="412.6" width="6.72" height="6.72" fill="#3cead5"/>
<rect x="232.36" y="412.6" width="6.72" height="6.72" fill="#3cead5"/>
<rect x="238.68" y="412.6" width="6.72" height="6.72" fill="#0cc1e8"/>
<rect x="245" y="412.6" width="6.72" height="6.72" fill="#3cead5"/>
<rect x="251.32" y="412.6" width="6.72" height="6.72" fill="#57f7c9"/>
<rect x="257.64" y="412.6" width="6.72" height="6.72" fill="#feb663"/>
<rect x="263.96" y="412.6" width="6.72" height="6.72" fill="#ffad5d"/>
<rect x="270.28" y="412.6" width="6.72" height="6.72" fill="#e6ce74"/>
<rect x="276.6" y="412.6" width="6.72" height="6.72" fill="#ff532a"/>
<rect x="282.92" y="412.6" width="6.72" height="6.72" fill="#ff0000"/>
<rect x="289.24" y="412.6" width="6.72" height="6.72" fill="#ff0000"/>
<rect x="295.56" y="412.6" width="6.72" height="6.72" fill="#ff0000"/>
<rect x="301.88" y="412.6" width="6.72" height="6.72" fill="#f3c16a"/>
<rect x="308.2" y="412.6" width="6.72" height="6.72" fill="#72febc"/>
<rect x="314.52" y="412.6" width="6.72" height="6.72" fill="#72febc"/>
<rect x="320.84" y="412.6" width="6.72" height="6.72" fill="#65fcc3"/>
<rect x="327.16" y="412.6" width="6.72" height="6.72" fill="#65fcc3"/>
<rect x="333.48" y="412.6" width="6.72" height="6.72" fill="#57f7c9"/>
<rect x="213.4" y="418.92" width="6.72" height="6.72" fill="#0fc4e7"/>
<rect x="219.72" y="418.92" width="6.72" height="6.72" fill="#0ca6ef"/>
<rect x="226.04" y="418.92" width="6.72" height="6.72" fill="#27dade"/>
<rect x="232.36" y="418.92" width="6.72" height="6.72" fill="#27dade"/>
<rect x="238.68" y="418.92" width="6.72" height="6.72" fill="#1cd1e2"/>
<rect x="245" y="418.92" width="6.72" height="6.72" fill="#2fe0db"/>
<rect x="251.32" y="418.92" width="6.72" height="6.72" fill="#57f7c9"/>
<rect x="257.64" y="418.92" width="6.72" height="6.72" fill="#9afca5"/>
<rect x="263.96" y="418.92" width="6.72" height="6.72" fill="#9afca5"/>
<rect x="270.28" y="418.92" width="6.72" height="6.72" fill="#ff9d53"/>
<rect x="276.6" y="418.92" width="6.72" height="6.72" fill="#ff0000"/>
<rect x="282.92" y="418.92" width="6.72" height="6.72" fill="#ff0000"/>
<rect x="289.24" y="418.92" width="6.72" height="6.72" fill="#ffa357"/>
<rect x="295.56" y="418.92" width="6.72" height="6.72" fill="#ff793f"/>
<rect x="301.88" y="418.92" width="6.72" height="6.72" fill="#c3ea8b"/>
<rect x="308.2" y="418.92" width="6.72" height="6.72" fill="#72febc"/>
<rect x="314.52" y="418.92" width="6.72" height="6.72" fill="#72febc"/>
<rect x="320.84" y="418.92" width="6.72" height="6.72" fill="#65fcc3"/>
<rect x="327.16" y="418.92" width="6.72" height="6.72" fill="#57f7c9"/>
<rect x="333.48" y="418.92" width="6.72" height="6.72" fill="#4af1d0"/>
<rect x="213.4" y="425.24" width="6.72" height="6.72" fill="#4af1d0"/>
<rect x="219.72" y="425.24" width="6.72" height="6.72" fill="#01b6eb"/>
<rect x="226.04" y="425.24" width="6.72" height="6.72" fill="#07adee"/>
<rect x="232.36" y="425.24" width="6.72" height="6.72" fill="#14c9e5"/>
<rect x="238.68" y="425.24" width="6.72" height="6.72" fill="#1cd1e2"/>
<rect x="245" y="425.24" width="6.72" height="6.72" fill="#4af1d0"/>
<rect x="251.32" y="425.24" width="6.72" height="6.72" fill="#4af1d0"/>
<rect x="257.64" y="425.24" width="6.72" height="6.72" fill="#72febc"/>
<rect x="263.96" y="425.24" width="6.72" height="6.72" fill="#5ffac5"/>
<rect x="270.28" y="425.24" width="6.72" height="6.72" fill="#f3c16a"/>
<rect x="276.6" y="425.24" width="6.72" height="6.72" fill="#ff0000"/>
<rect x="282.92" y="425.24" width="6.72" height="6.72" fill="#c3ea8b"/>
<rect x="289.24" y="425.24" width="6.72" height="6.72" fill="#ffad5d"/>
<rect x="295.56" y="425.24" width="6.72" height="6.72" fill="#ebc970"/>
<rect x="301.88" y="425.24" width="6.72" height="6.72" fill="#ebc970"/>
<rect x="308.2" y="425.24" width="6.72" height="6.72" fill="#4af1d0"/>
<rect x="314.52" y="425.24" width="6.72" height="6.72" fill="#4af1d0"/>
<rect x="320.84" y="425.24" width="6.72" height="6.72" fill="#57f7c9"/>
<rect x="327.16" y="425.24" width="6.72" height="6.72" fill="#4af1d0"/>
<rect x="333.48" y="425.24" width="6.72" height="6.72" fill="#2fe0db"/>
<rect x="213.4" y="431.56" width="6.72" height="6.72" fill="#6afdc0"/>
<rect x="219.72" y="431.56" width="6.72" height="6.72" fill="#22d5e0"/>
<rect x="226.04" y="431.56" width="6.72" height="6.72" fill="#22d5e0"/>
<rect x="232.36" y="431.56" width="6.72" height="6.72" fill="#07adee"/>
<rect x="238.68" y="431.56" width="6.72" height="6.72" fill="#2fe0db"/>
<rect x="245" y="431.56" width="6.72" height="6.72" fill="#22d5e0"/>
<rect x="251.32" y="431.56" width="6.72" height="6.72" fill="#4af1d0"/>
<rect x="257.64" y="431.56" width="6.72" height="6.72" fill="#c8e688"/>
<rect x="263.96" y="431.56" width="6.72" height="6.72" fill="#c8e688"/>
<rect x="270.28" y="431.56" width="6.72" height="6.72" fill="#ff0000"/>
<rect x="276.6" y="431.56" width="6.72" height="6.72" fill="#ff0000"/>
<rect x="282.92" y="431.56" width="6.72" height="6.72" fill="#ff0804"/>
<rect x="289.24" y="431.56" width="6.72" height="6.72" fill="#8dfead"/>
<rect x="295.56" y="431.56" width="6.72" height="6.72" fill="#e3d176"/>
<rect x="301.88" y="431.56" width="6.72" height="6.72" fill="#72febc"/>
<rect x="308.2" y="431.56" width="6.72" height="6.72" fill="#4af1d0"/>
<rect x="314.52" y="431.56" width="6.72" height="6.72" fill="#4af1d0"/>
<rect x="320.84" y="431.56" width="6.72" height="6.72" fill="#2fe0db"/>
<rect x="327.16" y="431.56" width="6.72" height="6.72" fill="#0ca6ef"/>
<rect x="333.48" y="431.56" width="6.72" height="6.72" fill="#14c9e5"/>
<rect x="213.4" y="437.88" width="6.72" height="6.72" fill="#3cead5"/>
<rect x="219.72" y="437.88" width="6.72" height="6.72" fill="#2fe0db"/>
<rect x="226.04" y="437.88" width="6.72" height="6.72" fill="#07adee"/>
<rect x="232.36" y="437.88" width="6.72" height="6.72" fill="#07adee"/>
<rect x="238.68" y="437.88" width="6.72" height="6.72" fill="#01b6eb"/>
<rect x="245" y="437.88" width="6.72" height="6.72" fill="#2fe0db"/>
<rect x="251.32" y="437.88" width="6.72" height="6.72" fill="#4af1d0"/>
<rect x="257.64" y="437.88" width="6.72" height="6.72" fill="#c8e688"/>
<rect x="263.96" y="437.88" width="6.72" height="6.72" fill="#c8e688"/>
<rect x="270.28" y="437.88" width="6.72" height="6.72" fill="#ff3f20"/>
<rect x="276.6" y="437.88" width="6.72" height="6.72" fill="#ff150b"/>
<rect x="282.92" y="437.88" width="6.72" height="6.72" fill="#f3c16a"/>
<rect x="289.24" y="437.88" width="6.72" height="6.72" fill="#65fcc3"/>
<rect x="295.56" y="437.88" width="6.72" height="6.72" fill="#72febc"/>
<rect x="301.88" y="437.88" width="6.72" height="6.72" fill="#a8f79d"/>
<rect x="308.2" y="437.88" width="6.72" height="6.72" fill="#72febc"/>
<rect x="314.52" y="437.88" width="6.72" height="6.72" fill="#4af1d0"/>
<rect x="320.84" y="437.88" width="6.72" height="6.72" fill="#0ca6ef"/>
<rect x="327.16" y="437.88" width="6.72" height="6.72" fill="#425ffa"/>
<rect x="333.48" y="437.88" width="6.72" height="6.72" fill="#0ca6ef"/>
<rect x="213.4" y="444.2" width="6.72" height="6.72" fill="#22d5e0"/>
<rect x="219.72" y="444.2" width="6.72" height="6.72" fill="#57f7c9"/>
<rect x="226.04" y="444.2" width="6.72" height="6.72" fill="#22d5e0"/>
<rect x="232.36" y="444.2" width="6.72" height="6.72" fill="#14c9e5"/>
<rect x="238.68" y="444.2" width="6.72" height="6.72" fill="#22d5e0"/>
<rect x="245" y="444.2" width="6.72" height="6.72" fill="#2fe0db"/>
<rect x="251.32" y="444.2" width="6.72" height="6.72" fill="#2fe0db"/>
<rect x="257.64" y="444.2" width="6.72" height="6.72" fill="#3cead5"/>
<rect x="263.96" y="444.2" width="6.72" height="6.72" fill="#4af1d0"/>
<rect x="270.28" y="444.2" width="6.72" height="6.72" fill="#9afca5"/>
<rect x="276.6" y="444.2" width="6.72" height="6.72" fill="#72febc"/>
<rect x="282.92" y="444.2" width="6.72" height="6.72" fill="#c3ea8b"/>
<rect x="289.24" y="444.2" width="6.72" height="6.72" fill="#9afca5"/>
<rect x="295.56" y="444.2" width="6.72" height="6.72" fill="#8dfead"/>
<rect x="301.88" y="444.2" width="6.72" height="6.72" fill="#c3ea8b"/>
<rect x="308.2" y="444.2" width="6.72" height="6.72" fill="#72febc"/>
<rect x="314.52" y="444.2" width="6.72" height="6.72" fill="#4af1d0"/>
<rect x="320.84" y="444.2" width="6.72" height="6.72" fill="#2a81f6"/>
<rect x="327.16" y="444.2" width="6.72" height="6.72" fill="#770dff"/>
<rect x="333.48" y="444.2" width="6.72" height="6.72" fill="#2a81f6"/>
<rect x="213.4" y="450.52" width="6.72" height="6.72" fill="#07adee"/>
<rect x="219.72" y="450.52" width="6.72" height="6.72" fill="#4af1d0"/>
<rect x="226.04" y="450.52" width="6.72" height="6.72" fill="#4af1d0"/>
<rect x="232.36" y="450.52" width="6.72" height="6.72" fill="#57f7c9"/>
<rect x="238.68" y="450.52" width="6.72" height="6.72" fill="#65fcc3"/>
<rect x="245" y="450.52" width="6.72" height="6.72" fill="#2fe0db"/>
<rect x="251.32" y="450.52" width="6.72" height="6.72" fill="#4af1d0"/>
<rect x="257.64" y="450.52" width="6.72" height="6.72" fill="#4af1d0"/>
<rect x="263.96" y="450.52" width="6.72" height="6.72" fill="#4af1d0"/>
<rect x="270.28" y="450.52" width="6.72" height="6.72" fill="#4af1d0"/>
<rect x="276.6" y="450.52" width="6.72" height="6.72" fill="#4af1d0"/>
<rect x="282.92" y="450.52" width="6.72" height="6.72" fill="#4af1d0"/>
<rect x="289.24" y="450.52" width="6.72" height="6.72" fill="#65fcc3"/>
<rect x="295.56" y="450.52" width="6.72" height="6.72" fill="#72febc"/>
<rect x="301.88" y="450.52" width="6.72" height="6.72" fill="#c3ea8b"/>
<rect x="308.2" y="450.52" width="6.72" height="6.72" fill="#65fcc3"/>
<rect x="314.52" y="450.52" width="6.72" height="6.72" fill="#3cead5"/>
<rect x="320.84" y="450.52" width="6.72" height="6.72" fill="#2a81f6"/>
<rect x="327.16" y="450.52" width="6.72" height="6.72" fill="#770dff"/>
<rect x="333.48" y="450.52" width="6.72" height="6.72" fill="#573ffd"/>
<rect x="213.4" y="456.84" width="6.72" height="6.72" fill="#2f79f7"/>
<rect x="219.72" y="456.84" width="6.72" height="6.72" fill="#07adee"/>
<rect x="226.04" y="456.84" width="6.72" height="6.72" fill="#4af1d0"/>
<rect x="232.36" y="456.84" width="6.72" height="6.72" fill="#72febc"/>
<rect x="238.68" y="456.84" width="6.72" height="6.72" fill="#65fcc3"/>
<rect x="245" y="456.84" width="6.72" height="6.72" fill="#6afdc0"/>
<rect x="251.32" y="456.84" width="6.72" height="6.72" fill="#4af1d0"/>
<rect x="257.64" y="456.84" width="6.72" height="6.72" fill="#4af1d0"/>
<rect x="263.96" y="456.84" width="6.72" height="6.72" fill="#2fe0db"/>
<rect x="270.28" y="456.84" width="6.72" height="6.72" fill="#22d5e0"/>
<rect x="276.6" y="456.84" width="6.72" height="6.72" fill="#14c9e5"/>
<rect x="282.92" y="456.84" width="6.72" height="6.72" fill="#07adee"/>
<rect x="289.24" y="456.84" width="6.72" height="6.72" fill="#14c9e5"/>
<rect x="295.56" y="456.84" width="6.72" height="6.72" fill="#65fcc3"/>
<rect x="301.88" y="456.84" width="6.72" height="6.72" fill="#72febc"/>
<rect x="308.2" y="456.84" width="6.72" height="6.72" fill="#57f7c9"/>
<rect x="314.52" y="456.84" width="6.72" height="6.72" fill="#2fe0db"/>
<rect x="320.84" y="456.84" width="6.72" height="6.72" fill="#2a81f6"/>
<rect x="327.16" y="456.84" width="6.72" height="6.72" fill="#7215ff"/>
<rect x="333.48" y="456.84" width="6.72" height="6.72" fill="#770dff"/>
<rect x="213.4" y="463.16" width="6.72" height="6.72" fill="#2f79f7"/>
<rect x="219.72" y="463.16" width="6.72" height="6.72" fill="#14c9e5"/>
<rect x="226.04" y="463.16" width="6.72" height="6.72" fill="#3cead5"/>
<rect x="232.36" y="463.16" width="6.72" height="6.72" fill="#72febc"/>
<rect x="238.68" y="463.16" width="6.72" height="6.72" fill="#72febc"/>
<rect x="245" y="463.16" width="6.72" height="6.72" fill="#4af1d0"/>
<rect x="251.32" y="463.16" width="6.72" height="6.72" fill="#14c9e5"/>
<rect x="257.64" y="463.16" width="6.72" height="6.72" fill="#1a96f3"/>
<rect x="263.96" y="463.16" width="6.72" height="6.72" fill="#3cead5"/>
<rect x="270.28" y="463.16" width="6.72" height="6.72" fill="#2fe0db"/>
<rect x="276.6" y="463.16" width="6.72" height="6.72" fill="#4af1d0"/>
<rect x="282.92" y="463.16" width="6.72" height="6.72" fill="#3cead5"/>
<rect x="289.24" y="463.16" width="6.72" height="6.72" fill="#2fe0db"/>
<rect x="295.56" y="463.16" width="6.72" height="6.72" fill="#65fcc3"/>
<rect x="301.88" y="463.16" width="6.72" height="6.72" fill="#72febc"/>
<rect x="308.2" y="463.16" width="6.72" height="6.72" fill="#14c9e5"/>
<rect x="314.52" y="463.16" width="6.72" height="6.72" fill="#0ca6ef"/>
<rect x="320.84" y="463.16" width="6.72" height="6.72" fill="#2a81f6"/>
<rect x="327.16" y="463.16" width="6.72" height="6.72" fill="#652afe"/>
<rect x="333.48" y="463.16" width="6.72" height="6.72" fill="#573ffd"/>
<rect x="213.4" y="469.48" width="6.72" height="6.72" fill="#2a81f6"/>
<rect x="219.72" y="469.48" width="6.72" height="6.72" fill="#0ca6ef"/>
<rect x="226.04" y="469.48" width="6.72" height="6.72" fill="#0ca6ef"/>
<rect x="232.36" y="469.48" width="6.72" height="6.72" fill="#2fe0db"/>
<rect x="238.68" y="469.48" width="6.72" height="6.72" fill="#0ca6ef"/>
<rect x="245" y="469.48" width="6.72" height="6.72" fill="#228bf4"/>
<rect x="251.32" y="469.48" width="6.72" height="6.72" fill="#228bf4"/>
<rect x="257.64" y="469.48" width="6.72" height="6.72" fill="#4a53fc"/>
<rect x="263.96" y="469.48" width="6.72" height="6.72" fill="#4a53fc"/>
<rect x="270.28" y="469.48" width="6.72" height="6.72" fill="#2a81f6"/>
<rect x="276.6" y="469.48" width="6.72" height="6.72" fill="#1a96f3"/>
<rect x="282.92" y="469.48" width="6.72" height="6.72" fill="#0ca6ef"/>
<rect x="289.24" y="469.48" width="6.72" height="6.72" fill="#07bcea"/>
<rect x="295.56" y="469.48" width="6.72" height="6.72" fill="#0ca6ef"/>
<rect x="301.88" y="469.48" width="6.72" height="6.72" fill="#07bcea"/>
<rect x="308.2" y="469.48" width="6.72" height="6.72" fill="#228bf4"/>
<rect x="314.52" y="469.48" width="6.72" height="6.72" fill="#2784f6"/>
<rect x="320.84" y="469.48" width="6.72" height="6.72" fill="#3c66fa"/>
<rect x="327.16" y="469.48" width="6.72" height="6.72" fill="#3c66fa"/>
<rect x="333.48" y="469.48" width="6.72" height="6.72" fill="#4a53fc"/>
</g>
<rect x="213.4" y="349.4" width="126.4" height="126.4" fill="none" stroke="#333" stroke-width="0.8"/>
<g stroke="#333" stroke-width="0.8">
<line x1="209.9" y1="349.4" x2="213.4" y2="349.4"/>
<line x1="213.4" y1="475.8" x2="213.4" y2="479.3"/>
<line x1="209.9" y1="381" x2="213.4" y2="381"/>
<line x1="245" y1="475.8" x2="245" y2="479.3"/>
<line x1="209.9" y1="412.6" x2="213.4" y2="412.6"/>
<line x1="276.6" y1="475.8" x2="276.6" y2="479.3"/>
<line x1="209.9" y1="444.2" x2="213.4" y2="444.2"/>
<line x1="308.2" y1="475.8" x2="308.2" y2="479.3"/>
<line x1="209.9" y1="475.8" x2="213.4" y2="475.8"/>
<line x1="339.8" y1="475.8" x2="339.8" y2="479.3"/>
</g>
<g font-family="Liberation Sans" font-size="11.8" fill="#222" text-anchor="end">
<text x="208.4" y="353.4">0</text>
<text x="208.4" y="385">90</text>
<text x="208.4" y="416.6">180</text>
<text x="208.4" y="448.2">270</text>
<text x="208.4" y="479.8">360</text>
</g>
<g font-family="Liberation Sans" font-size="11.8" fill="#222" text-anchor="middle">
<text x="213.4" y="488.7">0</text>
<text x="245" y="488.7">45</text>
<text x="276.6" y="488.7">90</text>
<text x="308.2" y="488.7">135</text>
<text x="339.8" y="488.7">180</text>
</g>
<text x="256.6" y="342.5" font-family="Liberation Sans" font-size="12.6" fill="#111" stroke="#111" stroke-width="0.3" textLength="33.2" lengthAdjust="spacingAndGlyphs"><tspan font-style="italic">E</tspan>(C,C)</text>
<text x="256.4" y="511.2" font-family="Liberation Sans" font-size="12.5" fill="#111">θ(°)</text>
<g shape-rendering="crispEdges">
<rect x="380.8" y="349.4" width="6.72" height="6.72" fill="#425ffa"/>
<rect x="387.12" y="349.4" width="6.72" height="6.72" fill="#4a53fc"/>
<rect x="393.44" y="349.4" width="6.72" height="6.72" fill="#573ffd"/>
<rect x="399.76" y="349.4" width="6.72" height="6.72" fill="#376ef9"/>
<rect x="406.08" y="349.4" width="6.72" height="6.72" fill="#652afe"/>
<rect x="412.4" y="349.4" width="6.72" height="6.72" fill="#652afe"/>
<rect x="418.72" y="349.4" width="6.72" height="6.72" fill="#652afe"/>
<rect x="425.04" y="349.4" width="6.72" height="6.72" fill="#5f32fe"/>
<rect x="431.36" y="349.4" width="6.72" height="6.72" fill="#652afe"/>
<rect x="437.68" y="349.4" width="6.72" height="6.72" fill="#5f32fe"/>
<rect x="444" y="349.4" width="6.72" height="6.72" fill="#4a53fc"/>
<rect x="450.32" y="349.4" width="6.72" height="6.72" fill="#4a53fc"/>
<rect x="456.64" y="349.4" width="6.72" height="6.72" fill="#5f32fe"/>
<rect x="462.96" y="349.4" width="6.72" height="6.72" fill="#5f32fe"/>
<rect x="469.28" y="349.4" width="6.72" height="6.72" fill="#5f32fe"/>
<rect x="475.6" y="349.4" width="6.72" height="6.72" fill="#5f32fe"/>
<rect x="481.92" y="349.4" width="6.72" height="6.72" fill="#652afe"/>
<rect x="488.24" y="349.4" width="6.72" height="6.72" fill="#3c66fa"/>
<rect x="494.56" y="349.4" width="6.72" height="6.72" fill="#652afe"/>
<rect x="500.88" y="349.4" width="6.72" height="6.72" fill="#573ffd"/>
<rect x="380.8" y="355.72" width="6.72" height="6.72" fill="#80ffb4"/>
<rect x="387.12" y="355.72" width="6.72" height="6.72" fill="#b5f194"/>
<rect x="393.44" y="355.72" width="6.72" height="6.72" fill="#17cce4"/>
<rect x="399.76" y="355.72" width="6.72" height="6.72" fill="#376ef9"/>
<rect x="406.08" y="355.72" width="6.72" height="6.72" fill="#5f32fe"/>
<rect x="412.4" y="355.72" width="6.72" height="6.72" fill="#5f32fe"/>
<rect x="418.72" y="355.72" width="6.72" height="6.72" fill="#3c66fa"/>
<rect x="425.04" y="355.72" width="6.72" height="6.72" fill="#573ffd"/>
<rect x="431.36" y="355.72" width="6.72" height="6.72" fill="#6d1dff"/>
<rect x="437.68" y="355.72" width="6.72" height="6.72" fill="#6d1dff"/>
<rect x="444" y="355.72" width="6.72" height="6.72" fill="#573ffd"/>
<rect x="450.32" y="355.72" width="6.72" height="6.72" fill="#652afe"/>
<rect x="456.64" y="355.72" width="6.72" height="6.72" fill="#5f32fe"/>
<rect x="462.96" y="355.72" width="6.72" height="6.72" fill="#652afe"/>
<rect x="469.28" y="355.72" width="6.72" height="6.72" fill="#4a53fc"/>
<rect x="475.6" y="355.72" width="6.72" height="6.72" fill="#5f32fe"/>
<rect x="481.92" y="355.72" width="6.72" height="6.72" fill="#573ffd"/>
<rect x="488.24" y="355.72" width="6.72" height="6.72" fill="#4a53fc"/>
<rect x="494.56" y="355.72" width="6.72" height="6.72" fill="#2f79f7"/>
<rect x="500.88" y="355.72" width="6.72" height="6.72" fill="#07adee"/>
<rect x="380.8" y="362.04" width="6.72" height="6.72" fill="#a8f79d"/>
<rect x="387.12" y="362.04" width="6.72" height="6.72" fill="#ff6e38"/>
<rect x="393.44" y="362.04" width="6.72" height="6.72" fill="#65fcc3"/>
<rect x="399.76" y="362.04" width="6.72" height="6.72" fill="#376ef9"/>
<rect x="406.08" y="362.04" width="6.72" height="6.72" fill="#5f32fe"/>
<rect x="412.4" y="362.04" width="6.72" height="6.72" fill="#5f32fe"/>
<rect x="418.72" y="362.04" width="6.72" height="6.72" fill="#4a53fc"/>
<rect x="425.04" y="362.04" width="6.72" height="6.72" fill="#573ffd"/>
<rect x="431.36" y="362.04" width="6.72" height="6.72" fill="#7215ff"/>
<rect x="437.68" y="362.04" width="6.72" height="6.72" fill="#7215ff"/>
<rect x="444" y="362.04" width="6.72" height="6.72" fill="#573ffd"/>
<rect x="450.32" y="362.04" width="6.72" height="6.72" fill="#652afe"/>
<rect x="456.64" y="362.04" width="6.72" height="6.72" fill="#5f32fe"/>
<rect x="462.96" y="362.04" width="6.72" height="6.72" fill="#652afe"/>
<rect x="469.28" y="362.04" width="6.72" height="6.72" fill="#5f32fe"/>
<rect x="475.6" y="362.04" width="6.72" height="6.72" fill="#5f32fe"/>
<rect x="481.92" y="362.04" width="6.72" height="6.72" fill="#5f32fe"/>
<rect x="488.24" y="362.04" width="6.72" height="6.72" fill="#4a53fc"/>
<rect x="494.56" y="362.04" width="6.72" height="6.72" fill="#2f79f7"/>
<rect x="500.88" y="362.04" width="6.72" height="6.72" fill="#01b6eb"/>
<rect x="380.8" y="368.36" width="6.72" height="6.72" fill="#425ffa"/>
<rect x="387.12" y="368.36" width="6.72" height="6.72" fill="#4a53fc"/>
<rect x="393.44" y="368.36" width="6.72" height="6.72" fill="#4a53fc"/>
<rect x="399.76" y="368.36" width="6.72" height="6.72" fill="#3c66fa"/>
<rect x="406.08" y="368.36" width="6.72" height="6.72" fill="#573ffd"/>
<rect x="412.4" y="368.36" width="6.72" height="6.72" fill="#573ffd"/>
<rect x="418.72" y="368.36" width="6.72" height="6.72" fill="#5f32fe"/>
<rect x="425.04" y="368.36" width="6.72" height="6.72" fill="#5f32fe"/>
<rect x="431.36" y="368.36" width="6.72" height="6.72" fill="#7215ff"/>
<rect x="437.68" y="368.36" width="6.72" height="6.72" fill="#770dff"/>
<rect x="444" y="368.36" width="6.72" height="6.72" fill="#7215ff"/>
<rect x="450.32" y="368.36" width="6.72" height="6.72" fill="#573ffd"/>
<rect x="456.64" y="368.36" width="6.72" height="6.72" fill="#4a53fc"/>
<rect x="462.96" y="368.36" width="6.72" height="6.72" fill="#5f32fe"/>
<rect x="469.28" y="368.36" width="6.72" height="6.72" fill="#652afe"/>
<rect x="475.6" y="368.36" width="6.72" height="6.72" fill="#652afe"/>
<rect x="481.92" y="368.36" width="6.72" height="6.72" fill="#5f32fe"/>
<rect x="488.24" y="368.36" width="6.72" height="6.72" fill="#573ffd"/>
<rect x="494.56" y="368.36" width="6.72" height="6.72" fill="#573ffd"/>
<rect x="500.88" y="368.36" width="6.72" height="6.72" fill="#425ffa"/>
<rect x="380.8" y="374.68" width="6.72" height="6.72" fill="#425ffa"/>
<rect x="387.12" y="374.68" width="6.72" height="6.72" fill="#652afe"/>
<rect x="393.44" y="374.68" width="6.72" height="6.72" fill="#652afe"/>
<rect x="399.76" y="374.68" width="6.72" height="6.72" fill="#4a53fc"/>
<rect x="406.08" y="374.68" width="6.72" height="6.72" fill="#573ffd"/>
<rect x="412.4" y="374.68" width="6.72" height="6.72" fill="#573ffd"/>
<rect x="418.72" y="374.68" width="6.72" height="6.72" fill="#5f32fe"/>
<rect x="425.04" y="374.68" width="6.72" height="6.72" fill="#5f32fe"/>
<rect x="431.36" y="374.68" width="6.72" height="6.72" fill="#7215ff"/>
<rect x="437.68" y="374.68" width="6.72" height="6.72" fill="#770dff"/>
<rect x="444" y="374.68" width="6.72" height="6.72" fill="#770dff"/>
<rect x="450.32" y="374.68" width="6.72" height="6.72" fill="#573ffd"/>
<rect x="456.64" y="374.68" width="6.72" height="6.72" fill="#4a53fc"/>
<rect x="462.96" y="374.68" width="6.72" height="6.72" fill="#5f32fe"/>
<rect x="469.28" y="374.68" width="6.72" height="6.72" fill="#6d1dff"/>
<rect x="475.6" y="374.68" width="6.72" height="6.72" fill="#652afe"/>
<rect x="481.92" y="374.68" width="6.72" height="6.72" fill="#5f32fe"/>
<rect x="488.24" y="374.68" width="6.72" height="6.72" fill="#573ffd"/>
<rect x="494.56" y="374.68" width="6.72" height="6.72" fill="#5f32fe"/>
<rect x="500.88" y="374.68" width="6.72" height="6.72" fill="#573ffd"/>
<rect x="380.8" y="381" width="6.72" height="6.72" fill="#425ffa"/>
<rect x="387.12" y="381" width="6.72" height="6.72" fill="#652afe"/>
<rect x="393.44" y="381" width="6.72" height="6.72" fill="#652afe"/>
<rect x="399.76" y="381" width="6.72" height="6.72" fill="#5f32fe"/>
<rect x="406.08" y="381" width="6.72" height="6.72" fill="#376ef9"/>
<rect x="412.4" y="381" width="6.72" height="6.72" fill="#573ffd"/>
<rect x="418.72" y="381" width="6.72" height="6.72" fill="#573ffd"/>
<rect x="425.04" y="381" width="6.72" height="6.72" fill="#5f32fe"/>
<rect x="431.36" y="381" width="6.72" height="6.72" fill="#7215ff"/>
<rect x="437.68" y="381" width="6.72" height="6.72" fill="#770dff"/>
<rect x="444" y="381" width="6.72" height="6.72" fill="#770dff"/>
<rect x="450.32" y="381" width="6.72" height="6.72" fill="#5f32fe"/>
<rect x="456.64" y="381" width="6.72" height="6.72" fill="#4a53fc"/>
<rect x="462.96" y="381" width="6.72" height="6.72" fill="#5f32fe"/>
<rect x="469.28" y="381" width="6.72" height="6.72" fill="#7215ff"/>
<rect x="475.6" y="381" width="6.72" height="6.72" fill="#6d1dff"/>
<rect x="481.92" y="381" width="6.72" height="6.72" fill="#5f32fe"/>
<rect x="488.24" y="381" width="6.72" height="6.72" fill="#573ffd"/>
<rect x="494.56" y="381" width="6.72" height="6.72" fill="#5f32fe"/>
<rect x="500.88" y="381" width="6.72" height="6.72" fill="#425ffa"/>
<rect x="380.8" y="387.32" width="6.72" height="6.72" fill="#376ef9"/>
<rect x="387.12" y="387.32" width="6.72" height="6.72" fill="#652afe"/>
<rect x="393.44" y="387.32" width="6.72" height="6.72" fill="#652afe"/>
<rect x="399.76" y="387.32" width="6.72" height="6.72" fill="#5f32fe"/>
<rect x="406.08" y="387.32" width="6.72" height="6.72" fill="#2a81f6"/>
<rect x="412.4" y="387.32" width="6.72" height="6.72" fill="#2f79f7"/>
<rect x="418.72" y="387.32" width="6.72" height="6.72" fill="#4a53fc"/>
<rect x="425.04" y="387.32" width="6.72" height="6.72" fill="#5f32fe"/>
<rect x="431.36" y="387.32" width="6.72" height="6.72" fill="#573ffd"/>
<rect x="437.68" y="387.32" width="6.72" height="6.72" fill="#7215ff"/>
<rect x="444" y="387.32" width="6.72" height="6.72" fill="#770dff"/>
<rect x="450.32" y="387.32" width="6.72" height="6.72" fill="#5f32fe"/>
<rect x="456.64" y="387.32" width="6.72" height="6.72" fill="#425ffa"/>
<rect x="462.96" y="387.32" width="6.72" height="6.72" fill="#573ffd"/>
<rect x="469.28" y="387.32" width="6.72" height="6.72" fill="#6d1dff"/>
<rect x="475.6" y="387.32" width="6.72" height="6.72" fill="#652afe"/>
<rect x="481.92" y="387.32" width="6.72" height="6.72" fill="#5f32fe"/>
<rect x="488.24" y="387.32" width="6.72" height="6.72" fill="#3c66fa"/>
<rect x="494.56" y="387.32" width="6.72" height="6.72" fill="#5f32fe"/>
<rect x="500.88" y="387.32" width="6.72" height="6.72" fill="#2f79f7"/>
<rect x="380.8" y="393.64" width="6.72" height="6.72" fill="#573ffd"/>
<rect x="387.12" y="393.64" width="6.72" height="6.72" fill="#652afe"/>
<rect x="393.44" y="393.64" width="6.72" height="6.72" fill="#573ffd"/>
<rect x="399.76" y="393.64" width="6.72" height="6.72" fill="#573ffd"/>
<rect x="406.08" y="393.64" width="6.72" height="6.72" fill="#07adee"/>
<rect x="412.4" y="393.64" width="6.72" height="6.72" fill="#ddd579"/>
<rect x="418.72" y="393.64" width="6.72" height="6.72" fill="#573ffd"/>
<rect x="425.04" y="393.64" width="6.72" height="6.72" fill="#3c66fa"/>
<rect x="431.36" y="393.64" width="6.72" height="6.72" fill="#1cd1e2"/>
<rect x="437.68" y="393.64" width="6.72" height="6.72" fill="#ffad5d"/>
<rect x="444" y="393.64" width="6.72" height="6.72" fill="#7215ff"/>
<rect x="450.32" y="393.64" width="6.72" height="6.72" fill="#5f32fe"/>
<rect x="456.64" y="393.64" width="6.72" height="6.72" fill="#2f79f7"/>
<rect x="462.96" y="393.64" width="6.72" height="6.72" fill="#573ffd"/>
<rect x="469.28" y="393.64" width="6.72" height="6.72" fill="#652afe"/>
<rect x="475.6" y="393.64" width="6.72" height="6.72" fill="#652afe"/>
<rect x="481.92" y="393.64" width="6.72" height="6.72" fill="#5f32fe"/>
<rect x="488.24" y="393.64" width="6.72" height="6.72" fill="#3c66fa"/>
<rect x="494.56" y="393.64" width="6.72" height="6.72" fill="#5f32fe"/>
<rect x="500.88" y="393.64" width="6.72" height="6.72" fill="#149df1"/>
<rect x="380.8" y="399.96" width="6.72" height="6.72" fill="#425ffa"/>
<rect x="387.12" y="399.96" width="6.72" height="6.72" fill="#652afe"/>
<rect x="393.44" y="399.96" width="6.72" height="6.72" fill="#573ffd"/>
<rect x="399.76" y="399.96" width="6.72" height="6.72" fill="#4a53fc"/>
<rect x="406.08" y="399.96" width="6.72" height="6.72" fill="#1cd1e2"/>
<rect x="412.4" y="399.96" width="6.72" height="6.72" fill="#a8f79d"/>
<rect x="418.72" y="399.96" width="6.72" height="6.72" fill="#573ffd"/>
<rect x="425.04" y="399.96" width="6.72" height="6.72" fill="#3c66fa"/>
<rect x="431.36" y="399.96" width="6.72" height="6.72" fill="#5f32fe"/>
<rect x="437.68" y="399.96" width="6.72" height="6.72" fill="#ff0000"/>
<rect x="444" y="399.96" width="6.72" height="6.72" fill="#1a96f3"/>
<rect x="450.32" y="399.96" width="6.72" height="6.72" fill="#5f32fe"/>
<rect x="456.64" y="399.96" width="6.72" height="6.72" fill="#2f79f7"/>
<rect x="462.96" y="399.96" width="6.72" height="6.72" fill="#573ffd"/>
<rect x="469.28" y="399.96" width="6.72" height="6.72" fill="#652afe"/>
<rect x="475.6" y="399.96" width="6.72" height="6.72" fill="#652afe"/>
<rect x="481.92" y="399.96" width="6.72" height="6.72" fill="#5f32fe"/>
<rect x="488.24" y="399.96" width="6.72" height="6.72" fill="#4a53fc"/>
<rect x="494.56" y="399.96" width="6.72" height="6.72" fill="#573ffd"/>
<rect x="500.88" y="399.96" width="6.72" height="6.72" fill="#149df1"/>
<rect x="380.8" y="406.28" width="6.72" height="6.72" fill="#ff2a15"/>
<rect x="387.12" y="406.28" width="6.72" height="6.72" fill="#652afe"/>
<rect x="393.44" y="406.28" width="6.72" height="6.72" fill="#652afe"/>
<rect x="399.76" y="406.28" width="6.72" height="6.72" fill="#4a53fc"/>
<rect x="406.08" y="406.28" width="6.72" height="6.72" fill="#3cead5"/>
<rect x="412.4" y="406.28" width="6.72" height="6.72" fill="#376ef9"/>
<rect x="418.72" y="406.28" width="6.72" height="6.72" fill="#5f32fe"/>
<rect x="425.04" y="406.28" width="6.72" height="6.72" fill="#4a53fc"/>
<rect x="431.36" y="406.28" width="6.72" height="6.72" fill="#5f32fe"/>
<rect x="437.68" y="406.28" width="6.72" height="6.72" fill="#4a53fc"/>
<rect x="444" y="406.28" width="6.72" height="6.72" fill="#4a53fc"/>
<rect x="450.32" y="406.28" width="6.72" height="6.72" fill="#5f32fe"/>
<rect x="456.64" y="406.28" width="6.72" height="6.72" fill="#4a53fc"/>
<rect x="462.96" y="406.28" width="6.72" height="6.72" fill="#573ffd"/>
<rect x="469.28" y="406.28" width="6.72" height="6.72" fill="#652afe"/>
<rect x="475.6" y="406.28" width="6.72" height="6.72" fill="#652afe"/>
<rect x="481.92" y="406.28" width="6.72" height="6.72" fill="#5f32fe"/>
<rect x="488.24" y="406.28" width="6.72" height="6.72" fill="#573ffd"/>
<rect x="494.56" y="406.28" width="6.72" height="6.72" fill="#573ffd"/>
<rect x="500.88" y="406.28" width="6.72" height="6.72" fill="#2784f6"/>
<rect x="380.8" y="412.6" width="6.72" height="6.72" fill="#07adee"/>
<rect x="387.12" y="412.6" width="6.72" height="6.72" fill="#5f32fe"/>
<rect x="393.44" y="412.6" width="6.72" height="6.72" fill="#5f32fe"/>
<rect x="399.76" y="412.6" width="6.72" height="6.72" fill="#573ffd"/>
<rect x="406.08" y="412.6" width="6.72" height="6.72" fill="#42edd3"/>
<rect x="412.4" y="412.6" width="6.72" height="6.72" fill="#573ffd"/>
<rect x="418.72" y="412.6" width="6.72" height="6.72" fill="#652afe"/>
<rect x="425.04" y="412.6" width="6.72" height="6.72" fill="#2f79f7"/>
<rect x="431.36" y="412.6" width="6.72" height="6.72" fill="#573ffd"/>
<rect x="437.68" y="412.6" width="6.72" height="6.72" fill="#573ffd"/>
<rect x="444" y="412.6" width="6.72" height="6.72" fill="#425ffa"/>
<rect x="450.32" y="412.6" width="6.72" height="6.72" fill="#6d1dff"/>
<rect x="456.64" y="412.6" width="6.72" height="6.72" fill="#573ffd"/>
<rect x="462.96" y="412.6" width="6.72" height="6.72" fill="#573ffd"/>
<rect x="469.28" y="412.6" width="6.72" height="6.72" fill="#652afe"/>
<rect x="475.6" y="412.6" width="6.72" height="6.72" fill="#652afe"/>
<rect x="481.92" y="412.6" width="6.72" height="6.72" fill="#5f32fe"/>
<rect x="488.24" y="412.6" width="6.72" height="6.72" fill="#573ffd"/>
<rect x="494.56" y="412.6" width="6.72" height="6.72" fill="#4a53fc"/>
<rect x="500.88" y="412.6" width="6.72" height="6.72" fill="#3c66fa"/>
<rect x="380.8" y="418.92" width="6.72" height="6.72" fill="#573ffd"/>
<rect x="387.12" y="418.92" width="6.72" height="6.72" fill="#652afe"/>
<rect x="393.44" y="418.92" width="6.72" height="6.72" fill="#652afe"/>
<rect x="399.76" y="418.92" width="6.72" height="6.72" fill="#573ffd"/>
<rect x="406.08" y="418.92" width="6.72" height="6.72" fill="#3cead5"/>
<rect x="412.4" y="418.92" width="6.72" height="6.72" fill="#5f32fe"/>
<rect x="418.72" y="418.92" width="6.72" height="6.72" fill="#652afe"/>
<rect x="425.04" y="418.92" width="6.72" height="6.72" fill="#1cd1e2"/>
<rect x="431.36" y="418.92" width="6.72" height="6.72" fill="#14c9e5"/>
<rect x="437.68" y="418.92" width="6.72" height="6.72" fill="#228bf4"/>
<rect x="444" y="418.92" width="6.72" height="6.72" fill="#2fe0db"/>
<rect x="450.32" y="418.92" width="6.72" height="6.72" fill="#6d1dff"/>
<rect x="456.64" y="418.92" width="6.72" height="6.72" fill="#573ffd"/>
<rect x="462.96" y="418.92" width="6.72" height="6.72" fill="#573ffd"/>
<rect x="469.28" y="418.92" width="6.72" height="6.72" fill="#652afe"/>
<rect x="475.6" y="418.92" width="6.72" height="6.72" fill="#652afe"/>
<rect x="481.92" y="418.92" width="6.72" height="6.72" fill="#5f32fe"/>
<rect x="488.24" y="418.92" width="6.72" height="6.72" fill="#573ffd"/>
<rect x="494.56" y="418.92" width="6.72" height="6.72" fill="#573ffd"/>
<rect x="500.88" y="418.92" width="6.72" height="6.72" fill="#425ffa"/>
<rect x="380.8" y="425.24" width="6.72" height="6.72" fill="#573ffd"/>
<rect x="387.12" y="425.24" width="6.72" height="6.72" fill="#652afe"/>
<rect x="393.44" y="425.24" width="6.72" height="6.72" fill="#652afe"/>
<rect x="399.76" y="425.24" width="6.72" height="6.72" fill="#573ffd"/>
<rect x="406.08" y="425.24" width="6.72" height="6.72" fill="#1cd1e2"/>
<rect x="412.4" y="425.24" width="6.72" height="6.72" fill="#5f32fe"/>
<rect x="418.72" y="425.24" width="6.72" height="6.72" fill="#652afe"/>
<rect x="425.04" y="425.24" width="6.72" height="6.72" fill="#4a53fc"/>
<rect x="431.36" y="425.24" width="6.72" height="6.72" fill="#a8f79d"/>
<rect x="437.68" y="425.24" width="6.72" height="6.72" fill="#3cead5"/>
<rect x="444" y="425.24" width="6.72" height="6.72" fill="#4a53fc"/>
<rect x="450.32" y="425.24" width="6.72" height="6.72" fill="#5f32fe"/>
<rect x="456.64" y="425.24" width="6.72" height="6.72" fill="#425ffa"/>
<rect x="462.96" y="425.24" width="6.72" height="6.72" fill="#573ffd"/>
<rect x="469.28" y="425.24" width="6.72" height="6.72" fill="#6d1dff"/>
<rect x="475.6" y="425.24" width="6.72" height="6.72" fill="#7215ff"/>
<rect x="481.92" y="425.24" width="6.72" height="6.72" fill="#573ffd"/>
<rect x="488.24" y="425.24" width="6.72" height="6.72" fill="#5f32fe"/>
<rect x="494.56" y="425.24" width="6.72" height="6.72" fill="#5f32fe"/>
<rect x="500.88" y="425.24" width="6.72" height="6.72" fill="#573ffd"/>
<rect x="380.8" y="431.56" width="6.72" height="6.72" fill="#652afe"/>
<rect x="387.12" y="431.56" width="6.72" height="6.72" fill="#652afe"/>
<rect x="393.44" y="431.56" width="6.72" height="6.72" fill="#652afe"/>
<rect x="399.76" y="431.56" width="6.72" height="6.72" fill="#573ffd"/>
<rect x="406.08" y="431.56" width="6.72" height="6.72" fill="#2fe0db"/>
<rect x="412.4" y="431.56" width="6.72" height="6.72" fill="#5f32fe"/>
<rect x="418.72" y="431.56" width="6.72" height="6.72" fill="#6d1dff"/>
<rect x="425.04" y="431.56" width="6.72" height="6.72" fill="#6d1dff"/>
<rect x="431.36" y="431.56" width="6.72" height="6.72" fill="#573ffd"/>
<rect x="437.68" y="431.56" width="6.72" height="6.72" fill="#6d1dff"/>
<rect x="444" y="431.56" width="6.72" height="6.72" fill="#770dff"/>
<rect x="450.32" y="431.56" width="6.72" height="6.72" fill="#5f32fe"/>
<rect x="456.64" y="431.56" width="6.72" height="6.72" fill="#4a53fc"/>
<rect x="462.96" y="431.56" width="6.72" height="6.72" fill="#573ffd"/>
<rect x="469.28" y="431.56" width="6.72" height="6.72" fill="#7215ff"/>
<rect x="475.6" y="431.56" width="6.72" height="6.72" fill="#7215ff"/>
<rect x="481.92" y="431.56" width="6.72" height="6.72" fill="#5f32fe"/>
<rect x="488.24" y="431.56" width="6.72" height="6.72" fill="#5f32fe"/>
<rect x="494.56" y="431.56" width="6.72" height="6.72" fill="#573ffd"/>
<rect x="500.88" y="431.56" width="6.72" height="6.72" fill="#2f79f7"/>
<rect x="380.8" y="437.88" width="6.72" height="6.72" fill="#5f32fe"/>
<rect x="387.12" y="437.88" width="6.72" height="6.72" fill="#652afe"/>
<rect x="393.44" y="437.88" width="6.72" height="6.72" fill="#652afe"/>
<rect x="399.76" y="437.88" width="6.72" height="6.72" fill="#1cd1e2"/>
<rect x="406.08" y="437.88" width="6.72" height="6.72" fill="#ffa357"/>
<rect x="412.4" y="437.88" width="6.72" height="6.72" fill="#4a53fc"/>
<rect x="418.72" y="437.88" width="6.72" height="6.72" fill="#6d1dff"/>
<rect x="425.04" y="437.88" width="6.72" height="6.72" fill="#7215ff"/>
<rect x="431.36" y="437.88" width="6.72" height="6.72" fill="#7215ff"/>
<rect x="437.68" y="437.88" width="6.72" height="6.72" fill="#7215ff"/>
<rect x="444" y="437.88" width="6.72" height="6.72" fill="#770dff"/>
<rect x="450.32" y="437.88" width="6.72" height="6.72" fill="#5f32fe"/>
<rect x="456.64" y="437.88" width="6.72" height="6.72" fill="#573ffd"/>
<rect x="462.96" y="437.88" width="6.72" height="6.72" fill="#573ffd"/>
<rect x="469.28" y="437.88" width="6.72" height="6.72" fill="#6d1dff"/>
<rect x="475.6" y="437.88" width="6.72" height="6.72" fill="#6d1dff"/>
<rect x="481.92" y="437.88" width="6.72" height="6.72" fill="#5f32fe"/>
<rect x="488.24" y="437.88" width="6.72" height="6.72" fill="#5f32fe"/>
<rect x="494.56" y="437.88" width="6.72" height="6.72" fill="#573ffd"/>
<rect x="500.88" y="437.88" width="6.72" height="6.72" fill="#2f79f7"/>
<rect x="380.8" y="444.2" width="6.72" height="6.72" fill="#5f32fe"/>
<rect x="387.12" y="444.2" width="6.72" height="6.72" fill="#652afe"/>
<rect x="393.44" y="444.2" width="6.72" height="6.72" fill="#6d1dff"/>
<rect x="399.76" y="444.2" width="6.72" height="6.72" fill="#8dfead"/>
<rect x="406.08" y="444.2" width="6.72" height="6.72" fill="#17cce4"/>
<rect x="412.4" y="444.2" width="6.72" height="6.72" fill="#4a53fc"/>
<rect x="418.72" y="444.2" width="6.72" height="6.72" fill="#6d1dff"/>
<rect x="425.04" y="444.2" width="6.72" height="6.72" fill="#7215ff"/>
<rect x="431.36" y="444.2" width="6.72" height="6.72" fill="#7215ff"/>
<rect x="437.68" y="444.2" width="6.72" height="6.72" fill="#7215ff"/>
<rect x="444" y="444.2" width="6.72" height="6.72" fill="#7215ff"/>
<rect x="450.32" y="444.2" width="6.72" height="6.72" fill="#5f32fe"/>
<rect x="456.64" y="444.2" width="6.72" height="6.72" fill="#5f32fe"/>
<rect x="462.96" y="444.2" width="6.72" height="6.72" fill="#573ffd"/>
<rect x="469.28" y="444.2" width="6.72" height="6.72" fill="#652afe"/>
<rect x="475.6" y="444.2" width="6.72" height="6.72" fill="#5f32fe"/>
<rect x="481.92" y="444.2" width="6.72" height="6.72" fill="#5f32fe"/>
<rect x="488.24" y="444.2" width="6.72" height="6.72" fill="#573ffd"/>
<rect x="494.56" y="444.2" width="6.72" height="6.72" fill="#573ffd"/>
<rect x="500.88" y="444.2" width="6.72" height="6.72" fill="#425ffa"/>
<rect x="380.8" y="450.52" width="6.72" height="6.72" fill="#4a53fc"/>
<rect x="387.12" y="450.52" width="6.72" height="6.72" fill="#573ffd"/>
<rect x="393.44" y="450.52" width="6.72" height="6.72" fill="#573ffd"/>
<rect x="399.76" y="450.52" width="6.72" height="6.72" fill="#2f79f7"/>
<rect x="406.08" y="450.52" width="6.72" height="6.72" fill="#1a96f3"/>
<rect x="412.4" y="450.52" width="6.72" height="6.72" fill="#573ffd"/>
<rect x="418.72" y="450.52" width="6.72" height="6.72" fill="#6d1dff"/>
<rect x="425.04" y="450.52" width="6.72" height="6.72" fill="#7215ff"/>
<rect x="431.36" y="450.52" width="6.72" height="6.72" fill="#7215ff"/>
<rect x="437.68" y="450.52" width="6.72" height="6.72" fill="#7215ff"/>
<rect x="444" y="450.52" width="6.72" height="6.72" fill="#7215ff"/>
<rect x="450.32" y="450.52" width="6.72" height="6.72" fill="#652afe"/>
<rect x="456.64" y="450.52" width="6.72" height="6.72" fill="#5f32fe"/>
<rect x="462.96" y="450.52" width="6.72" height="6.72" fill="#5f32fe"/>
<rect x="469.28" y="450.52" width="6.72" height="6.72" fill="#652afe"/>
<rect x="475.6" y="450.52" width="6.72" height="6.72" fill="#425ffa"/>
<rect x="481.92" y="450.52" width="6.72" height="6.72" fill="#425ffa"/>
<rect x="488.24" y="450.52" width="6.72" height="6.72" fill="#425ffa"/>
<rect x="494.56" y="450.52" width="6.72" height="6.72" fill="#573ffd"/>
<rect x="500.88" y="450.52" width="6.72" height="6.72" fill="#573ffd"/>
<rect x="380.8" y="456.84" width="6.72" height="6.72" fill="#573ffd"/>
<rect x="387.12" y="456.84" width="6.72" height="6.72" fill="#2f79f7"/>
<rect x="393.44" y="456.84" width="6.72" height="6.72" fill="#4a53fc"/>
<rect x="399.76" y="456.84" width="6.72" height="6.72" fill="#4a53fc"/>
<rect x="406.08" y="456.84" width="6.72" height="6.72" fill="#425ffa"/>
<rect x="412.4" y="456.84" width="6.72" height="6.72" fill="#4a53fc"/>
<rect x="418.72" y="456.84" width="6.72" height="6.72" fill="#652afe"/>
<rect x="425.04" y="456.84" width="6.72" height="6.72" fill="#6d1dff"/>
<rect x="431.36" y="456.84" width="6.72" height="6.72" fill="#7215ff"/>
<rect x="437.68" y="456.84" width="6.72" height="6.72" fill="#7215ff"/>
<rect x="444" y="456.84" width="6.72" height="6.72" fill="#6d1dff"/>
<rect x="450.32" y="456.84" width="6.72" height="6.72" fill="#652afe"/>
<rect x="456.64" y="456.84" width="6.72" height="6.72" fill="#652afe"/>
<rect x="462.96" y="456.84" width="6.72" height="6.72" fill="#652afe"/>
<rect x="469.28" y="456.84" width="6.72" height="6.72" fill="#652afe"/>
<rect x="475.6" y="456.84" width="6.72" height="6.72" fill="#3c66fa"/>
<rect x="481.92" y="456.84" width="6.72" height="6.72" fill="#376ef9"/>
<rect x="488.24" y="456.84" width="6.72" height="6.72" fill="#3c66fa"/>
<rect x="494.56" y="456.84" width="6.72" height="6.72" fill="#573ffd"/>
<rect x="500.88" y="456.84" width="6.72" height="6.72" fill="#573ffd"/>
<rect x="380.8" y="463.16" width="6.72" height="6.72" fill="#573ffd"/>
<rect x="387.12" y="463.16" width="6.72" height="6.72" fill="#573ffd"/>
<rect x="393.44" y="463.16" width="6.72" height="6.72" fill="#573ffd"/>
<rect x="399.76" y="463.16" width="6.72" height="6.72" fill="#573ffd"/>
<rect x="406.08" y="463.16" width="6.72" height="6.72" fill="#3c66fa"/>
<rect x="412.4" y="463.16" width="6.72" height="6.72" fill="#3c66fa"/>
<rect x="418.72" y="463.16" width="6.72" height="6.72" fill="#573ffd"/>
<rect x="425.04" y="463.16" width="6.72" height="6.72" fill="#5f32fe"/>
<rect x="431.36" y="463.16" width="6.72" height="6.72" fill="#652afe"/>
<rect x="437.68" y="463.16" width="6.72" height="6.72" fill="#652afe"/>
<rect x="444" y="463.16" width="6.72" height="6.72" fill="#652afe"/>
<rect x="450.32" y="463.16" width="6.72" height="6.72" fill="#652afe"/>
<rect x="456.64" y="463.16" width="6.72" height="6.72" fill="#5f32fe"/>
<rect x="462.96" y="463.16" width="6.72" height="6.72" fill="#573ffd"/>
<rect x="469.28" y="463.16" width="6.72" height="6.72" fill="#6d1dff"/>
<rect x="475.6" y="463.16" width="6.72" height="6.72" fill="#573ffd"/>
<rect x="481.92" y="463.16" width="6.72" height="6.72" fill="#573ffd"/>
<rect x="488.24" y="463.16" width="6.72" height="6.72" fill="#573ffd"/>
<rect x="494.56" y="463.16" width="6.72" height="6.72" fill="#5f32fe"/>
<rect x="500.88" y="463.16" width="6.72" height="6.72" fill="#425ffa"/>
<rect x="380.8" y="469.48" width="6.72" height="6.72" fill="#573ffd"/>
<rect x="387.12" y="469.48" width="6.72" height="6.72" fill="#573ffd"/>
<rect x="393.44" y="469.48" width="6.72" height="6.72" fill="#573ffd"/>
<rect x="399.76" y="469.48" width="6.72" height="6.72" fill="#573ffd"/>
<rect x="406.08" y="469.48" width="6.72" height="6.72" fill="#573ffd"/>
<rect x="412.4" y="469.48" width="6.72" height="6.72" fill="#573ffd"/>
<rect x="418.72" y="469.48" width="6.72" height="6.72" fill="#573ffd"/>
<rect x="425.04" y="469.48" width="6.72" height="6.72" fill="#5f32fe"/>
<rect x="431.36" y="469.48" width="6.72" height="6.72" fill="#652afe"/>
<rect x="437.68" y="469.48" width="6.72" height="6.72" fill="#652afe"/>
<rect x="444" y="469.48" width="6.72" height="6.72" fill="#652afe"/>
<rect x="450.32" y="469.48" width="6.72" height="6.72" fill="#652afe"/>
<rect x="456.64" y="469.48" width="6.72" height="6.72" fill="#652afe"/>
<rect x="462.96" y="469.48" width="6.72" height="6.72" fill="#5f32fe"/>
<rect x="469.28" y="469.48" width="6.72" height="6.72" fill="#652afe"/>
<rect x="475.6" y="469.48" width="6.72" height="6.72" fill="#5f32fe"/>
<rect x="481.92" y="469.48" width="6.72" height="6.72" fill="#5f32fe"/>
<rect x="488.24" y="469.48" width="6.72" height="6.72" fill="#5f32fe"/>
<rect x="494.56" y="469.48" width="6.72" height="6.72" fill="#5f32fe"/>
<rect x="500.88" y="469.48" width="6.72" height="6.72" fill="#4f4bfc"/>
</g>
<rect x="380.8" y="349.4" width="126.4" height="126.4" fill="none" stroke="#333" stroke-width="0.8"/>
<g stroke="#333" stroke-width="0.8">
<line x1="377.3" y1="349.4" x2="380.8" y2="349.4"/>
<line x1="380.8" y1="475.8" x2="380.8" y2="479.3"/>
<line x1="377.3" y1="381" x2="380.8" y2="381"/>
<line x1="412.4" y1="475.8" x2="412.4" y2="479.3"/>
<line x1="377.3" y1="412.6" x2="380.8" y2="412.6"/>
<line x1="444" y1="475.8" x2="444" y2="479.3"/>
<line x1="377.3" y1="444.2" x2="380.8" y2="444.2"/>
<line x1="475.6" y1="475.8" x2="475.6" y2="479.3"/>
<line x1="377.3" y1="475.8" x2="380.8" y2="475.8"/>
<line x1="507.2" y1="475.8" x2="507.2" y2="479.3"/>
</g>
<g font-family="Liberation Sans" font-size="11.8" fill="#222" text-anchor="end">
<text x="375.8" y="353.4">0</text>
<text x="375.8" y="385">90</text>
<text x="375.8" y="416.6">180</text>
<text x="375.8" y="448.2">270</text>
<text x="375.8" y="479.8">360</text>
</g>
<g font-family="Liberation Sans" font-size="11.8" fill="#222" text-anchor="middle">
<text x="380.8" y="488.7">0</text>
<text x="412.4" y="488.7">45</text>
<text x="444" y="488.7">90</text>
<text x="475.6" y="488.7">135</text>
<text x="507.2" y="488.7">180</text>
</g>
<text x="418.7" y="342.5" font-family="Liberation Sans" font-size="12.6" fill="#111" stroke="#111" stroke-width="0.3" textLength="35.6" lengthAdjust="spacingAndGlyphs"><tspan font-style="italic">p</tspan>(G,A)</text>
<text x="429.3" y="511.2" font-family="Liberation Sans" font-size="12.5" fill="#111">θ(°)</text>
<g shape-rendering="crispEdges">
<rect x="549.3" y="349.4" width="6.72" height="6.72" fill="#5ffac5"/>
<rect x="555.62" y="349.4" width="6.72" height="6.72" fill="#7affb7"/>
<rect x="561.94" y="349.4" width="6.72" height="6.72" fill="#7affb7"/>
<rect x="568.26" y="349.4" width="6.72" height="6.72" fill="#65fcc3"/>
<rect x="574.58" y="349.4" width="6.72" height="6.72" fill="#8dfead"/>
<rect x="580.9" y="349.4" width="6.72" height="6.72" fill="#8dfead"/>
<rect x="587.22" y="349.4" width="6.72" height="6.72" fill="#80ffb4"/>
<rect x="593.54" y="349.4" width="6.72" height="6.72" fill="#8dfead"/>
<rect x="599.86" y="349.4" width="6.72" height="6.72" fill="#80ffb4"/>
<rect x="606.18" y="349.4" width="6.72" height="6.72" fill="#80ffb4"/>
<rect x="612.5" y="349.4" width="6.72" height="6.72" fill="#80ffb4"/>
<rect x="618.82" y="349.4" width="6.72" height="6.72" fill="#72febc"/>
<rect x="625.14" y="349.4" width="6.72" height="6.72" fill="#80ffb4"/>
<rect x="631.46" y="349.4" width="6.72" height="6.72" fill="#8dfead"/>
<rect x="637.78" y="349.4" width="6.72" height="6.72" fill="#8dfead"/>
<rect x="644.1" y="349.4" width="6.72" height="6.72" fill="#a8f79d"/>
<rect x="650.42" y="349.4" width="6.72" height="6.72" fill="#8dfead"/>
<rect x="656.74" y="349.4" width="6.72" height="6.72" fill="#5ffac5"/>
<rect x="663.06" y="349.4" width="6.72" height="6.72" fill="#8dfead"/>
<rect x="669.38" y="349.4" width="6.72" height="6.72" fill="#65fcc3"/>
<rect x="549.3" y="355.72" width="6.72" height="6.72" fill="#425ffa"/>
<rect x="555.62" y="355.72" width="6.72" height="6.72" fill="#5543fd"/>
<rect x="561.94" y="355.72" width="6.72" height="6.72" fill="#07adee"/>
<rect x="568.26" y="355.72" width="6.72" height="6.72" fill="#5ffac5"/>
<rect x="574.58" y="355.72" width="6.72" height="6.72" fill="#80ffb4"/>
<rect x="580.9" y="355.72" width="6.72" height="6.72" fill="#80ffb4"/>
<rect x="587.22" y="355.72" width="6.72" height="6.72" fill="#65fcc3"/>
<rect x="593.54" y="355.72" width="6.72" height="6.72" fill="#80ffb4"/>
<rect x="599.86" y="355.72" width="6.72" height="6.72" fill="#8dfead"/>
<rect x="606.18" y="355.72" width="6.72" height="6.72" fill="#8dfead"/>
<rect x="612.5" y="355.72" width="6.72" height="6.72" fill="#80ffb4"/>
<rect x="618.82" y="355.72" width="6.72" height="6.72" fill="#d0e083"/>
<rect x="625.14" y="355.72" width="6.72" height="6.72" fill="#80ffb4"/>
<rect x="631.46" y="355.72" width="6.72" height="6.72" fill="#d0e083"/>
<rect x="637.78" y="355.72" width="6.72" height="6.72" fill="#80ffb4"/>
<rect x="644.1" y="355.72" width="6.72" height="6.72" fill="#80ffb4"/>
<rect x="650.42" y="355.72" width="6.72" height="6.72" fill="#80ffb4"/>
<rect x="656.74" y="355.72" width="6.72" height="6.72" fill="#72febc"/>
<rect x="663.06" y="355.72" width="6.72" height="6.72" fill="#5ffac5"/>
<rect x="669.38" y="355.72" width="6.72" height="6.72" fill="#0cc1e8"/>
<rect x="549.3" y="362.04" width="6.72" height="6.72" fill="#3c66fa"/>
<rect x="555.62" y="362.04" width="6.72" height="6.72" fill="#7215ff"/>
<rect x="561.94" y="362.04" width="6.72" height="6.72" fill="#2784f6"/>
<rect x="568.26" y="362.04" width="6.72" height="6.72" fill="#57f7c9"/>
<rect x="574.58" y="362.04" width="6.72" height="6.72" fill="#80ffb4"/>
<rect x="580.9" y="362.04" width="6.72" height="6.72" fill="#80ffb4"/>
<rect x="587.22" y="362.04" width="6.72" height="6.72" fill="#7affb7"/>
<rect x="593.54" y="362.04" width="6.72" height="6.72" fill="#80ffb4"/>
<rect x="599.86" y="362.04" width="6.72" height="6.72" fill="#a8f79d"/>
<rect x="606.18" y="362.04" width="6.72" height="6.72" fill="#a8f79d"/>
<rect x="612.5" y="362.04" width="6.72" height="6.72" fill="#8dfead"/>
<rect x="618.82" y="362.04" width="6.72" height="6.72" fill="#c3ea8b"/>
<rect x="625.14" y="362.04" width="6.72" height="6.72" fill="#8dfead"/>
<rect x="631.46" y="362.04" width="6.72" height="6.72" fill="#c3ea8b"/>
<rect x="637.78" y="362.04" width="6.72" height="6.72" fill="#8dfead"/>
<rect x="644.1" y="362.04" width="6.72" height="6.72" fill="#a8f79d"/>
<rect x="650.42" y="362.04" width="6.72" height="6.72" fill="#9afca5"/>
<rect x="656.74" y="362.04" width="6.72" height="6.72" fill="#72febc"/>
<rect x="663.06" y="362.04" width="6.72" height="6.72" fill="#65fcc3"/>
<rect x="669.38" y="362.04" width="6.72" height="6.72" fill="#01b6eb"/>
<rect x="549.3" y="368.36" width="6.72" height="6.72" fill="#6afdc0"/>
<rect x="555.62" y="368.36" width="6.72" height="6.72" fill="#6afdc0"/>
<rect x="561.94" y="368.36" width="6.72" height="6.72" fill="#72febc"/>
<rect x="568.26" y="368.36" width="6.72" height="6.72" fill="#57f7c9"/>
<rect x="574.58" y="368.36" width="6.72" height="6.72" fill="#80ffb4"/>
<rect x="580.9" y="368.36" width="6.72" height="6.72" fill="#80ffb4"/>
<rect x="587.22" y="368.36" width="6.72" height="6.72" fill="#80ffb4"/>
<rect x="593.54" y="368.36" width="6.72" height="6.72" fill="#80ffb4"/>
<rect x="599.86" y="368.36" width="6.72" height="6.72" fill="#f8bc66"/>
<rect x="606.18" y="368.36" width="6.72" height="6.72" fill="#f8bc66"/>
<rect x="612.5" y="368.36" width="6.72" height="6.72" fill="#ffad5d"/>
<rect x="618.82" y="368.36" width="6.72" height="6.72" fill="#8dfead"/>
<rect x="625.14" y="368.36" width="6.72" height="6.72" fill="#80ffb4"/>
<rect x="631.46" y="368.36" width="6.72" height="6.72" fill="#8dfead"/>
<rect x="637.78" y="368.36" width="6.72" height="6.72" fill="#8dfead"/>
<rect x="644.1" y="368.36" width="6.72" height="6.72" fill="#d0e083"/>
<rect x="650.42" y="368.36" width="6.72" height="6.72" fill="#a8f79d"/>
<rect x="656.74" y="368.36" width="6.72" height="6.72" fill="#8dfead"/>
<rect x="663.06" y="368.36" width="6.72" height="6.72" fill="#9afca5"/>
<rect x="669.38" y="368.36" width="6.72" height="6.72" fill="#72febc"/>
<rect x="549.3" y="374.68" width="6.72" height="6.72" fill="#65fcc3"/>
<rect x="555.62" y="374.68" width="6.72" height="6.72" fill="#c3ea8b"/>
<rect x="561.94" y="374.68" width="6.72" height="6.72" fill="#c3ea8b"/>
<rect x="568.26" y="374.68" width="6.72" height="6.72" fill="#72febc"/>
<rect x="574.58" y="374.68" width="6.72" height="6.72" fill="#72febc"/>
<rect x="580.9" y="374.68" width="6.72" height="6.72" fill="#72febc"/>
<rect x="587.22" y="374.68" width="6.72" height="6.72" fill="#80ffb4"/>
<rect x="593.54" y="374.68" width="6.72" height="6.72" fill="#9afca5"/>
<rect x="599.86" y="374.68" width="6.72" height="6.72" fill="#ff793f"/>
<rect x="606.18" y="374.68" width="6.72" height="6.72" fill="#ff0000"/>
<rect x="612.5" y="374.68" width="6.72" height="6.72" fill="#ff532a"/>
<rect x="618.82" y="374.68" width="6.72" height="6.72" fill="#a8f79d"/>
<rect x="625.14" y="374.68" width="6.72" height="6.72" fill="#80ffb4"/>
<rect x="631.46" y="374.68" width="6.72" height="6.72" fill="#80ffb4"/>
<rect x="637.78" y="374.68" width="6.72" height="6.72" fill="#d0e083"/>
<rect x="644.1" y="374.68" width="6.72" height="6.72" fill="#ebc970"/>
<rect x="650.42" y="374.68" width="6.72" height="6.72" fill="#a8f79d"/>
<rect x="656.74" y="374.68" width="6.72" height="6.72" fill="#8dfead"/>
<rect x="663.06" y="374.68" width="6.72" height="6.72" fill="#8dfead"/>
<rect x="669.38" y="374.68" width="6.72" height="6.72" fill="#72febc"/>
<rect x="549.3" y="381" width="6.72" height="6.72" fill="#65fcc3"/>
<rect x="555.62" y="381" width="6.72" height="6.72" fill="#b5f194"/>
<rect x="561.94" y="381" width="6.72" height="6.72" fill="#a8f79d"/>
<rect x="568.26" y="381" width="6.72" height="6.72" fill="#8dfead"/>
<rect x="574.58" y="381" width="6.72" height="6.72" fill="#5ffac5"/>
<rect x="580.9" y="381" width="6.72" height="6.72" fill="#72febc"/>
<rect x="587.22" y="381" width="6.72" height="6.72" fill="#80ffb4"/>
<rect x="593.54" y="381" width="6.72" height="6.72" fill="#a8f79d"/>
<rect x="599.86" y="381" width="6.72" height="6.72" fill="#ff532a"/>
<rect x="606.18" y="381" width="6.72" height="6.72" fill="#ff2a15"/>
<rect x="612.5" y="381" width="6.72" height="6.72" fill="#ff3219"/>
<rect x="618.82" y="381" width="6.72" height="6.72" fill="#ebc970"/>
<rect x="625.14" y="381" width="6.72" height="6.72" fill="#72febc"/>
<rect x="631.46" y="381" width="6.72" height="6.72" fill="#8dfead"/>
<rect x="637.78" y="381" width="6.72" height="6.72" fill="#ff8b49"/>
<rect x="644.1" y="381" width="6.72" height="6.72" fill="#ffad5d"/>
<rect x="650.42" y="381" width="6.72" height="6.72" fill="#a8f79d"/>
<rect x="656.74" y="381" width="6.72" height="6.72" fill="#8dfead"/>
<rect x="663.06" y="381" width="6.72" height="6.72" fill="#9afca5"/>
<rect x="669.38" y="381" width="6.72" height="6.72" fill="#72febc"/>
<rect x="549.3" y="387.32" width="6.72" height="6.72" fill="#4af1d0"/>
<rect x="555.62" y="387.32" width="6.72" height="6.72" fill="#a8f79d"/>
<rect x="561.94" y="387.32" width="6.72" height="6.72" fill="#a8f79d"/>
<rect x="568.26" y="387.32" width="6.72" height="6.72" fill="#8dfead"/>
<rect x="574.58" y="387.32" width="6.72" height="6.72" fill="#34e4d9"/>
<rect x="580.9" y="387.32" width="6.72" height="6.72" fill="#34e4d9"/>
<rect x="587.22" y="387.32" width="6.72" height="6.72" fill="#72febc"/>
<rect x="593.54" y="387.32" width="6.72" height="6.72" fill="#9afca5"/>
<rect x="599.86" y="387.32" width="6.72" height="6.72" fill="#72febc"/>
<rect x="606.18" y="387.32" width="6.72" height="6.72" fill="#f8bc66"/>
<rect x="612.5" y="387.32" width="6.72" height="6.72" fill="#ff532a"/>
<rect x="618.82" y="387.32" width="6.72" height="6.72" fill="#ffa357"/>
<rect x="625.14" y="387.32" width="6.72" height="6.72" fill="#72febc"/>
<rect x="631.46" y="387.32" width="6.72" height="6.72" fill="#7affb7"/>
<rect x="637.78" y="387.32" width="6.72" height="6.72" fill="#ebc970"/>
<rect x="644.1" y="387.32" width="6.72" height="6.72" fill="#ffad5d"/>
<rect x="650.42" y="387.32" width="6.72" height="6.72" fill="#a8f79d"/>
<rect x="656.74" y="387.32" width="6.72" height="6.72" fill="#65fcc3"/>
<rect x="663.06" y="387.32" width="6.72" height="6.72" fill="#80ffb4"/>
<rect x="669.38" y="387.32" width="6.72" height="6.72" fill="#57f7c9"/>
<rect x="549.3" y="393.64" width="6.72" height="6.72" fill="#65fcc3"/>
<rect x="555.62" y="393.64" width="6.72" height="6.72" fill="#d0e083"/>
<rect x="561.94" y="393.64" width="6.72" height="6.72" fill="#72febc"/>
<rect x="568.26" y="393.64" width="6.72" height="6.72" fill="#72febc"/>
<rect x="574.58" y="393.64" width="6.72" height="6.72" fill="#07bcea"/>
<rect x="580.9" y="393.64" width="6.72" height="6.72" fill="#5247fc"/>
<rect x="587.22" y="393.64" width="6.72" height="6.72" fill="#72febc"/>
<rect x="593.54" y="393.64" width="6.72" height="6.72" fill="#57f7c9"/>
<rect x="599.86" y="393.64" width="6.72" height="6.72" fill="#07adee"/>
<rect x="606.18" y="393.64" width="6.72" height="6.72" fill="#573ffd"/>
<rect x="612.5" y="393.64" width="6.72" height="6.72" fill="#ff9d53"/>
<rect x="618.82" y="393.64" width="6.72" height="6.72" fill="#ddd579"/>
<rect x="625.14" y="393.64" width="6.72" height="6.72" fill="#57f7c9"/>
<rect x="631.46" y="393.64" width="6.72" height="6.72" fill="#7affb7"/>
<rect x="637.78" y="393.64" width="6.72" height="6.72" fill="#d0e083"/>
<rect x="644.1" y="393.64" width="6.72" height="6.72" fill="#ebc970"/>
<rect x="650.42" y="393.64" width="6.72" height="6.72" fill="#a8f79d"/>
<rect x="656.74" y="393.64" width="6.72" height="6.72" fill="#65fcc3"/>
<rect x="663.06" y="393.64" width="6.72" height="6.72" fill="#80ffb4"/>
<rect x="669.38" y="393.64" width="6.72" height="6.72" fill="#14c9e5"/>
<rect x="549.3" y="399.96" width="6.72" height="6.72" fill="#4af1d0"/>
<rect x="555.62" y="399.96" width="6.72" height="6.72" fill="#ebc970"/>
<rect x="561.94" y="399.96" width="6.72" height="6.72" fill="#80ffb4"/>
<rect x="568.26" y="399.96" width="6.72" height="6.72" fill="#57f7c9"/>
<rect x="574.58" y="399.96" width="6.72" height="6.72" fill="#0ca6ef"/>
<rect x="580.9" y="399.96" width="6.72" height="6.72" fill="#3c66fa"/>
<rect x="587.22" y="399.96" width="6.72" height="6.72" fill="#9afca5"/>
<rect x="593.54" y="399.96" width="6.72" height="6.72" fill="#57f7c9"/>
<rect x="599.86" y="399.96" width="6.72" height="6.72" fill="#b5f194"/>
<rect x="606.18" y="399.96" width="6.72" height="6.72" fill="#7215ff"/>
<rect x="612.5" y="399.96" width="6.72" height="6.72" fill="#22d5e0"/>
<rect x="618.82" y="399.96" width="6.72" height="6.72" fill="#ddd579"/>
<rect x="625.14" y="399.96" width="6.72" height="6.72" fill="#57f7c9"/>
<rect x="631.46" y="399.96" width="6.72" height="6.72" fill="#7affb7"/>
<rect x="637.78" y="399.96" width="6.72" height="6.72" fill="#c3ea8b"/>
<rect x="644.1" y="399.96" width="6.72" height="6.72" fill="#ebc970"/>
<rect x="650.42" y="399.96" width="6.72" height="6.72" fill="#a8f79d"/>
<rect x="656.74" y="399.96" width="6.72" height="6.72" fill="#72febc"/>
<rect x="663.06" y="399.96" width="6.72" height="6.72" fill="#80ffb4"/>
<rect x="669.38" y="399.96" width="6.72" height="6.72" fill="#22d5e0"/>
<rect x="549.3" y="406.28" width="6.72" height="6.72" fill="#7215ff"/>
<rect x="555.62" y="406.28" width="6.72" height="6.72" fill="#ffa357"/>
<rect x="561.94" y="406.28" width="6.72" height="6.72" fill="#8dfead"/>
<rect x="568.26" y="406.28" width="6.72" height="6.72" fill="#57f7c9"/>
<rect x="574.58" y="406.28" width="6.72" height="6.72" fill="#0fa3f0"/>
<rect x="580.9" y="406.28" width="6.72" height="6.72" fill="#57f7c9"/>
<rect x="587.22" y="406.28" width="6.72" height="6.72" fill="#ebc970"/>
<rect x="593.54" y="406.28" width="6.72" height="6.72" fill="#72febc"/>
<rect x="599.86" y="406.28" width="6.72" height="6.72" fill="#c3ea8b"/>
<rect x="606.18" y="406.28" width="6.72" height="6.72" fill="#72febc"/>
<rect x="612.5" y="406.28" width="6.72" height="6.72" fill="#80ffb4"/>
<rect x="618.82" y="406.28" width="6.72" height="6.72" fill="#ffb361"/>
<rect x="625.14" y="406.28" width="6.72" height="6.72" fill="#72febc"/>
<rect x="631.46" y="406.28" width="6.72" height="6.72" fill="#7affb7"/>
<rect x="637.78" y="406.28" width="6.72" height="6.72" fill="#c3ea8b"/>
<rect x="644.1" y="406.28" width="6.72" height="6.72" fill="#f8bc66"/>
<rect x="650.42" y="406.28" width="6.72" height="6.72" fill="#a8f79d"/>
<rect x="656.74" y="406.28" width="6.72" height="6.72" fill="#72febc"/>
<rect x="663.06" y="406.28" width="6.72" height="6.72" fill="#72febc"/>
<rect x="669.38" y="406.28" width="6.72" height="6.72" fill="#4af1d0"/>
<rect x="549.3" y="412.6" width="6.72" height="6.72" fill="#07bcea"/>
<rect x="555.62" y="412.6" width="6.72" height="6.72" fill="#ffad5d"/>
<rect x="561.94" y="412.6" width="6.72" height="6.72" fill="#b5f194"/>
<rect x="568.26" y="412.6" width="6.72" height="6.72" fill="#72febc"/>
<rect x="574.58" y="412.6" width="6.72" height="6.72" fill="#1a96f3"/>
<rect x="580.9" y="412.6" width="6.72" height="6.72" fill="#72febc"/>
<rect x="587.22" y="412.6" width="6.72" height="6.72" fill="#ff964f"/>
<rect x="593.54" y="412.6" width="6.72" height="6.72" fill="#3cead5"/>
<rect x="599.86" y="412.6" width="6.72" height="6.72" fill="#b5f194"/>
<rect x="606.18" y="412.6" width="6.72" height="6.72" fill="#72febc"/>
<rect x="612.5" y="412.6" width="6.72" height="6.72" fill="#80ffb4"/>
<rect x="618.82" y="412.6" width="6.72" height="6.72" fill="#f3c16a"/>
<rect x="625.14" y="412.6" width="6.72" height="6.72" fill="#80ffb4"/>
<rect x="631.46" y="412.6" width="6.72" height="6.72" fill="#72febc"/>
<rect x="637.78" y="412.6" width="6.72" height="6.72" fill="#80ffb4"/>
<rect x="644.1" y="412.6" width="6.72" height="6.72" fill="#ddd579"/>
<rect x="650.42" y="412.6" width="6.72" height="6.72" fill="#8dfead"/>
<rect x="656.74" y="412.6" width="6.72" height="6.72" fill="#8dfead"/>
<rect x="663.06" y="412.6" width="6.72" height="6.72" fill="#65fcc3"/>
<rect x="669.38" y="412.6" width="6.72" height="6.72" fill="#4af1d0"/>
<rect x="549.3" y="418.92" width="6.72" height="6.72" fill="#65fcc3"/>
<rect x="555.62" y="418.92" width="6.72" height="6.72" fill="#ddd579"/>
<rect x="561.94" y="418.92" width="6.72" height="6.72" fill="#ffb361"/>
<rect x="568.26" y="418.92" width="6.72" height="6.72" fill="#72febc"/>
<rect x="574.58" y="418.92" width="6.72" height="6.72" fill="#1a96f3"/>
<rect x="580.9" y="418.92" width="6.72" height="6.72" fill="#72febc"/>
<rect x="587.22" y="418.92" width="6.72" height="6.72" fill="#ddd579"/>
<rect x="593.54" y="418.92" width="6.72" height="6.72" fill="#01b6eb"/>
<rect x="599.86" y="418.92" width="6.72" height="6.72" fill="#01b6eb"/>
<rect x="606.18" y="418.92" width="6.72" height="6.72" fill="#27dade"/>
<rect x="612.5" y="418.92" width="6.72" height="6.72" fill="#2784f6"/>
<rect x="618.82" y="418.92" width="6.72" height="6.72" fill="#ebc970"/>
<rect x="625.14" y="418.92" width="6.72" height="6.72" fill="#80ffb4"/>
<rect x="631.46" y="418.92" width="6.72" height="6.72" fill="#72febc"/>
<rect x="637.78" y="418.92" width="6.72" height="6.72" fill="#8dfead"/>
<rect x="644.1" y="418.92" width="6.72" height="6.72" fill="#8dfead"/>
<rect x="650.42" y="418.92" width="6.72" height="6.72" fill="#8dfead"/>
<rect x="656.74" y="418.92" width="6.72" height="6.72" fill="#8dfead"/>
<rect x="663.06" y="418.92" width="6.72" height="6.72" fill="#65fcc3"/>
<rect x="669.38" y="418.92" width="6.72" height="6.72" fill="#65fcc3"/>
<rect x="549.3" y="425.24" width="6.72" height="6.72" fill="#72febc"/>
<rect x="555.62" y="425.24" width="6.72" height="6.72" fill="#c3ea8b"/>
<rect x="561.94" y="425.24" width="6.72" height="6.72" fill="#d0e083"/>
<rect x="568.26" y="425.24" width="6.72" height="6.72" fill="#80ffb4"/>
<rect x="574.58" y="425.24" width="6.72" height="6.72" fill="#07adee"/>
<rect x="580.9" y="425.24" width="6.72" height="6.72" fill="#80ffb4"/>
<rect x="587.22" y="425.24" width="6.72" height="6.72" fill="#d0e083"/>
<rect x="593.54" y="425.24" width="6.72" height="6.72" fill="#65fcc3"/>
<rect x="599.86" y="425.24" width="6.72" height="6.72" fill="#425ffa"/>
<rect x="606.18" y="425.24" width="6.72" height="6.72" fill="#1a96f3"/>
<rect x="612.5" y="425.24" width="6.72" height="6.72" fill="#a8f79d"/>
<rect x="618.82" y="425.24" width="6.72" height="6.72" fill="#9afca5"/>
<rect x="625.14" y="425.24" width="6.72" height="6.72" fill="#65fcc3"/>
<rect x="631.46" y="425.24" width="6.72" height="6.72" fill="#72febc"/>
<rect x="637.78" y="425.24" width="6.72" height="6.72" fill="#c3ea8b"/>
<rect x="644.1" y="425.24" width="6.72" height="6.72" fill="#ff9d53"/>
<rect x="650.42" y="425.24" width="6.72" height="6.72" fill="#80ffb4"/>
<rect x="656.74" y="425.24" width="6.72" height="6.72" fill="#8dfead"/>
<rect x="663.06" y="425.24" width="6.72" height="6.72" fill="#80ffb4"/>
<rect x="669.38" y="425.24" width="6.72" height="6.72" fill="#72febc"/>
<rect x="549.3" y="431.56" width="6.72" height="6.72" fill="#b5f194"/>
<rect x="555.62" y="431.56" width="6.72" height="6.72" fill="#d0e083"/>
<rect x="561.94" y="431.56" width="6.72" height="6.72" fill="#ddd579"/>
<rect x="568.26" y="431.56" width="6.72" height="6.72" fill="#72febc"/>
<rect x="574.58" y="431.56" width="6.72" height="6.72" fill="#0ca6ef"/>
<rect x="580.9" y="431.56" width="6.72" height="6.72" fill="#72febc"/>
<rect x="587.22" y="431.56" width="6.72" height="6.72" fill="#c3ea8b"/>
<rect x="593.54" y="431.56" width="6.72" height="6.72" fill="#ebc970"/>
<rect x="599.86" y="431.56" width="6.72" height="6.72" fill="#8dfead"/>
<rect x="606.18" y="431.56" width="6.72" height="6.72" fill="#ebc970"/>
<rect x="612.5" y="431.56" width="6.72" height="6.72" fill="#ff6634"/>
<rect x="618.82" y="431.56" width="6.72" height="6.72" fill="#8dfead"/>
<rect x="625.14" y="431.56" width="6.72" height="6.72" fill="#72febc"/>
<rect x="631.46" y="431.56" width="6.72" height="6.72" fill="#80ffb4"/>
<rect x="637.78" y="431.56" width="6.72" height="6.72" fill="#c3ea8b"/>
<rect x="644.1" y="431.56" width="6.72" height="6.72" fill="#ffb361"/>
<rect x="650.42" y="431.56" width="6.72" height="6.72" fill="#a8f79d"/>
<rect x="656.74" y="431.56" width="6.72" height="6.72" fill="#9afca5"/>
<rect x="663.06" y="431.56" width="6.72" height="6.72" fill="#8dfead"/>
<rect x="669.38" y="431.56" width="6.72" height="6.72" fill="#4af1d0"/>
<rect x="549.3" y="437.88" width="6.72" height="6.72" fill="#72febc"/>
<rect x="555.62" y="437.88" width="6.72" height="6.72" fill="#c3ea8b"/>
<rect x="561.94" y="437.88" width="6.72" height="6.72" fill="#c3ea8b"/>
<rect x="568.26" y="437.88" width="6.72" height="6.72" fill="#07adee"/>
<rect x="574.58" y="437.88" width="6.72" height="6.72" fill="#652afe"/>
<rect x="580.9" y="437.88" width="6.72" height="6.72" fill="#57f7c9"/>
<rect x="587.22" y="437.88" width="6.72" height="6.72" fill="#c3ea8b"/>
<rect x="593.54" y="437.88" width="6.72" height="6.72" fill="#d0e083"/>
<rect x="599.86" y="437.88" width="6.72" height="6.72" fill="#ebc970"/>
<rect x="606.18" y="437.88" width="6.72" height="6.72" fill="#ff793f"/>
<rect x="612.5" y="437.88" width="6.72" height="6.72" fill="#ffb361"/>
<rect x="618.82" y="437.88" width="6.72" height="6.72" fill="#8dfead"/>
<rect x="625.14" y="437.88" width="6.72" height="6.72" fill="#72febc"/>
<rect x="631.46" y="437.88" width="6.72" height="6.72" fill="#80ffb4"/>
<rect x="637.78" y="437.88" width="6.72" height="6.72" fill="#c3ea8b"/>
<rect x="644.1" y="437.88" width="6.72" height="6.72" fill="#f8bc66"/>
<rect x="650.42" y="437.88" width="6.72" height="6.72" fill="#9afca5"/>
<rect x="656.74" y="437.88" width="6.72" height="6.72" fill="#80ffb4"/>
<rect x="663.06" y="437.88" width="6.72" height="6.72" fill="#72febc"/>
<rect x="669.38" y="437.88" width="6.72" height="6.72" fill="#4af1d0"/>
<rect x="549.3" y="444.2" width="6.72" height="6.72" fill="#72febc"/>
<rect x="555.62" y="444.2" width="6.72" height="6.72" fill="#c3ea8b"/>
<rect x="561.94" y="444.2" width="6.72" height="6.72" fill="#d0e083"/>
<rect x="568.26" y="444.2" width="6.72" height="6.72" fill="#425ffa"/>
<rect x="574.58" y="444.2" width="6.72" height="6.72" fill="#01b6eb"/>
<rect x="580.9" y="444.2" width="6.72" height="6.72" fill="#57f7c9"/>
<rect x="587.22" y="444.2" width="6.72" height="6.72" fill="#d0e083"/>
<rect x="593.54" y="444.2" width="6.72" height="6.72" fill="#ddd579"/>
<rect x="599.86" y="444.2" width="6.72" height="6.72" fill="#ddd579"/>
<rect x="606.18" y="444.2" width="6.72" height="6.72" fill="#f8bc66"/>
<rect x="612.5" y="444.2" width="6.72" height="6.72" fill="#ffb361"/>
<rect x="618.82" y="444.2" width="6.72" height="6.72" fill="#9afca5"/>
<rect x="625.14" y="444.2" width="6.72" height="6.72" fill="#8dfead"/>
<rect x="631.46" y="444.2" width="6.72" height="6.72" fill="#80ffb4"/>
<rect x="637.78" y="444.2" width="6.72" height="6.72" fill="#9afca5"/>
<rect x="644.1" y="444.2" width="6.72" height="6.72" fill="#9afca5"/>
<rect x="650.42" y="444.2" width="6.72" height="6.72" fill="#8dfead"/>
<rect x="656.74" y="444.2" width="6.72" height="6.72" fill="#8dfead"/>
<rect x="663.06" y="444.2" width="6.72" height="6.72" fill="#8dfead"/>
<rect x="669.38" y="444.2" width="6.72" height="6.72" fill="#65fcc3"/>
<rect x="549.3" y="450.52" width="6.72" height="6.72" fill="#57f7c9"/>
<rect x="555.62" y="450.52" width="6.72" height="6.72" fill="#72febc"/>
<rect x="561.94" y="450.52" width="6.72" height="6.72" fill="#72febc"/>
<rect x="568.26" y="450.52" width="6.72" height="6.72" fill="#37e6d8"/>
<rect x="574.58" y="450.52" width="6.72" height="6.72" fill="#37e6d8"/>
<rect x="580.9" y="450.52" width="6.72" height="6.72" fill="#72febc"/>
<rect x="587.22" y="450.52" width="6.72" height="6.72" fill="#a8f79d"/>
<rect x="593.54" y="450.52" width="6.72" height="6.72" fill="#f8bc66"/>
<rect x="599.86" y="450.52" width="6.72" height="6.72" fill="#ff9d53"/>
<rect x="606.18" y="450.52" width="6.72" height="6.72" fill="#ebc970"/>
<rect x="612.5" y="450.52" width="6.72" height="6.72" fill="#ffa357"/>
<rect x="618.82" y="450.52" width="6.72" height="6.72" fill="#c3ea8b"/>
<rect x="625.14" y="450.52" width="6.72" height="6.72" fill="#9afca5"/>
<rect x="631.46" y="450.52" width="6.72" height="6.72" fill="#9afca5"/>
<rect x="637.78" y="450.52" width="6.72" height="6.72" fill="#a8f79d"/>
<rect x="644.1" y="450.52" width="6.72" height="6.72" fill="#65fcc3"/>
<rect x="650.42" y="450.52" width="6.72" height="6.72" fill="#57f7c9"/>
<rect x="656.74" y="450.52" width="6.72" height="6.72" fill="#57f7c9"/>
<rect x="663.06" y="450.52" width="6.72" height="6.72" fill="#9afca5"/>
<rect x="669.38" y="450.52" width="6.72" height="6.72" fill="#80ffb4"/>
<rect x="549.3" y="456.84" width="6.72" height="6.72" fill="#65fcc3"/>
<rect x="555.62" y="456.84" width="6.72" height="6.72" fill="#4af1d0"/>
<rect x="561.94" y="456.84" width="6.72" height="6.72" fill="#65fcc3"/>
<rect x="568.26" y="456.84" width="6.72" height="6.72" fill="#65fcc3"/>
<rect x="574.58" y="456.84" width="6.72" height="6.72" fill="#4af1d0"/>
<rect x="580.9" y="456.84" width="6.72" height="6.72" fill="#57f7c9"/>
<rect x="587.22" y="456.84" width="6.72" height="6.72" fill="#8dfead"/>
<rect x="593.54" y="456.84" width="6.72" height="6.72" fill="#a8f79d"/>
<rect x="599.86" y="456.84" width="6.72" height="6.72" fill="#d0e083"/>
<rect x="606.18" y="456.84" width="6.72" height="6.72" fill="#ddd579"/>
<rect x="612.5" y="456.84" width="6.72" height="6.72" fill="#d0e083"/>
<rect x="618.82" y="456.84" width="6.72" height="6.72" fill="#8dfead"/>
<rect x="625.14" y="456.84" width="6.72" height="6.72" fill="#9afca5"/>
<rect x="631.46" y="456.84" width="6.72" height="6.72" fill="#a8f79d"/>
<rect x="637.78" y="456.84" width="6.72" height="6.72" fill="#9afca5"/>
<rect x="644.1" y="456.84" width="6.72" height="6.72" fill="#5ffac5"/>
<rect x="650.42" y="456.84" width="6.72" height="6.72" fill="#57f7c9"/>
<rect x="656.74" y="456.84" width="6.72" height="6.72" fill="#57f7c9"/>
<rect x="663.06" y="456.84" width="6.72" height="6.72" fill="#8dfead"/>
<rect x="669.38" y="456.84" width="6.72" height="6.72" fill="#8dfead"/>
<rect x="549.3" y="463.16" width="6.72" height="6.72" fill="#72febc"/>
<rect x="555.62" y="463.16" width="6.72" height="6.72" fill="#65fcc3"/>
<rect x="561.94" y="463.16" width="6.72" height="6.72" fill="#72febc"/>
<rect x="568.26" y="463.16" width="6.72" height="6.72" fill="#65fcc3"/>
<rect x="574.58" y="463.16" width="6.72" height="6.72" fill="#4af1d0"/>
<rect x="580.9" y="463.16" width="6.72" height="6.72" fill="#4af1d0"/>
<rect x="587.22" y="463.16" width="6.72" height="6.72" fill="#72febc"/>
<rect x="593.54" y="463.16" width="6.72" height="6.72" fill="#8dfead"/>
<rect x="599.86" y="463.16" width="6.72" height="6.72" fill="#a8f79d"/>
<rect x="606.18" y="463.16" width="6.72" height="6.72" fill="#8dfead"/>
<rect x="612.5" y="463.16" width="6.72" height="6.72" fill="#a8f79d"/>
<rect x="618.82" y="463.16" width="6.72" height="6.72" fill="#8dfead"/>
<rect x="625.14" y="463.16" width="6.72" height="6.72" fill="#9afca5"/>
<rect x="631.46" y="463.16" width="6.72" height="6.72" fill="#72febc"/>
<rect x="637.78" y="463.16" width="6.72" height="6.72" fill="#c3ea8b"/>
<rect x="644.1" y="463.16" width="6.72" height="6.72" fill="#72febc"/>
<rect x="650.42" y="463.16" width="6.72" height="6.72" fill="#80ffb4"/>
<rect x="656.74" y="463.16" width="6.72" height="6.72" fill="#72febc"/>
<rect x="663.06" y="463.16" width="6.72" height="6.72" fill="#8dfead"/>
<rect x="669.38" y="463.16" width="6.72" height="6.72" fill="#65fcc3"/>
<rect x="549.3" y="469.48" width="6.72" height="6.72" fill="#72febc"/>
<rect x="555.62" y="469.48" width="6.72" height="6.72" fill="#80ffb4"/>
<rect x="561.94" y="469.48" width="6.72" height="6.72" fill="#72febc"/>
<rect x="568.26" y="469.48" width="6.72" height="6.72" fill="#72febc"/>
<rect x="574.58" y="469.48" width="6.72" height="6.72" fill="#72febc"/>
<rect x="580.9" y="469.48" width="6.72" height="6.72" fill="#72febc"/>
<rect x="587.22" y="469.48" width="6.72" height="6.72" fill="#80ffb4"/>
<rect x="593.54" y="469.48" width="6.72" height="6.72" fill="#80ffb4"/>
<rect x="599.86" y="469.48" width="6.72" height="6.72" fill="#b5f194"/>
<rect x="606.18" y="469.48" width="6.72" height="6.72" fill="#8dfead"/>
<rect x="612.5" y="469.48" width="6.72" height="6.72" fill="#9afca5"/>
<rect x="618.82" y="469.48" width="6.72" height="6.72" fill="#c3ea8b"/>
<rect x="625.14" y="469.48" width="6.72" height="6.72" fill="#9afca5"/>
<rect x="631.46" y="469.48" width="6.72" height="6.72" fill="#80ffb4"/>
<rect x="637.78" y="469.48" width="6.72" height="6.72" fill="#9afca5"/>
<rect x="644.1" y="469.48" width="6.72" height="6.72" fill="#9afca5"/>
<rect x="650.42" y="469.48" width="6.72" height="6.72" fill="#80ffb4"/>
<rect x="656.74" y="469.48" width="6.72" height="6.72" fill="#80ffb4"/>
<rect x="663.06" y="469.48" width="6.72" height="6.72" fill="#8dfead"/>
<rect x="669.38" y="469.48" width="6.72" height="6.72" fill="#72febc"/>
</g>
<rect x="549.3" y="349.4" width="126.4" height="126.4" fill="none" stroke="#333" stroke-width="0.8"/>
<g stroke="#333" stroke-width="0.8">
<line x1="545.8" y1="349.4" x2="549.3" y2="349.4"/>
<line x1="549.3" y1="475.8" x2="549.3" y2="479.3"/>
<line x1="545.8" y1="381" x2="549.3" y2="381"/>
<line x1="580.9" y1="475.8" x2="580.9" y2="479.3"/>
<line x1="545.8" y1="412.6" x2="549.3" y2="412.6"/>
<line x1="612.5" y1="475.8" x2="612.5" y2="479.3"/>
<line x1="545.8" y1="444.2" x2="549.3" y2="444.2"/>
<line x1="644.1" y1="475.8" x2="644.1" y2="479.3"/>
<line x1="545.8" y1="475.8" x2="549.3" y2="475.8"/>
<line x1="675.7" y1="475.8" x2="675.7" y2="479.3"/>
</g>
<g font-family="Liberation Sans" font-size="11.8" fill="#222" text-anchor="end">
<text x="544.3" y="353.4">0</text>
<text x="544.3" y="385">90</text>
<text x="544.3" y="416.6">180</text>
<text x="544.3" y="448.2">270</text>
<text x="544.3" y="479.8">360</text>
</g>
<g font-family="Liberation Sans" font-size="11.8" fill="#222" text-anchor="middle">
<text x="549.3" y="488.7">0</text>
<text x="580.9" y="488.7">45</text>
<text x="612.5" y="488.7">90</text>
<text x="644.1" y="488.7">135</text>
<text x="675.7" y="488.7">180</text>
</g>
<text x="584.6" y="342.5" font-family="Liberation Sans" font-size="12.6" fill="#111" stroke="#111" stroke-width="0.3" textLength="35.0" lengthAdjust="spacingAndGlyphs"><tspan font-style="italic">E</tspan>(G,A)</text>
<text x="589.3" y="511.2" font-family="Liberation Sans" font-size="12.5" fill="#111">θ(°)</text>
<text x="3.3" y="400.6" font-family="Liberation Sans" font-size="12.5" fill="#111">φ(°)</text>
<rect x="212.2" y="348.6" width="130.7" height="127" fill="none" stroke="#0d1a5c" stroke-width="1.8" stroke-dasharray="1.8 1.5"/>
<rect x="546.4" y="349.7" width="131" height="126.9" fill="none" stroke="#ff1010" stroke-width="2" stroke-dasharray="0.1 3.3" stroke-linecap="round"/>
<g font-family="Liberation Sans" font-weight="bold" font-size="18.5" fill="#000">
<text x="0.5" y="14.2">a.</text>
<text x="334.5" y="13.8">b.</text>
<text x="2.8" y="328.8" textLength="12.6" lengthAdjust="spacingAndGlyphs">c.</text>
</g>
</svg>
</body></html>
